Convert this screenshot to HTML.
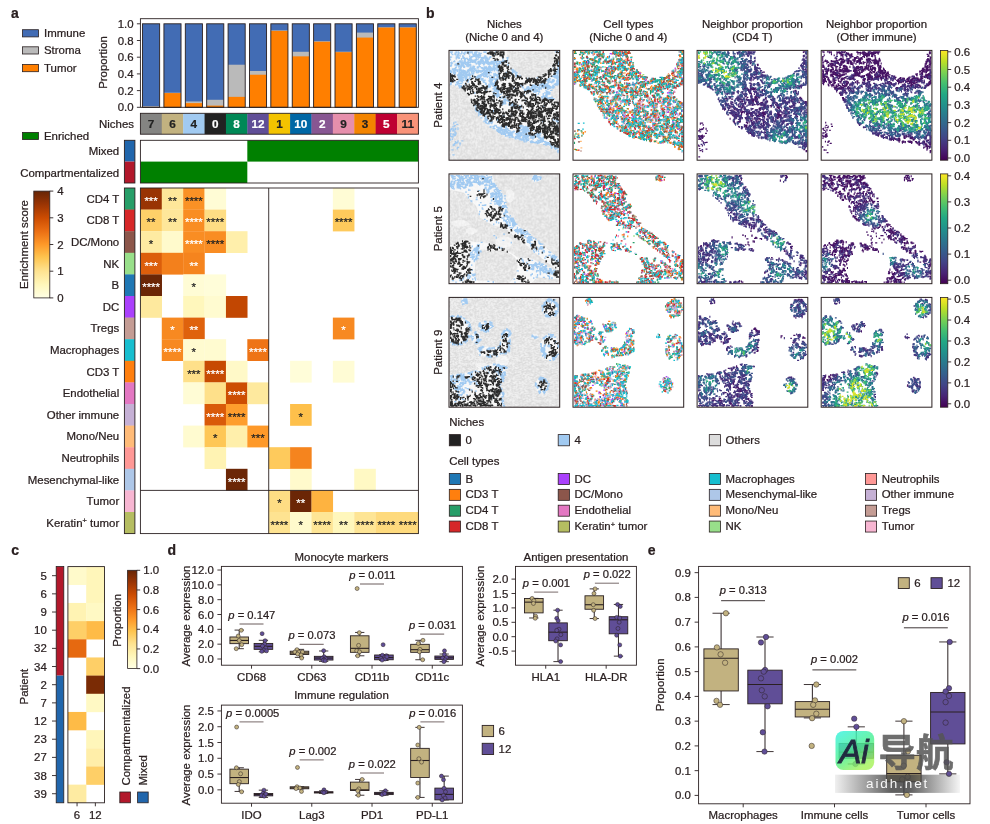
<!DOCTYPE html>
<html lang="en"><head><meta charset="utf-8"><title>Figure</title>
<style>html,body{margin:0;padding:0;background:#fff}svg{display:block}svg{font-family:"Liberation Sans",sans-serif;font-size:10.9px;fill:#2a2021}text{stroke:#2a2021;stroke-width:.22px}</style>
</head><body>
<svg width="990" height="824" viewBox="0 0 990 824">
<rect width="990" height="824" fill="#fff"/>
<g id="pa">
<text transform="translate(11,17.8)" font-size="14" font-weight="bold">a</text>
<rect x="22.5" y="29.7" width="16" height="7.2" fill="#426cb4" stroke="#2a2021" stroke-width="0.8"/>
<text transform="translate(44,37.1) scale(1.05,1)">Immune</text>
<rect x="22.5" y="46.8" width="16" height="7.2" fill="#bababa" stroke="#2a2021" stroke-width="0.8"/>
<text transform="translate(44,54.2) scale(1.05,1)">Stroma</text>
<rect x="22.5" y="64.5" width="16" height="7.2" fill="#ff7f00" stroke="#2a2021" stroke-width="0.8"/>
<text transform="translate(44,71.9) scale(1.05,1)">Tumor</text>
<rect x="22.5" y="132.4" width="16" height="7.2" fill="#008000" stroke="#2a2021" stroke-width="0.8"/>
<text transform="translate(44,139.8) scale(1.05,1)">Enriched</text>
<rect x="142.54" y="23.8" width="17.11" height="83.5" fill="#426cb4"/>
<rect x="142.54" y="106.05" width="17.11" height="1.25" fill="#bababa"/>
<rect x="142.54" y="23.8" width="17.11" height="83.5" fill="none" stroke="#2a2021" stroke-width="0.9"/>
<rect x="163.92" y="23.8" width="17.11" height="83.5" fill="#426cb4"/>
<rect x="163.92" y="92.69" width="17.11" height="14.61" fill="#bababa"/>
<rect x="163.92" y="93.1" width="17.11" height="14.2" fill="#ff7f00"/>
<rect x="163.92" y="23.8" width="17.11" height="83.5" fill="none" stroke="#2a2021" stroke-width="0.9"/>
<rect x="185.31" y="23.8" width="17.11" height="83.5" fill="#426cb4"/>
<rect x="185.31" y="101.45" width="17.11" height="5.84" fill="#bababa"/>
<rect x="185.31" y="103.12" width="17.11" height="4.17" fill="#ff7f00"/>
<rect x="185.31" y="23.8" width="17.11" height="83.5" fill="none" stroke="#2a2021" stroke-width="0.9"/>
<rect x="206.69" y="23.8" width="17.11" height="83.5" fill="#426cb4"/>
<rect x="206.69" y="99.78" width="17.11" height="7.52" fill="#bababa"/>
<rect x="206.69" y="105.63" width="17.11" height="1.67" fill="#ff7f00"/>
<rect x="206.69" y="23.8" width="17.11" height="83.5" fill="none" stroke="#2a2021" stroke-width="0.9"/>
<rect x="228.08" y="23.8" width="17.11" height="83.5" fill="#426cb4"/>
<rect x="228.08" y="64.72" width="17.11" height="42.58" fill="#bababa"/>
<rect x="228.08" y="96.86" width="17.11" height="10.44" fill="#ff7f00"/>
<rect x="228.08" y="23.8" width="17.11" height="83.5" fill="none" stroke="#2a2021" stroke-width="0.9"/>
<rect x="249.46" y="23.8" width="17.11" height="83.5" fill="#426cb4"/>
<rect x="249.46" y="70.98" width="17.11" height="36.32" fill="#bababa"/>
<rect x="249.46" y="74.73" width="17.11" height="32.56" fill="#ff7f00"/>
<rect x="249.46" y="23.8" width="17.11" height="83.5" fill="none" stroke="#2a2021" stroke-width="0.9"/>
<rect x="270.85" y="23.8" width="17.11" height="83.5" fill="#426cb4"/>
<rect x="270.85" y="30.4" width="17.11" height="76.9" fill="#bababa"/>
<rect x="270.85" y="30.9" width="17.11" height="76.4" fill="#ff7f00"/>
<rect x="270.85" y="23.8" width="17.11" height="83.5" fill="none" stroke="#2a2021" stroke-width="0.9"/>
<rect x="292.23" y="23.8" width="17.11" height="83.5" fill="#426cb4"/>
<rect x="292.23" y="51.77" width="17.11" height="55.53" fill="#bababa"/>
<rect x="292.23" y="56.36" width="17.11" height="50.94" fill="#ff7f00"/>
<rect x="292.23" y="23.8" width="17.11" height="83.5" fill="none" stroke="#2a2021" stroke-width="0.9"/>
<rect x="313.62" y="23.8" width="17.11" height="83.5" fill="#426cb4"/>
<rect x="313.62" y="41.25" width="17.11" height="66.05" fill="#bababa"/>
<rect x="313.62" y="41.75" width="17.11" height="65.55" fill="#ff7f00"/>
<rect x="313.62" y="23.8" width="17.11" height="83.5" fill="none" stroke="#2a2021" stroke-width="0.9"/>
<rect x="335" y="23.8" width="17.11" height="83.5" fill="#426cb4"/>
<rect x="335" y="51.69" width="17.11" height="55.61" fill="#bababa"/>
<rect x="335" y="52.19" width="17.11" height="55.11" fill="#ff7f00"/>
<rect x="335" y="23.8" width="17.11" height="83.5" fill="none" stroke="#2a2021" stroke-width="0.9"/>
<rect x="356.38" y="23.8" width="17.11" height="83.5" fill="#426cb4"/>
<rect x="356.38" y="32.57" width="17.11" height="74.73" fill="#bababa"/>
<rect x="356.38" y="37.58" width="17.11" height="69.72" fill="#ff7f00"/>
<rect x="356.38" y="23.8" width="17.11" height="83.5" fill="none" stroke="#2a2021" stroke-width="0.9"/>
<rect x="377.77" y="23.8" width="17.11" height="83.5" fill="#426cb4"/>
<rect x="377.77" y="27.31" width="17.11" height="79.99" fill="#bababa"/>
<rect x="377.77" y="27.56" width="17.11" height="79.74" fill="#ff7f00"/>
<rect x="377.77" y="23.8" width="17.11" height="83.5" fill="none" stroke="#2a2021" stroke-width="0.9"/>
<rect x="399.15" y="23.8" width="17.11" height="83.5" fill="#426cb4"/>
<rect x="399.15" y="27.31" width="17.11" height="79.99" fill="#bababa"/>
<rect x="399.15" y="27.56" width="17.11" height="79.74" fill="#ff7f00"/>
<rect x="399.15" y="23.8" width="17.11" height="83.5" fill="none" stroke="#2a2021" stroke-width="0.9"/>
<rect x="140.4" y="18.7" width="278" height="88.6" fill="none" stroke="#2a2021" stroke-width="0.9"/>
<line x1="136.9" y1="107.3" x2="140.4" y2="107.3" stroke="#2a2021" stroke-width="0.9"/>
<text transform="translate(133.6,111.3) scale(1.05,1)" text-anchor="end">0.0</text>
<line x1="136.9" y1="90.6" x2="140.4" y2="90.6" stroke="#2a2021" stroke-width="0.9"/>
<text transform="translate(133.6,94.6) scale(1.05,1)" text-anchor="end">0.2</text>
<line x1="136.9" y1="73.9" x2="140.4" y2="73.9" stroke="#2a2021" stroke-width="0.9"/>
<text transform="translate(133.6,77.9) scale(1.05,1)" text-anchor="end">0.4</text>
<line x1="136.9" y1="57.2" x2="140.4" y2="57.2" stroke="#2a2021" stroke-width="0.9"/>
<text transform="translate(133.6,61.2) scale(1.05,1)" text-anchor="end">0.6</text>
<line x1="136.9" y1="40.5" x2="140.4" y2="40.5" stroke="#2a2021" stroke-width="0.9"/>
<text transform="translate(133.6,44.5) scale(1.05,1)" text-anchor="end">0.8</text>
<line x1="136.9" y1="23.8" x2="140.4" y2="23.8" stroke="#2a2021" stroke-width="0.9"/>
<text transform="translate(133.6,27.8) scale(1.05,1)" text-anchor="end">1.0</text>
<text transform="translate(106.5,62.5) rotate(-90) scale(1.05,1)" text-anchor="middle">Proportion</text>
<rect x="140.4" y="113.3" width="21.68" height="20.9" fill="#848482"/>
<text transform="translate(151.09,127.85) scale(1.05,1)" text-anchor="middle" font-size="11.2" font-weight="bold" fill="#222222" style="stroke:#222222">7</text>
<rect x="161.78" y="113.3" width="21.68" height="20.9" fill="#c2b280"/>
<text transform="translate(172.48,127.85) scale(1.05,1)" text-anchor="middle" font-size="11.2" font-weight="bold" fill="#222222" style="stroke:#222222">6</text>
<rect x="183.17" y="113.3" width="21.68" height="20.9" fill="#a1caf1"/>
<text transform="translate(193.86,127.85) scale(1.05,1)" text-anchor="middle" font-size="11.2" font-weight="bold" fill="#222222" style="stroke:#222222">4</text>
<rect x="204.55" y="113.3" width="21.68" height="20.9" fill="#222222"/>
<text transform="translate(215.25,127.85) scale(1.05,1)" text-anchor="middle" font-size="11.2" font-weight="bold" fill="#ffffff" style="stroke:#ffffff">0</text>
<rect x="225.94" y="113.3" width="21.68" height="20.9" fill="#008856"/>
<text transform="translate(236.63,127.85) scale(1.05,1)" text-anchor="middle" font-size="11.2" font-weight="bold" fill="#ffffff" style="stroke:#ffffff">8</text>
<rect x="247.32" y="113.3" width="21.68" height="20.9" fill="#604e97"/>
<text transform="translate(258.02,127.85) scale(1.05,1)" text-anchor="middle" font-size="11.2" font-weight="bold" fill="#ffffff" style="stroke:#ffffff">12</text>
<rect x="268.71" y="113.3" width="21.68" height="20.9" fill="#f3c300"/>
<text transform="translate(279.4,127.85) scale(1.05,1)" text-anchor="middle" font-size="11.2" font-weight="bold" fill="#222222" style="stroke:#222222">1</text>
<rect x="290.09" y="113.3" width="21.68" height="20.9" fill="#0067a5"/>
<text transform="translate(300.78,127.85) scale(1.05,1)" text-anchor="middle" font-size="11.2" font-weight="bold" fill="#ffffff" style="stroke:#ffffff">10</text>
<rect x="311.48" y="113.3" width="21.68" height="20.9" fill="#875692"/>
<text transform="translate(322.17,127.85) scale(1.05,1)" text-anchor="middle" font-size="11.2" font-weight="bold" fill="#ffffff" style="stroke:#ffffff">2</text>
<rect x="332.86" y="113.3" width="21.68" height="20.9" fill="#e68fac"/>
<text transform="translate(343.55,127.85) scale(1.05,1)" text-anchor="middle" font-size="11.2" font-weight="bold" fill="#222222" style="stroke:#222222">9</text>
<rect x="354.25" y="113.3" width="21.68" height="20.9" fill="#f38400"/>
<text transform="translate(364.94,127.85) scale(1.05,1)" text-anchor="middle" font-size="11.2" font-weight="bold" fill="#222222" style="stroke:#222222">3</text>
<rect x="375.63" y="113.3" width="21.68" height="20.9" fill="#be0032"/>
<text transform="translate(386.32,127.85) scale(1.05,1)" text-anchor="middle" font-size="11.2" font-weight="bold" fill="#ffffff" style="stroke:#ffffff">5</text>
<rect x="397.02" y="113.3" width="21.68" height="20.9" fill="#f99379"/>
<text transform="translate(407.71,127.85) scale(1.05,1)" text-anchor="middle" font-size="11.2" font-weight="bold" fill="#222222" style="stroke:#222222">11</text>
<rect x="140.4" y="113.3" width="278" height="20.9" fill="none" stroke="#2a2021" stroke-width="0.9"/>
<text transform="translate(134,128.3) scale(1.05,1)" text-anchor="end">Niches</text>
<rect x="124.4" y="140.3" width="10.5" height="21.3" fill="#2166ac"/>
<rect x="124.4" y="161.6" width="10.5" height="21.4" fill="#b2182b"/>
<rect x="124.4" y="140.3" width="10.5" height="42.7" fill="none" stroke="#2a2021" stroke-width="0.9"/>
<rect x="247.32" y="140.3" width="171.08" height="21.3" fill="#008000"/>
<rect x="140.4" y="161.6" width="106.92" height="21.4" fill="#008000"/>
<rect x="140.4" y="140.3" width="278" height="42.7" fill="none" stroke="#2a2021" stroke-width="0.9"/>
<text transform="translate(119.2,155.2) scale(1.05,1)" text-anchor="end">Mixed</text>
<text transform="translate(119.2,176.7) scale(1.05,1)" text-anchor="end">Compartmentalized</text>
<rect x="124.4" y="188" width="10.5" height="21.9" fill="#279e68"/>
<text transform="translate(119.2,202.8) scale(1.05,1)" text-anchor="end">CD4 T</text>
<rect x="140.4" y="188" width="21.58" height="21.8" fill="#993404"/>
<rect x="161.78" y="188" width="21.58" height="21.8" fill="#fee79a"/>
<rect x="183.17" y="188" width="21.58" height="21.8" fill="#fa9125"/>
<rect x="204.55" y="188" width="21.58" height="21.8" fill="#fffcd5"/>
<rect x="332.86" y="188" width="21.58" height="21.8" fill="#fffcd5"/>
<rect x="124.4" y="209.6" width="10.5" height="21.9" fill="#d62728"/>
<text transform="translate(119.2,224.4) scale(1.05,1)" text-anchor="end">CD8 T</text>
<rect x="140.4" y="209.6" width="21.58" height="21.8" fill="#fed069"/>
<rect x="161.78" y="209.6" width="21.58" height="21.8" fill="#fee79a"/>
<rect x="183.17" y="209.6" width="21.58" height="21.8" fill="#f98d23"/>
<rect x="204.55" y="209.6" width="21.58" height="21.8" fill="#fedd84"/>
<rect x="332.86" y="209.6" width="21.58" height="21.8" fill="#feca5c"/>
<rect x="124.4" y="231.2" width="10.5" height="21.9" fill="#8c564b"/>
<text transform="translate(119.2,246) scale(1.05,1)" text-anchor="end">DC/Mono</text>
<rect x="140.4" y="231.2" width="21.58" height="21.8" fill="#feeba2"/>
<rect x="161.78" y="231.2" width="21.58" height="21.8" fill="#fffacc"/>
<rect x="183.17" y="231.2" width="21.58" height="21.8" fill="#f98d23"/>
<rect x="204.55" y="231.2" width="21.58" height="21.8" fill="#f98d23"/>
<rect x="225.94" y="231.2" width="21.58" height="21.8" fill="#ffefab"/>
<rect x="124.4" y="252.8" width="10.5" height="21.9" fill="#98df8a"/>
<text transform="translate(119.2,267.6) scale(1.05,1)" text-anchor="end">NK</text>
<rect x="140.4" y="252.8" width="21.58" height="21.8" fill="#dc5e0b"/>
<rect x="161.78" y="252.8" width="21.58" height="21.8" fill="#f3801c"/>
<rect x="183.17" y="252.8" width="21.58" height="21.8" fill="#f5841e"/>
<rect x="124.4" y="274.4" width="10.5" height="21.9" fill="#1f77b4"/>
<text transform="translate(119.2,289.2) scale(1.05,1)" text-anchor="end">B</text>
<rect x="140.4" y="274.4" width="21.58" height="21.8" fill="#6b2606"/>
<rect x="183.17" y="274.4" width="21.58" height="21.8" fill="#fffcd5"/>
<rect x="204.55" y="274.4" width="21.58" height="21.8" fill="#fffdd9"/>
<rect x="124.4" y="296" width="10.5" height="21.9" fill="#aa40fc"/>
<text transform="translate(119.2,310.8) scale(1.05,1)" text-anchor="end">DC</text>
<rect x="140.4" y="296" width="21.58" height="21.8" fill="#fee99e"/>
<rect x="183.17" y="296" width="21.58" height="21.8" fill="#fff7bc"/>
<rect x="204.55" y="296" width="21.58" height="21.8" fill="#fffbd0"/>
<rect x="225.94" y="296" width="21.58" height="21.8" fill="#c24702"/>
<rect x="124.4" y="317.6" width="10.5" height="21.9" fill="#c49c94"/>
<text transform="translate(119.2,332.4) scale(1.05,1)" text-anchor="end">Tregs</text>
<rect x="161.78" y="317.6" width="21.58" height="21.8" fill="#f78921"/>
<rect x="183.17" y="317.6" width="21.58" height="21.8" fill="#df620d"/>
<rect x="332.86" y="317.6" width="21.58" height="21.8" fill="#f78921"/>
<rect x="124.4" y="339.2" width="10.5" height="21.9" fill="#17becf"/>
<text transform="translate(119.2,354) scale(1.05,1)" text-anchor="end">Macrophages</text>
<rect x="161.78" y="339.2" width="21.58" height="21.8" fill="#f78921"/>
<rect x="183.17" y="339.2" width="21.58" height="21.8" fill="#fffbd0"/>
<rect x="204.55" y="339.2" width="21.58" height="21.8" fill="#fffbd0"/>
<rect x="247.32" y="339.2" width="21.58" height="21.8" fill="#ee7416"/>
<rect x="124.4" y="360.8" width="10.5" height="21.9" fill="#ff7f0e"/>
<text transform="translate(119.2,375.6) scale(1.05,1)" text-anchor="end">CD3 T</text>
<rect x="183.17" y="360.8" width="21.58" height="21.8" fill="#fee08a"/>
<rect x="204.55" y="360.8" width="21.58" height="21.8" fill="#c74a02"/>
<rect x="225.94" y="360.8" width="21.58" height="21.8" fill="#fff9c8"/>
<rect x="290.09" y="360.8" width="21.58" height="21.8" fill="#fffdd9"/>
<rect x="332.86" y="360.8" width="21.58" height="21.8" fill="#fffcd5"/>
<rect x="124.4" y="382.4" width="10.5" height="21.9" fill="#e377c2"/>
<text transform="translate(119.2,397.2) scale(1.05,1)" text-anchor="end">Endothelial</text>
<rect x="183.17" y="382.4" width="21.58" height="21.8" fill="#fffcd5"/>
<rect x="204.55" y="382.4" width="21.58" height="21.8" fill="#fee08a"/>
<rect x="225.94" y="382.4" width="21.58" height="21.8" fill="#cd4d03"/>
<rect x="247.32" y="382.4" width="21.58" height="21.8" fill="#fee99e"/>
<rect x="124.4" y="404" width="10.5" height="21.9" fill="#c5b0d5"/>
<text transform="translate(119.2,418.8) scale(1.05,1)" text-anchor="end">Other immune</text>
<rect x="204.55" y="404" width="21.58" height="21.8" fill="#d95a09"/>
<rect x="225.94" y="404" width="21.58" height="21.8" fill="#fe9d2d"/>
<rect x="290.09" y="404" width="21.58" height="21.8" fill="#fec04b"/>
<rect x="124.4" y="425.6" width="10.5" height="21.9" fill="#ffbb78"/>
<text transform="translate(119.2,440.4) scale(1.05,1)" text-anchor="end">Mono/Neu</text>
<rect x="183.17" y="425.6" width="21.58" height="21.8" fill="#fffbd0"/>
<rect x="204.55" y="425.6" width="21.58" height="21.8" fill="#fec756"/>
<rect x="225.94" y="425.6" width="21.58" height="21.8" fill="#ffefab"/>
<rect x="247.32" y="425.6" width="21.58" height="21.8" fill="#fe9929"/>
<rect x="124.4" y="447.2" width="10.5" height="21.9" fill="#ff9896"/>
<text transform="translate(119.2,462) scale(1.05,1)" text-anchor="end">Neutrophils</text>
<rect x="204.55" y="447.2" width="21.58" height="21.8" fill="#fff3b3"/>
<rect x="268.71" y="447.2" width="21.58" height="21.8" fill="#feca5c"/>
<rect x="290.09" y="447.2" width="21.58" height="21.8" fill="#f5841e"/>
<rect x="124.4" y="468.8" width="10.5" height="21.9" fill="#aec7e8"/>
<text transform="translate(119.2,483.6) scale(1.05,1)" text-anchor="end">Mesenchymal-like</text>
<rect x="225.94" y="468.8" width="21.58" height="21.8" fill="#6b2606"/>
<rect x="290.09" y="468.8" width="21.58" height="21.8" fill="#fffacc"/>
<rect x="354.25" y="468.8" width="21.58" height="21.8" fill="#fff9c4"/>
<rect x="124.4" y="490.4" width="10.5" height="21.9" fill="#f7b6d2"/>
<text transform="translate(119.2,505.2) scale(1.05,1)" text-anchor="end">Tumor</text>
<rect x="268.71" y="490.4" width="21.58" height="21.8" fill="#fedd84"/>
<rect x="290.09" y="490.4" width="21.58" height="21.8" fill="#6b2606"/>
<rect x="311.48" y="490.4" width="21.58" height="21.8" fill="#feb340"/>
<rect x="124.4" y="512" width="10.5" height="21.9" fill="#b5bd61"/>
<text transform="translate(119.2,526.8) scale(1.05,1)" text-anchor="end">Keratin<tspan dy="-3.5" font-size="7">+</tspan><tspan dy="3.5"> tumor</tspan></text>
<rect x="268.71" y="512" width="21.58" height="21.8" fill="#fee391"/>
<rect x="290.09" y="512" width="21.58" height="21.8" fill="#fffacc"/>
<rect x="311.48" y="512" width="21.58" height="21.8" fill="#fee595"/>
<rect x="332.86" y="512" width="21.58" height="21.8" fill="#fff7bc"/>
<rect x="354.25" y="512" width="21.58" height="21.8" fill="#fee595"/>
<rect x="375.63" y="512" width="21.58" height="21.8" fill="#feda7d"/>
<rect x="397.02" y="512" width="21.58" height="21.8" fill="#feda7d"/>
<g font-size="11" text-anchor="middle">
<text x="151.09" y="204.7" style="fill:#fff;stroke:#fff" textLength="13.35" lengthAdjust="spacingAndGlyphs">***</text>
<text x="172.48" y="204.7" style="fill:#222;stroke:#222" textLength="8.9" lengthAdjust="spacingAndGlyphs">**</text>
<text x="193.86" y="204.7" style="fill:#222;stroke:#222" textLength="17.8" lengthAdjust="spacingAndGlyphs">****</text>
<text x="151.09" y="226.3" style="fill:#222;stroke:#222" textLength="8.9" lengthAdjust="spacingAndGlyphs">**</text>
<text x="172.48" y="226.3" style="fill:#222;stroke:#222" textLength="8.9" lengthAdjust="spacingAndGlyphs">**</text>
<text x="193.86" y="226.3" style="fill:#fff;stroke:#fff" textLength="17.8" lengthAdjust="spacingAndGlyphs">****</text>
<text x="215.25" y="226.3" style="fill:#222;stroke:#222" textLength="17.8" lengthAdjust="spacingAndGlyphs">****</text>
<text x="343.55" y="226.3" style="fill:#222;stroke:#222" textLength="17.8" lengthAdjust="spacingAndGlyphs">****</text>
<text x="151.09" y="247.9" style="fill:#222;stroke:#222" textLength="4.45" lengthAdjust="spacingAndGlyphs">*</text>
<text x="193.86" y="247.9" style="fill:#fff;stroke:#fff" textLength="17.8" lengthAdjust="spacingAndGlyphs">****</text>
<text x="215.25" y="247.9" style="fill:#222;stroke:#222" textLength="17.8" lengthAdjust="spacingAndGlyphs">****</text>
<text x="151.09" y="269.5" style="fill:#fff;stroke:#fff" textLength="13.35" lengthAdjust="spacingAndGlyphs">***</text>
<text x="193.86" y="269.5" style="fill:#fff;stroke:#fff" textLength="8.9" lengthAdjust="spacingAndGlyphs">**</text>
<text x="151.09" y="291.1" style="fill:#fff;stroke:#fff" textLength="17.8" lengthAdjust="spacingAndGlyphs">****</text>
<text x="193.86" y="291.1" style="fill:#222;stroke:#222" textLength="4.45" lengthAdjust="spacingAndGlyphs">*</text>
<text x="172.48" y="334.3" style="fill:#fff;stroke:#fff" textLength="4.45" lengthAdjust="spacingAndGlyphs">*</text>
<text x="193.86" y="334.3" style="fill:#fff;stroke:#fff" textLength="8.9" lengthAdjust="spacingAndGlyphs">**</text>
<text x="343.55" y="334.3" style="fill:#fff;stroke:#fff" textLength="4.45" lengthAdjust="spacingAndGlyphs">*</text>
<text x="172.48" y="355.9" style="fill:#fff;stroke:#fff" textLength="17.8" lengthAdjust="spacingAndGlyphs">****</text>
<text x="193.86" y="355.9" style="fill:#222;stroke:#222" textLength="4.45" lengthAdjust="spacingAndGlyphs">*</text>
<text x="258.02" y="355.9" style="fill:#fff;stroke:#fff" textLength="17.8" lengthAdjust="spacingAndGlyphs">****</text>
<text x="193.86" y="377.5" style="fill:#222;stroke:#222" textLength="13.35" lengthAdjust="spacingAndGlyphs">***</text>
<text x="215.25" y="377.5" style="fill:#fff;stroke:#fff" textLength="17.8" lengthAdjust="spacingAndGlyphs">****</text>
<text x="236.63" y="399.1" style="fill:#fff;stroke:#fff" textLength="17.8" lengthAdjust="spacingAndGlyphs">****</text>
<text x="215.25" y="420.7" style="fill:#fff;stroke:#fff" textLength="17.8" lengthAdjust="spacingAndGlyphs">****</text>
<text x="236.63" y="420.7" style="fill:#222;stroke:#222" textLength="17.8" lengthAdjust="spacingAndGlyphs">****</text>
<text x="300.78" y="420.7" style="fill:#222;stroke:#222" textLength="4.45" lengthAdjust="spacingAndGlyphs">*</text>
<text x="215.25" y="442.3" style="fill:#222;stroke:#222" textLength="4.45" lengthAdjust="spacingAndGlyphs">*</text>
<text x="258.02" y="442.3" style="fill:#222;stroke:#222" textLength="13.35" lengthAdjust="spacingAndGlyphs">***</text>
<text x="236.63" y="485.5" style="fill:#fff;stroke:#fff" textLength="17.8" lengthAdjust="spacingAndGlyphs">****</text>
<text x="279.4" y="507.1" style="fill:#222;stroke:#222" textLength="4.45" lengthAdjust="spacingAndGlyphs">*</text>
<text x="300.78" y="507.1" style="fill:#fff;stroke:#fff" textLength="8.9" lengthAdjust="spacingAndGlyphs">**</text>
<text x="279.4" y="528.7" style="fill:#222;stroke:#222" textLength="17.8" lengthAdjust="spacingAndGlyphs">****</text>
<text x="300.78" y="528.7" style="fill:#222;stroke:#222" textLength="4.45" lengthAdjust="spacingAndGlyphs">*</text>
<text x="322.17" y="528.7" style="fill:#222;stroke:#222" textLength="17.8" lengthAdjust="spacingAndGlyphs">****</text>
<text x="343.55" y="528.7" style="fill:#222;stroke:#222" textLength="8.9" lengthAdjust="spacingAndGlyphs">**</text>
<text x="364.94" y="528.7" style="fill:#222;stroke:#222" textLength="17.8" lengthAdjust="spacingAndGlyphs">****</text>
<text x="386.32" y="528.7" style="fill:#222;stroke:#222" textLength="17.8" lengthAdjust="spacingAndGlyphs">****</text>
<text x="407.71" y="528.7" style="fill:#222;stroke:#222" textLength="17.8" lengthAdjust="spacingAndGlyphs">****</text>
</g>
<rect x="124.4" y="188" width="10.5" height="345.6" fill="none" stroke="#2a2021" stroke-width="0.9"/>
<rect x="140.4" y="188" width="278" height="345.6" fill="none" stroke="#2a2021" stroke-width="0.9"/>
<line x1="268.71" y1="188" x2="268.71" y2="533.6" stroke="#2a2021" stroke-width="0.9"/>
<line x1="140.4" y1="490.4" x2="418.4" y2="490.4" stroke="#2a2021" stroke-width="0.9"/>
<defs><linearGradient id="gy" x1="0" y1="1" x2="0" y2="0"><stop offset="0" stop-color="#ffffe5"/><stop offset="0.12" stop-color="#fff7bc"/><stop offset="0.25" stop-color="#fee391"/><stop offset="0.38" stop-color="#fec44f"/><stop offset="0.5" stop-color="#fe9929"/><stop offset="0.62" stop-color="#ec7014"/><stop offset="0.75" stop-color="#cc4c02"/><stop offset="0.88" stop-color="#993404"/><stop offset="1" stop-color="#662506"/></linearGradient></defs>
<rect x="33.8" y="191.1" width="16" height="106.8" fill="url(#gy)" stroke="#2a2021" stroke-width="0.8"/>
<line x1="49.8" y1="297.9" x2="53.3" y2="297.9" stroke="#2a2021" stroke-width="0.9"/>
<text transform="translate(57.2,301.9) scale(1.05,1)">0</text>
<line x1="49.8" y1="271.2" x2="53.3" y2="271.2" stroke="#2a2021" stroke-width="0.9"/>
<text transform="translate(57.2,275.2) scale(1.05,1)">1</text>
<line x1="49.8" y1="244.5" x2="53.3" y2="244.5" stroke="#2a2021" stroke-width="0.9"/>
<text transform="translate(57.2,248.5) scale(1.05,1)">2</text>
<line x1="49.8" y1="217.8" x2="53.3" y2="217.8" stroke="#2a2021" stroke-width="0.9"/>
<text transform="translate(57.2,221.8) scale(1.05,1)">3</text>
<line x1="49.8" y1="191.1" x2="53.3" y2="191.1" stroke="#2a2021" stroke-width="0.9"/>
<text transform="translate(57.2,195.1) scale(1.05,1)">4</text>
<text transform="translate(27.5,244.5) rotate(-90) scale(1.05,1)" text-anchor="middle">Enrichment score</text>
</g>
<g id="pb">
<text transform="translate(426,17.6)" font-size="14" font-weight="bold">b</text>
<text transform="translate(504.35,27.7) scale(1.05,1)" text-anchor="middle">Niches</text>
<text transform="translate(504.35,41.1) scale(1.05,1)" text-anchor="middle">(Niche 0 and 4)</text>
<text transform="translate(628.35,27.7) scale(1.05,1)" text-anchor="middle">Cell types</text>
<text transform="translate(628.35,41.1) scale(1.05,1)" text-anchor="middle">(Niche 0 and 4)</text>
<text transform="translate(752.45,27.7) scale(1.05,1)" text-anchor="middle">Neighbor proportion</text>
<text transform="translate(752.45,41.1) scale(1.05,1)" text-anchor="middle">(CD4 T)</text>
<text transform="translate(876.55,27.7) scale(1.05,1)" text-anchor="middle">Neighbor proportion</text>
<text transform="translate(876.55,41.1) scale(1.05,1)" text-anchor="middle">(Other immune)</text>
<defs><pattern id="gp" width="36.9" height="36.9" patternUnits="userSpaceOnUse"><rect width="36.9" height="36.9" fill="#f1f1f1"/><path d="M3.2 6.7zM8.7 30.5zM29.6 19.9zM21.5 25.4zM3.5 23.2zM16 11.8zM17.7 27.2zM5.9 14.7zM27.1 34zM4.2 16.9zM14.4 7.2zM19.1 17.2zM15.9 14.5zM21.7 35.1zM27.2 11.4zM35.3 32.8zM10.5 0.9zM23.9 5zM25.7 10.9zM10.8 27.3zM0.1 22.2zM35.9 15.4zM11 15.3zM11.6 31zM32.9 8zM21.6 29.1zM17.4 13.8zM28.5 25.6zM1.1 30.1zM26.1 15.8zM13.8 7.2zM3.4 8.9zM24.4 9.1zM34.4 3.5zM7.6 15.8zM23.3 23.8zM11 14.3zM27.4 35.3zM26.6 34.7zM8.1 28.7zM30.6 29.3zM24.3 11.6zM25.2 28zM30.3 1.9zM15.8 0.7zM28 2.5zM32.4 11.7zM3.8 26.8zM31.4 1.2zM14.5 14.1zM17.7 22zM5.4 31.2zM25.8 20.8zM10.8 9.1zM32.1 3.2zM10.2 18.7zM20.7 29.8zM14.7 30.7zM22.6 22.9zM7.3 6.6zM6.7 2.8zM27.6 1.8zM27.8 10zM20.9 19.7zM34 5.5zM7.6 22.9zM31.4 11.6zM6.2 29.1zM35.6 19.6zM23 28.3zM22.4 9.5zM35.8 21zM29 32.7zM29.1 0.6zM2 34.4zM13.6 21.8zM3.1 36.8zM7.1 10.5zM7.9 18.1zM31.7 25.2zM4.7 21.9zM11 22.9zM18.2 31.9zM31.3 6zM35.6 26.5zM26.1 16.4zM7.9 33.7zM20.1 35zM26 16.4zM1.9 13.2zM25.1 33.2zM13.6 34.7zM21.8 28.5zM24.7 33.4zM24.7 35zM19.3 17.9zM20.5 13.3zM7.3 2.1zM18.3 16.2zM4.6 8zM17.7 26.8zM19.8 22.6zM28.6 34.5zM14.5 25.4zM0.7 9.3zM19.5 13.8zM7.6 18.5zM27.4 19.8zM14.3 34.7zM14 23.3zM33.6 12zM14.5 10.2zM12.9 21.2zM12.8 3.1zM17.7 16.9zM3.4 33.1zM20.2 33.9zM34 20.7zM20.8 20.1zM27.5 12.2zM34.9 21.7zM31.1 16.9zM27.5 23.9zM30 35.2zM30.3 27.9zM9.4 5.1zM17.8 6.4zM12.6 25.5zM9.7 36zM21.1 22.1zM11.7 30.9zM22.8 10.3zM21.5 9zM3.9 36.3zM16.3 32.4zM14.4 16.6zM26.1 30.1zM3.3 23.7zM6.2 28.8zM18.9 21.7zM14.9 25.2zM24.6 34.8zM12.3 15.9zM7.3 27.2zM34.4 35.4zM9 1.5zM5.4 9.3zM10.3 13.2zM12.5 21.2zM8.3 16.8zM19.8 34.8zM34.6 7zM4.7 11.3zM15.3 2.8zM24.7 6.6zM32.6 22zM36.9 1.9zM5.3 34.7zM19.8 28zM32.5 3.2zM2 29.1zM21.7 4.5zM6.4 19.1zM28.3 7.9zM34.6 6.4zM19.9 19.7zM0.3 32.6zM2.4 3.1zM15.3 7.7zM31.3 17.9zM8.7 35.3zM24.7 13.4zM15 32.1zM9.8 20zM26 16.7zM11.4 28.2zM13.7 7.2zM28.2 19.4zM18.3 1.3zM28.9 19.3zM19.1 36.8zM5.9 2.6zM16.4 3.7zM32.2 21.1zM20.8 34.4zM35.6 20.5zM0 35.5zM12.6 11.8zM28.4 36.6zM25.3 7.8zM20.7 28.5zM24.5 12.4zM32.3 30.8zM25.2 1.3zM20.2 11.5zM20.8 34.1zM24.6 28.5zM12 17.9zM24.7 13.9zM22.7 34.8zM29 7.2zM17.7 7.1zM1 2.3zM19.8 24.7zM31.6 33.7zM23.6 4.8zM23.7 28.2zM14.4 28.3zM13.2 7.5zM26.5 19.2zM2.9 21.1zM32 2.1zM32.3 34.9zM35.5 4.9zM5 5.5zM4.3 25.9zM33 18.5zM14.8 29zM10 23.8zM14.1 3.5zM24.3 16.7zM6 36.1zM18 11.3zM24.4 6.8zM26.6 32.7zM0.5 3.1zM29.9 15.1zM16 36.7zM16.1 31.8zM20.8 4.9zM10.3 3.2zM32.7 17.8zM7.8 25.3zM20 29.9zM6.2 7.3zM22.7 15.7zM33.3 16.7zM32.6 11.2zM5 25.1zM23.1 19.9zM32.9 15.3zM7.4 28.5zM15.3 11zM26.3 22.2zM27.2 28.8zM16.6 12.5zM23.6 1.2zM24.7 0.1zM13 29.1zM24.1 30zM21.3 26.3zM25.7 0.9zM18.9 9.5zM12.4 35zM16 20.6zM34 15.9zM6.9 35.8zM5.5 35.7zM0.4 9.2zM31.4 26.6zM36.5 30.1zM8.7 31.4zM9.8 33.7zM7.3 27.7zM22.1 2.5zM17.9 11.3zM30.3 7.4zM7.7 23.5zM32.4 20.1zM17.1 35.9zM29.8 8.8zM29.6 4.6zM33.6 1.1zM18.4 7.4zM22.5 33zM20.7 22.7zM7 9.1zM18.5 21.3zM34.2 23.9zM33.5 12.3zM0.8 0.7zM24.5 25.9zM12.1 21.4zM5 3zM5.1 18.5zM29.3 5.3zM35.4 15.3zM19.2 27.1zM14.2 22.3zM18.8 12.2zM30.6 28.3zM27.6 9.3zM2.4 24zM7.8 10.8zM32 23.3zM18.2 21.2zM24.3 22.2zM28.7 31.2zM23.5 30zM27.1 36.2zM20.1 8.3zM8.5 36.3zM6.9 24.7zM36.7 5.5zM0.4 0.1zM25.5 8.8zM32.5 16.7zM8.5 23.5zM1.8 32.8zM14.7 30.9zM12.2 34zM17 32.2zM15.8 32.1zM34.8 36.3zM4.4 27.7zM34.8 5.7zM1.7 21.2zM34.6 16.5zM12.3 25.1zM26.8 10.6zM0.1 34.1zM16.5 10.5zM25 16.9zM23.2 6.3zM29.8 33.9zM5.7 33.1zM14.8 35.1zM22.6 8.1zM1.1 12.3zM30.8 33.7zM15.4 32.5zM9.1 4.2zM8.2 17.2zM24 2.1zM1.8 30.6zM9 31zM11.2 34.7zM9.5 30zM27 15.6zM21.9 13.9zM33.4 24.3zM25.9 15.6zM10.9 35.4zM12 17.2zM4.5 16.9zM8.9 36zM22.3 9.6zM27 12.1zM10.9 2.8zM12.7 34.2zM29.6 19.3zM35.4 16.4zM3.1 32.9zM2.6 33.6zM28 7.7zM18.3 4.6zM15.7 32.5zM23.4 35.3zM28.1 20zM2.6 26.9zM35.5 0.7zM35.4 18.1zM15.4 3zM17.3 4.9zM10 2zM21.7 19.8zM7.6 21.2zM19.7 15.8zM33.4 26.4zM18.7 3.1zM30.5 8.6zM6.6 6.5zM32.6 18.7zM4.5 29.2zM7.9 6.6zM26.6 33.2zM11.1 12.9zM4.4 7.3zM3.2 9.4zM29.3 28.3zM0.7 0.3zM2.1 15.8zM34.9 10.7zM28.9 19.6zM13.7 14.5zM7.1 3.4zM32 5.6zM29.1 35.5zM24.7 20.8zM19.6 33.9zM19.4 35.2zM36.1 22.2zM19.3 33.7zM3.1 15.5zM2.8 11zM22 29.9zM27 12.1zM23.2 9.8zM27.4 17.6zM10.9 15zM13.7 35.4zM9.8 33.2zM13.7 26.7zM9.8 33zM30.8 9.3zM5.5 9.7zM7.7 12.7zM26.3 22zM14.7 0.9zM12.6 3.7zM36 9.3zM33 3.6zM8.1 9.3zM5.7 3.8zM18.2 11zM21.2 16.1zM12.8 20.1zM21.8 29.7zM25 10.7zM30.1 14.2zM8.9 32zM23.8 0.7zM2.1 19zM2.4 4.4zM2 0.5zM4.3 32.7zM28.8 24.6zM13.7 17.2zM18.2 29.9zM16.6 35.3zM7.6 21.4zM1.7 16.8zM6.7 0zM31.7 35zM12.5 28.7zM15.5 3.9zM9.8 16.5zM27.4 9.1zM25.9 35zM14.2 11.2zM18.7 5.3zM14.6 33.2zM21.2 11.2zM21.9 4.8zM21.3 2.3zM33.3 6zM35.1 16zM1.9 9.3zM14 24.9zM1.5 32.8zM13.8 5.4zM29.6 1.4zM25.1 28zM20.9 24.5zM3.2 32zM29.9 4.4zM22.6 25.8zM11.2 10.4zM29 6.8zM1.4 14zM6.9 31.3zM29.1 30.2zM1.7 31zM4.9 9.1zM18.5 16.7zM26.2 6.5zM21.7 8.2zM1.4 31.1zM10.1 3.9zM26.1 33.9zM12.9 35.6zM7.2 16.2zM0.1 22.1zM9.7 35.6zM34.3 26.6zM1.8 29.1zM20.4 27.4zM33.6 2.1zM25.9 28.9zM10.4 25.8zM23.9 12.5zM4.4 1.6zM18.4 13zM9.7 20.4zM32.3 13.3zM32 21.5zM28.1 14.7zM13.9 25.7zM29.4 34.5zM36.2 0.6zM13.6 22.8zM19.4 29.9zM6 0.9zM4 16.9zM26.6 29.8zM2.2 25.2zM22.2 14.1zM4.2 12.6zM24.7 1.2zM27.8 18.5zM34.7 30.3zM14.4 30.4zM14.4 26.3zM14.7 18.3zM26 9.1zM29.1 10.4zM4.3 6.4zM12 12.2zM2 0.2zM8.7 16.7zM27.1 28.9zM34.6 12.2zM36.2 31.5zM2.5 20.6zM14.8 28.9zM32.2 36.7zM18.6 3.9zM12.9 15zM28.9 6.1zM31.9 5zM5.4 26.4zM19.1 0.2zM5.4 21.9zM6.6 33.8zM19.6 15.5zM9.3 25.3zM29.7 4.9zM13.5 27.8zM6.7 28.6zM23.2 21.6zM9.7 33.8zM2.4 20.3zM36.9 22zM6.8 0.6zM4.8 30.3zM17.7 12.7zM0.1 25.6zM29.1 18.2zM2.8 5.7zM1.5 17.7zM35.6 34.4zM19.1 24.1zM34.3 4.2zM33.1 19.9zM27.1 33.3zM1.1 1zM23.8 0.1zM2.4 30.2zM0.4 21.9zM31.2 27.7zM11.3 11.9zM27.6 20.8zM19.6 5.5zM28.9 4.3zM23.6 20.4zM35.9 31.4zM17.5 20zM31.5 0.6zM30.3 0.1zM21.6 28.1zM18.7 13.5zM15.9 7.3zM23.8 9.5zM7.2 34zM16.2 17.7zM23.9 5.1zM11.3 6.7zM8 2.3zM3.9 34.9zM29.7 16.8zM32.3 16.6zM30.8 2.2zM26.1 10.2zM22.3 29.9zM2.1 31.1zM32.5 16.5zM17.5 10.3zM25.3 35.3zM4.5 11.9zM27.5 10.1zM5.4 5.3zM35.4 18.1zM26.2 31zM19.6 19.2zM24.1 30.3zM8.5 12zM18.4 25.3zM3.2 6.5zM10.3 16.9zM10.5 11.4zM6.1 11.1zM15.4 28zM2.3 8zM1 18.6zM12.3 13.4zM36.6 32.7zM26.8 8.5zM15.8 12.8zM7.4 26.2zM4.5 10.9zM15.4 27zM24.1 36.2zM30.5 13.4zM17.1 19.8zM31.4 0.8zM29.9 29.6zM31.4 13.8zM12.2 22.5zM17.2 7.6zM5.9 24.7zM21.6 18.4zM1.6 36.6zM17.3 35zM6 21zM17.6 6.3zM6.7 10.6zM0.1 20zM15.6 29.6zM15.8 32.9zM20 32.4zM4.6 28.7zM18.4 16.8zM11.1 21.1zM3 9.5zM15.1 20.6zM24.6 13.8zM11.2 20.4zM26.3 1.3zM29.1 3.4zM0.5 24.2zM8 15.8zM10.5 8.2zM21.9 35.7zM18 0.7zM21 34.6zM2.7 31.1zM10.6 0zM5.9 32.3zM27.5 26.5zM25.2 8.1zM11.3 25.3zM32.3 34.6zM5 2.4zM0.7 11zM13.8 4.7zM24.7 32.1zM34.9 4.7zM18.8 3.8zM5 3.5zM22 30.9zM0.6 7.3zM30.2 35.7zM11.9 1.3zM3.8 16.9zM5.5 4.8zM30.6 6.7zM33.4 6.7zM6.8 20.7zM36.8 8.1zM31.7 12.6zM12.2 31.8zM1.9 22.3zM5.6 0.2zM16.1 9.8zM7.6 22.5zM6.7 11.6zM10.1 3.4zM32.4 3.8zM1.3 13.1zM34 22.9zM16.6 17.4zM27.2 8.7zM18.9 5.6zM34.9 11.2zM6.7 32.5zM9.4 2.9zM18.8 2.7zM18.7 3.2zM12.2 20.5zM11.3 1zM3.3 11.3zM18.5 11.2zM30.6 15.6zM32 16zM15.3 31zM36.1 11.1zM35.7 6zM11.8 29zM4.3 8.2zM30.8 5.2zM34.7 0.7zM24 35.3zM35.6 24.5zM17.6 23.2zM19.3 3.3zM2.7 30.8zM13.7 2.3zM34.1 25.6zM3.8 30.7zM5.1 17.1zM1.2 7zM18.3 36zM22.3 1.6zM19.6 10zM32.4 22.7zM25.1 23.3zM23.5 7zM22.2 9.9zM18.7 14.9zM2.8 36.1zM3.6 36.6zM23.8 3.7zM7.8 31.5zM15.3 14.7zM23.9 9.2zM22.1 16.1zM9 2zM9.9 26.8zM5.2 25.8zM24.4 9.2zM26.6 1.2zM4.9 27.4zM10 36.1zM5.5 4.8zM22.6 36.3zM10.9 20.5zM32.1 8.6zM9.8 28.2zM23.8 28.3zM23.5 13.1zM34.8 21.1zM26.7 8zM34.4 21.7zM21.6 7.3zM0.1 13.4zM12 29.2zM27.3 29.3zM12.6 24.5zM24.3 33.5zM4.3 28.7zM23.9 22.2zM14.2 24.7zM34.9 4.9zM2.6 1.6zM13.3 9zM28.3 28.1zM14.5 36.4zM17.1 8zM12.3 36.1zM3.6 30.3zM11.8 6zM32.3 19.9zM28.3 9.7zM11.4 27.6zM24.7 13.1zM29.3 14.6zM29.4 21zM2 10.9zM6.1 29.2zM35.3 22.5zM10.3 2zM28.7 20.9zM23.3 16.2zM32.2 34.3zM2.9 35.2zM34.5 2.2zM32.3 28.3zM8.8 22.9zM26.2 18.5zM0.2 4.1zM31.9 33zM15.3 23.8zM27.3 23.2zM29.3 35.5zM1 4.4zM32.5 14.2zM3.9 1.2zM5.7 10.4zM16.8 36.8zM9.4 14.1zM23.9 30.5zM7 31.8zM23 19.9zM28.1 30.7zM35.6 7.9zM14.7 2.8zM10.6 7.6zM21.3 3.6zM24 3.6zM34.1 1.7zM21.6 2.6zM16.2 4.1zM11 20.2zM26.8 11.1zM23.5 36.6zM2.6 23.2zM11 34.6zM6.2 27zM18.3 33.1zM14.1 34.8zM5.9 14.4zM19.6 8.6zM24.3 3zM12.6 35.6zM30.8 8.8zM3.7 36.2zM2.1 26.9zM26.1 30zM20.8 1.3zM27.7 33.7zM34.5 3.1zM18.9 29.8zM30.1 1.3zM23.9 35.1zM19 2.1zM18.6 5.9zM36.6 16.7zM12.8 6.4zM15.7 4.1zM17.5 13.4zM23.6 2.1zM2.3 21.4zM24 27.2zM1.4 18.4zM14 20.9zM16.3 9.1zM20.9 17.4zM21.1 23.1zM22.3 34.5zM0.9 19.3zM12.1 36.3zM27.2 14.7zM15.4 22.3zM30.5 27zM20.1 3.8zM21 30.7zM25 30.7zM36.3 4.3zM0.1 24.3zM4.4 15.3zM3.3 6.7zM7.6 8zM0.8 5.1zM36.4 34.3zM5.5 30.4zM17.5 27.2zM32.5 6.7zM17.5 27.1zM9.1 9.8zM10.8 18.8zM15.6 0.8zM11.3 33.7zM17.4 12.7zM15.2 25.6zM3 4.4zM32.3 7.2zM35.8 28zM20.8 25.9zM3.5 22.4zM33.5 14.5zM13.4 23.5zM14.1 33.5zM9.4 30.4zM34.3 29.2zM25.5 16.5zM11.1 16.6zM13.6 33.2zM15.6 10.2zM14 19.7zM24.8 8zM35 16.5zM1.6 8.7zM31.3 32.5zM31.3 33.4zM8.1 13.3zM36.1 29.2zM32.3 29.5zM26.7 32.4zM3.9 27.2zM16.5 8.2zM27.9 23.5zM20.4 9.8zM2.2 17.6zM28.2 2.1zM15.1 0.7zM8.1 33.7zM12.8 17zM3.8 18.2zM13.3 23.4zM0.6 1.2zM36.8 24zM5 26.7zM12.5 2.2zM11.1 30.1zM17 18.8zM12.5 19zM32.7 11.5zM6.9 2.1zM36.8 7.6zM14.5 7.2zM36.3 29.2zM12.4 23zM3 34.9zM30.8 6.9zM5.8 29zM27.4 24.9zM32.5 17zM8 26.5zM11.7 6.3zM20.8 27.2zM32.1 9.9zM31.6 19.7zM18 24.5zM20.9 8.3zM29.6 35.7zM5.7 4.4zM34.4 33.1zM31.9 35.8zM8.6 29.9zM23.2 16.6zM27 29.1zM23.9 23.3zM2.7 36.4zM2.3 25.8zM8.2 4.5zM3.9 20.1zM17.9 2.9zM27.2 19.3zM21.3 4.3zM33.4 17.9zM18.1 29.3zM16.6 1zM4.7 12.9zM35.2 2.3zM24.8 11.7zM36.2 13.9zM34.5 0.5zM3.1 11.7zM22.3 24.9zM18 17.1zM27.8 4.5zM1.6 15zM24.3 0.7zM22.5 5.3zM13.8 15.8zM4.6 5.9zM25.3 20.3zM1.8 4.5zM12.5 28.5zM1 30.8zM11.3 30.6zM9.2 28zM22.8 22.2zM25.2 32zM26.1 4.4zM15.1 1.7zM27.8 12.4zM24.4 35.9zM19.7 17.2zM28.7 20.6zM35.9 9.6zM17.7 20.5zM35.5 28.2zM23 20.9zM14.3 1.5zM17.6 13.2zM24.2 14.6zM11.6 4.4zM34.1 1.4zM14.2 26zM23.1 0.5zM31.7 10.6zM30.6 22.6zM24.8 29.1zM26.3 9.9zM27.9 2.7zM21.7 34zM16 24.8zM33.2 28.1zM5.9 24.9zM4.7 25.9zM11.5 2.7zM8.7 4.7zM35.9 32.8zM19.6 11zM32.6 22.7zM20.4 26.2zM8 19.1zM32.3 2.3zM32.5 21.3zM4.6 17.3zM28.3 10.9zM21 16.6zM6.6 21.1zM12.4 1.4zM27.1 14.2zM6.9 7.5zM22.4 18.5zM19.7 6.5zM19.6 15.9z" stroke="#d9d9d9" stroke-width="1.05" stroke-linecap="round" fill="none"/></pattern></defs>
<rect x="449" y="50.4" width="110.7" height="109.8" fill="url(#gp)"/>
<rect x="449" y="173.9" width="110.7" height="109.8" fill="url(#gp)"/>
<rect x="449" y="297.4" width="110.7" height="109.8" fill="url(#gp)"/>
<g fill="#fff" opacity=".55">
<ellipse cx="460.07" cy="223.31" rx="8.86" ry="3.29"/>
<ellipse cx="471.14" cy="231" rx="5.54" ry="3.29"/>
<ellipse cx="509.88" cy="195.86" rx="4.43" ry="6.59"/>
<ellipse cx="502.14" cy="361.08" rx="6.64" ry="5.49"/>
<ellipse cx="482.21" cy="365.48" rx="5.54" ry="3.29"/>
<ellipse cx="504.35" cy="241.98" rx="8.86" ry="5.49"/>
<ellipse cx="498.81" cy="99.81" rx="3.32" ry="2.2"/>
</g>
<clipPath id="cp0"><rect x="449" y="50.4" width="110.7" height="109.8"/></clipPath>
<g clip-path="url(#cp0)">
<polygon points="443.46,44.91 565.24,44.91 565.24,155.81 546.75,144.83 520.62,140.44 503.24,134.95 491.07,127.26 482.76,121.22 476.68,111.89 472.25,104.2 467.82,94.32 462.28,87.73 443.46,82.24" fill="#fff" opacity=".7"/>
<ellipse cx="531.03" cy="54.24" rx="23.8" ry="23.61" fill="url(#gp)"/>
<ellipse cx="561.91" cy="92.67" rx="11.07" ry="9.33" fill="url(#gp)"/>
</g>
<clipPath id="cp1"><rect x="449" y="173.9" width="110.7" height="109.8"/></clipPath>
<g clip-path="url(#cp1)">
<polygon points="443.46,168.41 489.96,168.41 495.49,184.88 504.35,195.86 507.67,212.33 515.42,223.31 506.56,228.8 493.28,225.51 480,217.82 476.68,206.84 463.39,192.57 443.46,188.17" fill="#fff" opacity=".7"/>
<polyline points="504.35,220.02 517.63,232.09 532.02,243.07 546.42,255.15 561.91,267.23" fill="none" stroke="#fff" stroke-width="10.52" stroke-linecap="round" stroke-linejoin="round" opacity=".7"/>
<ellipse cx="536.45" cy="178.29" rx="4.98" ry="3.84" fill="#fff" opacity=".7"/>
<polygon points="443.46,248.56 457.86,241.98 467.82,239.78 476.68,243.07 481.1,250.76 475.57,261.74 474.46,274.92 482.21,289.19 443.46,289.19" fill="#fff" opacity=".7"/>
<polyline points="476.68,245.27 487.75,246.37 502.14,251.86 513.21,258.45 518.74,267.23" fill="none" stroke="#fff" stroke-width="7.2" stroke-linecap="round" stroke-linejoin="round" opacity=".7"/>
<polygon points="515.42,257.35 532.02,258.45 548.63,267.23 565.24,276.01 565.24,280.41 537.56,277.11 528.7,285.9 506.56,285.9 515.42,276.01 518.74,267.23" fill="#fff" opacity=".7"/>
<polyline points="460.07,282.05 493.28,282.6" fill="none" stroke="#fff" stroke-width="3.87" stroke-linecap="round" stroke-linejoin="round" opacity=".7"/>
<ellipse cx="496.6" cy="265.03" rx="21.03" ry="14.82" fill="url(#gp)"/>
</g>
<clipPath id="cp2"><rect x="449" y="297.4" width="110.7" height="109.8"/></clipPath>
<g clip-path="url(#cp2)">
<ellipse cx="464.5" cy="300.69" rx="3.32" ry="3.84" fill="#fff" opacity=".7"/>
<ellipse cx="550.29" cy="308.38" rx="8.3" ry="9.33" fill="#fff" opacity=".7"/>
<ellipse cx="455.64" cy="330.34" rx="14.94" ry="14.82" fill="#fff" opacity=".7"/>
<ellipse cx="485.53" cy="326.5" rx="6.64" ry="5.49" fill="#fff" opacity=".7"/>
<ellipse cx="476.12" cy="337.48" rx="4.43" ry="6.04" fill="#fff" opacity=".7"/>
<polyline points="482.21,351.2 495.49,352.3 504.35,349.01 506.56,333.63" fill="none" stroke="#fff" stroke-width="9.41" stroke-linecap="round" stroke-linejoin="round" opacity=".7"/>
<ellipse cx="534.79" cy="336.38" rx="3.32" ry="2.2" fill="#fff" opacity=".7"/>
<ellipse cx="549.74" cy="347.36" rx="9.41" ry="13.18" fill="#fff" opacity=".7"/>
<polygon points="443.46,376.46 471.14,372.06 493.28,363.28 506.56,366.57 501.03,385.24 505.46,412.69 443.46,412.69" fill="#fff" opacity=".7"/>
<ellipse cx="541.99" cy="385.24" rx="6.64" ry="7.69" fill="#fff" opacity=".7"/>
</g>
<clipPath id="cq00"><rect x="449.5" y="50.9" width="109.7" height="108.8"/></clipPath>
<clipPath id="cq10"><rect x="573.5" y="50.9" width="109.7" height="108.8"/></clipPath>
<clipPath id="cq20"><rect x="697.6" y="50.9" width="109.7" height="108.8"/></clipPath>
<clipPath id="cq30"><rect x="821.7" y="50.9" width="109.7" height="108.8"/></clipPath>
<clipPath id="cq01"><rect x="449.5" y="174.4" width="109.7" height="108.8"/></clipPath>
<clipPath id="cq11"><rect x="573.5" y="174.4" width="109.7" height="108.8"/></clipPath>
<clipPath id="cq21"><rect x="697.6" y="174.4" width="109.7" height="108.8"/></clipPath>
<clipPath id="cq31"><rect x="821.7" y="174.4" width="109.7" height="108.8"/></clipPath>
<clipPath id="cq02"><rect x="449.5" y="297.9" width="109.7" height="108.8"/></clipPath>
<clipPath id="cq12"><rect x="573.5" y="297.9" width="109.7" height="108.8"/></clipPath>
<clipPath id="cq22"><rect x="697.6" y="297.9" width="109.7" height="108.8"/></clipPath>
<clipPath id="cq32"><rect x="821.7" y="297.9" width="109.7" height="108.8"/></clipPath>
<g id="dots" fill="none" stroke-linecap="square" stroke-linejoin="miter" stroke-width="4.48">
<g clip-path="url(#cq00)"><g id="d1" transform="translate(449,50.4) scale(0.25)">
<path stroke="#a1caf1" stroke-width="5.2" d="M6 6v2m4 0v4m1-6h2m-1 0v4m16-4v3m3-3v4m7-4v2m13-2v2m0-2v2m1-2v4m0-4v3m13-3v4m7-3v4m0-5v3m1-3v2m0-2v4m3-4h4m-3 2h4m-1-2h3m2 0v4m1-4h4m1 0v2m1-2v3m0-3v3m1-2v4m11-4v3m1-2h4m-1-2h4m-3 2h2m9 0v3m20-5v2m4-2h4m-4 2h2m2-2v2m14-2h2m22 0h4m236 0h2m0 0h2m0 0h2m1 0h3m-2 0h3m-3 0v3m2-3h4m-4 0h2m-2 0h3m-3 0h4m-4 0h2m-256 8v2m-30-3h3m-30-1h4m-5 2v3m-1-4v4m-1-2h2m-2 0v4m-4-3v4m0-3v4m-1-4v3m-1-4v4m-7-7v3m-1-6v4m-1-4v2m-1 4v3m-2-2h3m-3-3h3m-3 3h3m-5-7v3m-1 4v3m-5-4h3m-19-2v2m-8-6h3m-12 2v3m-2-3v3m0-2v4m0-7v4m-3-2h4m-16 2h4m-11-5v4m-2 4h2m-2-7h4m-4 7v2m-1-3h2m-12-1v3m0-5v2m-2-2v3m0-5h2m-13 6h2m-9 9v3m23-3v4m3-12h4m-4 3h2m-2 5v3m3-4v4m0-8v4m2-1v3m0-8v2m7 0v2m11-1v4m2-3v4m26-5v3m7 0h2m4-2v2m1-1h2m-2-3h4m-1 3h2m-2-5h4m-3 3h2m-2-1v3m3-1h4m0 1v4m0-10h3m1 5h2m-2-2h4m-3-2v4m1-3v2m0-1v3m0-3h3m-2 1h3m-1 4h2m-2-6h4m-2 6v4m1-11h3m-2 1h2m1 6v2m2-9v3m17 2v2m0-4h3m-3 0h4m20 3v3m67 5v3m0-1v4m-1-5h2m-3-5h4m-20 1v3m-53-6v3m-1-2h4m-9 7h4m-6-4v2m-1 1h2m-4 0h4m-7-5v3m-1-5h3m-4 4v4m-1-5h3m-7-2h4m-5-1v3m-1 2v2m0-2v2m-4-2v2m0-6v4m-3-3h2m-3 5h4m-6-5v4m-16-6h3m-5 8h4m-7-4v4m-22-6h2m-2-1h4m-5 4v2m0-2v3m-1-1h3m-5 1v2m0-6h3m-4 3h4m-17-2h4m-10 1h3m-4-3v3m-5-1h2m-3-3v2m0-3h4m-10 5v3m-9-7v3m-4-3v2m-8 0v2m0-3v4m-23-7h4m-4 9v2m16 4v3m21-3h4m2 0h4m8-1h2m-1-5h3m-3 3v2m0-3h2m-2 4h3m9-5h2m1 6v3m1-7h4m-4-3v4m1-2h2m-1-1h4m-1 2v3m0-1h2m2-5h3m-1 6v2m1-2v2m0-4v4m2-5h4m-4 2h3m-2 0h2m-1 1h4m-3 2v4m0-9v3m7-3v4m3-5v4m0-2h3m-2-3v3m1-1v4m1-6h3m5 7h3m-3 0v4m2-4h4m-2-1v3m2-3v2m4-2h4m-3-7v4m1 3h4m-3-5h4m-2 6h2m0-3h4m9 3v3m0-7h3m-3 2h2m-1 0v4m2-2h3m-2 0h2m1 0h2m-2-3h2m-1-4v2m2 0v3m0-4v3m14 3h2m8-4v2m1-1h2m0 2v4m1-4v3m4-2v4m2-4h4m-1-5v3m1 2h4m-3 0h2m7 0v4m3-4h4m5-5v4m1-3v4m4-2v3m1-3h4m-3-1h4m209 6h2m-2 3v3m0-1v4m0-7v4m0-7v3m0 4h2m-2-2v3m0-8v4m0-2v4m0-4h4m-5-1v2m-3 0v4m-202-7h3m-8 2h3m-5-3h3m-9 0v3m-7 2h4m-5-5v4m-3 1v3m-2-6v3m0-5v2m-2-1h3m-4-1v4m0-2h4m-6 6h2m-5-1h3m-7-1h2m-4-3v4m-6-6h3m-4 7v4m-7-12v2m0 3h4m-5 3h4m-6-8h4m-4 6v3m-1-6v3m-2-1v2m-1-4h4m-5-2v2m0 3v4m-2-3v2m-1-6v2m-5 3v2m0-7v3m-2 0v2m-1-8v3m-3-3v3m-1 4h2m-4-3v3m-2-5v2m-3-3h3m-8 5h3m-5-5h2m-4 4h2m-4 2h4m-5-6h3m-9-1h2m-2 6h2m-4-1h2m-4-3v2m-1-3v3m-1 1v2m0-5v2m0 0v3m-1 0v4m-4-4h4m-4 1v2m-1-6h3m-10 2v4m-1-4h4m-7-4v2m-1-2v2m-1-4h4m-8 0v2m-8-1h2m-3-1h3m-7 2h4m-5-1h2m-5 3h3m-7 2v3m-3-8h2m-2 2v4m-1-2h3m-4 0v3m0 0v2m-1-7h4m-10-1v4m-1 0v4m0-7h4m-5-3v4m0-1h2m-3-1v2m-1-1v2m0 3h2m-2-6h4m-5 0v2m-1 0h2m-3-2h4m-6 0h4m-6 1v4m-1-4h3m-5 5h4m-7-4v3m-2-4h4m-4 0v2m-1-5h2m-11 2h4m-7 3h4m-19-5h4m-12 6v3m0-7v3m0-2v3m-1 0h4m-8-1h3m-3 10v3m0-2h2m-1-2h2m-1 1v4m0-4h2m14-2h3m-2-3v4m3-1h2m0-4h2m-2 6v2m5-1h3m-1-6v4m0 0v2m3-4h3m-2 0v3m7 1h3m-2 1h3m-3-8h3m-2 3v4m2-2v4m1-9h4m-3 1h3m-3 1h2m0 2v3m2 0h2m-2-1v3m9-8v2m2-3h4m-2 6v3m0-8h3m-2-1v4m1-1v2m4-1h4m-3 4h2m-2-2h2m-2 2h4m-3-6h2m-1 3v4m0-4h2m-1-3h2m0 2h4m-1-2v3m35-4v4m2-4h3m12-1v4m2-4h2m-2 0v4m16-2h2m0-1h2m0-1v4m2-3h4m12 0v4m2 2v2m4-1h4m-4-1h3m-1 0h4m-3 1h2m2-5h2m-1 4h2m-2-6v2m5-3v4m39-2v4m1-4v3m199-2v4m0-3v4m0 0v3m0 4v3m0-9v3m0-1h3m-3 5v2m0-3h2m-18 1v3m-226-4h4m-5-3v2m0-5v3m0 1h3m-4-3h2m-8 7v4m-1-5h4m-6 1h3m-3-1v4m-2-8v3m-1-3v3m-1 1v4m-1-6h3m-4-3v3m-4 3v3m-9-6h4m-5 2v3m0-10v2m0-1v4m-1-3h3m-4 3v4m-2-2v2m0-7v2m-1 4h2m-6 0v4m-3-6v3m-1-3v2m0-1v3m-1-6v3m-1-3v3m-1-4h3m-4 1v4m-2-3h3m-6-2v4m-9 1h4m-6-2v2m-1-2h4m-11-4h3m-5-2h2m-7 4h3m-3 3h3m-4-4v3m-1-2v4m-13-5h2m-2 2v2m-1-6v4m-1-4h4m-5 6h2m-2-7v4m-1-3v2m-1 2v4m0-5v3m0-1v4m-4-2h3m-6-7v4m-1-1v4m-5 0h4m-10-8v2m-17 0h4m-4 3h3m-7-5h3m-11 4h2m-3 2h2m-2-5v4m0 2v2m0-4v4m0-2h3m-5-7h2m-2 3h3m-5-2h4m-7 1v2m-13 2v4m0-5h3m-23 12h2m6-6v2m2 3v4m1-9v2m0 1v4m1-7h2m2-1h2m-1 2v3m2-5h2m0 5h2m3 0h3m-1 2v4m7-7v2m0-5h2m0 1v4m3-1h4m-4-2v3m10 1v3m0-3v2m1-3v2m17-2v2m5-2v4m0-6h2m-1 3h4m-2-2v2m2-4v3m1-3h3m1 0h2m-1-2v2m1 1h3m-1 3v4m1-10v4m1-4v2m3 4v4m1-12h2m0 4v2m2-4h3m0 6h2m2-1h2m6 0v3m15-2h3m-1-7h4m-2-1h3m-3 0v2m1 3h2m-2-2h2m-2 3v3m0-2h3m-2-4h3m-3 3h2m4 2v4m1-11h2m2 4v4m1-9v2m1-2v3m3 3h2m1-3v3m1-6v2m1 2h2m-1-4v2m1 2h4m-3 3h3m-3-6h4m-3 0v2m1 0h2m-1-1h3m-2-1v2m2-3h2m1 6v3m0-3v2m1-5v4m1-5h4m-3 0h3m-2 0v2m1-2v4m1-5h2m1 0h2m-1 5v4m1-10v2m0 3v4m2-7h3m3 5h3m-1 1h4m-1-8v2m3 3v4m13-3h2m35 0h2m2 0v2m1-4h2m-1 4h4m177-1h3m-3-5h3m-3 7h3m-3 2h2m-2 3v3m0 0v3m-3-3v3m-1-7h2m-5-1h2m-4 3v4m-1-2v3m-2-6v2m0-2v4m-1-3v2m-155-1h2m-2 1h4m-10-6h3m-4 1v3m-3 0h2m-4-5h3m-4 0h4m-6 5v4m-24-3v4m-36-10h3m-31-1h3m-3 8h4m-6-5v4m-2-4h4m-4-1v2m-2 0v3m-5-1h4m-5-5v2m-1 0h2m-2-2h2m-3 3h4m-4 1v4m0-9h2m-3 8h4m-4-4v2m-2-5v4m-2 3v2m-1-8v4m-1-6v4m-2 4v3m0-5v4m-1-9h2m-4 6h3m-11-4h3m-6-2h4m-6 5h3m-6-5h4m-6-1h3m-3 3v2m-2-2v2m-2 0h3m-3 0v3m-1-6h4m-5 0h3m-4 0v2m-1 1v4m-1-3h3m-5-2v4m0-4h2m-2-1v3m-7-3v2m-6 1v2m-3-8v2m-3 4v3m0-7v3m-1-3h4m-4-2v3m-1-2v4m0-5h4m-8 0h2m-6 6v4m-6-5h4m-4-5h4m-6 1v3m0-1h2m-5 3h4m-5 1h4m-6 1h4m-9-8v2m0-2h2m-2 4h4m-4-2v2m-1-2v2m-2 1v2m-1-2h3m-3 1v2m-1-4v3m-2 1h4m-6-3h4m-5-4v3m-1 2h2m-4 2v4m-1-7v2m-4 0v3m0-10h3m-5 0h4m-5 5v4m-1-3v4m-7-10h2m-10 2h2m-3 6h2m-5-7v4m-1-1v2m0-1v3m-3 0h2m-12-4v2m-1 0h4m-4-2h4m-4-4v3m0-1v2m0 6h2m11-1v3m3 2h2m1-5v3m9 5v2m5-6h2m-2 3h2m1-6v3m3 3v4m1-8h3m-2-2v4m2 0h4m-4-2v4m1-3v2m3 0h4m-3 1h3m-2 1h4m-2-6h4m-3 1h3m2-3v4m2-3h3m-2 4v4m1-4h3m-3-2v3m2-6v2m0 1h2m-1 5h2m-1 0h2m-1-3v3m3-3v2m3 1v3m1-4v2m1-5h4m-3 4h4m-3 0h4m6-5h3m-3 5h4m-3-5v3m4-4h2m28 5h2m1 1h3m-1-5h4m-4 2h4m-1 0v4m1-6h4m-3-3v2m1 1v4m0-2h2m-1-4h3m-2 6v3m1-7h4m-4 0v2m0-2v2m1-2v3m5 1h2m-1-2h2m-1 2h3m-2-3h4m-4-2h2m-2 2h2m-1-4h4m-4 4h4m-1-1h4m-4-3h4m3 1v3m18 0h4m-3 3v4m3-7v4m1-1h4m-3-5v2m1 2h2m0 0v3m1-3v3m5-1v2m2-3h4m-3-7h3m-2 0v2m1 1v3m53-4h2m1 2v2m10-5h2m0 1v2m0 1h3m-2 3h4m150-3v4m2-1v3m0-5v4m1-8h2m5-2h3m-1 0h2m-2 5h2m0-4h3m-3 1v4m0-2v4m0-8h4m-4 1v3m0-4v3m0 8v4m0-1v4m-1-4h2m-2 3h2m-4-4v3m0-2h2m-4-3v2m-2-1h3m-6 0h3m-4 3h2m-2 0v3m0-3h2m-2-6h3m-4 2h3m-4 3v2m0 1v2m-1-7v4m-3 0h2m-5-4h2m-2 3h4m-11 0h2m-129-3h3m-4 0v4m-13-4v3m-1-4h2m-75-1h4m-5 2h4m-4 0v3m0-1v3m-4-5h4m-12-1h2m-2 5v4m-1-10h4m-9 6h2m-4-1v3m-3-2v2m-5-8h2m-11 3h3m-6 1v3m0-2v3m-3-5h2m-3-4v2m-1 1v2m-1 0h2m-3-5v3m-5 3h4m-6-3v3m-8-6v2m-3 0h4m-5 1h2m-4 4h3m-6-2h3m-4-5h3m-3 1v3m-1-3v3m0-2v3m-1 2v4m0-4h3m-5-5h2m-2 3v3m-2-4v4m-3-1h3m-7 0v4m-3-5v3m-6-5h2m-17-4v4m-2-3v3m0-3v2m-10 1v4m-1-8h2m-3 5v2m0-6v2m-2 3h3m-5 2h3m-3 0v4m-2-8v3m-1 0h4m-7-5h4m-4-1h4m-6 0h4m-7 7h4m-5-7h4m-4 7h4m-7-6v3m-1-1h2m-3-4h2m-2 7v3m-1-6h3m-4 0v3m-2-7h4m-8 8v4m0-6h4m-5 2h2m-2 0v4m0-12v2m-3 4v3m0-7v3m-28-5v2m28 7h4m-2 0h4m-4 1v3m2-2h2m-2 6h3m-2-7h3m-2 2v3m1-4v2m0 4v3m1-6v4m2-6v2m1-1h2m-2 1v3m2-2h4m-3-3v2m1-1v2m3-6h3m-2 6h2m7-5h3m-3 0v4m1-4h2m-2-1v2m0-2v3m1-2v2m0 5v3m1-3h2m-2-3v2m1-7v3m3 2v2m8-2h3m-1-3v3m3 0v2m0-3h4m-3-3v2m4 0v3m1-3v3m17-2v4m2-6h2m0 1v2m0-2v2m2-2h3m-3-2v2m2-3h3m-1 1h2m3 1h3m-2-2h2m2 7v4m3-5v4m1-5h4m26-5v2m2 2v2m0 2h2m-1-5v2m5-5v4m0 0h3m-2 1v3m2-4v2m1-2v4m1 0v2m1-4h4m5 2h4m-2-2v2m5-3v4m1-6v3m6-6v4m2-2h3m12-1v4m6-2h4m90 1v3m36-5h3m44 1v2m1-1v2m2-1h3m20-3h2m2-2v2m1-2h3m-3 1h3m-2 0v4m0-4h2m-1 0h4m-3 0v2m1 0v2m1-1v2m0-5h4m-3 6v4m0-9v4m0-4h3m-3-1v4m0-4h4m-4 4v2m0-7v3m0 1v3m0 8v2m0-4v4m0-8h3m-3 0v4m0 1v4m0-4h3m-3-2v3m-2-5v3m-3 1v3m-14-4h4m-5 2h3m-3-6h3m-4 8h3m-3-2v4m0-4h2m-2 1h4m-5-5v4m0-2v3m-1-5h4m-4 0h3m-3 1h2m-7 5v3m-5-10v3m-3-3h2m-4 0v4m-1-3v4m-3-5v4m-1-1h3m-7 0h3m-201-4h4m-8 6v2m-1-5v3m0-1h4m-18-4v4m-2 0h3m-4-3h2m-4-1v3m-1 3h3m-4-6v4m-2 0h4m-5-3h2m-3 2h2m-3 1h4m-20-3v2m-3 0h3m-7-1h2m-2 0h2m-3 3h3m-3-1h2m-6-4h3m-57 1v4m-5-5v4m-18-2h4m-5 4v3m-1-7h2m-4-3v4m0-4v3m0 0h4m-5-1h3m-5 2h4m-6-3h4m-7 0v2m-2 1v2m-4 0v3m-2-1v3m-16-3h2m-10-1v3m-5 4h2m-2 3v3m0-4h3m-1-6v2m0-3h3m-2 5v4m21-7h2m0 0v2m1 4v3m2-8h2m-1-1v3m2 1h4m2 1h4m0-7h2m-2 7h3m24-6h2m61 1h4m4 5v2m0-5v4m3-2v4m13-10h2m2 2h2m-2-2v4m1-2v4m1-3h2m0 1h4m-4-4v2m0-2v2m1 6v4m2-5v3m1-4h2m1 2h3m-2 0h4m0-3h4m-3-5h3m-1 1v4m1-5v2m1-2v3m184 4v4m3-6v2m3 1h3m-3-2h4m-3 0h2m2 2v3m4-3h4m1 0v2m5-8v4m2-6v3m4-2h3m6 0v3m16 2h4m1-5v3m0 2h3m-3 0v2m1-6v3m3 1h2m-2 0h4m-4-3v2m0-5h4m-4 8h4m-4-1v4m0-4h2m-6 2v4m-1-4h4m-8 0h2m-2 1v3m-5-3h4m-4 2h3m-4-3h2m-6 7v2m-1-4v2m-1 1v4m-13-5v2m-6-4h4m-5-1h2m-6-2h3m-4 5h4m-6-1h2m-3 2h3m-4-2v3m-1-9h3m-6 1v4m-2-5v3m-3 5v4m0-12h2m-2 2v2m0 1v4m-1-5v2m-1 1h3m-7 0v2m-1-2h4m-7-7v4m-5 0v4m-3-4h2m-4-1h2m-8 5h3m-5 0v2m-1-10h2m-2 7v4m0-4v2m-6-1v3m-1-8h3m-4 1v4m0-3h2m-7 2h2m-2-1v4m-1-6v2m-1-1v2m-39 1v4m-1-6v2m-1-1h4m-5-5v4m-3-4v2m-1 0h4m-108-4h2m-2 0v4m-1-2v3m-3-2h2m-2 4h3m-4-3v4m-1-7v4m-1 2v2m0-8h3m-10 0h4m-9 6v4m0-3h2m-4-8h4m-5 7h4m-5-7v4m-1 4h4m-4-5v4m-1 0v4m-6-3v2m-88-9v2m-15 3v4m-6-3h2m-4-2v3m-2-5v4m-12-6v3m15 7v4m2-5h3m-2 1h3m1 1v2m1-4h2m100 2v4m0-6v2m1-3v2m1 1v2m6-2h2m2-2v2m17 0h4m-4-1v3m4-3v4m0 0v4m2-9h2m-2 3v4m74-5v3m35 0h2m12 2v3m2-8v2m1-1h2m-2 4v4m3-7v4m1-8v3m2 4h2m-1-5v2m2 3v4m6-6v3m2-9v2m0 4v4m0-4v2m2-2v4m1-7v4m1-5h3m-2 1v4m7-2v2m1 0v3m2-10h4m-2 3h4m-3 2h4m-3-2h3m-2-2h3m4 4v2m0-2h3m-3 1v3m1-2h4m-4 1h4m-2-4v2m1 1v3m0-9v2m3 3v2m1-2h4m0 1v4m0-7v2m2-5h2m2-1v4m1-4h4m-3 2v4m0-5v3m2-3h4m-2 2v4m1-4v2m2-5v2m0 1v3m2-2h4m-2-2v3m4-1v2m3-4h4m-3 0v2m1-2v3m1-4h2m-1-1h4m-2 6v2m0-2h3m0 0v2m1-4v3m3-6v3m1 2h4m3 0h3m-2-4h4m-4-1v3m0-4v4m0-1v4m2-6h2m-14 15h4m-16-5h4m-4 0v2m-7 2v2m-24-7h2m-5 1v3m-10 0h4m-5 1h2m-3 1h3m-3 1h4m-5-1v2m-1-9v4m-2 2h4m-5-3h4m-5 3h2m-2 2v2m-1-2v4m-1-6h3m-3 1h4m-5-6h4m-4 5h2m-4-3h4m-5-2v2m-1 5h2m-2-8h4m-5 5v2m-2-4v2m-1 0v2m-7-6v4m0-5v4m-4 1v3m-3-3h4m-5-2v3m-2-4v2m-2 1v4m-7-3v4m-1-5v3m-1-6v3m-1 0v2m-1-4v2m-104 1v4m-2-2h4m-6-1v3m-2-10h4m-4 2v3m-1 3h2m-3 0v4m0-7h3m-5-2v4m0-4v2m0 2v3m-2-7v4m0-2v4m-1-1h2m-2-5v4m0-4h2m-2 5h4m-6-5v4m-2-3v2m-3-6h2m-4 1h4m-32 7v2m-1-4h2m-46 11v2m73-6h2m1 2v4m1-6h4m0-3h3m-2 1h4m-2-2h4m2 2v2m0 3h4m-4-7v2m0 0h4m16 5h4m-1 0h2m96-6h3m-2 5v3m1-6h4m2-3v4m16-2v2m5-1v2m1-1h3m1-3v4m3-4h3m-1 1h2m-2-2v2m5 0h4m-2 3h3m20 3h3m4-4v3m0-5h2m-1 1h2m-1 2h2m-1 2h2m-1 0v2m0-3h3m-1 1v4m0-7h3m-2 1h4m-4 0v3m0 0v2m3-4h4m-1 5v2m-3-1h4m-6-2v3m-7 3h3m-3-5v2m-2 0v3m-1 0v3m-1-2h3m-13-6v4m-19-4v2m-10 4v3m-1-6h3m-48 2v3m-98-5h4m-11-2v3m-1-4h2m-2 5v4m-5-7h3m-3 2v4m-2-4v2m-5-1v2m0-1h2m-5-2v3m0-2h3m-3-3h2m-2 2h4m-5-3h2m-3-3v4m0-3v2m3 6v3m9 1h3m-1 1v3m2-5v3m2-6h3m-3 4h4m-2 0h2m11 3v4m2-5h4m4 0h4m8-5v2m1 0v2m136 0h3m-2 3h2m1-3h2m-1-1v3m1-5v3m2-3v2m1 1h4m-4-2h2m2 5v4m0-4h2m0-6h2m-1 1h4m0 5v3m2-3v2m17-3h3m6 7h2m-4-1v4m-2-4h3m-4-1v3m-1-2h2m-2-3v3m-2 1v2m0-1v4m-1-3h2m-5-3v2m-1-2v4m-2-5h4m-4 4v2m0-6h2m-3-3h4m-6 3h3m-4-3h2m-4 5h3m-11 1v2m-2-4h4m-4-1v3m-13-6v4m-41 0v2m-109 0h3m-7 2h4m-4-3h3m-4 1v4m0-4h3m-19-1h2m-31 4h4m35 8v4m5-7v2m1-1h2m-1-5h2m-2 4h4m-4 2v4m2-10h4m-2 4v3m1-7h2m4 3h4m-3-2v2m3-2h2m0 4h3m64-4h3m-2-1v4m130 8v3m-179 0v3m-2-4h2m-4-6v4m-1 3v4m-10-7v3m-3 1v4m-15-6h3m-4-5v4m0-4h3m-5 6h4m-5-6v2m-1-3v2m-2 1v3m0 0h2m-3-5h4m-4 3h4m-6-1h3m-3 0h2m-2 1h2m-2 4h2m-118 6h4m2 1h4m13-6v2m91 0h2m34 1v3m7 1v2m1-7h3m2 4v2m2-6h2m0 1h2m-1 0v4m0-6h2m-2 4v3m17-3h2m0 3h3m90-1v2m-89 2v2m-6 3h2m-3-1h4m-11-5v4m-166 1h3m-3 1v3m-3-5h3m-3 6v4m1-4v2m1 2v2m2-3v4m0-5h2m-1 4v3m6-3h2m2 0h2m-1-3h3m-1 2v2m51-3v2m3-1v4m108 1v4m-158 1h3m-5-1h2m-4-7h2m-3 3h2m-5 5v2m-1-7h4m-5 3h4m-4-4v3m-2-4h2m1 11h3m-3 2v4m3-9h4m-1 2h2m-1 2v2m1-2h2m5-2v2m0 0h2m113-1h2m0 4v3m3-7h3m176 10v4m-1-4h4m-219-4h4m-73 2v3m0 0v3m-1-3v2m-4-4v2m-15 4h3m13 3v2m3-2v2m3 1v3m4-6v3m12-2h3m0-1v4m24-5v2m1 3v3m1-5v3m225-4v3m1-5h2m8 6h4m-2-1v3m1-4v3m2 0v4m0-3h2m-2 6v4m0-3v3m-4-11v4m0 1h3m-3-2v2m0 1h2m-3 0h3m-4-2h3m-4-4v3m-12-3h3m-45 3v3m-205 1h4m-6-3h3m-5-2v4m0 1v4m-2-6h2m-3-2h3m-6 2h3m-3 1h2m-3-1h4m-5 3h3m-12-7h4m-6 5v3m-1-8v3m-1-2h3m-8 2v2m-115 2h3m-9 3v4m12 2h4m111-8h3m-2 0h2m-1 3h2m-2-2v2m6 2h3m0 1h3m-2-6v2m6-2v2m7-1h2m-2 0v4m265-3h3m-7 13h3m-6 1h4m-126 0v4m-15-5h4m-6-2v4m0-3h4m-6 1v4m-1-4h2m-3-4h3m-3 2h4m-7 0v3m-53 1v3m-2-7v4m-10-5v2m-2-4v2m-6 2v3m-1-2h2m-22-2v3m-6-4h4m-9 4h3m-5 0v2m-8-1v2m-3-3h3m-147-3v3m0-3h4m-16 12h3m2 1h4m-3-8h3m7 6v3m2-2v4m9-4v4m0-7v4m129-8v2m12 4h3m0-2v3m1 0h2m8-6h2m1 2h2m1 5v4m0-10v3m1-3h3m-2 2v2m4 0h3m-1 2h4m-3 0v4m1-5h2m-1-2h2m-2-3h4m1-2v2m13-1v3m3 1v4m1-1v2m0-3v2m4-2v2m2-1v3m12-5h3m31-2h4m9 0h3m-2 0v3m2-1v3m0-8h2m-1 2v4m2-1h4m-4-1h4m-3-5v2m4-2h4m-2 2h3m-2 3h4m-4-4v3m0 1h2m-2 0v2m2-7v3m4 5h3m-2-7h2m1-1h2m16 15h2m-20 2h4m-5 0v2m-2-7h3m-3 5h4m-10-6h2m-4 3h3m-3-5h2m-3 8h2m-4-3v3m-1-6v3m-1-5v3m-1-1h3m-4 4h3m-3-5h4m-5 5v2m0-1h2m-4-3v3m-2 0h2m-2 1v4m-7-11h4m-5 3h3m-8 0h3m-5 3v2m-1-3h2m-2-4v4m-21 2v4m-15-5v2m-6-4h2m-7 3v4m-1-4v2m-4-6h2m-4-3h2m-4 1h2m-4 2v2m-2 0h4m-4-3h2m-4-2v2m-3-2h3m-3 0h4m-5 1h4m-7-1h4m-4 6h3m-6-3h2m-3-3v3m-1 0v3m0-5v2m-1-4h2m-4 7h2m-5-2h3m-6 1h4m-5-5h3m-5 4v4m0-7v4m-1-1h3m-4-2v3m-2-3h3m-174 1h3m-7 3h3m-11-5h4m-5 4v4m18 0v4m4 1v3m171-8v3m4-3v3m2-1v4m1-2v2m2 0h3m-1-1v2m0 0v4m3-5h4m-4-7v3m2 4h4m0-6h3m-3 5v3m3-2v4m0-11h3m-3 8v4m0-4v3m1-5h4m3-6h2m-2 3v4m0-3h4m-1 1h2m-2-5h2m-1 4v3m1-7v4m2 4v4m1-8v4m3-2h3m-2 0v2m2-7v3m1-1h4m-4 5h2m-2-2v2m1-1h3m0-1v3m5-7v4m1-2v3m2-6v2m1-3h4m11 7v4m0-3v4m2-7h3m-3 0h3m-2-2h4m-4-1v4m2-3h4m-3-3v4m0-2h4m-3 2h4m-4-4v3m1 1h2m0 3h2m0-1v3m3-1v2m3-5h2m-2 1v4m1-4v2m1-6v2m5 0v4m2-7v4m1 2h4m-3-1h3m-2-5h4m2 0v2m1 3h2m3-6h3m40 8h2m-2 0h4m-1-2h3m-1 2h4m69-4v3m-74 8h4m-5-6v2m-2 0v4m-2-4h4m-5-2v3m-2-1v3m0-4h3m-9-1h3m-6 2h2m-3 5v4m-1-5v3m-1-6h4m-4 5h2m-2-1v3m-1-5h3m-9 1v2m-11-1h2m-3-2v2m-4 0v3m-3-3h4m-8 1v4m-1-10h2m-3 5v2m-3-3v3m-2-3v2m-1-4v3m-8-1h4m-7-1h4m-10-2h2m-3-2v4m0 3h4m-11-3h2m-3-4v4m0 3v2m-4-5h3m-3-1h3m-4-3v3m0-1v4m-1 0v3m0-9v4m-2-4h2m-3 1h4m-5-2h4m-6 0h3m-18 1v3m-1 1h4m-5-1v2m-4-4h4m-5 1v3m-2-3v2m-2 2h4m-4-1h2m-3-1v3m0-6v4m-1-3v3m-12 0v4m0-7v3m-4-4h3m-9 1h2m-193-1h2m-5 5h4m-5-5h4m-4 1v4m-1-1v3m-1-5h4m-5-3v2m-3-1h4m-13-2h2m-2 4v4m0-2v2m0 1v2m5 0h3m-2 3h4m-4 0h3m-1-4v3m217-4h2m8 4v3m7-4v3m1-6h4m2 3v3m0-1h2m7 2h4m-4 0v2m1-4v4m1-3h4m-3-4h2m-1 5v3m0-7v2m5-4h2m0 0h3m-2 3v3m2-6v2m1 2h3m-1-4h2m-1 0v3m1-3v4m1-5v4m1-4v2m9 6h4m-2-2h2m-2-5h2m-1 3v2m3 1v4m1-6h4m-3-3h4m-3-1h2m1 5v3m1-8v4m2-4v2m2-2v3m2-2v3m2-1h3m-3 2v2m12-3v4m1-8h4m-4 1v3m1-1v4m0-6h4m-3 3v2m2-6h3m-2 7v2m1-7h2m-2-2h4m-3 6v3m1-2v2m4-2h2m0-4h4m-3-2h4m-4 0h3m-2 1v2m0-2h3m4-2v2m1-2h2m2 0v4m4-4v4m3 0v3m1-2v2m1-2h2m9 1v4m1-7v4m1-3h2m-3 8v4m-1-6v2m-1-3h3m-3 2v2m-3-2v2m-1-1h3m-4-2v3m-1-2v2m-1-5v2m0-1v4m-3-1h3m-3 0h4m-10-4h3m-8 8h2m-20-7v3m-18-1h2m-5 3v4m0-2v2m-1-2h2m-4-1v4m-1-11h4m-6 2v4m0-1v3m0-4v4m-3-4h3m-8 3v2m-2-2v4m-1-8v4m0-4v4m-6-1h3m-4 2h2m-4-1h3m-3-3v3m0 0h4m-4-3v3m-1-1h3m-3-2h4m-5 1h3m-3 0v2m0-4v3m-1-1h4m-6 0h3m-3 0h2m-2-4v4m0 2h2m-7-4h2m-6-3v2m-7-1v2m-3-3v2m-1-2h2m-252 3v2m-8-1v4m0-3v2m20 7v4m5-1v3m5-9v4m16-4h3m246 0v4m7-3v3m0-5h4m4-1h2m7 4h3m-1 3v2m2-5v3m1-5h2m-1 5h3m-3-1v3m0-7v3m3 3h2m0-4v4m1 0h2m5 0h4m-1-1v2m2-2h2m0-2v2m1 1v2m5-6v4m0-7v3m0 1h2m1 3h2m-2-6h3m-1-2h2m-1 8h2m-1-7h2m-1-1h3m-2 5v2m2-6v4m2-4h2m0 4v2m5-3h2m3 1h3m-2 2h3m2 1v3m1-4v4m2-4v4m12 2h4m-8 0h4m-6 1h3m-3 0v3m-1-8h4m-5 6v2m-1-3v2m-2-3h3m-3-2v4m-3-4v3m-4 0h3m-9 2h3m-23-6h2m-5 1h3m-5-2v4m-2-3h2m-10 0h3m-303 5v3m-1-7h3m-17-2h4m-11 4h4m-4 1v4m-2-2v4m-3-2v3m371-3v2m16-2v2m4 1h3m-3 4h4m8 1h2m-2-4h2m-1 4v3m2-4v3m11-4h4m-4-2v3m1 0h3m-2 3v4m0-4h4m-12 5h3m-4 0v3m0-7v3m-4-4h2m-2 2v3m-13-4h2m-2-2v2m0-1v4m-375-4h3m-5 2v4m-21 4h4m418 5h3m-1-2h3m-3-2v2m0 1v4m0 1v2m0-4v4m-420 9h4"/>
</g></g>
<g clip-path="url(#cq00)"><g id="d2" transform="translate(449,50.4) scale(0.25)">
<path stroke="#2b2b2b" d="M76 8v3m88-5v2m1-2v2m0-2v3m1-1v3m1-3h3m-3-2h4m-2 2v2m2-4v2m1-2h3m14 0h2m-1 0v3m3-3v2m2-2h3m6 2h4m-3-2h2m4 0h2m-1 0v3m3-3h2m3 1v3m210-3h4m-4-1v3m0-3h4m-3 0h3m2 3h3m-219 6v2m-3-8h2m-2 0v4m-2 4v4m-7-12v4m-1 4v4m-4-7h4m-9-1v3m-2-4v2m0 0v2m-4-1v3m-7-3v3m-3-7h3m-7-1h2m-2 4v4m-2-8v4m-1-4h3m-4-1v2m0-1v3m-1 4h2m-2-3v4m-3-4h3m-9 1h4m-7-5h3m-7 0v4m0-4v2m-3 0h4m17 8v2m3 1h4m-3-4v3m25-4v4m6-4v3m3 4h4m-3-4v3m1-6h4m-3 5v3m1 0v3m209-10h4m-4 0v3m3-1h2m-1-3v4m6 4h2m-2 0h3m-3 1v2m0 2h3m-3 2h2m-12 0h2m-3 1h4m-6-1h3m-3 1h3m-4-5h2m-3 3h4m-210-4v2m-21 5v4m-2-5v3m-7-2v3m-8-6h4m3 6v2m1-4v4m10-2h3m26 4v4m1-3h3m-2 0v3m3-2v2m1-2v4m0-7h2m190 1v3m0-1v3m2-5h4m1-5v2m0 0v4m2 1h4m-3-1h3m-3-3v4m0-6v4m4-4v4m0 2v2m-3 6v3m-1-9h3m-3 5h3m-6-5v3m-2 4h2m-191-2h2m-15-5h4m-11 1h3m-6 4h3m-5 1v4m-2-8h2m-178 6h4m163 6v3m13-9v4m2-4h2m1 5v2m2 0h2m-1-1v4m2-3h2m-1-1v3m1-4h2m186 1h3m-2 1v4m2-4h3m-3-6h4m-3 3v4m0-3h3m-1 2h4m-3-1h3m-1-5v4m9-1v2m3 1h2m-2 3h2m-15 3v2m-175 2v3m-10-11v4m-1 1v2m-5 0h4m-4-5v2m-20 0h4m-6 0h4m-5-4h2m-2 7v2m-4-3h3m-6 2h3m-4-8v2m-1 2h4m-4-3h4m-4 4h2m-5-5v4m3 13v2m2-6h4m-2 2h4m-2 2v4m3-5v4m1-11h3m-2 7v3m2-6h4m-3 1v4m1-9v2m18-2h2m1 5h3m162 1h2m1 1v2m2-5v3m0-6h2m0 6h4m-3 1h3m-1-2v4m8-7v4m0 0h3m2-7v4m4 0h4m-1 0h2m-7 5v3m-2 1h4m-6-2h3m-7-2h3m-12 2v2m-2-3h3m-4 1h3m-6 0h4m-4-2h3m-7 6h4m-5-1v3m-1-8v2m-152 5v4m-4-6v4m-5-5v4m-1-2h2m-3-5v2m-20-1h3m-6 0h3m-5 2v4m-51 0h2m-154 7v4m0-7v3m6 2v4m188-10v3m2-3h3m-1-1v2m14 1h3m-2-2h3m-3 4h2m-1 1v4m1-7h3m-1-2h3m1-1v4m1 1v3m2-3v2m0-3v4m0-7v2m3 3h3m-2 0h2m-1-5v3m1-5h4m-3 5v2m1-6h4m4-1h2m0 3h4m-2-1v3m2 3h3m121 0h2m6-2v2m1-4h3m1 3v2m8-9h3m-3 6h4m-2-1v2m1 0v4m2-6h3m-2-1h4m12 2h2m0-5h3m-1 3h3m-17 9h2m-12-1v3m-1 1v2m-15-7v4m-1-4h3m-4-1h4m-9 5h2m-11 2h2m-9-1h4m-7 0h3m-72-2v3m-6 0v3m-3-6v3m-3-1h3m-5 0h4m-5-5h2m-15 3v4m-1-3v3m-1-1v2m0-10v4m-1 2v2m-2-6h4m-5 5h2m-15-4h4m-5-3v3m-3 2h2m-7-2h3m-4 4h3m-5-3v2m-2 1h4m-5-3h3m-5 0h4m-6-1v3m-4-6v3m-3 1v4m-13-8v4m-1 1v3m-100-1h4m-11-4v2m-71-5v4m-1 3h4m-8-5v3m-4-2v4m0-6v4m-1 2v3m0-4v2m0-7h2m-2 4h3m-6 1h2m-2-4h2m-6 3h2m-2-5h2m-2 8v4m0-12v2m0 15h3m1-1v2m2-7h2m-2 0v3m2-1h2m15 4h4m56-3v3m2-4h3m11 2v4m5-2v3m8-6v3m52-8h3m27 6h3m-1-6v4m5-2h4m0 3h2m1-1v2m0 0v4m2-2h3m-3-5v2m0-1v2m7-2h3m-2 2v3m1-2v4m4-11v2m7-1v2m2-2v3m12-1h4m-2 3h4m-4-2h2m1 2v3m11-3v3m5-7h2m-2-1h2m0-1h3m3 0h4m-3 5v2m8-3h4m-2 0v3m16-4h2m2 5h3m3-1v4m2-8v2m2-1v3m1-1h2m1 1h2m-1 1v3m1-3v2m2-3h4m-4-2h3m-2-1h4m5 3h4m-3-4v2m2 2v2m12-3v4m2-2v4m3-12h3m-3 8v2m4-10h2m0 5v4m0-2h4m2-3h2m10 1h2m0 1v3m1-2h4m-6 7h2m-6-2h4m-5-2v3m-2-1v3m0-4h4m-5 0h3m-7 4h2m-4 0h4m-9-6v4m0-4v4m-4-2h4m-4 1v3m-7-4v3m-1 3v3m-4-10v3m-1 4h2m-4-4v3m-1-1v3m-1-9h2m-2 7v2m-2-7v4m-5-2v4m0-8v4m0 1h2m-2-3v4m-1-2v2m-9-2h2m-5-3h4m-4 6h2m-2-3h2m-6 2h3m-4 1h4m-4-2h4m-5-2v2m-3-3h4m-4 3v2m-2-1v2m0-6v4m-3-4v3m0 0h3m-4 3v3m0-5h2m-3 1v3m-1-6h2m-4 4v4m-47-10v3m-1 0h4m-4-3v3m-4-3h2m-2 3v2m-1-5v3m-38-3h3m-10-1v3m-15-2v2m0 2v3m-2-2v2m-69-1h3m-5-3v4m-3-3v4m-1-10h3m-3 3h4m-17 4h3m-12 1v4m-3-4v3m-4-11h3m-15 0v3m-4 2h3m-52-1h2m-7-4h2m-2 6v2m-1-8h3m-6 5v4m-2-5h4m-7 1h2m-4 2h2m-2-3v2m0-1h4m-4-4h4m-4 3h3m57 11h2m23-3v3m3 1v3m1-5h3m19 2v3m3-2v3m0-6v4m0-4v2m1-5h2m-1-2v2m3 4v2m0-6v2m0 4h2m59-1v4m1-9h2m2 5h3m-2-4h3m-2-1h3m-3-2h3m21 6h2m2 1h3m1 0v3m15-3h2m-1-1h3m-2 0v4m18-5h4m0-5v4m4-1h2m0 3v2m1-2v3m1-4h3m-3 2h2m-1 0h3m-3-4h2m-1 1h2m1 2v4m2-5v2m4 1v4m3-5h4m-1 0v3m4-4h2m0 0v2m6-2v2m6-3v3m3-5h4m8-2h4m10 1h3m6 4h4m-1-4h4m-3 1v4m1-1v3m1-6h4m1 5v3m0-11v2m0 5v2m1-6h2m4-2h2m4 1v2m2-3h3m3-1v3m5-3v3m0 0v4m2-6v3m-11 12h2m-21-2h2m-9-4h2m-22 4h4m-6-5v4m-30-3v4m-1-3v4m-1-4v3m-15-3h4m-5 5h4m-5-6v3m0-3h3m-6 3v3m-6-7v3m-1-2v4m-8 3h4m-4 0v4m-7-4h3m-4-3h3m-6-4h2m-2-1v4m-2 1h2m-3-4v3m-3 2h4m-20-6v3m-3-2v2m-1-1v2m-1 1v2m0-2h3m-4-4v4m-1-4h4m-6-1h3m-4 2v3m-3-3v2m-18 2h3m-5-6v4m-2-1h3m-4-3h4m-10 6h3m-35 2h3m-16-1v3m-5-3h2m-28 0h2m-7-7v4m-2 1h3m-3 2v2m-2-8v2m-2-1v3m-1-3v3m-7 2h4m-11-6v4m-9 0v4m-5-6h3m-7 5v3m-5-4v4m-6 1h3m-2 0v4m0-2h2m-1-2h3m0 2v4m6-7v2m1 3h4m4-6v2m1-3h3m-3 0v2m3 6h4m-1-6v3m2-3v2m0 0v4m0-8v2m0 3h2m3-5v3m1-1h3m-3-1h3m-3 0v3m2-4h2m2 5h2m9-1v2m3-6v4m3-3h4m-4 7v4m7-5v3m2-3v2m5-2h4m-1 1v3m2-6h3m-2 1h2m3 1h2m0-5h3m-2 1h3m0 5h4m-3-5h2m-1 1h3m-1 1v2m1-2v3m2-4h3m-1-2h4m38 5v3m1-4v4m1-4h3m-3-3h4m-3 3v3m0-7h3m7 4v2m1 0v4m0-4h3m2-5h4m2 5v4m0-9h3m-2 3h2m-2-2h4m-3 1v3m0-2v3m1-9h3m-3 8h3m-3-4h2m0-3h4m-3-1v4m8 4h4m1-2h3m4-1v3m1-8h4m-1 0h2m-2 4h2m-1-2h2m6-2v4m1-1v3m0-2v2m2-4h3m4 4v3m1-2v3m6-9v3m5 1v4m6-7h3m-3 0h2m101 2v4m-52 6h3m-20 2h2m-6 1v4m-38-5h4m-7-1h4m-5 2v2m-1-10h3m-4 8h2m-4-5v2m-3 2v4m-3-6h2m-8 2v4m-5-9h2m-5 1h4m-4-3h3m-5 1h2m-5-1v3m-3 3h3m-4 1h3m-5-5v3m-2 1v3m-3-7v2m0-4h2m-6 8v2m-2-10h2m-9 4h3m-7-2h2m-3 0v4m-5 0v2m0-2v4m-4-5h4m-6-1h4m-6-2v2m-1-4v4m-2-1h4m-52-2h2m-6-1h4m-7 4h2m-14 3h2m-3-7h2m-10 5h2m-2 3v2m0-2v3m-2-9h3m-3-2v4m-2-2h2m-4-2h2m-6 6h3m-21-1h2m-3 2v3m-4-10h3m-7 2v3m-5-2h4m-10 0v3m-1-4h4m-14-2v4m-1-2h4m-6-2v4m4 5h2m20 2v4m9-3h2m0 2h2m11-1v4m3-1v3m0-7h2m2 0h4m-4 0v3m1-6v4m1-1v4m1-5v4m2-5h4m-2 2h3m-2 4h3m-1-5v4m1-3v3m2 1v2m5-2v2m4-5v2m3-4h4m-4 6v2m1-6v4m1-4h4m-3 4h2m-1-7v2m3 3h3m-2-4h4m6 1h2m2-1h3m39-2h2m-1 3h2m-2 0h4m-1 2v2m0-3v3m6-5v4m3 2h3m-3-4h3m-2-1h2m-2 1h3m6-1h2m-2-1h4m-3 3v3m4-8v4m0-3h4m-3 2v4m0-1v4m3-7v2m1 0h4m-1-5h3m-1 2v3m1-4h2m6-1h4m-1 3h4m-1 1v4m0-8v4m1-3v3m3-2v3m6-4v3m6 1v3m1-1v4m5-7h4m-2-1h2m-1 2v2m6-1v4m6-6v4m6-4v4m1-6h2m1 0h3m2 5v4m2-6h4m-1-5h3m-2 4v4m0-5h4m1-3h4m-3 3h4m19 12v2m-3-2v2m-4-2v2m-3-3h2m-2-1h2m-2 2v4m-5-6v4m-34-5v4m-5-3v3m0-4h3m-5-2h4m-4 3h4m-5 3h3m-5-2h3m-4-5v4m-12-2v2m-1 2v4m-1-10v3m0 0h3m-4 0v4m-1-7v2m-4 6v4m-3-4v2m-4-3v3m-3-4v3m-4-6v4m-1-1h3m-3 1h2m-6-2v2m-3-4v2m-1 0v4m0-2h2m-3 1h2m-2-4v2m-3 1v4m-4-10v2m-1 3h4m-10-2v4m0-5v2m-8-3h4m-5-2v3m-33-1h2m-10-2h3m-38 1v4m-3-4v4m-44-5h2m-11 2h4m-11 4h2m-4 1h3m-4-4h2m-5-2h3m28 11h2m8-2v3m1 3h4m0-2v3m6-3h2m1 0v2m0 0h4m-3-6v4m0 2v2m1-6v4m1 0h2m3-2h2m-1 3h3m-1 0h3m-3-7v4m18-1h2m2 1h3m-1 3h2m-1-3h2m1 3h3m-2-3h4m3-5h4m-2 5v2m3-2v2m22 1h3m11-1v2m3-2h3m-2-4h2m7-3h4m-1 0h2m-2 6v3m6-2v2m0-2h2m3-5v3m6 3v2m2-7v3m32-2h2m0-2v3m1 2v4m2-10h3m-3 0h3m-3 2v3m1 0v2m3-5v2m5-3h4m1 5h3m19 0h2m-1-2v3m6-6h3m10 2h2m-2 3h2m-1-3v2m0-4v2m1 3v3m8-3h2m-2 1h2m59 9h2m-10 0v4m-15-5v3m-1-3v4m-4-3v3m-2-6h3m-6-3h2m-2 6v2m0-3v2m-2-3v2m-3-1h2m-4 1h4m-13-2v3m-4-8v3m-1 3v3m-2-10h3m-11 8h4m-6-6v2m-4 2v4m-1-10h2m-2 6h3m-4 0v2m-2-2v4m-7-8h3m-7 4h4m-5 2h4m-7-6h3m-6-1v2m-10 2v2m-4-5h2m-4-1v3m-3-4v2m-27 6h2m-16-1h4m-20-5h4m-10 5h3m-9-6v4m-45 2v4m-10-11v2m-9 4v2m-2-7v3m-1 2h4m-6-4h2m-3 4h2m-4-4h3m-4-1h2m-4 5h4m-4-2h4m-7-1h4m-7 3h2m-5 2h3m-4 0h2m-12-5v4m-5-4v3m-2-6v4m0-2v4m-4-5h4m-5 0v3m-1 2h4m-7 0v3m-6-2v4m-4-3h3m-7-4h2m-9 4v2m-2-3v3m-1-3v4m-12-4v3m1 5v4m6-10v4m0-1h2m4 3h2m-2 2h2m0-7v3m2 1v2m1-2v4m3-4h3m-2 1v2m0-3h2m0 2v2m2-6h4m13 2h2m-1 3v3m4-3v2m3-9h4m-3 7h4m-3-1h3m7-5h4m-4 1h4m0 4v4m3-5v2m5-5h3m1-1v4m6-5h2m0 5h4m-1-6h2m-1 5v4m0-4v3m2-4v4m17-4h4m-1-2v3m1-3v3m2 2h3m0 1v3m1-6h3m-1 0h2m27-4h4m-2-1h3m9 7v4m1-5v2m9-6h3m-1 2v4m1-7v4m5 3v3m20-9v2m4-3v2m3-2h4m-2 1h2m2 2h3m0 0h3m-3-1h2m1-1v3m1 1h2m10 0v4m3-8h2m-2-2v4m0 1v2m8-4h4m-1 0h4m-1 0h2m2-1h4m-4-1h3m1-1v3m0 3h2m0 2v2m12-7h3m7 2h3m-2-1h2m-2 1v4m1-7v2m0 0v2m4-4v4m2-6h3m-3 6v3m1-5v4m0-3v3m6-6h3m3 3h4m0 1v4m0-7v3m2-6h4m1 7v2m4-3v3m1-7h3m-3 0h2m-1 4v3m0-9v3m1-2h2m-1 0v2m23 14v2m0-6h2m-2 4h4m-4-1v3m0-2v3m0-11v2m-1 1h4m-5 0h4m-5 0h2m-4-3v2m-6-2h2m-3 0h3m-4 6v4m0-10v3m-2-2h2m-11 5v4m0-2h2m-3 0v3m-8-10v2m-12 4h3m-4-3h3m-10 0h2m-4-3h2m-2 1v3m-12-5v4m-8 1h2m-6-2h4m-5 5v4m-2-11v2m-1-3h4m-6 0h3m-6 4v3m0-5v4m-2-6h3m-3 6v3m-9-3v3m-2-1h3m-5-2h4m-12-1h3m-5-4h2m-3 3v4m-3-8v3m0 4v3m-3-3v4m-1-11v2m0 6h3m-9-5v4m-1 1v2m-1-7h2m-2 1h2m-3 0v2m0-1v3m-3-5v2m0-3v3m-30-5v2m-5 4v2m-8-7v3m-1 2h3m-12-4v2m-3 0v2m-3-2h3m-3 3v3m-2-9h2m-2 6v2m0-2h4m-33-4h2m-9 2h4m-5 3v2m0-2v3m-12-8h4m-8 0h4m-7 2v3m-1 0v2m-4-4v4m-14-6h2m-12 2h4m-4-2v2m-2-6h3m-16 7v2m-2-3h3m-3-6v2m-1 4h3m-5-1v4m-1-7h2m-3 3h4m-5-2v2m-2 0h4m-17 1h2m-5-2v3m0-1h2m-5-6v4m0 4h4m-5-8h3m-6 2v4m-4-5h4m-4 4v4m-2-7v4m-10-2h4m1 7v3m5-4v2m9 1h2m1-1v3m1 2v2m1-7h4m5 2h4m-3 0v2m1-4v4m5 0v4m0-6h2m1 1v4m5-5h2m-2-1v2m2 0v3m2-7v4m1-2h4m-3 4h2m-1-8h2m-2 0v2m16 3v3m2 0v4m1-12h3m-3 0h4m-4 5v2m2-7h2m0 4h2m-2-2v4m2-2v4m1-4h3m-1-3v2m3 0h2m-1 0h3m-2-1h4m-4 5h2m-2-4v4m3-1h3m-3-2h4m-3-2h2m0 2h4m-4-1h3m-3 2h4m13 1v3m3-7v3m0-2v3m1-4h3m-3 1h3m32-3v3m16 2v2m1-6h4m-2 2h2m0-3h3m2 8v2m3-7h2m2 1v4m15-4v4m21-1h2m0 0h4m-3-7h4m-2 7h3m-2-7h4m-3 5v4m2-7v2m2 2h4m-4-5h3m0 3v4m3-7v4m1 3h2m3-5h4m-2 1v4m1-2h3m-2-1v2m0-2h3m12 3h4m9-2h4m0 0h2m1 0v2m6-5h2m-2-2v3m5-2v3m0 1h4m-2-5h3m26-1h2m-1 3h3m1 5h3m2-3v3m2-1h2m3 1h2m-2 0h4m-2-2v2m1-4v2m0-6h2m-2 7h4m-6 2v3m-2-1h2m-3 6v3m0-5h3m-6 0v4m-1-3v2m-7-9v2m-2 5h3m-7-6v2m0 2v3m-2-1h3m-12 0h4m-10 0v2m-2-1h2m-12 0h4m-6-5h2m-8 0v4m0-5h4m-7-2v3m-9 3v2m0-3h2m-3 3h3m-7-3h2m-3-2h2m-2 1v4m-1 0v4m-1-5v4m-6-9v2m-16-4v3m-1 3h3m-8-4h3m-13-2v2m-22-1v4m-9-5h2m-8 0h3m-3 4h2m-3 0v3m-6-2h3m-5-3h3m-6-2h4m-4 1h4m-6 6h4m-5-4v4m-1 1h4m-5-4v3m-2-1h4m-5-5h3m-4 5h2m-3-2h4m-4 0h2m-2-3h2m-8 6v2m0-7v2m-2-3v3m0-1v4m-3-3h3m-47-4v3m-12 5v4m-3-6v4m-1-6v4m-6-8h3m-4 7v2m-2-2h3m-3-4v2m-2-4h3m-15 0v3m-2-3h3m-21 5h4m-6-4v3m0-5v3m-1 5v2m-1-7h2m-3 5h4m-5-5v4m-1-4v2m-1-5v3m0-3v4m-2-2h4m-5 6v3m-2-11v2m0-1v3m-5 0v2m-1 1h4m-7-7h4m-5 7v4m-3-10h2m-7 1v4m0 0h4m-7-4h2m-5 5v3m3 2v3m4 0v2m9-4h3m-2-4v4m4-3v3m2 0v4m1-4v3m4 1v4m5-8h3m-2-4h4m-2 0v4m7-4h2m-1 7v2m1-5v2m2-2v4m3-1v4m1-7v3m0-4h2m1-1h3m-1 5h2m3 0h4m8-1h2m1-6h3m-3 7v2m1-9v2m2 2v4m1-4v4m1-5h3m-3 2v2m3-6h2m0 4v3m2-6h4m-2 4h3m-1-1h4m10-5v3m24 1h2m6 4h3m-2-2h2m-1-5h4m-3-1h4m-4 8v2m0-4h3m-2-4v2m1 3v3m13-3h3m9-3h2m0-2v2m1-2v2m5 2h2m5 2v3m0-3h3m16-5h3m3 4v4m1-5v2m6 0h3m2-6h3m-3 3h3m-1-3h4m-3 1v3m0-6v4m6 4h2m9-5h4m-3 4h3m1-2h4m4 3v2m6-9v2m0-2v2m2-3v3m9 1v2m0 1v4m1-4h2m0-3h4m-3-4h2m-2 3v3m1-2v3m1-7v3m1 3h2m0-5v4m1 2h4m-4-2v2m5-2v2m1-3h2m-1 4v3m4-7v3m0-7h4m-4 2v3m1-1v2m4-2v2m5-5h4m-4 3v4m1-5v4m2-3v3m1-2v4m0-3h3m12-4h2m3 11h3m-4 4h3m-7-1h2m-2-3h4m-23 3v3m-2-6h2m-3 2v3m0-3v3m-2-7v3m-3-4h2m-6 4h4m-4-1v2m-3 0h3m-4 0h4m-5 2v3m0-6v3m-3-1v2m-5-8h2m-11-1h3m-4 1v3m-2-4v2m-3-2v4m0 4h2m-3-7h3m-4 3v4m-1-2v3m-2-5v4m0-7v4m-4-4h3m-3 7v4m-1-9v2m-1-3h2m-5 2h3m-3 4h3m-10-8h3m-4 8v4m0-7v3m-5-6h2m-4 5v4m-2-5v4m-2-3v3m0-4v4m-2-8v4m-3-1h3m-4 2v2m-3-5v3m-1-6h2m-6 6h4m-4-3v2m-2-1h2m-4-3v3m0-3h3m-5 4h4m-6 0v3m-15-1v2m-10-5h4m-6 3h3m-6-2v4m-1-10h2m-14 4v2m-2 0v4m0-5h3m-3-2h3m-4 0h2m-4-1v2m-3-3h2m-3 0v3m-4-3v3m-1-1h2m-5-2h2m-3 7h2m-4-2v2m-1-1v3m-2-2h3m-11-7v2m-1-2h4m-6-1v2m-6 6h2m-6-2v3m-1-5h2m-2 1h4m-13 3h4m-5-4v4m-9-5v2m-3-1h2m-2 1v3m-4-2v3m-3-2h2m-4-4v3m-2-3h4m-4 1h3m-5 1h4m-5-1h3m-3 2h4m-5-3h3m-4-3v4m-2 3h3m-4 0v4m-1-8v2m-2-5v2m-1 6h2m-7-1v2m-2-3v2m-2-2h3m-4-1h2m-4-4h4m-5 1v4m0-1h2m-2-5h2m-7 7v2m-4-8v3m-3 2h2m-6 1h3m-4-3h3m-3-3h2m-5 5h2m-3 2h2m-8-8v2m-2 0v3m0-5h2m-3 1v4m-2 2h2m-7 1h3m-4-3v4m-1-6h2m-3 3v4m0-10v4m-4-2v3m11 11v2m0-4v3m1-4h3m-1 3v2m0-4v2m1-7v3m2 4v4m1-7v2m2-4v2m4-2h4m3-2h4m0 3h3m0 1v4m3-3v4m10-3v2m6-7v2m17-2h3m-2-1h3m-2 7v2m13-9v3m4-3h2m0 2v3m12-4v2m0-1h4m-1 2v3m0-6h3m7 6h3m3-1h3m-1-3h4m-1-2h4m-2 5v4m0-4h3m4-3v4m0 1h2m0-8v4m15-3v3m4 0v3m5-7h3m0 4v4m1-6h2m-2 5v3m1-7h4m10 3h4m0-6v3m0 5h2m0-6h2m-2 2h3m-1 3v3m4-9h3m0 3h4m-3 3h2m0 1h2m-2-7h3m-2 3h3m-3-4h3m-1 0v2m9 6v2m6-10h3m-1 1v2m2 5v2m1-3h4m1-7v2m1 4v3m5-7v3m1-2h3m-3-1h2m0 6v2m4-3v2m0-4h4m16-5v2m4 3h2m-1-5h3m6 1v2m3-2h3m9 4v2m2-7v3m0-1v4m0 0v4m3-8h3m-2 4h3m0-2v4m5-5v2m2-3v2m2 4h4m-4-1v2m0-4h4m-4 7h4m-4 0h4m-4-2h3m-3 0h4m-4 2v2m0-5h2m-3 1v4m-1-4h2m-2 4h4m-6-5v4m-4 1v2m-1 0v3m-3-3v4m-3-7v2m0 2v3m-2-3h3m-6-1v2m-13-7h4m-6-2h4m-7 1v2m-9-1v2m-8-1v2m-2 1h3m-8-3v2m0-4v2m-2 1v4m-2-6v2m-1 2v2m0-5v4m-2-6v2m-1 0h2m-3 3h4m-5-5v2m-2-3h4m-7 4h3m-3-4h3m-4 3h3m-4-2v4m-7 0v3m-4-7h4m-4 7h3m-9-5h4m-4 2v2m-1-7h2m-2 6v3m-3-5v4m-1-8v4m-3 3v3m0-8h3m-3 4h4m-6-1h4m-4-3h3m-4 2h3m-7-3v4m-1 3v3m-3-5h4m-10-4v2m0-3h2m-3 0h2m-2 2h3m-5 2h2m-2 1h3m-4-2v3m-7 1h2m-4-1h2m-6-3v3m-6-1h4m-5 1h2m-4-6h4m-5 2h3m-5 0h2m-3-1h3m-4 0h4m-8-1h4m-16 6h4m-9-5v2m-11-2v2m-8 0h3m-4-2v2m-1-3v3m-3 0h2m-2-4v4m-6 4h3m-18-6h3m-3 5h4m-4-5h3m-5 4v2m-1-2v3m-3-9v2m-1 6v2m-1-6v3m-2-5v2m-1-4v2m-1 0h4m-6-1h4m-5 0v4m0-3v3m-7-1v4m0 0v4m-6-4h4m-13-4h3m-5 4v2m-2-6v3m-2-2h2m-4 0h3m-7-1v2m-2 0h2m-4-6v3m0-3h3m-11 4h2m-2 0h2m-3-2h4m-6 4h2m0 6h2m12-3v4m2-4h3m-3 7v3m1-9h2m2 0v4m12-4h4m-3 3v4m6-8h4m-2 7h3m-3-3v4m6-1h2m0-4v4m4-2v2m0-7h4m-2 1h3m-3-1h4m-2 6h3m3 1h3m5-6v4m1-5h3m-1 7v3m1-8v2m3 2v2m1-6h3m-3 4h2m0-4v4m1-5v2m3 5v2m1-6v2m1-5h2m0 4h3m-1 1v2m5 0h3m-3 0h2m0-4v3m5 1v3m4-7v4m1-7h3m-1-1v4m1-2v4m7-5v2m1 1v3m3 1v4m12-8h3m2-3v4m2 0h3m-3 1h4m-1 2h3m-2-6v3m3 0h4m-3-3v4m2 1h3m-2 1h3m5-8h2m-1 3h4m0 1h4m-1-4h4m4 7v2m0-6h3m-2-3h3m-2 2h3m-1-1h3m-1-1h4m-4 0v2m1 1v4m7 0v4m12-7h3m6 2v4m8-8v4m2-2h4m-1 4v4m1-12v4m1-2v4m11-4v2m2-3v3m2-2h4m-4 0h4m10 1v4m11-4v3m8-1v2m1-4h3m-2-1v4m3 2h3m-3 1h2m-22 8v2m-1-3h3m-4 0h3m-4-5v4m-11-1v4m-5-5v3m-15-2h3m-3-3v4m0-4h2m-6 3v4m-3-7h3m-6-2v2m-6 1h3m-12 0v4m-1-5h4m-6 1h2m-6 3h4m-7-6v2m-1 6h2m-5 0v3m-2-5h2m-4-5h2m-3 6v2m0-3h4m-19-2v4m-3-4v4m0-6h2m-6 2v2m-10-5v4m-1 1h4m-5-6v4m-6-1h3m-4 1h4m-5-2h4m-5 3h4m-5-5v3m-4-3v4m-6-2v4m-1 0v4m-4-8v3m-2-2h2m-3-2v3m-13 3h2m-3-6h4m-6 1h4m-13 1v3m-2 1v4m0-4v4m-1-5h3m-8-2v3m-1-4h3m-23 1v3m0-5h3m-8-2v3m-4-2h3m-4 7h4m-6-2h3m-11-5h3m-6-1v4m-2 2h3m-3 0h4m-7 2h2m-25-8v4m-5-4h4m-5 1v4m-1-4v3m37 5h4m-3 0h2m0 1v3m3-4h3m5 4v3m0 1h3m0-2v3m3-3v4m0-6v4m4-2v4m2-6h4m-4-3v2m1 5h3m-1-1v3m1-8v3m1 0v3m0-4h4m-1 1h4m-1-4h4m0 7v4m1-8v4m1-7v2m1-1h2m13-1h2m0 5h2m-1 2v3m7-5v3m5-3h4m1-1v4m2-2h2m0-7v4m0-3h3m1 5h3m24-6v4m1 4h4m-1-3h2m-1-4h3m-2 6h4m-1-2v3m1-7h4m-3-1h2m4 4h2m-1 0v4m4-4h2m3-2v2m3-4h4m-2 1h2m18 2h3m-3 1v2m4-5v2m6 5v2m1-8v2m0-4v4m1 4v3m2-3h3m18-1h2m-2-6v3m0 2v3m2-7h3m0-1h3m-2 5v3m0-9h2m0 8v2m1-3h4m2-1h4m-3-6h3m-2 3v4m1-4v4m2-4v3m2-3h2m-1 1v2m11-4h4m-4 1v4m0 10v3m0-3v4m0-7v4m0-2v4m-2-4h2m-5-5v4m-1 1h3m-6 0v2m-4-6v2m-4 2h2m-8-1h4m-5-1h4m-4 0v3m-10-4h3m-4 1h2m-3 3h3m-4-2h2m-2-6h4m-15 6h3m-4 1v4m-3-4v4m-1-5h4m-5-3h3m-4 1h3m-3-1h3m-4 1h3m-3 2h4m-7-3h2m-6 0v3m0-2h4m-14-3v4m-4 3h3m-4-3v2m-7 1h2m-13-1v3m-5-8v3m-1 1h2m-3 2v2m0-3v3m0-5v4m-1-5v2m-1-6h2m-3 1h2m-10 2h4m-6 3h2m-4-2h4m-6 0v3m-37-5v2m-1 0v2m-10-2h4m-8 3v4m-1-5v2m-3-6h4m-9 4h2m-6-2v2m0-4h4m-4 2h2m-7 3h3m-10-7v3m-1 4h3m-3-7h2m-2 1h3m-3 0v3m-2-2h3m-8 0h2m-8-2h3m-4 1h4m-4 0v2m-1-3h2m-3 5v4m-1-6v4m-1-1v4m-3-8h4m-7-2h2m-2 7h2m-3-1h4m-5-4v3m34 6v3m5-4h2m-2 0v4m0-5v2m2-2v4m0-2v3m6-3h2m9-1v4m3 2v4m4-10v3m1-1h4m-3 2h4m41 1h3m-1 2h3m-2-1h4m-4-7h4m-3 5h3m-3-5v2m1 3h3m-1-5h4m-2 5h3m-2-4v3m4-2v4m0 2h2m-1-8v4m0-2h3m-2 2v3m10-4v4m1-6v2m0 4v3m0-9v4m1 2v4m2-11h3m-2 8v4m1-5h4m-2-2v3m0 0v4m1-10v3m2 1h2m-1-5v4m1-4h2m-2 7h3m-2-8h2m-1 3h3m-1 4h4m1 0h2m-1 1v2m1-5h3m1 1h4m-2 1h2m0-4h4m-4 0v3m4-1v4m0-1h2m4-3v3m0-5v4m3-3v2m1-6h4m-4 5v2m3-3h4m0 4v3m2-4h2m10 0h4m-2 0v2m2-8h3m-3 3h3m0 3h3m-3 1h3m-1-5v2m2-4h4m-2 5h4m-3-5v4m5 0h2m-2 1v3m0-2h2m-2 6v2m0-2h3m-3 2v2m-3-7h4m-4 5v3m-1-7h4m-9-1h4m-5 3v4m0-4h3m-8 2v2m-1-8v3m-2 5v4m-1-10h2m-4 6h3m-8 0h2m-7-5v2m-2 1h2m-7-3h3m-8-1v4m-1 0h2m-5-6h4m-4 0h2m-5 7v3m-1-3v4m-1-11v3m-1-3h3m-5 8v4m-1-11v4m0 1v3m-1-4h3m-3-4h3m-4 5v4m-2-3h3m-5-1h3m-11 0v2m-2-7h2m-4 0h3m-5 7v2m-5-7v4m-1 0v3m-1-4v4m-2-5h2m-2 3v3m0-7h4m-5 3v4m-2-7h3m-5 0v4m-8-7h2m-4 0h2m-7 4h3m-6 1v2m-1-5h2m-3-1v3m0 3h2m-49-8v2m-2 5h4m-6 1h3m-4-3v3m-2-1v2m-1 0v4m3-3h2m43 5h2m-2 0v4m4-4v2m1-3h2m1 2v2m5-1h2m10 0h4m2-8v3m1 0h4m-1-1h2m3 1v4m1-4h3m-2 0h3m-1 0h2m-1-3v2m0 0h2m8-2v2m2 1v3m4 0h2m0-6v2m0 4v4m1-2h2m2-8v2m1 5v2m0-9v4m0 4h2m0-7h2m-2-1h4m-2 4h3m-1-1h3m-3-3h2m-2 8v3m11-9h3m-2 1v4m4 1v2m1-8h3m-1 3v4m1-3h2m-1-6h3m2 6v3m6-1v3m2-11v2m0 4h3m3-6h4m-3 3h2m-2-2v3m1-2h3m-3 12h2m-2 3v3m-2-9h2m-4 0v3m-4-4v3m0-4v2m-20 2h3m-8 0h3m-4 3v4m-8-8v2m-10-5h4m-4 1v2m0 3h2m-6-2h3m-42-3v4m-7 1h2m-2-3h2m-3 0h3m-6 2h4m-10-4v4m0-1v2m-16-4h2m36 9v3m35 0h4m-3-5h2m-1 5v3m1-3v3m1-4v3m0-7v2m1 4v2m1-6h3m-1 4h3m-2 2v3m1-3v2m2-6v2m3-3v4m2-7v3m2 0h3m0 3h3m-3-3h2m-1 0v3m2 0h2m-1 0h4m-2-5h3m-3 7h2m1-3v4m0-2v3m1-7h4m-1 4h4m-3-5h3m16 12h4m-4-1h3m-4-2v2m-10 2v4m-2-6v2m0 2v2m0-6v4m-1 0h4m-6-1h2m-4-4v3m-5-5h3m-6 0h2m-5-1v2m-3 11h3m0 2v3m2-1v2m15-9v4m1 0h3m-2 1h2m5 2v4m1-4h2m-2-3v4m2-2v4m0-11h4m-4 5h3m-3-5h3m-3 7v4m0-4h3m-3-3h4m-4-4v4m0 12v2m-1-3v3m-2-6h3m-6 3h2m-2 2v2m-1-4v2m0-8v2m-5 0h2m-6-1h3m-5 7h3m-4-6h2m-5-2h4m-5 8v3m0-4h2m-3-1v4m-3-5v2m14 6h3m-2 2v2m0-4h3m0-1v2m3-4h3m-2 7h4m1-5v3m0 0v2m0-1v2m0-8h4m-4 2h3m-3-3v4m0 5h2"/>
</g></g>
<g clip-path="url(#cq10)"><g id="d3" transform="translate(573,50.4) scale(0.25)">
<path stroke="#17becf" d="M106 7h3m89 1h3m231-2v2m4 6h3m-253 2h4m-19-3h4m-15-2v3m-39-3v3m-14 0h4m-72 2h4m52 8v4m12-9v3m13-1h3m64 1h2m13-4h2m7 0h4m-1 7v3m2-2v4m207-11h4m9 14h4m-260 1v2m-23-1v3m-17-10v4m-7-2v4m-46-7h2m-31 1v3m-20-1v4m9 10v3m29-9h2m15 3h2m9-4v2m3-2v3m21-2v2m4 2v3m12-5h3m5 3v4m4-5h3m32-6v4m1-3h3m20 6h2m207-2h4m8 0h2m-2-2v4m0 7v4m0-4v4m-5-4h3m-8-3h2m-197 1v2m-19-2v2m-6-4v4m-9 1h3m-7 1h3m-38-2h2m-11-3h3m-12 5h4m-44-7h4m-55 7v3m-25-4h4m-20 1v3m-2-2v3m18 2h4m9 4v2m12-2v4m1-5v2m5-9v4m2 3h2m1 0v3m16-9v4m0 2h3m116-3h4m-2-2h3m22 1v2m10 3v4m1-5v4m183-3h3m17-3v3m0 8v3m-241-9h3m-20 4h4m-5-2v4m-8 1h4m-6-6v2m-15 2h2m-9-6h4m-6 1v3m-25-1h3m-25 4v4m-6-9v3m-26-1v4m-26-6v2m-20 10v3m8-6v3m22-1h3m7 4v4m31-7v2m13 1h4m46-8v3m3-1h4m11 0h4m35 4h4m-1-6h2m6 0v4m0-3v2m213 2h3m0-1h4m-4 6h4m-43 0v4m-135 3v2m-4-6h3m-24-1h2m-46 3v4m-27-9v3m-14-2h4m-7 2v3m-22-5v3m-75-2v2m-29-1v4m0-2v3m-16 0h3m6 8v4m68-4v3m6-7v3m34-3h2m1 1v2m58-4v3m42-5v3m3 3v3m4-4v3m1-6v2m148 2h2m34-3h3m12 0h2m-5 6v4m-4 3v4m-7-5h4m-6 0h4m-38-6v2m-95 5v2m-19-7v3m-1-6v3m-15 1v2m-20 1h3m-61-4h2m-13 4v2m-26-5h2m-7-1h2m-40-2v4m-8-5v3m-9-1v3m-17-4h3m-7 7h4m-37-1v2m-6-9h2m-15 9v4m1 0v4m7-4v4m16-1v3m12-10h4m18 8h3m-1-4v3m0-7h2m14 2h3m7 5h4m-3-1h3m108-6v2m5 2v4m21-7v2m7-3v2m17 3v4m6-9h2m58 5v2m2 0h2m3 0h3m-1-3v2m25-2v2m82-1h4m-4-1v3m0 2v3m-55 5v2m-1-4h2m-18-4v4m-18-6h4m-10 2v4m-7 2h2m-77-4h4m-72 0v4m-53-3h3m-38 2v3m-1-2h4m-49-6v4m-23 0v4m-4-5v3m-4-4h4m-8-1h2m-7 1h4m-14 5h4m22 2h3m7 6h2m2 0h2m-1-4h4m52-3h2m2 1h3m37 0v3m2-2h2m34-3v4m33 3h2m63-4v4m19-5h3m2 5h3m7-5h3m51 4h4m30 0v2m1-2h4m-1-1h4m12 0h3m1 0v3m2-3h4m-10 7h4m-11 1v4m-5 0h4m-17-1v3m-13-10h2m-27 0h2m-8 1v3m-6 3h3m-12-5h4m-48-2v4m-11-1h3m-20-1v4m-21-1v2m-9-7h2m-20 1v4m-25 3h4m-6-6h3m-29 4h3m-58-4h2m-16 5v3m-53-10h3m-3 7h2m-6-7v4m6 7h2m0 1h3m7 0h3m8-3v4m8-3h3m31 6v2m27-7v4m2 2h2m6-7v2m51 4h3m8-2v4m3-7h2m38 0v3m10 2v4m11-11v2m52 4h3m5-5h3m2 2h3m0 0h4m32-1v4m11-6v2m6 5h4m-1-4v3m6-3v2m4-4h2m-22 13h3m-47-3v4m-5-5v2m-3 1v4m-5-3v3m-8-7h2m-7 3h4m-5-3v3m-1 2h2m-16-6h2m-54 6v3m-4-2h3m-14-5v4m-8 2h3m-13-8h4m-72 4v3m-27 1v4m-5-4h4m-4 0v3m-26-4h4m-8 1h3m-30-3h2m-4-5v4m37 10h4m11-5v2m1 4v3m3-7v2m44-4h3m0 6v3m12-3h3m-3-1h3m-2 3v4m18-9h4m18 1h3m17 0h3m39 2h3m39-5v4m33-4v4m4-2v3m46-2v2m-65 10h3m-42-4v4m-6 1v2m-12-7h2m-4-3h4m-23 7h2m-10-7h3m-16 1v4m-50 3v2m-91-10v4m15 13h4m5-2h2m36 0v4m1-4v2m8-8h2m63 5v3m2-8h2m0 0h3m57 7v3m24-9v2m57-3h3m18 7h4m-7 2h3m-23 4h4m-12 0h4m-25 1v3m-80-2h4m-35-6h2m-13 5v2m-8-2v3m-32-8v4m-12 1h3m-9-4h3m-5 2h3m-33 2v2m-24-3v3m-4-6v4m-17 0h2m2 8h3m-1 2h3m2-1v4m3-7v3m9 3h4m51-6v2m0 0v2m30 1v2m11-2v3m9-10h4m0 3v2m3-1h3m10-4v2m56-2v2m9-1v2m5 3h2m4 0v4m10-8v2m22 0v4m33 0v4m9-12h3m29 6v3m-36 0h4m-25 1v2m-36 5v2m-8-9h3m-7 2h3m-17 0h2m-93 4v3m-19-6v2m-16-3v3m-6-1h2m-3 1v2m-30-8v3m1 9v2m5-5v2m1-1v3m20 3h4m0-2v2m2-1h3m39-5v3m57-1v3m28 1h2m8-7h4m0 2v2m13 3h3m6-1v4m18-5h3m26-3h4m-2 1h4m29 4v3m4-5v3m1-5v4m1-3v3m13-6v3m0 0v2m-27 10h4m-36 1h4m-50-4h4m-14-2h4m-25 0h3m-46 0v2m-6 2h2m-67-4h3m-34 2v3m-8-7h3m-31 1v3m-9 5h3m2 2h2m3-1h2m9 7h3m5-8v3m39-3v4m14 0v2m46 2v4m11-4v4m2-8h3m26 0h3m0-2v2m3 2h3m39 1h3m2-3v2m2 2v2m67-7h3m12-2h2m16 3h2m-7 13h3m-73-5h2m-23-1v4m-8-2h4m-44 0h4m-7-1v2m-8-4h4m-8 1h4m-16 3h2m-14 0h2m-33-1v3m-2-2h4m-6-1v2m-14-3h3m-11 3h3m-29-2v4m-7-8h3m-15 2v2m-13 8v2m1-4h2m11 5h2m3 2v2m4-5v2m40-6v3m3 4h3m0-4h2m41 1v2m1-4h4m0 1h2m26 4v2m39-9v3m30 4v2m7-4v3m31-1h3m33-6v3m-10 11v3m-4-2v3m-24-11v4m-17 2h4m-5-3h2m-41 4v4m-6-3h3m-6-4v4m-34-8v4m-20-2v4m-23 0v4m-29-2v2m-10-3h2m-4-2h4m-17 0h4m-18 1h3m-19-6h3m-6 4v3m-26-1v4m3 0h2m69 1h4m11 0h3m19 0h3m6 2v4m24-3v4m18-4h4m-2 1v3m7-3v3m31-5v2m1-6h3m6 6h4m-4-4h3m15 4v2m2 0h3m1 0v2m4-6v4m3-7v4m53 0v3m9-6v2m-33 5h4m-7 7v4m-18-5h2m-18-5v4m-4-4v3m0 0h2m-53-2h3m-15 4h3m-38-1h3m-18 3h3m-49-2v2m-8-1h2m-51-6v4m-125 8h4m17-1h2m105 2h2m5 3h3m5-5h4m52-1h4m1 1v4m1-1v3m10-7v3m16-4v4m25 0v2m3-6v2m3 4v2m45-5v3m18-6h3m1-1v3m48 2h4m-3-4v4m20-5v4m-3 13h3m-23-7h3m-12 3h4m-17 4v4m-6-12h4m-11 0v2m-12 3v3m-4-3v4m-16-9v3m-38 3v2m-4-5h4m-5 3h3m-7-6h4m-6 1h2m-5-1h2m-10 7h3m-5-5v3m-6 0h2m-24-4v3m-6-2v2m-3 2v4m-16-8h3m-53 6h4m44 8v4m17-3h3m15-6v2m2-4h4m48 1v2m6-1v2m112 4h2m5-8h4m6 5v3m0 3v4m0-4h2m-6 5v3m-32-5h2m-14-4h4m-19 7v2m-58-2v2m-4-4h3m-27-1v3m-6-3h2m-39 0v4m-36-9v3m-4-3v4m-5-1v3m-180-3h4m186 10v3m64 0h2m7-5v2m5 1h2m3-5v3m33 3h2m49-3v3m38-3h4m14 1v4m4-3h2m-31 11h2m-6 0h4m-6 0h2m-22-3h3m-27 3h2m-4-6v2m-60 2v2m-19-5h4m-35 4v3m-3-3h2m-3-5v2m-3-3h4m-19 7h3m-11-5h4m-204 11h4m256 1h4m0 1h4m2-5h3m9 1v3m5 1v3m0-8v2m24-3v3m10 0h2m-1 4v3m21-10h2m6 2h3m10 5v4m11-3h4m-1-4h3m-1 4h4m37 4v2m-1-1h2m-17-3h4m-7 0v2m-56 5h4m-57-6v4m-18-1h4m-7-2h2m-4 2v4m-12-7v3m-9-4h2m44 9h4m122 15v2m0-7v2m-4-3h3m-16 5h4m-35-5h4m-41-1h3m70 19v4m-1 1h3m-4-5h2"/>
<path stroke="#d62728" d="M48 8v3m35-5v4m80-3h3m1-1h2m19 0v2m7-2h3m25 0h2m-32 5h3m-111 0v4m-79-5h2m92 13h4m13 2v4m96-11h2m212 1v3m-208 6v2m-25 3v2m-86-3h3m-25 7v2m119-1h4m2 3v2m3-5h3m16-4v3m190-1h2m11 6h2m-5 6v2m-244-7v3m-8-3h2m-10 3h3m-93 4v2m-29-9v4m-48 2h3m61 3h4m82 1v2m78 9v2m-26 2v3m-24-9h3m-5 6v3m-35-2h4m-95-5h4m-14 4h4m-42-7h3m-5 0v2m53 14v3m72-3h4m95 1h3m23-2v2m164-7h2m3 16v3m-171-6h3m-16-2h3m-11-1v3m-93 2v3m-49-5v4m-9-7h3m-69-2v3m-10 10h3m54 0v2m57 2v4m98-8h3m8 1h3m150 0v2m0 5h4m-134 0v2m-200 2v2m-43-5v4m1 7v2m49-7v3m35 0h3m35-3v3m41-1v4m45-2h2m7-3h3m8 3h4m13 1v2m35-1h4m22 1h2m3 0h4m111 0v4m-60 1h2m-27 3v4m-31-9v4m-9-1h4m-267 10h3m220 2v4m12-4v4m149-10h3m-30 14v2m-19-7v2m-10 4v4m-1-11v3m-94 4h3m-5-5v3m-8 2h2m-27-8v3m-81 1h4m-42 4v2m-3-8v3m-59 0h2m-11 3h4m-17-7h2m-16 5v2m50 1h2m38 8v4m22-9h2m41 1v2m33-3h4m28 0v2m0 2h4m93-7v3m6 1v4m52-5v4m5-4v2m-283 11v3m-15-9v4m-52-3h3m17 12v3m20-3v3m19-1h3m22-2h3m30 1h3m16 0v4m21-5h4m62-3v4m119 2v4m-62-2v2m-7-1h4m-66 1h3m-11-3v4m-3 1h4m-49-3h4m-20 0v3m-49-3h2m-52-2v3m71 13v3m7-4h4m0 2h2m-1-6h3m102-2v4m4 2h2m0 0h4m23-2h4m57 10h3m-5-2h2m-28-2v4m-27 1h3m-58 0v2m-103-1v3m-50-2v4m-7-5v4m-25-11v2m20 9h2m41 0v3m7-3v4m19-6h4m89 6v2m32-4v4m5-4v2m59-2h2m-47 6h2m-56 4h3m-54-3v3m-71 10v4m10-9h3m15-1h2m211 4h2m50-1h4m-4-2h3m-26 9v4m-60 1v3m-106-1v3m-53-5h3m-11 2h4m-46-1v3m-35-3h2m-5-6h4m2 14v4m47-2v3m78-4h4m-3 0v4m13-9h4m100 6h4m48 7h2m-45-3v4m-182-5v4m20 6h4m30 1v4m15-6v2m83 3h4m7-7v3m27 5v2m9 4h2m-56-5v2m-40-1v3m-22 1v4m-22-4v2m-69-5v3m79 7v2m23-1v2m77 2v2m22-6v3m42-1h4m-2-1h2m8 0v4m-185 1v2m-25 5v2m-53-10h3m-23 2v2m-1 2v4m29 0v3m30-1h2m80 0v4m50-1h2m74 11h3m-3-6v2m-12 0h3m-29-4v2m-86 6h2m-30-3v2m-54 8h3m-2-6v2m42 4v4m74-10v4m4 3h4m-3-2v4m9-9v4m71 10h2m-17 3v4m-24-4h3m-8 0v2m-48-8h3m-36 2v2m-23 2v3m-30-6v3m-27 6h2m5 2h3m19-5h2m19 4v3m9-6h4m105-2h3m62 0v3m0 13h3m-49-5h4m-11 3h2m-40 2h3m-75 0v3m-54-10h2m-202 14h3m244 1h4m3-4h4m136-2v4m23 1h3m-65 13h4m26 3h3m29-4v4m-9 20h3m-9 11h2"/>
<path stroke="#ff7f0e" d="M6 6h3m23 0h4m5 2h4m47-2v4m74-4h2m268 5h2m-2 4h4m-227-4v3m-100 2h4m-14 0h3m-25-2h3m-47 4v2m61 3v3m25-4v3m15 0v3m291-9v2m-344 14h4m-6 0v4m-53-9h4m59 13h4m59-4v4m2-1h3m1-6v4m25 4h3m11-2v3m11-9v4m215 1v3m-8 7h4m-193-5h2m-65 3v4m-4-7h2m-32-1h3m-44 1h2m-69 3h4m22 10h2m25-4h3m104 6v2m9-3v3m242 0v3m-197 5v4m-42-10h4m-36-1v3m-137 4h3m-17 0h4m22 4h2m0 1v2m35 1v4m80-5v4m50-6v4m3-4v3m224-7h3m-1 5h3m-5 7v4m-18-2v3m-150-1h2m-17 0h3m-97-7v2m0 1h4m-10 2v2m-14-2h3m-105-2v2m-21-1v2m-8 0v2m13 7v4m23-6v4m2-2v4m1-9v2m4-2v4m33 1v4m47-8h3m17 4v3m0-3h2m44 1v2m45-3v4m28-3h2m130-2v4m0 8v3m-24-3h2m-101-5v3m-2-1h3m-43-2v3m-5-5h4m-34 1h2m-10 1v4m-32-1h4m-45 1h3m-75-1h3m-10-5v2m-4 2v4m-16-7h4m-18 11h2m1-4h4m1 8v4m1-12h4m45 6h4m60-1h4m4 2v4m12-11h3m37 0h2m22 7v4m77-11v2m111 6h2m29-7h2m-21 16v4m-20-7h2m-31-5h4m-6 0h2m-16 3h4m-40 2h4m-5-5h3m-35 8v3m-142-5h4m-49 0v2m-2-7h4m-43-1h2m-37 5h3m-12 10v4m87-6v4m76-5h4m17-1v4m106 0h3m7-5v3m123 2h3m-4 4h3m-73-1v2m-32 4v2m-44-4v2m-35-5h4m-30 0v4m-34 1h2m-71-2h4m-47 4v3m-2-4h2m-48-4h2m18 7v2m6-3v4m27-2v4m5 2v4m75-10h3m25 5h3m23-7v3m58-2v4m21 2v2m23-2h2m3 1h4m6-1h2m8-6v4m41-2h4m5 14h4m-44-2h4m-7-4h3m-99-1v3m-13 0v3m-39-2v2m-5-7v4m-47 3v2m-34-6v4m-20-5v2m48 7h3m70 3h3m3-1h4m-4 0h2m14 2v4m0-2v2m3-6v2m29 5v2m-94 0h2m-73 10v2m73 1h2m53 0h3m2-4v4m14 0h3m44-6h4m50 7h3m-11 2v2m-40 2h4m-147-5v4m-47-3h3m-5 11v3m49-3v4m43-6v4m111-2h2m90-3v4m29 9v4m-57-7v3m-19 3v4m-13-9h4m-16 5h3m-33-5v3m-3-4h3m-43 0v2m-132-3v4m-16 1h4m-9 0v2m-7-6v4m-3 2h2m34 2h2m15 0h2m18 6v3m108-10h3m34 6h2m3-2h2m88 4v2m4 1v4m-13-1h4m-85-4h4m-11 0h2m-49 2v2m-1-2h4m-14 1v2m-65-4h4m-22-2h2m-51 4v2m-23-5v2m25 7v4m77 2h4m1 0h4m-4 0h2m103-4v4m114 8v3m-47-4h3m-84 3v4m-9-8v2m-50 1v2m-67-9v4m-32-1v4m-8-6v3m-12-3v4m-8-5h3m5 9h4m19 2v3m115-2v4m2-3v4m68-7h4m0 5v4m-121-1v2m-4 0v4m-16-1h2m-52 10h4m25-5v4m24 1v3m144-6h2m94 11v4m-20-6h4m-54-1v2m-85 1v3m-37-7h3m-27-1v4m-1-3v4m-47 2h4m-7-2h2m-11 6v3m162 2h3m3-4v3m83 2h3m-76 2v3m-4 0h4m-7-3v2m-12-2h3m-35 3h3m-23 4h3m-7 0v4m-37-10h4m-14 0v3m-6 0h3m-26 1v2m76 4h4m45 0h3m44-2v4m20 0h3m29-5h2m18 11v2m-4 0v2m-25-2h2m-35-4v2m-32 0h2m-10-1h4m-113 0v4m-5-3h4m-7 2h3m-5 1h2m-15-2v3m20 9v4m3-10h2m1 5v3m1-3v2m30 0h4m40-1h3m111-6h2m16 6h4m-139 11h3m-56-4v3m-223-5h4m0 12h3m218 1v4m22-6v4m15-2v3m22-2h2m57-2v2m3-2v4m5-5v4m7-5v4m30 1h4m25-5h4m-4 9v2m-21-4v3m-42 0h3m-3-2h3m-65 1v4m-5 3v2m19 0v2m44-5v4m23 3v4m41 4v2m-93-6h3m65 14v2m8-7h4m16 4v3m-14 7h4m-420 2h4m4 3h4"/>
<path stroke="#8c564b" d="M105 8v4m321-6h2m-347 8v4m19 6h3m-1-6h3m108 2h4m3 7v3m-39 3v2m-113 2h2m117 0h2m247 3v3m0 8h4m-305-2v4m-73-7h3m121 13h2m52-3v3m-80 8h2m-9 4h4m-6-7h3m-129 6v2m32 5h4m30 1v2m14-4h3m27-1v2m54-4v4m18-3h2m23-2h2m-1 4h4m174 0v3m17-6h4m1 2h3m-12 8v2m0-1v3m-264 2v3m-56-11h2m-32 3h4m50 14v2m26-8h3m36 3h2m1 0v2m30-7v3m174 7h4m-116 7h3m-39-3v4m-27-9v3m-70 2h4m-153 3h2m1 2v2m74 1v4m2-2h2m99-6h4m180 3h4m3-3v2m-94 15h4m-169-7v3m-26 4h4m-61-3v4m-16-5v3m88 4v4m80-1h3m67-3v3m35 2h2m58 0v4m2-4v4m70-3h4m-301 1v4m-33 4v2m-27-5v3m14 8h2m3-3h4m18 4h3m-1-3v3m19-1v4m1-10v4m100 1h4m44-2h4m81-4v4m34-3h2m-125 12v4m-8-1v3m-162-6h3m-13 0v4m-29-6h3m35 10h3m43 0h4m6 1v4m110-7v2m82 0h3m-68 9h3m-40 2v4m-50-1h4m-32 0h2m-52 8h4m41 0v3m38-9h3m90 6h4m-1-1v2m79 1h3m-6 4h2m-9 0h2m-281 10h2m46-2v3m56-2h3m41 3v3m41-6h2m109-2v2m45 9h2m-14 1v4m-41-5h2m-65-3v3m-149 4h4m-1 2v4m91-1h4m11-4v4m46 4v3m29-7v4m58 5v3m-86-7h4m-8 3v2m-211 9h3m35-5v3m21 5v4m97-6v4m13-10h4m135 3v3m-7 3h2m-39 3v2m-226 2h3m101 10h4m5-5h3m50 3v3m-13 8h4m-16-3h3m-11-1v3m-123-7v4m12 7v2m129 3h4m2 3h2m-18 0h2m-8 0h2m-69 2v3m-39 10h3m49-4v4m44-1h4m48-5v4m13 0h4m-4 9h3m-4-1v3m-49-1v4m-30-4v2m-47 0v2m-26-6v3m119 3h2m18 4h4m62-2h2m43 8v3m-3-1h2m-102-2v3m-41 1v3m-14-5h4m-8 3v2m-62-6h4m-5-2h4m-17 4v2m-6-5v4m85 4h3m0 7v4m11-7h2m59 1v4m-23 2h2m-20 3v3m-28-3h4m-7-5v3m34 7v2m47 4h3m21-8v4m15 4h4m2-4v3m3-1v2m27 6h2m-131 2h2m-2 1h2m-287 7h4m301-1h3m37-1v3m64 3h2m1 11h3"/>
<path stroke="#279e68" d="M55 6h2m6 0v4m14-4h4m83 0h3m2 0v4m41-4v2m3-2v2m212-2h3m8 0h4m-228 8h4m-16-3h3m-12-1v3m-10 0h4m-68 1h3m-24 3h2m-55-7v4m-17 3h4m71 3v2m16 0v4m64-7v4m34 1h3m-55 7v4m-59 0v4m-18-9h2m-15 5v2m-5-4h4m-5 2h2m-15-8v3m-19 1v2m-29-4v4m55 7v4m16-6v3m12 0h2m-2 3h3m101-5v2m16 3v3m221-8h3m0-1h2m-205 9h3m-63 4v4m-31-9h4m-23 6h2m-18-6h4m-12 1h3m-15 2v3m-66 0v3m-3-8h4m56 11h4m-3-3h3m6 1v4m333 5v2m-180-2h4m-45 1v3m-106 1v2m-33-2v2m-52-4h3m23 12h4m8-3h4m11 3h2m42-6v2m2 4v2m48-10h4m2 2h3m4-1h4m-2 5h2m68 0v3m198-1h4m-180 6v4m-8-4v2m-7-1v3m-14-8v3m-67-1v3m-29-6v2m-40 5v4m-2-4v3m-1-8v3m-5 0v3m-3-5v4m-20-5h3m-4 6h2m-3-5h4m-7 4h3m-12-1h2m-3 1h3m-32-6h2m27 9v4m24 1h2m3-1h3m58 1v2m241 2v2m-140-3h4m-42 5h2m-24-3v3m-13-3h4m-23 4h2m-7 0h4m-36 1h2m-39-7h3m-11 3h4m-25 1h2m-7-3h2m-20 1h3m-4 3h2m-15-4h3m-2 13v2m19 0v2m38-2h3m25-1v3m26-8h2m30 4v2m1-5h2m11-1v2m1 5v3m65-10h2m51 6v2m7-6h4m32 3h2m30-4h4m-2 0v2m6 3v2m17-2h3m48 3h3m-50 3v4m-1-8v4m-35-3h4m-11 7v2m-3-8h4m-10 3v4m-25-2h2m-43 1h4m-106-3h2m-26 2h4m-96-2v2m-3-6v2m-5 3h3m-4-5v2m-5 5v2m-10-4v2m-6-6h2m-18 11v2m165-2h2m41 0v4m72-3h3m5-3h3m4 2v2m21-6h4m34 6h4m-2-6v3m53 8v4m-21-5h4m-13 5h4m-12-4v2m-1-1v3m-17-6h4m-19 7h3m-79-4h3m-43 1h2m-45 1h3m-7-2v4m-23 0v3m-24-3h3m-12-3v2m-19 1v2m-44-4h3m-19-1h2m-2 3h2m-20 0h2m19 4v4m8 1h4m22-2v2m5-6h2m15 5v4m36-7h4m65-1h4m37 6h2m68 0h3m50-4h4m5-1v2m35-5h4m-83 12h4m-7 3v4m-11-5h3m-19 2h4m-40-1v2m-143-6h4m-28 6v3m-36 1v2m11-1v2m41 0h3m8 2h2m61-7h2m38 5h2m3-2h2m43-1h4m19 0h2m-2 5v4m82-5v3m-53 1v4m-70-5v2m-7 2v3m-138 5h4m42 0h4m8-3h2m155-1v2m63 8v4m-13-5h2m-30 8h2m-95 0h2m-80-5v3m-3-6v4m-26 3v2m-51-3v4m-8 3h2m7-1h4m187 3v4m4-7v4m2 1v4m54-10v3m40 1v4m30 1v2m-81-3v2m-108 4v2m-104-1h4m-23 6v3m52-2v2m136-7v3m0-2v4m128-5v2m-6 8h2m-14 6h2m-68-7h2m-29 4v3m-64-7v4m-3-1h4m-45 4h3m-38-4v3m-68 5v3m5-5h2m0 2v4m15 1v4m53-8h2m1-1h3m59-3h4m-1 1v2m1-3v4m78 3h3m20 5h2m-3-3v4m-99 1h2m-47-1h2m-12-1h4m-21-2h3m-71 2h2m19 12v3m0-2v2m6-1v3m31-9h3m117 4h2m28-3h2m64 1h3m35 9v3m-56 0h3m-168 1h3m-3-1v2m-32 3v2m18-3h4m8 4v4m126-5h2m-2 2h2m13 1h3m9-1v4m12-8h3m39 1h4m17 9v4m-6-3v3m0-8h3m-22 2h3m-30-2h2m-13 8v4m-26-4v4m-14-10h2m-54 1v3m-10 0v2m-18-1v3m-101 4h2m78-3h3m35 2v3m65 0h2m96 9v2m-29-9v2m-9-1h4m-17 0v3m-2 4h3m-10-3h3m-36 0v2m-129-6v4m-6 2v3m-20-4v3m-7 4h2m-1 0h4m20-4h2m76 5h4m17 1h4m0 0h4m20-2v4m63-1v2m27-3v2m16-2v4m0 2v3m-2 2h2m-3-4h4m-8 1h2m-25 3v3m-10-10h2m-36 3v3m-5-6h4m-54 2v3m-4-2v3m-1 0v4m-63-5h2m3 4v4m29-1h4m71 4h4m15-8v4m25-1v2m19-3h3m4 4v3m18 2v2m-1-2v4m-1-3h3m-50 5v4m-4-6h4m-61-6v4m-99-3v3m-187-3h2m185 9h3m19 2v2m18 0v4m10-2h3m4-5h2m8 3v4m3-6h4m-2 2h3m9-5v4m22-1h4m2-2v4m44 2h2m51-3h3m-72 6h3m-3 2h2m-59 2v2m-4-3h3m-303 13v4m303-11v4m37 1v3m14-4v2m20-6h4m21 5v2m31-8h4m-36 11h2m-7-2h4m-393 28h3"/>
<path stroke="#1f77b4" d="M161 6h4m271 0h4m-237 7h2m-8 0h2m-28-1h3m-168 23h2m49 6h3m376 8h3m-250 6v2m247 12v4m-254-5v3m-143 1h4m10 17v4m37 3v2m98-7h3m-183 11h4m71 12v3m31-4v2m291 1h2m-313 11v4m146-3v3m26-2v2m5-1v3m116 0v3m38 6h3m-49-3h4m-7-1v4m-152-1h3m-80 8v4m64-6h4m133 10h2m-106 4v3m-5-11v2m-3 4h3m-5-1h4m-176-2h3m34 14v3m235-9v3m-45 8v4m-4-7h3m-11 1h3m-165 14h4m64-7h2m55 5v3m58-3v2m108 0v3m-300 8h3m277 1v3m-31 9h3m-29 1h3m-234 6v4m182 2v4m48-4h2m103 3h4m-310 12h3m263-5h4m20 2v3m-21 7h3m-63 4h4m-196 1h4m286 13h4m-172 5v3m-101-5v4m78 7h2m14 2h2m-17 7v2m-22 6h3m178 0h2m19-6h4m-10 15h3m-187-6v3m137 10v3m53-2h2m-182 19v4m189-6v2m-76 7v2m-53-5h3m-11 5h3m-19-6h2m-1 23h3m84 5v2m52 2v3"/>
<path stroke="#e377c2" d="M100 12v4m-17 20h3m146 11h2m-161 13v2m0 14h2m112-3h3m206 11h4m-164-3v4m-183-3v4m369 11h3m-155 8v4m-55-1v2m22 0v3m72 8h3m-150 3h3m-90-4h2m-38 2h2m-35 11h2m301-3h3m-67 5v3m-170 11h4m172 1v3m137 6h4m-128-5v4m-144 4h4m260 1h3m1 13h4m-232 9v4m17-5h2m57 0v3m113 3h2m-46 2h3m-69 17v2m32 9h3m141 7h3m-31 5v4m-270-4v3m56 5v4m116 6h3m-125 19h2m70 8v4m44 14h3m90 21v4m41 26h3m13 31h3m-10-4h2m-69-3h3"/>
<path stroke="#c5b0d5" d="M426 6v2m-220 9h3m-35 0h4m-81 0h4m-8 9h3m47 0v2m54 11h3m223 3v2m13-3h2m-239 10h4m-84-5v3m-39 1h3m104 12h2m-23 5h2m-122 9h2m95 0h4m-95 16v3m202 3v3m-22 0h4m-5-1h2m-34 4v4m-22-7h3m-48 10v2m109 2h2m45-1v3m82-6v4m34 0v4m-235 5v2m-96-2h3m35 3v2m15 0v2m18-4h4m38 7v4m144 2h3m-150 0v2m-104 9v3m253-4v4m27-6h2m10 3h2m23-4h4m-221 7v2m-58-1v2m-13 2v2m42 4h3m25 4v3m55-5v3m13-7h4m129 6h2m-114 9h2m-5-1v4m-3-7h2m-15 3v3m-167-4v2m154 8h2m145 11v4m-42-8v2m-69-5h3m-72 0h3m-37 0v3m-14 4v3m-19 1v2m68 0v4m6-8h4m-4 6v3m63-2h3m99-8v2m3 2h2m7 1v2m4-5v3m30 2v2m1 8h2m-4-4h3m-18-4v3m-49 0v4m-12-4h2m-76 3v4m-4-2h3m-9-5h4m-51-1h3m-68 4v2m-9 0v4m-16 1h3m129-4v2m35 2v2m60 2h3m1 0v3m5-11h3m26 6v4m29-2v2m1-9v2m1 1v3m14-4v3m-44 6h2m-3 4h2m-38-1h4m-41-6v2m-1-2h4m-26 0v4m-23 4v2m-3-5h2m-13-3v4m-70-5v4m-38-5v3m-3 3v3m-8 7v3m18-8h2m27 3v4m0-9v3m11 1h3m66 3v2m70-7v4m22-5h2m2 0v3m0 3h4m20-3h2m14 2h2m1 2h2m2-5h4m0-1h3m8-2h3m-11 11h2m-6-1v2m-10-2v3m-38 1h3m-34-5v3m-5 2h4m-38-5h4m-12 1h2m-36-1h2m-49 2v3m-2-3v4m-12 2v4m-53-2v4m5-2v2m67-2v4m48 0h3m40-1v3m29-6v3m5-3v3m20 0v3m69 0h3m-22 1h4m-17 2h2m-29-2v2m-22-3h4m-12 8h4m-8-5v4m-14-5h2m-21 5v2m0-3v2m-10-7h3m-39 1v4m-2 2h3m-28-6v2m-17-3h2m-44-1h2m-16 15h4m40-3v4m5-1h4m21-5v3m13 0h2m7 3v4m33-4v2m39-3h4m-2-4v3m17-1v2m7 0v3m28-4v4m66 2v3m-87-3h4m-39 2v2m-37-1v4m-12-4h4m-22 2h2m-23-2v3m-21-1h3m-7-4v4m-28-6h3m-7-1v2m-23-1h2m-6 0h2m34 15h2m24-5v4m11-1h2m1 0v3m9-1v3m11-10v4m28-4h3m19 3h2m33 2h4m70-3h2m11 6v2m26 4v2m-4-3v3m-29 0h4m-18 1v2m-9-6h3m-28 4v4m-28-9v3m-68-3v3m-11-2v3m-3-6v2m-2-3v4m-20-2v4m114 8h4m15-1v4m14 0v3m14-11h4m25 0v3m17 12h4m-36 0v4m-13-3v3m-35-4v2m-77-2v3m-239 3h4m303 5h3m89 2v4m-71-4v2m-18 1v2m-11-4v3m-51 0v3m-36-7v3m158 7v3m-40 8v3m-35 3h4m64 8v4"/>
<path stroke="#aec7e8" d="M185 8v2m34-1h2m-160 39h4m-29 14h4m11-3v4m-26 17h2m49-3v4m83-4h2m69 7v3m-113-3h2m-97 11v4m404 4v2m-360-6v4m-47 1v3m152 2v3m39-3v3m105-1v4m6-1v4m45-5v2m35-4h3m8 9v4m-103-7h3m-3 8h3m-125-4h4m-58-1v2m-53-2h2m183 12h4m109-2h3m8 8h4m-239 5v2m-27-4h3m32 7h2m57 3v4m23-5h4m78 5v3m-97-2h3m-107 9h4m266 13v3m-2-7h2m-117-3h4m-96 3v3m-8-6v4m-2 0v4m-34 7h2m27-2h2m10-3h3m224 5v2m-139 2h4m-38 1h4m-85-1h2m-21 16h3m157-6v2m6-4v4m1-1h3m32 2v2m32-7h4m-124 13h3m-105 12v4m108-4h3m2-2h4m67 1v3m44-6h2m17 13h4m-10-2h2m-279 5h2m12 3v4m17-6v3m207 2h4m6-3h2m2 11h2m-13-3v4m-12-1h4m-169-1v3m-31-6v4m-5-4h4m5 7h3m63 8h2m82-5h2m58-2v4m5 6h4m-124 5v3m-90 1h3m102 3v2m43 1v2m9-3h3m23-4h2m18 5h4m47 8v4m-122-10v3m-42 11v2m86-4v2m31-4h3m-26 12h2m-11-1v4m-11 0v2m-100-4v4m-16-1v2m224 14v2m-24-1h3m-30-5v2m-9-5h2m-10 5h2m-49-3h3m-71 6h3m72 5h2m58 13h4m-44 0v3m70-2v4m10 4v3m17 24v4"/>
<path stroke="#c49c94" d="M50 6h3m68 0v4m3 12v3m90 18h3m-11 9h4m-45 15h3m30 24h4m196 34h4m-56 18h4m-261 6h2m159 10v3m-171 8h3m8-8h4m55 7v4m85-9h3m110 0h4m54 3h3m-237 27v3m-44 4v3m175 0v4m46 0h4m11 37h3m-45 16h2m-11 20v2m-92-4v4m-19 5v2m76-1v2m146 22v2m-141 13h3m136 14h3m-392 59v3"/>
<path stroke="#ffbb78" d="M209 40h4m-159 23h4m343 20v3m-133 3h4m-41-1h3m-228 8h2m197-6h4m224 4v4m-181 7v3m142 10h4m-362 2v4m-2 0h3m-29 0h3m89 4h4m76 1v3m174-3h4m21 4v3m-189-1h4m-166 6h3m100 6h2m208 12v3m51 14h2m-268 10v4m2-5v3m222 8v3m-241 12h2m133 6v2m154 11v2m38 10h2m-125 15v4m-84 10h2m108 6v2m-106 17h4m0-5v3m-55 15h3m-148 18v3m265-2h2m23 12v4m-55-4v3m106 0h4m10 7h3m3-6h2m-86 14h3m18 5v4"/>
<path stroke="#ff9896" d="M38 6h3m152 2v4m-7 36h4m-113 13h2m51 17v3m14-9h2m-32 12v3m-13 0v3m321 7h4m-65 20v2m-195 8v4m112 4v3m-8-3h3m-171 3v3m51 8v3m117 7v4m-141 23v3m296 22h3m-220 0v4m-53 20h2m-17 13h2m19 4v4m255 12h2m-81-1v3m-7-1h3m-117-5h2m195 6v2m-222 38h2m6 13h4m-197 17v4m338-1h2m90 8h2"/>
<path stroke="#f7b6d2" d="M65 47v2m371 11v3m0-1h4m-32 12v4m-400 32v3m220-5h2m-108 20v4m314 0v3m-351 11h2m76 1h2m119 1v2m-53 7v2m-6-5v2m-9-1v2m176 6v4m-215 30v2m-92-10h2m125 10h4m125 7h2m38 13h4m-134 21v3m74-5h4m106 4h3m-68 5h2m-150-3v2m139 10v4m8 2h2m-10 0h3m-186 1v2m133 8v4m62 8h4m-14-6v2m-60 0v4m-63 7v2m95-1v4m-65 13v3m7 5h4m-29 13h3m124-4h2m55 11v3m-106-3v3m25 3h4m66 41h3"/>
<path stroke="#aa40fc" d="M156 15h4m-54-1h3m-34-4h2m105 26v3m254 7v4m-13 11h3m-289 8h3m-48 4v2m344 9v2m-345-3h2m-80 1h3m220 7h2m181 6v3m-20 17h2m34 15h2m-250 17v3m-12 15v3m-12 54v2m62-10v3m108-2h4m-12 11h3m-151 4h2m67 9v2m8-4h2m155-4h2m-31 9v2m-6 2h4m-51 8h3m84-4v4m-177 9h4m68 13h3m15-4h2m68 8v3m-199-1h4m205 20h4m-94-2v2m100 11h4m-102 7v2m-7-5h2m30 17v3m-49 10v2m54 17v3"/>
<path stroke="#98df8a" d="M180 16v4m-8-3v4m-23 21h3m-28 9h2m37 19v4m69 8v4m-187-2h2m383 17v2m-303-2h4m-51 16h4m58 14h4m43 3h4m-149 9v4m290 23v2m-227 7h3m27 5v2m241 4v3m-243 12h2m53 1h2m176-5v3m55 1h4m-115 10h3m-192 0h2m-9 6v2m96-7v2m141 5v3m-73 4v4m-16-4v3m-107 6v2m278-3h2m-193 6h3m-100 33v2m191 1v2m18 13v4m80 17h2m-110 1v3m-50-3h3m-14-2h2m121 15v3m-382 5v3m362 24h3"/>
<path stroke="#b5bd61" d="M176 12h2m-97-1v2m151 13h4m-19 5h2m-4 84v3m-68 14h2m251-4v2m-289 40h4m45-4h2m33 9h2m-38 33v3m171 20v2m-155 4v4m4 17v3m254 8h2m-145-1v3m-157-4h2m241 17h3m54 21h4m-96 10v3m-306 8v3m172-4h2m219 42h3"/>
<path stroke="#b5bd61" d="M224 12h3m-44 1v2m4 57v2m222 5v2m25 1v4m-207-1h2m-111-2h4m253 41v2m58 0h2m-240 48v2m175 13h3m-158 25h2m43 5v3m129 26v4m-151-9v2m-4 0v3m-68 13v3m65 23v4m99 9h4m66 17v3"/>
<path stroke="#98df8a" d="M108 6h3m77 1v3m24 5h3m-87 50v3m-53 0h3m79 7v3m265 10h3m-279-6v4m38 11h4m92 0h3m116 2v2m-348 5v4m132 1h4m2 1h2m179-3v3m29 13h2m-214 23h4m46 1v3m125 1h3m-163 3h4m-84-1v3m-10-2v4m19 23v4m140-7v3m70 11h4m-259-3v3m5 12v3m23-10h2m53 5h3m256 2v2m-162 6h2m-114 1h3m-14 2h2m215 14h2m-43 11h3m11-3h4m52 12v2m-205-9v2m-41-3h2m222 23v4m37 6v3m-101 1h4m-10 4v4m-1-7v3m-13 8v3m-5 7v2m-47-4v4m121 2v4m-69 13h2m-74-6v3m118 28h2m17 17v3"/>
<path stroke="#aa40fc" d="M202 16v4m-35-4h2m-20-3h4m36 36v4m-130-5v2m-25 5v2m375 14v2m-251-4v2m5 4h4m242 7v2m-284 1h4m137 7h4m-4-1h3m130 5h4m-140 17h2m171-2h4m-151 9h3m-216-3h2m-72 15v2m211-2h2m30 1v2m-202 12h2m166 3h3m96 6v4m-250-7h2m312 17h4m5-1v2m4 1v2m-307-3v4m294 15v2m-185 9v4m18-1v3m196-2v2m23-2v3m-47-1h2m-233 0h3m281 11h4m-70 7h4m-129 13h3m10 4v2m178-4v3m-23 7v2m-209-6h4m83 17v4m-87-4h4m-36 5v4m-38-1h2m97 21h4m-3 9v3m-7 7v3m209 8v2m-132-5v4m-2-5v3m-64 11h4"/>
<path stroke="#f7b6d2" d="M80 16v2m72 18h3m0 10h4m-77 16h3m48 13h4m-98 30h4m178 7v4m99 8h2m-164 19h4m-79-6h4m-5 37v3m137 11v3m134 3v2m-215 5v2m167 1v3m30-3v2m-20 5v4m-45-1h2m-14 1v2m34 6v2m-36 3h3m-106 10v4m1-4h2m145 12v3m-37-10v3m-95 0v3m144 11v3m123 6v4m-149-8v3m-41 8v4m23-9h2m69 6h4m-19 10h4m-116 7h2m1-4v3m43-2h4m41 11h4m-27 24v3"/>
<path stroke="#ff9896" d="M213 34v4m-126-6v4m-30-7h3m169 17h3m-106 2h4m72 18v4m-113 9h2m51 7h3m-19 44v2m297 7h2m-226 19h2m116 5v4m-189 19h4m57 17v4m156 5h2m-67 11h2m16-3h2m67 1h3m-115 6v4m-97-1h3m-11-3h2m-41 15h3m6 3v3m0 10v3m59-1v3m-26 0v2m50 13v2m15-3h4m117 3v3m-115 3v4m-6-10h2m207 21v4m-243-4v2m96 11h4m129 19h4m-150 5v2m-2-6v2m35 8h2m88 2h3m-40 20v3"/>
<path stroke="#ffbb78" d="M435 6h3m-279 7v3m-77-6h3m-12 47v3m126 1h4m215-5h4m5 7v4m-192-1v4m-229 5h3m154-1v4m273 3v2m-37 3h3m-353 1v4m86 6v2m72-9v3m28-2h2m144 5h3m-144 11v3m18 15v4m-53-12v2m-157 12h4m67-2v3m162-3h3m146 8v2m-60 1v3m-118-4v2m-72-4v4m-91 8h3m120 0h4m95 6h3m-68-1h3m-62 8v2m96 8h4m-54 3h2m-152-1h4m82 14h3m4-6v4m238 8h2m-117-4h2m-191 16h4m44-2v4m252-6v2m11 2v4m-72 1h2m78 16v4m-41-2v2m-149 6v4m100 9h2m-6 0h2m-196-4v4m34 3h4m19-1h3m25 0h3m55 2h2m-20 17h4m19 2v3m58 11v2m-42-5v3m-81-2h4m103 8v4m31-5h4m-187 19v3m155 5h3m-70-2v4m32 6v3m-278 13h3m335 8v4m-90-1v2m-239 8h3m293-3h3m-297 29h3"/>
<path stroke="#c49c94" d="M217 12h4m-122 6h3m86 4v2m-34 15h3m264 9h2m-287 0h3m-56 26h4m321 9v3m-5 11h3m-3 11v3m33 14h3m-289-2v4m202 2v2m31 5h3m-313 34v3m218-2h4m-198 26h3m120 5v2m191-4v3m-171 7v2m-29 0h3m-77 0h2m-38 7v2m227-3h2m51 0h4m31-1v2m-83 7h4m-230 3h4m0 5h3m211 3v2m12 10v2m-12-4h2m-76 12v2m3 39v2m-56 11h3m104 24h3m-10 4v2m-57 1h3m69 12h2m111 11h2"/>
<path stroke="#aec7e8" d="M6 8h3m155-2h2m8 7h2m-13-1h3m-6 15v3m-104-3v4m155 18h2m-66 20h3m-64 8h3m2-5h3m20 6v2m29 5v4m-37-2v3m-100 7h4m55 1v4m166-8h2m187 5v3m-234 2h4m-120-3h4m-68 10h4m182 5h2m5-5v4m60-2v4m123-8h3m51 15v3m-41-4h4m-390 11h2m212-2v4m72-10v3m115 14h4m-182-6v3m-131-1h2m139 6v2m41-1v2m32 13h4m-115-5v4m-127 7h4m256 5v4m-42-3h4m-23 16h2m-76 3v2m-16-3v2m-4-3v3m-66 6h3m15-1h4m1 3h4m55-1v4m13-6v4m16-3v3m135 2v2m-5 8h4m-52-6v2m-103-2h4m-73 4v2m-36 6v4m14-5v3m57-6h4m218 0h2m40 8h4m-181 8h3m-15-5v3m-64 9h3m61-2h4m-1 3v3m123-6h2m-1 0h4m-4 9v4m-11-2h2m-15 1h2m-68-4h3m-29-1v3m-3 2h2m-3-4h2m-15 1h4m-26 1h3m-96 8v4m185-6v3m41-1h2m-1 1v4m18 0v2m29 3h2m-26 2h4m-69 1v3m-88-4v2m-43-3h4m-33 5h3m24 0v4m79 2v4m37-4h4m77-5h2m2 5v3m57-1h4m-62 4h4m-103-4h2m-123 15v2m44-6v3m27-1h3m168 4h3m18-3h2m-20 10h2m-53-1h4m26 6h4m50 9h2m-37 1v4m-15-7v2m-158 0h2m-38-1v4m20 8v2m171-2v3m50-7h4m-3 10h3m-123 1v4m88 11v3m19-6v3m-122 6h3"/>
<path stroke="#c5b0d5" d="M40 8v2m41-3v3m-52 3h2m92 10h2m311 21h3m-22 6h4m-194 9v2m1 0h3m194 2h4m-199 22h4m-94-3v3m-97 12h2m18-1h3m334 1v2m-199 2v2m109 18v4m-52-3v2m-90 1h2m-141-4h2m405 9h2m-139 6v2m-65-2h2m-40 5v2m-19-4h3m-4-4v4m-23 4v4m-97 2v2m13 1v3m111-10v2m5 1h2m168-2h3m-116 10h2m-36 3h4m-17 2h3m-39 0v2m-48 2v3m15-1h4m62 0h4m60-3h3m15 1h4m60-3h3m48 8v2m0 5h4m-56-2h2m-6-1v4m-3-7h4m-47 6v2m-91-5h4m-15 5h3m-14-4h4m6 13v4m8-8h3m110 4h4m26-8v2m12 2h3m28 3v4m16-1h3m-7 6h4m-161-4v3m-63-6h2m-52 1v2m-17 14v4m78-9h3m9 0h2m1 2h4m-4 0h4m4 1v2m9-6v4m3-1v2m47-2v2m12 1h3m70 0v4m29-8h3m18 0v2m9 0h4m25 11h3m-49-2h4m-4 0v3m-32-4h4m-5-5v4m-24 3h3m-14-5h2m-74 3h3m-84-1v3m-42 6v4m39-4h3m87-1h2m2-1v2m28 3h3m34 1h4m-4-7h4m6 5h2m93 7h2m-50-2v3m-25-2h2m-83-1v3m-2-3v3m-87-1v3m-46-4h3m-35 7v2m5-1h2m45 5v2m1-9v3m23 1h2m7 1h4m5 3v3m44-3v4m2-5h2m14-6v3m45-1v3m9-5v3m11 2v2m45 0v2m1-6v2m4-2v3m7 1h4m11-3v4m7-8v4m-77 10v2m-69 0h3m-16-3h4m-52-4h2m-73-1v4m-8-4h3m50 13v4m22-3h4m-2-5h3m93 7v3m66-2v3m25-5v2m2-4h4m-3 3v2m11-4h2m-1-1h2m21-1v2m-24 11v4m0-5v3m-123-8h2m-32 2h2m-15 4v3m-17-8h4m-10 0v2m-30-2v4m-9 1h3m-6-5v2m-15-3v4m-26 1v2m89 9h4m21 0v4m60-12h3m-2 3h4m54 4h3m5 1v4m-4-1h4m-27 2v2m-7-5h3m-20 1h2m-3 6v4m-12-7h4m-12 2h2m-49-7h2m-85 1v4m92 6h4m21 3h2m31-5v2m10 6h2m6-1v4m68 4h4m-26 0h4m-129-6v2m-35-1h3m-11 7v4m0-8v2m-17-1h4m-4-5v2m-2 0v2m-2 2h4m-17 10v2m140-8v4m2-2v4m13-4h2m18-1v4m11-1v4m25-7v2m1-1h2m-4 11v2m-4 1v3m-20-9v4m-5-5h3m-31 4h2m-65-4v2m-39 3h3m-16 7v4m5-7h3m125 0v3m79-3v3m-186 16v3m17 0h2m87-5v3m8-2h2m65 16v3m-112-10v3m110 29v2m13 20v2"/>
<path stroke="#e377c2" d="M35 26v4m109-5v3m29-9v3m12 13h4m-39 9h2m-91 36v3m75-3v2m10 2h3m-140 2h4m420 12v2m-312 2v2m-5 1v3m-67 3v4m244-4v3m91-2h3m-74 12h2m-266-5h4m326 18v2m-196 17h2m-3 2h3m220 5v4m-329 6h4m307 11v2m-17 11h2m-93 1h3m60 7v3m16-4v2m11-3v2m-79 16h3m105 3h2m-27 2v3m-111 0v4m-80-5v3m143 14v2m-57 1h3m-94 6v3m60 0h2m148 2v2m-46 8v2m-29-10v2m-100 5h3m-9 1h3m193 11v3m-80 7h3m51 7h2m-70 17h3m-79 12h2m97 10h3m-35 9h3m11 9v3m93 15h3m-56-2h2m68 16h3"/>
<path stroke="#1f77b4" d="M146 23v2m-67 9v4m-20-8v3m-2-3h2m4 14v4m113-8v3m45-2h3m212-5v4m-227 7h2m-163 5v3m182 14h4m-173 11h3m71-5h3m292 11v3m-273-4h4m-114-4v4m24 12v4m67-10h2m69 18v2m47 4h2m90-7h4m46 3h4m-74 11v4m-10-2h3m-151-5h2m83 8v4m128 2v3m21 7v2m-166-7h4m-80 3v4m-44 15h4m133 4h4m36 3v3m-45 17h4m32-6v4m35 3h4m23-1h4m9 7v3m-224 5v4m63-6v3m11-4v2m8 2v4m217 5v3m-27-8h2m-91 2h2m-10 6h3m-144-4v4m-28 8v3m260 2v2m-264 6h3m-3 6v3m30-4h2m208-6h2m54 5v4m-43 7v3m-193 4v2m118-8h3m-3 0v2m12 12h2m-172 0h2m18 6h3m160 5h3m-110 3h4m-25 13h4m184-2h3m-244 7h4m207 12h4m57 4v2m-219 0h2m-194 2h3m291 7h3m28 4v2m-326 16v2m394 3h3m-107 10v3"/>
<path stroke="#279e68" d="M6 8v4m0-6h4m20 0v3m19-3h4m41 0h4m7 0v4m68-3v4m6-2h2m-14 3v4m-59 0h2m-45-5v2m-30-4h4m-29 3h3m25 10v2m18-1v4m54-5h4m8 4v4m50-7v4m264 2h2m-263 6h4m-136-6v2m-1 13h2m42-8v4m37 4v3m6-8h4m4 5v4m102 2h3m-32-2v3m-27-6h2m-17 4v3m-82-6h4m-28 7v2m-20-7v2m-31 3h3m28 3v4m14 0v2m23-3v4m3-5h3m8 3h4m57-7v3m27 1h4m15 4v2m26-6v3m11 5h4m-36 0h4m-29 0v2m0 2h2m-19-5v4m-60-2h4m-5 1v2m-5-6v4m0 3h2m-12-1v3m-27-5h4m-39 10v2m3-7h3m-2-1v2m1 1h2m12 5h3m48-5h3m41-1v2m30-4h3m11 3v3m22-4v3m0-5v4m9 0h2m20 2v2m195-3h4m1 0v3m-17 6h2m-166 0v3m-110 0v2m-27-8h4m-65 4v3m-5-1v2m-7-4v3m-27-2h4m32 3v4m13-2v2m79-4v2m47-1v4m42 2v4m10-9h2m36 13h2m-30-1h4m-5-2h3m-21 3h2m-16-6h3m-12 1h2m-24 4h2m-10-3v4m-4-4v3m-21 2h4m-30-8h4m-9 0h3m-20 7v2m-45-9v2m-6 1h4m-14-3v4m-2 3h3m-5-1h2m-40 9v4m38-2v4m0-5v4m28-8h2m9 2h4m20-5v2m0-2v3m0 4h4m21-2h2m51-4v4m42-2v4m26 0v3m39-10h4m16 8v3m16-5v2m25-4v2m1-5v2m8-2h4m-3 2h3m6-3v2m35-2v3m28 10v4m-41-8h4m-11 3v4m-1 1h3m-10-5v2m-41-4v3m-4-1h4m-8 5v2m-3-8h3m-19 5h2m-55-6h3m-92 5h2m-33 2v3m0-9h4m-27 6h2m-14-1h2m-14 0v3m-11-10v2m-26 1v4m-6-7v3m-9 5h3m-32 2v2m22 0v3m114-1v2m114-1v3m8-8h2m26 5h3m40 2v3m2-3v3m7-10v3m12-4v4m53 11v2m-46-7v2m-9 2v3m-29-1h4m-49-5v2m-3 3v3m-11-3h3m-50-6v4m-27-2h2m-33 3h4m-13 2v4m-37-10v4m-49-5h4m-8 2h2m-4 14v2m11-5h3m-1 3h2m24-6v4m47-6h4m41 0h4m7 3v4m69-6h2m49 5v4m5-10v4m13-2v3m54-3h4m-9 14h4m-51-4h3m-46-2v4m-53-3v4m-14 1h4m-97-6v2m-31 4v3m-19 3v4m115-5h4m-1-2h2m-2 6h3m55-6v4m1-5v2m41 1v4m6-4h2m73 3v2m-36 2v3m-13-1v2m-5 0v4m-3-7v4m-13 2h3m-96-1h3m-50-3v4m-101-4h3m31 7v2m50 3h4m6-5v4m66 0v2m13-8h3m15 0h4m47 4h3m54 0h4m19 3h3m-30 6v4m-8-3h2m-34 3h2m-25-3v2m-64-7h3m-68 3v2m-18-2v3m-50-6h3m-4 5h3m-6 3h4m-28 7h2m114-6v3m6-2v2m210 3h4m-9 11v2m-83-3h4m-15-1v2m-67 0v2m-79-2h3m-36-2h3m-32-6h4m-16 2v3m36 6v2m116 3h3m161 0h3m-1 9h4m-16-4h3m-216 3h4m-17-6h2m-78 1h2m-3 8h4m25 0v4m30 1v2m16 1h2m13-4h3m2 1h4m46 3h3m26-1v3m57-2h3m46-4h2m19-1v3m2 5h4m-46 2v4m-5 0h2m-16 0v3m-49-7v2m-9-6h3m-27 1h2m-7 4h2m-18 1h4m-43-5h2m-73 4h3m-3-4h2m8 14h2m0 1v4m17-3h3m88-3v2m4-2v2m31-1v4m9-9h3m18 2h2m5 3h3m107 8v2m0-3v3m-5-1h4m-37-2h2m-22 0v4m-222 3h3m3 6h3m30-5v2m44-1h2m25-3v3m24 0v4m3-5v4m84-4h4m0-3v4m2-3v4m35-2h4m14 4h4m-8 4h3m-4 4h3m-35-6h4m-20 2h2m-7-1v4m-7-1h2m-150 1h3m-7-4h2m-56 9v3m2-2h3m49-1h4m2 6v3m2-3h4m9-3h2m10-4h2m132 0v3m28 6h2m-2 5h4m-16 1v4m-3-10h3m-50 4v4m-18-2h3m-5 1v3m-50-5h2m-2-1h3m-17-3h2m-8-1v2m-12 0v4m-10-6h4m-7 8h3m-46 5h4m-1-4v4m32-4h3m127 2h3m38 5h3m6 5v2m-48-3h2m-44 6v3m-22-6v3m-107-3v4m-158-2h3m-23 10v3m211-7h3m5 0h3m9 4v2m2-5h4m30-2v4m15-1h4m-1-2v3m7-3h4m8 1h4m36 2v4m1-4h3m26-2h2m48 1v4m-103 1h2m-5-2h4m-21 2h2m-3 2h2m-11-2h3m-10 3v2m-1-2v4m-11-5h3m-44-1h4m-36-3h4m-208 13v4m243-2h2m14 2h4m74-6h3m59 4h2m14 4h2m-53 3h2m-11 1v4m-54-5v2m-14 1v3m-14-10v3m46 10h4m31-3v2m46 7v2m14 8h2m4 4h2m7-2v3m-11 3v3m2 5h4"/>
<path stroke="#8c564b" d="M163 6v2m11-2h2m31 1v3m20 1h3m-15-2h3m-10 8v2m-106-4h3m-1 9v2m87-7h4m233 16v4m-243-4h4m-112 3h2m65 6h4m80 6h2m-4-2v4m-86-5h3m-95 1h4m3 7h3m163 0v4m215-5v4m-228 6v2m-96 2v2m-17-1v3m-8-7h2m-15 0h4m-18 2v3m26 7v2m12-2h3m29 0h3m-3 1h4m1-6v4m69-4h2m11 3v4m28-6v3m9 3h3m170 4h2m-29 2h3m-143 1v4m-67-1h4m-106-3h2m-55-5v3m-22 2v3m-10 5v4m11-3h2m135-1h3m77 1v4m16-6v2m150-5h4m24 2v2m-44 7h4m-5 2v3m-8-2v3m-104-1h4m-27-2v3m-92-3h2m-36-3v3m-109 4h2m39 4v3m50-6h4m24 3v4m52-7h2m96 5h4m150 3v3m-61 1v2m-13-6h4m-53 5v3m-14-1h3m-145-2v3m-15-2h4m-53-3h3m-49 0v2m-9-1v2m-11 0h2m8 11v3m104-11h4m62 4v4m17-2h3m49-6v3m92-1v2m22 4v2m46-5h2m-49 4h4m-117 3v2m-58-4v4m-36-1v2m-142-1h2m226 8v3m52-3h2m40-4v3m4 6h4m-18 3v3m-13-2v4m-37-8v3m-96 2v2m-14-6h2m-4 3h2m-69 0h4m-13 3v3m-55-9h4m72 15h4m58-7v2m31 4h3m26 1v4m72-3v2m-31 4v4m-6-2v4m-53-3h3m-106-8v4m3 10v2m34-2h2m0 3v3m2-6v4m67-1v3m147 1v4m-121-5v2m-151 1h4m-16 9v4m28-2h2m20-5v2m66 3v3m3-5h4m-3-5v4m1 1h2m31-1h2m20-4h3m33 8v3m42-6h4m62 3v3m6 0v2m-69-2h3m-4 0v2m-138 1h4m-78-5v4m-31 4v2m67 3h3m57-1v3m139-5h3m37 12h2m-51-2h3m-103 5v4m-20-7v4m-129 3h4m105 3h2m86-1v2m34-1v4m0-2h2m2 3v2m-80-3v4m-32-3v3m-6 3h4m-78-3v4m-15 0h2m-28 0h4m-20-7h2m171 15v3m9-9v2m66 0h4m31-1h3m10 2v2m26 5h4m-49 6h2m-96 0v3m-28-9h3m-52-2h2m-44 0v3m29 9v3m42-6h4m39 3v4m54 0h4m65 8h4m-43-2h2m-46-4v4m-20-4v2m-43 5h3m-30-3h3m-41-2v3m41 4v3m29 0h2m102 2h2m33-5v2m11 4v4m12 7v4m-13-10v2m-25-2v4m-19-6h2m-101 7h3m-24-3v2m-47 1v3m2 7v3m49-10v3m48 2v2m64-6v4m4-6v2m16-1h2m36 3v3m3-6h2m-28 13v2m-108-2h2m-298 3h3m203 1h2m59 7h4m21-4v3m68-6v3m17 3h3m50-6v3m-52 12v3m-85-1v3m-60-4v4m12 4h2m57-6h3m48 2h2m-93 8v2m135 18h4m-9 4h3m29 7v3"/>
<path stroke="#ff7f0e" d="M6 6v2m59-2h2m41 2v3m52-4v2m25-3h4m24 0h3m8 0v3m212-3h4m-230 7h4m-6-1v3m-22-4h2m-9 0h4m-9 5h4m-77-7h4m-42 1v4m119 8h3m24-4h4m214 7h4m-234 10v2m-6-6v4m-15 0h4m-108 0h4m-70-3h3m75 7v3m129 7v2m-4-5v3m-51 1h2m-50 1h3m-72-6h3m-17 6v2m18 5v4m134-1v2m46-4h3m-2-4h3m11 4v4m189-8h2m-11 8v3m-224-3v4m-102 1v3m-30-7v3m-18 2v3m-10-9h3m-25 13h2m2-2h2m-1 4v4m64-4v3m91-7h3m2 1v3m42-6h3m30 6v4m-61 1h4m-8 4v2m-28-6h4m-16 3v3m-46-1h2m-7-5v4m-37-4v3m89 8v3m69-5h3m28 2h4m141-2v4m31 1v2m1 6v3m-29-8h2m-25 6v4m-114-9h3m-4 5v3m-76-2h2m-89-3v2m-34-4v3m-16 2v4m-29-4v4m-12-1h2m-2 5v2m38-5h3m0 1h2m16-2v4m0-6h4m119-1h2m10 0h4m7 3h3m7 5v4m3-4h3m51-5v4m44 0v2m80-6h2m-5 12v4m-14-8v4m-31 0v2m-42-3h2m-146-1h3m-78-1h3m-74 1h3m-18 3v2m344 0v3m30-3v3m-66 13v3m-25-5v4m-16-2v3m-61-4v2m-47-2h3m-51-3h4m-57-3v4m-12 3v2m5 3h3m0-2v3m78-1h3m57 2h2m0 1h4m3-5h4m39 2h2m57 0v4m26-5h2m-22 10v4m-1 1h2m-52-5h4m-37 0h4m-24 0v2m-14 0v3m-4 0h4m-59-8h3m-19 5h2m-28 12v3m93-11h2m40 8h3m23-6h4m-1 0v2m36 0v3m-8 3v3m-47 0v3m-5-7h2m-56 4v2m-74 1h2m-35-6v2m42 12v2m99-8h2m-2 5v3m15-3h4m52 0v3m105-1v3m19 6v4m-35-11h4m-35 1v4m-16-1v2m-61 0v2m-32-3v2m-60-4v2m-39-3h2m-36 9v3m112 2h3m129-4h2m35 2h3m43 5h2m-5 6h3m-46-2v3m-127-3v4m-36-1v4m-16-5v4m-34-10v3m-22 0h3m-52 5h3m69 8h3m156-6v3m22 0v3m62 0v4m9-4h3m-1 7h3m-5-2h4m-21 2h3m-26-2h4m-31 3h4m-103 1v4m-38-4v2m-45-10v4m-66 3h2m40 5h3m6-3h3m169 5v2m-36 5h3m-29 1h4m-46-1v4m-39-7h4m-12 5h2m-3 2v3m-20-10v3m-38 0h4m13 11h4m75-1h3m29 0h3m59-2v4m15-5h2m60 1v2m46 3h3m-111 6v4m-27-3v2m-2 0v3m-126-2h2m35 1h3m117 7v4m44-3h2m3-3h4m13-4v4m6-4h4m-92 8h4m-73 3v2m-4 3v4m-3-6v4m-13-5h2m-56 3h4m-7-8v3m-6 2h4m94 6v4m1-3h3m16-3v4m29-4h2m12 6v4m9-3v4m30-5h4m21 9h3m-156-4v4m-34 2v3m-13-3h3m22 2v3m17-4v4m40 3v4m15-7v3m73 1v2m5-5h2m5 3v4m47-10v4m12 8h2m-34 2h4m-24 0v4m-18-11v3m-45-1v2m-14 2h4m-20 0v3m-53-4h4m-39 1h3m-179-1v3m23 6v4m6-7h2m163 4h3m58 0h3m13 2v3m37-3h4m16 0h2m64-6h3m-111 10h3m-5 1v2m-34 0h2m-6-5h3m-24 2h2m-17-3v4m-194 4v2m225 7h3m8 0v3m5-7h3m16 1v3m14-7h4m23 8h4m-28 8v4m-9-12v4m51 13h4m77-1h2m-1-6v3m-7 12h3m-41-6v2m-5-3h2m19 14v4m19-8v3m7-1v2m3 1v4m-12 6v3m0-6h2"/>
<path stroke="#d62728" d="M121 6v3m67-3v2m17-1h4m15-1v2m-4 4h2m-10 4v4m-26-4h2m-28-4h3m-3-1h3m-108 15h2m40-8v3m83 0h3m29 3v2m6 7v4m-113-2h2m-53-8h3m-11 14v2m61-6h4m16 6h4m9 1v3m8-7v3m3-3h2m67-1h4m-7 9v3m-14-6h2m-4 4h2m-48-3h3m-78 3h4m-78 6h2m53 7h3m95-8h2m35 7h2m-1-3v3m218-7v3m5 2h3m13 3h4m-260 2h3m-14 6v2m-36-2h2m-79-7h3m-11 12h3m44 0v3m49 0v3m11-2h3m11-6v4m45 2v3m15-5v2m9-7h4m194 14v2m0-1h4m-309-2v4m-33-2v2m-53-8v4m-39 4v2m61 3v2m114-2v2m33 0v3m40-7v2m142-2h4m26 1h2m8-2v4m-21 11h4m-6-2h4m-10 0h4m-124 3h2m-26-6v3m-84-3v3m-105-5v3m-32-2h3m-39 15v2m38-3v2m1-8h3m82 5h2m67 1h2m2-3v3m13 2v2m3-10h3m70 0h4m22 4h4m-3 2h4m44-3h2m14 0h3m48 13h3m-48-1h3m-30 1h2m-157-6v2m-39-2v4m-71 3v2m-48-4v3m74 3h2m137 2h3m25 3v4m67-8h4m43-2h2m5 0h2m23 6v4m-6-3h4m-13 8v2m-4-4v2m-71-8v4m-130-1h3m-38 1h2m-11-4v3m-41 5h4m-10-3v2m-60-4v2m-22 2h4m14 5h4m43-2v2m28 0v3m43 1h4m0-6v2m3 3h2m24-3h3m117 0v4m12-5v2m6-1h4m25 5v4m2-10h4m27 3v4m-72 8h2m-14-6v2m-28-3h3m-67-1v3m-29 3v3m-2-4v3m-57-4v4m-3-1h4m-34-2v4m-3-3v2m-49-7v2m11 11v2m9-3h3m77-3v4m67-1v3m2-6v3m2-1h3m9 0h4m1 5h4m103 1h3m-180 7v4m-70 6h4m104-4v2m74-5h4m-2 2v2m3-3v2m19-4h2m8 6v4m50-8v3m26 2h3m-39 7v4m-29-3v4m-96-7v3m-28 1v2m-129-2h3m24 7v4m104-6h3m48-2h2m57 1v2m0-3h3m0 2v4m10 1h2m24-1h2m14 7h2m-78-3h2m-44 5h4m-156-3h3m62 8h3m120 4h3m18-2v3m59-5h2m-112 11v4m-5-7h2m-83 6h4m-38-3v4m-34 2h3m27 0v2m16 3v4m168-4h4m22-6h3m6 2h3m38 11v3m-11-7v2m-75 1v3m-57-7v3m-34-3v3m-20 0v4m-50-3h4m-17 0h4m-9 2v4m-5-9v3m101 11h2m56 1h3m14-1h3m46-6v3m36-3h2m30 1v3m8 6v2m0-3v3m-32 5h4m-45-4v4m-5-8h4m-19 5v2m-17-7h2m-4 2v2m-16 0v3m-82 1h2m-14-8h2m-39 1v2m21 8v3m23 2h3m151-4v4m-33 4h4m-95 4h4m-6-3h4m-110 4h4m3 8v4m9-6v3m167-2h4m36 2v2m7-2v3m25 4v3m-45-1h3m-31-6v2m-34 3h4m-120 2h2m33 3h3m33 0v2m3 3v2m15-8h3m29 2v2m7 2v4m92-11h2m37 8v3m-46 3v4m-55-7h2m-6-2h2m-13 6h4m-5-1v2m-1-6v2m-20 4h2m-109-2v3m19 7h4m7 2h3m47-1v3m6-2v3m135-10v4m15 11v4m-96-10v4m0 1v2m-47-1h2m-8-7h3m-28 1h2m-12 0v2m-23-2v2m-1 0h2m33 8v4m50 0h4m-1-2h2m129-1h2m-49 6v4m-3-4h2m-75 8v4m-307-10h3m352 12h4m18-3h2m37-1h2m12 5h2m-5 9v2m-1-3h2m-22 0v2m24 9v2m-414 12h2"/>
<path stroke="#17becf" d="M52 6h4m11 0v2m21-2v2m0 0h4m-2-1h2m1-1h4m10 0h3m54 0v4m6-3v2m42-3v3m220-3v2m4 6h4m-4 2h2m-235-1v2m-16-8h3m-3 5h2m-11-2v2m-1-5h2m-55 4v4m-20-8v2m-30-1h4m-19 2v2m-23-3h2m54 15h4m103-4v3m11-4h2m19 8h4m-43 6h2m-4-4v4m-10 0h2m-37-7v2m-13 5v2m-27-2h4m-18-5v2m-5 1v4m-40 4h3m55 3v4m1-10v3m2-4v2m26-1v4m20-6v3m30 1h3m13 4h4m-1-1h4m24 1h4m192-6h3m-1 0h3m5 6v3m0 0h2m-2-1v2m-2-1v3m-4-2v2m-10-2v4m-202-5v4m-9-3v2m0 1v3m-16-2v2m-5-2v4m-4-3v3m-32-11v4m-33 3h2m-20-3v4m-17-2h4m-4-4v2m-9 2v3m0-2v3m-7-6v2m-19-3v2m-10 0h2m-1 4v2m129-2h2m247 4h4m14 12h4m-201-7h4m-7 1h3m-7 3h3m-27 0h2m-7 0v4m-1-5v3m-2 1v4m-1-10v3m-10-2h3m-6 1h4m-4-3h3m-4 2v4m-4 0v4m-20-7h3m-26 5v2m-37-7v4m-3-1v4m-4-2v3m-51-4v3m-18 1v4m16-5h2m-1-1v2m18 5v2m1-3v3m10-1h3m11-3v2m11-3h2m16 4v4m46-8h3m17-1h2m-1-2v4m9-3h2m8 6h4m12-2h2m1-5v3m35 2v4m147-3v4m26-3h2m7-1v3m0 7v3m-4-5h4m-181-1h3m-15 2h3m-8 1v4m-8-4v4m-33-12v4m-66 1h4m-34 1h2m-5-4v3m-4-2v3m-4-5v2m-6 4v3m-58-6h4m-7 2h4m-21 7h4m3 1v2m6 0h3m27-1v4m3-4h4m-3-3v2m5 1h2m31-1h4m2-2v4m57-7v4m25 3v4m11-6v2m40 0h2m4 1h2m188-5h4m-4 3h4m3-3h3m-8 9h4m-16 0h3m-127 4v2m-16-1h4m-29-5h3m-55 0v2m-34 0v2m-22-3h4m-6 0h4m-19 0h2m-44-3h4m-22 6h3m-10-6h2m-13 5v2m-39-5h2m-3-2h2m-1 14v3m0-4v2m20-3h4m39-1h3m11 4v4m40-11v3m36-2v2m3-2v3m11-4v2m26 6h4m19-4v4m14-5v3m0 0h4m9-5v4m1-3v3m2-5h4m23 0h4m-1 3h2m29 3h3m36-6h3m1 7h2m72-1h3m-18 6h4m-9-3v4m-32-4h2m-2 1h2m-34 6v2m-2-5v3m-14-5h4m-12 5v2m-229-2h3m-22-4v2m-71-2h2m24 7h2m1-1v3m4-3v2m49 1v3m6-3v3m8 2v4m1-11v3m20-4h2m19 2v3m106 1h2m20-6v2m7 6v4m3-11h2m15 1v3m15 0h4m28-3v3m5 0v3m10-2h4m7 0v2m34-8h4m26 4v3m-11 5v4m-27 0h3m-17 1h4m-7-2h2m-25-5h2m-74 7v4m-12-7v2m-29-5v3m-19-2h2m-13-1h3m-25 0v4m-19-2v2m-55-3h4m-81-2v4m-11-4v3m-2 1h4m12 6v4m5-6h3m0 5v4m8-8v2m94 1h2m2 0h3m2-3v4m53 3v2m0-2h4m37-7v3m63 1h3m11 3h3m9-3v3m25-8h2m-1 3v3m6-5v2m2 1h2m-24 6h4m-12 6h2m-32-4v4m-21-6v2m-44 4v3m-23-9v3m-1 2h4m-40-5v4m-9 2v3m-2-2v4m-61-7h2m-3-3h3m-10 2h3m-4 3h4m-6-7v3m-2-3v4m-22-3v4m37 4h3m35 6h3m21-5h2m4 5v2m5-5v3m16 0h4m8-2v2m10-6v3m47-2h2m31-1v4m41 2h3m25 1h2m3-2h2m4 3v2m-50 7v2m-12-4v4m-52-7v2m-44-4v4m-6 0h3m-6 2h4m-44 1h3m-13-2h4m-12 1h3m-28-5h2m-65-1v3m-1 1v4m44 5h4m4-1h4m34 2v3m43-7v2m0 3h2m-1-4v4m27-5h4m4 6h3m13-7v3m20 3h3m40 1v2m14-3v3m43-7v3m27 10v3m-42-6v2m-4 2h2m-7-7v3m-90 3h2m-35-3v2m-27 0h2m-48-6h2m-85 7v3m15 1h4m11 5h2m2-6h3m12 3v3m4-5v3m17 1v3m3-3h3m22-6h2m12 1h4m6 1v4m2 2v3m12-11h3m-2 7h3m71-5v2m1-1v3m49 0h4m16 0v3m5-2h3m14-6h3m-2-1v4m12-1v2m2-1h3m15 11v3m-4-5h2m-32 2h4m-9 1h2m-14-7h2m-8 6v4m-4-3h4m-45-3v3m-7 1h3m-73-8v4m-20 2v4m-102-4h2m-10 7h2m-2 1v4m23-7h2m33 1h4m28 5h4m42-8h3m35 7v3m13-3v3m9-9v3m14 4v4m1-8v2m55-1h2m47 3v2m2-6v2m-8 9h3m-13-4v2m-1 3h3m-6 1v4m-27-4v3m-15-7v2m-69-5v2m-10-3v2m-20-1v2m-12 5h4m-7 0h2m-6-1h4m-118-1h3m-15 2h4m46 8h4m11 0v3m1-7h2m15 5h3m37-5v3m156 2v2m5-5h2m21-5h4m-21 16h3m-12-3v4m-5-8h4m-10 7h4m-36-3v3m-30-7v4m-8-4v3m-2 1h4m-26-2h3m-33 0h3m-4 2v3m-1 1v2m-19-7h3m-54 2v4m-3-6h4m-26-1v3m-10-1h3m-25 3h4m-22 1h4m1 6v4m8-9h2m7 4h4m17 1h2m78 2h4m1-4v4m0-5v2m13-3v3m21 2v3m7-3v3m1-9v4m68-4v2m2-2h2m39 4v4m33-4v2m-2 11v4m-36-10v2m-16 3h3m-16-4h3m-21-2h4m-44-1h4m-45 7v4m-20-6h4m-74-5v3m-10 2h4m-11 0v4m-36-3v4m28 2v4m2-7v3m11 0h2m2 5v3m2-4v3m30-4v2m10-5h2m0-1v4m21-5h2m2 5h4m4-2h3m-2-1v4m5-4h4m6-2v3m8-1v4m30-2h3m28 3v4m17-5v3m11-4v3m7-3v2m6-4v2m49-1v3m6-3h2m6 10h4m-5-6v2m-2 0v3m-33-4h2m-22 4v3m0-1h2m-30-6v2m-9 4v4m-30-11v3m-32-1v2m-10 2v4m-26-5v3m-3-7v2m-38-2v3m-3 3v3m-41-3h4m-6 9v4m68-9v4m5 1h2m9-2h2m4-5h3m-3 1h3m6 3h4m6-3v3m1 2v4m4-7h4m11-1h3m30 3v4m4-4h4m41-1h2m7-4h2m39 2v4m4 1v2m-3 1v3m-50-4h3m-18 3h3m-10 4v4m-45-5v4m-13-7v3m-11-3v3m-25-1h2m-19 2h3m-4-4v3m-10-3h4m-6 3v2m-31-4h3m-19 9v4m24-7v4m13 3v4m7-12h3m38 5h2m16 3v3m49-7v4m21-2v4m0-2v2m14-10v2m25 0h2m-2 1h2m1 2v2m10-2h3m-3-5h4m15 0h4m10 15v3m-44-9v4m-31-4h3m-27 3v3m-1-3h4m-5-3h3m-13 8h3m-12 0h3m-36-3h3m-57 3v2m-15-7h3m-9 4v2m-8-5v4m-3-3v4m-157-9h2m174 10h3m37-1h3m-3 0v4m15 1h4m22 1v3m7-4h2m43-5h2m0 7h3m0-6v3m32 0h4m3 1h3m-3 1v2m44 4h2m-11-3h2m-3 5v2m-24-2v4m-3-2v3m-1-2h3m-9-8v4m-32 0h3m-16-1h2m-10 1h3m-12 1h2m-9 2h3m-21 0h2m-14-2v4m-4-6v4m-12 0h3m-10-3h4m-25-3v2m-4 5h2m-18-7h4m-9 7h3m-191-1v2m-15-2h2m-1 9h3m200-7v3m13 0v4m0-4h2m1 1h3m19-1v4m1 0h2m5-7v3m3 4h2m0-5h3m28 5v4m26-4h3m-2-7h4m47 0h4m-2 8h2m3-4v2m20-1h4m0 2h2m18 1v2m0 7h2m-22-7h3m-38 1v3m-47-5h3m-35 5h2m-20-4h2m64 13h4m2-3v2m4-1v3m12-5v2m7 3v4m26-6h2m24 4h3m2 7h4m-4-2h2m-3-3h2m-9 3v4m-6-8h3m-10 2h4m-4 6h2m-7-7v2m-2-1h3m-5 5v4m-58-11h4m84 33h3"/>
</g></g>
<g clip-path="url(#cq20)"><g id="d4" transform="translate(697.1,50.4) scale(0.25)">
<path stroke="#461264" d="M203 6h4m0 0v3m1-2v3m217-4v2m0-2h2m-1 0h4m6 7h2m-229-2h3m213 10v4m3-5v2m8 6v3m-8 8v4m6-2h2m-7 12h4m-5-3h2m-2 2v2m0-5v4m-2-3v4m-2-4h2m-2 0h4m-215 3h2m26 3h3m-2 4h2m172 2h4m-4-2v4m14-10h2m4 4h4m-4 1v4m-206 3h4m-26 14v2m22-7h2m0 2v4m2-6v2m3-2h2m13-2v2m171-1h2m9 0v2m2 2v3m0-1v2m0 7v4m0-12v4m-171 2h4m-16-4h2m-22 2v4m-21-8h2m1 15h3m18-4v4m4-6v4m16-1v4m180 8h3m-167-2v4m-18-2h2m-20-2v4m-23 3h3m2-2v4m6 4v3m11-11v4m-19 7v3m-3 10h3m196 10h4m-165-3v4m-21-8v3m-17 2h3m-164 3h2m135 9h4m-2-5v3m10 2v4m17-6v2m5-3v4m1-2h2m-1-1v4m3-3v3m2-3v4m0-3h4m173-7v3m0-2h4m0 1v2m6-2v3m-25 10h3m-132-3v2m-4 0h3m-30-5v2m-4-1v4m-1-3h3m-4-1v3m0-3v3m-4-2h4m-6-1v2m-4-2h4m-6-2v3m-6 0v4m-3-4v4m-3-5h3m-4 1h4m-113 6v4m50 4v4m5-4v4m12-8h3m17 0h3m25-2h2m-1 3h3m-1-1v3m5-1v4m19-10v4m27-4v3m9-3v2m123 0h3m2 6v4m-145 3h2m-26-3v2m-12-3v3m-6-5v2m-19-1h4m-66 15h2m0-1h3m30 0v3m28-5h3m4 4h3m11-3h4m-1-2h2m-1 1v2m13 0v3m3-2h3m-3-3h2m2 0v3m0-2v4m3-6v3m15-5h3m43 5h3m69 1v3m2-6v4m2-3v2m33 1v4m3-4v3m2 1h2m-28 2v3m-6-3v4m-4-1h3m-76-5v4m-31-4v4m-3-5v2m-27-4h2m-7 4v2m-5 2v2m-1-9h4m-5-1h2m-2 5v4m-7-3h2m-2 1h3m-7-1v2m-2 0v3m-5-3v3m0-11v3m0 5h2m-12 0v3m-7-6v4m-2-2h3m-24-1v2m-4-3v3m-9-7v3m-25 2h4m-11-5v3m-16-1h4m-5 2h4m-33 0v2m90 2h3m-2 8h3m1-2h3m-2-2h2m18-2h4m2-1h2m1 3h2m4-1h4m-4-2h4m-3 4v4m3-6v3m1 2h3m-2-7v3m2-1h4m-3 3v4m9-6v3m2-4v4m2 0v4m1-10h3m37 4v4m3-4v3m17-7v2m1 0h3m6 5h2m32-5v3m22 2v3m3-6h4m6-4v2m3 3h3m23-6v2m1 6v3m24-4h3m-2 1h4m-1 3v4m0-6h2m-2 7v2m-1-3v4m-1-2h3m-3-7v2m-27-1h3m-24-1v2m-3 4h3m-21-7v2m-1-2v2m-3 3v4m-25-1v2m-16-4h2m-14-5v3m-3-2v4m-36 2h4m-10-1h2m-4-6h2m-4 6v4m-4-9h3m-4 5h3m-10 1v2m-5-2v3m-20-3v3m-1-4v4m-6-9h4m-12-2h3m-16 4v4m-3-7h3m-11 6h4m-16-4v2m-31-3h3m-8 1v3m-11 1h2m-25 6v4m34-1v4m1-5v3m5-1v2m23-9v4m2 3h3m12-4v4m2-2h3m-1 0h2m23-4h4m-2 0h2m6 0v2m9-3h3m9 0h2m11 0h2m0 0v4m11 2h3m-3-5v3m0-3h3m-2 3v2m3-2h4m17 0h4m0 2v4m2-8v4m16-7h2m0 2v2m11 2v4m1-2v2m1-3v4m7-10v2m0-3v4m16 4v4m18-5v2m3-1v4m5-4v3m7-11v4m4-1h2m-4 9h4m-5 3h4m-17-4v2m-1-4v4m-22 3h4m-25-2v3m-3-6h2m-2 2v3m-2-6h3m-3 2h3m-6-1h2m-3-2v3m-41-1h2m-5 0v2m-6-3h4m-10 1v3m0-1h2m-11 2v4m-4-5h3m-4 2v2m-2-2h3m-29 1h2m-36 0v2m-6-6h2m-6 4v2m-1-8v3m-2-1h2m-17 4v4m-9-8v2m0 0v3m0-4v2m-2-1h4m-6 1h4m-16-6v4m-9 2h3m-18-1v4m-2-4h4m-5 2h3m-4-1h2m-3-1h3m-6 1v4m7 1v2m2-3h2m19 4h2m9-2v3m6-6v3m1-4h2m3 5h2m0-4h2m2 3h2m8 4h3m20-5h4m18-2v2m18 0h4m9-2v3m1-2h4m-4 2h4m12-2v3m48-4h2m5-1v2m26 6h2m3-7h3m1 7h4m-3-1h4m37-5v2m0 2h4m-2-3v4m3-1h4m30-2h2m-74 8h2m-2 4h3m-23 1v3m-4-7v2m-6-3h3m-9 1v3m-5-1h4m-5 1h2m-30-3h4m-19-2h3m-14 2h3m-5 1v4m-2-6v4m-2-2v4m-7-1h3m-3-1v3m-7-5v3m-8-7v2m-11 4h4m-7-1h3m-6-1v4m-1-5h3m-6 3h2m-6-1h2m-6 2v2m-2-7v2m-1 1v4m-3-5h2m-2 0h3m-4 0v2m-5-4v3m-1 1h4m-13-2v2m0-7h2m-6 2h3m-6-2v4m0-3v4m0-2h2m-3-1v3m-3 1h3m-6-2h4m-39-2h3m-4 1h3m-6 4h4m-5 0v3m-12 5h3m13-5v2m2 4h3m7-1h2m-1-5v4m3 0h2m-2 1h4m-3 0h3m-2-3v3m2 0v2m17-4h2m0-2v4m19-2h2m0-3h4m11 0v4m0-4v2m1-3h3m-3 3h2m-1 0v3m2-4v3m4 2v2m15-2v2m2-2v3m4-2h4m0-1v3m0-7h2m-1 0v2m1-3v2m2-1h4m-2 2v4m3-7h3m-2 2v3m1-1v2m5-1v4m2-6h4m0-5v3m4-2v4m14 0v3m7-4h3m-2-2h2m22 1v2m1-2v2m2-1v4m1-3h4m-4 3h3m-2-2h2m-1-2h2m-1-1h2m-1-3v2m3 4v2m1-3v3m2 0v4m2-6h4m-4 2v2m52-9h3m9 12h3m-34 2v3m-16-5v3m0-7h4m-5 2v3m-3-5h3m-13 5v2m-1 0v4m-4-8v2m-1 0v2m-6-5h2m-6 5h2m-2-1h4m-5-6h3m-3 3v4m-3-4v2m-31 0v3m0-8v4m-4-3v2m-2 0h3m-3-2v4m-14 0h3m-4-1h3m-6-4h3m-3 0h4m-7 0v2m-21-1h2m-3 3h3m-20-2v3m-7-3h4m-16 1h4m-5-2h4m-8 6h3m-24 1h4m-8-1v2m-11-8v3m-3 0h3m-5 4v3m-7-7h3m-4-1v2m-4-4h3m-15 10v3m24-5v3m14-2h2m-2-1h3m-2 5h4m19-2h4m1-2h4m-2 2h4m-1 1v3m7-2h2m10-1v3m6-7h2m-2 4h3m4 4h4m1 0h2m0-7v4m2-2h4m0 0h3m-1 0v4m11-1h2m38-6h3m-1 2v2m16-1h4m27 9v2m-3-2h4m-6 2v2m-1-5v4m-34-3h3m-49-3h4m-6 3h4m-23 2h4m-11-4v4m-9 2v4m-11-8v3m0-3h3m-6-3h3m-46 5h2m-3 3h2m-3-2v2m-3-2v4m-5-2v2m-12-4v3m-1-1v2m-2-7h2m-3 1v2m-132 6v4m5-4h4m130 1v3m45-7h3m1 1v3m7-4v2m11 1h3m-1-2v2m1 5v4m1-4h2m-2-3h4m-3 1v3m3-5h4m9-4v3m25-3h3m-2 1v2m0 1v3m13 0v2m2-2h2m-1-1h2m58-4h4m15 4v4m-3 0v2m-78 0h4m-4-1h3m-17-2v4m-3 1h2m-6-2v4m-6-1v4m-9-6h3m-18 4h4m-7-1v3m-17-6v4m-11-1v4m-1-9h3m-4 6v4m-2-6h2m-3 0h4m-5-4h3m-5 4v3m-24-1h2m-144-8v2m-4 14v3m6-7v2m10 1v4m141-5h2m-1-2v4m49-2h2m3-3v3m40-4h4m-3 5h3m-53 7v4m-10-1h3m-177 0h2m-22-6h4m-8 1h3m-7-2v3m-5 4h4m24 10h3m166-7h4m-4 2h3m1 3v3m6-1h2m1 0h3m-2-1h2m4-1h2m-2 0v2m1-2h4m-3-2v2m46-2h4m-51 9v2m-4 0v3m0-3v3m-2-5h2m-199 2v4m-5-2v2m-10-2v2m0-1h4m-3 5h4m-3-3h4m-2 2v3m7-6v3m1 1v2m3 0v3m1-3h2m-2-6v3m3-3h4m230 7v3m18-5v3m142-3h4m-411 8h4m-5-3h3m-8 2h2m11 7h2m4 4v4m12-2h3m396 4v3m0 0h3m-4-2h2m-4 2v2m-3-1h4m-17-4h3m-389-3h3m-28 10v3m2 1h2m11-3v2m415-4v2m-3 7v3m-397 5h3m-30-2h2m1 8h4m6 2v2m405-8h3m6 6h3m-3-2h4m-4 4h2m-431 21h3"/>
<path stroke="#44347e" d="M67 6h2m54 0h2m-1 0v4m36-2v2m7-3v3m0-4v2m1-2h2m-1 0v3m3-3v3m0-1v3m11-5h2m-1 1v3m9-4h3m10 0v2m0-2v2m1-1h3m0-1v2m1-2h2m2 0v2m2-2h3m-3 0v2m8-2h2m1 0h3m-3 0h4m-3 2v2m205-4v3m0-1v4m0-6v3m1-3v2m1 0v4m0-6h3m-3 0v3m0-3h2m-2 5v2m0 2v4m0-7v3m0-1h2m-2-2v4m-212-6h4m-10 4h4m-8-4h3m-5-1v2m-2 3h3m-4-1v2m-2-5v2m-4 0v2m-2-3h3m-7 3v2m-13 0h4m-12-1v4m-12-9v2m-1 1v3m-1-7v3m-17 1h2m-22-2h4m-5 5v2m-1-5h2m-8 2v4m28 5v3m2-5h3m-2 3h3m27-2h4m6-1h2m11-4v4m3-1v3m1-5h2m-2 2v3m1-5h2m5 7h4m-3-1h2m-2-1h3m-2-3v4m212-3v4m2-6v4m7 2h4m-4 0h4m-4 5v2m-10 1v3m0-2h3m-4 0v4m-2-5h2m-193-6v4m-3-2v2m-13-1v2m-1-3v2m-67-5v4m-41 2v2m83 6v3m1-1v3m1-5v2m15-2h4m0 2v4m2-4v3m1-6h3m13 2v4m2-7v4m188-4h4m1-3h4m-1 7v4m0-5h3m-2-1v3m7 2v4m0 3v4m0-12v3m0 1h4m-7 3v3m-2-8h3m-8-1h4m-8 5h3m-200-4h2m-8-2v2m-5 1v2m-2-1h4m-14-3h3m-11 6v4m-8-5h3m-159 11v2m151-9h3m-3 0v3m8 2v2m3-4v4m7-2h4m-3-5h3m16 4h3m10 2v3m1-2v4m181-6h3m1 0v3m0-2h4m-4-6v4m7-4h3m-3 1v4m9-4v2m2-4v3m0-3v3m0 12v4m-9-7h4m-7-3v2m0 5v2m-4-4h2m-5-2h4m-15 5h3m-161-1v2m-10-4h2m-3 0h4m-10 3h2m-2-1v3m-1-4h2m-21-3h2m-10 4v3m-5-2v3m-15-4h3m-7-5v2m-3-2v4m-150-6v4m-13-2h2m6 10v2m136 1v2m18-1h2m0-2v2m7-5h3m0 1v3m2-5v3m11 2v3m0-6v3m2-1h4m-3-2v4m6 0h2m1-2h2m1-1h3m14 0h3m0 3v3m1-8h4m-4-1v4m2 2v2m3-1h2m1-8h3m-1 0h3m162 7h2m7-6h3m0-1v3m0 1h4m-3-1v4m2-3h3m-2 3v2m9-2h4m-4 8v4m0-5v4m0-5h3m-3 1v4m-4-6v2m-4-1v4m-19-8h3m-14 1h3m-4 3h3m-9 0v2m-132 1h3m-8-7h4m-9 7h4m-9-2v2m-2 1v2m-3-6v4m-3-3v3m0-1h2m-3 0v4m0-5v3m-1-4v4m0-3h2m-3 2v3m-1-6v4m-3-4h2m-18-3h3m-4 3h2m-4 0h4m-5 0h3m-5-3h4m-5-1v4m-9-1v4m-2-7v2m0-1v4m-144-1h3m-28-3v3m-9 2h3m-11-4h2m-5 2v4m5 4h3m2-4v4m5 3v3m22-2h4m139 0h2m5-1h2m20-2v2m6-1v3m3-3h2m1-2v3m1-5v3m0 3v3m4-4h3m-1-7h3m-1 8h2m-1-4v4m0-6v4m3-6v2m20 3v3m4 0v4m134-7h4m20-1v3m5-3v4m5-6v4m1-6h3m-3 2h4m-2 2h4m-3 13h3m-3 0h4m-4-3h2m-3 3h3m-4-1h2m-14-5h2m-56 3h2m-95-1v4m-6-8h4m-5 1h4m-8 0h4m-6 4h3m-5 1v3m0-5v4m-4-1h4m-5-6h4m-10 3v3m-9-1h4m-6 1v3m-2-3v2m-9-9h3m-9 6h2m-2-4v4m-5-3h4m-5 5v3m-1-11h2m-14 0v4m-159-4v3m-1-1h4m-5 2h3m-6 2v2m-17-1h2m-5-6v4m-1-1h4m-4 0h3m-3-2v3m-4-4h2m16 15h4m14-3v3m1 1v3m3-3h3m0-1h3m32 0h4m93-5v4m1-2h3m-3 0v4m19-3h4m-3 2h3m-1-3h3m1 1v3m2-8v3m0-1v3m0 0v2m8-6h3m0 3h3m-3-1v4m1-5h3m9 3v4m1-5v2m1-2h2m2-4v2m20 1h4m17 3h2m18 0h4m115-6h4m4 7v2m1-2h2m-2-5h3m-3 0v3m0 0v4m0-1v2m0-6h3m-3 5v3m0 2h4m-5 2v2m-21-3h2m-17-3v2m-5-1v2m0-2v4m-5 0v2m-129-2v2m-1-6v3m0-2v2m-1 0h2m-4-6v2m-2-2v3m-42-4v3m-1-2h2m-14 0v2m-14 4v3m-2-4v2m-129-7h2m-5 7v3m-28-6h3m-14 0h4m-6-1v4m-1-3v2m0 1h3m-4-6v2m-2 3v4m0-8h3m-3 4v4m0 3h2m-2-3v2m7-4v3m18 5h3m1-5h3m-2-2h2m10 6h2m6-7h2m112 2h2m3 2h4m2 3v2m3-1h4m0-7h4m-4 7h3m0-6h3m-2 4v3m17-4h3m15 3h3m10-1v4m1-4h3m-2-4h4m-1 3h3m-3 1h2m-1 0h2m10-7h2m1 0v3m0 1h3m-1 3h3m24 1h3m132-1v4m1-7v3m8-6v2m2 0v2m0-1h4m-4 1v3m0-2v4m0-1v3m-4-2v3m-1-4v4m0-2h3m-12 3h4m-7 0v4m-3-8v4m0 2v2m-3-3h4m-4 1v2m-1-2h4m-8 1v4m-12-7v3m-2-1v4m-1-11h2m-3 1v3m-47 1v4m-60-3h4m-5-2h4m-5-2h3m-40 0h4m-5 1v2m-1-2h4m-4-2h3m-19 0h4m-4 0v2m0 0v3m-4-6v4m-8 1v3m-1-1v2m0-9h3m-22 4v2m0-5v2m-2 2v4m-2-3v3m-1-4v2m-3-7v2m-3 3v4m-2-8h3m-7-1v3m-55 1v2m-22 2v4m-6-6h4m-32-2h4m-24 4v2m-2-4h3m-3-6h2m-3 4v3m-1-1h3m-18-4h2m-3-2h4m-7 3h4m12 7h2m0-1v3m4 0h4m1 0v4m1-7h2m1 5v4m16-7h3m-2 2h2m2-2v2m62-1v2m1 1v3m5-3h3m36-1v4m7-7v3m0-2v3m4-6v2m1-1v4m5 2v2m12-8v4m2-1v2m0-3v2m6 0h2m12 1v3m19-5h2m27-3h3m3 0h3m43 1h2m12 5h4m3 1v4m11-6h2m1-1v3m2-5h2m-1 5v4m25-8v2m4-2h3m-134 13h3m-4-5v4m-3-1h4m-23 0h2m-3-6h3m-5 4h4m-10 0v2m-3-2h2m-26 2h4m-5 1h2m-11-4v4m-7-6h4m-7 3h4m-4 3v2m-6-4h3m-4-3v3m-99 1h4m-6-5v4m-8 0v2m-14-2h4m-8-4h3m-4 0h4m12 13h4m32-4v2m3 5v4m11-4h3m-1 0v3m11-5h2m0 2h2m-1 0v3m1-6h4m0 0h4m-1 3v2m15-9v4m1-2h4m-2 3v3m14-4v2m0 0h3m-1-3v4m12-6v2m13-1h4m1 4h2m-2-1v3m3-9v2m12 0h4m0 4h2m2-3h4m-1 1v3m4 1h4m7-8v2m0 2v4m5-2h2m1-1v4m1-1v3m13-4v4m1-9h4m-3 1h2m2 2v3m5-2h2m8 0h2m-1-1h4m-3 1v4m88-9h3m-2 2v4m6-6h4m-2 1v4m11-3v4m-1 2v4m-1-1h2m-3 0v4m-55 1v4m-12-7v3m-41-1v2m-22-7v3m-7-2h4m-6 5h2m-2-3v4m-7-4v4m-3-1v2m-6-3v2m0-4v3m-4-4v2m-3-6v3m0-2h4m-6 5v4m-1-9h4m-4 7v4m0-10h3m-42 0v4m-1-2v3m0 0v3m-1-5h4m-8-4h2m-3 4v4m-1-4v4m-5-6v2m-4-5h2m-4 5v3m-1 0v3m-4-4h4m-5-1h4m-4 1h2m-11-7v2m-19-2h2m-7 2h4m-5 0v4m-18-4v4m-2-6h2m-4 4h2m-40 0h4m-4 3h2m37 9v2m7-3h4m4 1v4m26-3h4m-4 0v3m2-4h3m0-5v3m6-5v3m2 4h3m-3 0h2m-2-3v3m6-6v3m2 3v2m11-8v2m23-1v4m4-6v3m0 4h2m0-3v3m16-6h3m1 0v3m4 0h4m-4-4v2m0 1h3m-3-3h3m0 0h3m-2 7h3m-2 0v3m6-9h3m-1 0h4m2-1h3m8 8h3m6-5v2m3 2h4m-4-1h2m0-6h4m0 7v2m1-6h3m0 3h2m1-1h2m20 2v3m8-10h4m22 8h3m-3-1h4m0 1v3m12-4h2m1-4h3m-3-2v4m6 2h4m2-1v3m4-5h2m23 12h4m-12-3h4m-12-3h2m-6 3v3m-2-3h2m-7 4h3m-4-8h3m-6 5h3m-8 3h3m-4-5v3m-1-4h2m-2 6v2m-7-3v3m0-6v2m-3 1h2m-5-5h4m-11 4h2m-4-4h2m-4 2h2m-3-2v2m-3-2v3m-2-1v3m-3-3h2m-35 3v4m-4-7h4m-4 0v3m-1-4v2m-1 3h3m-4 0h2m-2-6h3m-13 5h3m-27 0v3m-4-2v4m-1-5v4m-27-7h4m-13 2h2m-11-6v4m-2 1h4m-4-4v4m-2 3v4m-27-11h2m-3 0v4m-2 3h4m-5-6v4m-5 2h2m-9-2h4m-4 0h3m-5-3v4m-3 1v4m-3-12h2m-2 3v4m-1-2h4m-6-1v2m-1 0h3m-9-2h3m-3 3v3m-24-10v3m-9 2h3m-3 2v3m-13-6v4m-2-5v2m-6-5v2m-14 5v2m-2-2h2m2 8v2m1-5v4m1-4v2m3-4h3m3 1v2m2-2h3m-2 3v3m1 0h2m2-2h4m0 0h4m0-2v4m1-7h3m15 5v2m3 0h3m8-6v2m2 1v2m11-7v2m3-1v4m6 1h4m-1 2v3m16-6v3m2-8v2m8 1h2m-2-3h3m-2 0h3m3 6v2m3-1h4m-4-6h2m-1 5h4m-3-6v4m1 1h2m-1-1v4m0-8h2m-1 8h3m-1-5v3m3 2v3m12-10h2m7 5h3m20-3v2m7 3v4m3-4h4m-3-1h3m-2-3h3m18-4h3m3 5h4m-4-5v2m1 2v2m0 1h4m-2-6v2m1 3v3m22-8v3m5 0h4m2-2h4m-4 1h4m-3-1v3m0-5v2m3-1v4m1 2v2m3-8v3m1-1h4m-2 3h4m6 2v3m7-8v2m0-3h4m5 5h4m-1 0v2m6-1v2m4-8h2m6-1h2m-1 2h2m2-2v4m2-1h2m7-4h4m-2 0v4m3-2h4m0 5v2m0-1h3m-2-2h3m9 8h4m-6 3h2m-6-6v3m-2-5h3m-6 3v3m0-5v3m-2-3h4m-4 5v3m-1-3v3m-1-3v4m-29-5h3m-3 1h3m-5 0h2m-3-4h3m-3 5h2m-8-3h2m-2-2v3m-14-4v2m-1-1h2m-7 0h3m-6 4v2m-1-3v4m-3-9v2m0 3h4m-5-4h3m-5 3v4m-5-6h3m-4-2v4m-1-1v2m-2-2v3m0-2v3m-2-7h4m-7 6h3m-4 2h2m-4-1h4m-8 0h4m-5 0h2m-12-2v3m-4-6h2m-4 2h2m-6-4h3m-4 2v2m-3-2h2m-6 2v4m-2-5v4m-25-2v4m0-6h3m-5 0v4m-3-2v3m-7-3v2m-3-1v3m-1-4v2m-2-1h2m-11 0h3m-9-5h3m-5 6h2m-2-5v3m-3 1v2m-11-3v3m-6-4h2m-5-1v3m-1-2h4m-6-1v3m-2-6v4m0-4v4m-2 1v4m-3-3v3m0-6v3m-2-3h4m-18-3h4m-6 2v4m-5 1v2m0-1h2m-7-4h2m-3 4h2m-4-2h3m-13 2v3m-1-3h2m-10 0v3m0-8v3m-3 0h3m-7-2h2m-10 3v2m-6-3v3m-18-4v3m-2-3h2m-6-5v2m-1 2v4m-1-1h4m-18 3v3m4-2h4m-3 4v4m0-3h4m8-3v3m0-6h3m0 0v2m2 1h3m0-4v2m2-2v3m3 1v4m1-4h3m-2 0v2m12-5h4m0 5v2m23-8v3m6 1v4m2-7v2m7 3v3m3-3v2m12-1h2m3-4h3m16 0h3m27-2h3m6 2h4m-1 1h3m-2 2h2m6 2v4m1-5v3m1-8v4m2 1h2m-1 1h3m1-4h2m0 3h2m20-5v2m11 1h4m-3-1h2m3-3h2m0 2v3m1-3h3m-2 1v4m2-8v3m5 0v4m16 0v3m10-10h2m15 6h4m-4 2h3m-2-2h4m0 1h3m-2-3v3m6-7v2m1 1v4m22 1v4m4-9v3m15 0v2m0-2v3m0-4v3m5-4h4m-4 1h2m-5 10h3m-7-3v4m-1-7h2m-5 4v2m-5-1h3m-4-2v4m0-6h2m-5 3v4m-2-4h3m-4 4h4m-5 0v4m-1-5h3m-7-1h3m-6 2v4m-3-4v3m-7-7h3m-4-1h3m-3 2h4m-17-4h2m-6 0h4m-18 2h2m-8 1h3m-5-3v3m-16-2v4m-3-3h2m-29-3v2m-25 3h3m-4-2h4m-6 4v4m-2-6h2m-3-5h4m-7 7h2m-3-5v3m-1-5v4m0 0v2m-3-2v3m0 1v2m-5-6h3m-6 1v2m-1 1h2m-3-2v4m0-6v2m-3-3h4m-44 4v2m-22-1v4m0-6v4m-4-9h2m-2 5v3m-1-6v2m-12 3v2m-9-10h4m-5 2h2m-10 6v3m-3-4h2m-7 1h2m-3-4h3m-3-3v2m-2 0v2m-2-4v3m-2-3v3m-1-4h4m-17 0h2m-7 7h3m-3-2h4m-4 1h3m-4-2v2m-3-5v3m-8 3v4m-6-6v4m-1-8h3m-6 1v3m0-4v3m21 11h4m-2-6v3m8 5h3m1-3h2m17-3h2m2 0v3m0-2h3m-1 4h2m1-4h4m3-1v4m4-4v4m0-6h2m10 2h2m-1-1v2m5 0h4m-3 5h2m3-1v3m3-6h3m1 4h3m7-7v3m1-3h2m11 4v4m4-3h4m-2-3h3m-2 4v4m14-8v3m9-4h2m14-2v4m1 0h2m-1-1h2m1-1v2m36 1h2m1 3v3m5-5v2m2-1h4m-4-6v2m6 1v4m18-7v2m4 1h3m-2-3h2m3-1v3m2-2h4m4 1v3m4-2h3m-2 0v3m2 0v3m3-3v3m5-8v3m3-4v2m5-1h4m1 6v2m5-4v3m4-7h3m2 2v3m0-1v4m3-2v4m2-10v4m9 3h3m4 0v3m0 4h4m-9 0h2m-4 1v4m-1-7v3m-7 1h4m-20-1v2m-4-2v2m-1-9h4m-8 0h2m-6 3v2m0-5v3m0-1h4m-5 2v2m-2-3v2m0 0v2m-11-6v4m-8 0v4m-5-2v2m-6-6h2m-5-3v3m-5 5v4m-2-5h4m-5-7h4m-5 3v3m-7-2v4m-13-6h3m-5 5h2m-30 1v4m-2-12h2m-2 6v3m0-3v4m-1-8v3m-3 2v4m-1-5v2m-7 0v4m-3-9v3m-3-2h2m-3 3v3m0-3h3m-6-3h2m-2-2v3m-18 1v2m-6-8v4m-4-3h2m-2 4v3m-6-3v3m-9 0v3m-2-10v4m-1-2h2m-6-1h4m-5 4v4m-1-6v4m-6-1v4m-7-7v2m-1 0h3m-4-4v3m-6 0h3m-4 0h3m-4 0v2m-3-6h2m-6 0v3m-22 1v3m-1-3v3m-1-1v3m-1-10v4m0-2v2m-2-4h3m-3 4v4m-3-8v3m-4 2v3m0-3v3m-6 0h3m-4-3v2m-1-2h4m-5-3v3m-1 0v4m0-7h3m-3 0h4m-6-2v3m-1 2h2m-4-2h2m-3 3v4m-1-9v3m-2-4h4m-7 6v4m-4-3v2m-1-3h3m-12-2h2m-3-3v3m-2 4v3m26 0v4m0 1h4m0-6v3m2 4h2m8-5v2m1 1v3m2-8v2m0-1v2m0 2v2m1-2v2m4-2v4m32-2v3m2-6h2m1-5v3m13 3h4m12-1h2m-1 0v3m0-7h4m-1 6v3m14-10h2m1 0v3m1-1v4m1 0h4m27 0h2m1-2v2m2-5v4m0-3h2m14 2h4m-3 3h4m-2-2h3m-1-4v4m4 1v2m1-2v3m28-8h4m1 5h4m-3-3v2m1 2h3m-2 0h3m-2 1h3m-2-8v2m1 5h2m-2-6v2m3-1h3m-1-2h3m-3 0h2m3 6v2m6 0h3m10-5h3m4 1h3m-3 0v2m2 2h3m-3-3h4m-4 1v4m16-8v3m3-1v2m14 1v2m7-9v3m-7 11v3m-2-5h4m-35 1v2m-1 1v4m-1-8h2m-20 4v3m-3-4h3m-7-1v3m-2-8v3m-2 0h4m-10-1v3m-2 1h4m-9-3v2m-6 0h3m-10 3v2m-6-6v4m-2-4v2m-1 1h4m-16-7h4m-5 4h4m-4 0h3m-4 2h2m-3 1h3m-4-4v3m-8 2v3m-5-5h4m-7-4h2m-2 4h2m-4 0h2m-2 0h2m-5 1v4m-2-5v2m-2 0h3m-8-8v3m-2-3v3m-13 3v4m-7-5v3m-10-6h4m-6 0h4m-5 0v2m-1-1v2m-7-1h4m-5 0v3m-9 1v2m-8-10h4m-11 0h2m-11 8h4m-6-3v3m-2-5h4m-15 5h4m-19-4v2m-3-6h3m-4 1h4m-6-1v2m-1 1h4m-4 0v2m-2-4h4m-5 2v2m-1-5v4m-1-3h4m-13-1v2m-2 3h3m-4 0h3m-4 1v4m-1-8v2m-1 2v4m-3 4v3m3-7h4m-3 2v3m2-6h3m-1 1h3m7 5h2m2 0v3m1-7v3m1-3v4m2 2v2m4-10h4m0 0v3m16-3h4m-4 6v2m1-3v3m1-4h3m8-1h3m3-2h4m10-1h2m-1 0h3m-2 5h3m-1-1h2m2-3v4m2 0h3m-2-4h2m11 7v4m2-5h3m4-1v3m5-9v4m0-4h2m7 5v3m1-1h4m-2-3h4m-2 1h3m-2 1v2m1 0v4m6-12v2m5 3v4m2-1h4m-4-4h2m1 1v2m1 1v2m2-5h2m-1-1h2m7 0h3m-2 2h2m-2 0v3m2-1v3m17-7v2m1-6h2m0 5v4m2-6h3m0-3h3m-1 0v4m16 1h4m5-2v4m0 1v4m2-5v2m10-5v4m2-5v2m4-2v2m11-4h4m12 6v2m18-1h3m-19 3h4m-37 6v2m-5-5v2m-1-1v2m-5-5v3m0-5h4m-5 3v2m-2-6v2m-3 0h3m-10 0v3m-5-4h3m-7 1h4m-6 6v4m-1-11h3m-4 7h3m-7-4h2m-3-1h3m-5 4h4m-6-3v2m-1-3v2m-13 0v3m-5-5v4m-9-1h4m-9-3h4m-4-2h2m-3 0v4m-5-2v2m-2-1v3m-10-4v2m-1-1v4m-1-4v2m-1-5v4m-11 1h3m-4 0v4m-5-9v4m-17 1h3m-5-1v4m-5-1h4m-12-5h2m-9 5h4m-6-3h2m-9 2v3m-9-6h4m-6-2v2m-3-3v2m-2-3h2m-3 0v3m-1 0v2m-38 3v4m-15-12h2m-3 0h4m2 13h3m7-2h4m-4-1h4m-2 4v4m56-8v4m8-2v2m2-1h4m-1 0h3m1-3v4m5-5v2m1 2h3m-1 1v2m1-4h3m-1-1v2m6 4h2m1-3h2m-1-1h3m-1 1v4m13-3h4m-1-5h3m0 7h3m-1-6h4m-2 1v2m2 2h3m-3-6v2m16-3h2m5 3h4m5 4v3m4-8v4m1 1h2m-2 1h2m2-2v4m3-9h4m6 5h2m0-3v2m2-4h4m-3 0v3m2-4h2m13 5v4m5-2v2m9-5v2m1-4h3m-3 0v4m2-4h4m-2 4h2m3-6v3m11 1h3m38-3h3m-61 10h3m-43-2h4m-6 2v2m-3-1h4m-5 0h3m-3 4v2m-3-8h3m-6 4h3m-7 0h4m-5-2v3m0-6v3m-16-1h2m-3 5v2m-13-5h2m-4-3v3m-4 1h4m-5-3v3m-1-3h3m-3 0h4m-5 0h2m-2 5h2m-3 0h4m-5-7v3m-11-3v2m-1 1h2m-3 4v4m0-4v2m0-1v2m-1-4v4m-4-4v4m-4-10v3m-1-2h2m-9 6v4m-1-4h3m-5-1v4m-1-2v3m-2-3h4m-4-7v2m-9 4v4m-2-8v3m-1-1v2m-2-5h3m-6-1v3m-9-3h2m-3 1h4m-8 1v2m-4-3v2m-20-4v2m0 0v2m-12 4h2m-10 1v2m9 0h4m-4 1h2m-1 2v2m1-3v3m1-6h2m12 3v4m6-4v3m1-6h4m-3 6h2m0-7v3m4 2h3m0-1v4m0-4v3m2-5v4m10-5v4m6-4v2m6 1h4m7-2v3m5 0v4m3-8h4m-4 3h3m6-2v2m2 3v3m0-6h2m4 2h3m-3-2v4m2-6v3m9-5v2m3-1v2m9 4h2m13-7h4m6 7v3m0-9h2m0 1h3m-2-1v2m2-3h4m5 1h4m-2 0h3m-3 5v3m1-6h2m2 5h3m4-8v2m10 1h3m2 3v4m13-10h4m-3 7v4m8-4h3m-2-4h4m-3 5v4m0-7h3m38 10v3m-2-3v4m-1-5h2m-44-2h4m-5 3v3m-1-8v3m-1 4v3m-9-6h4m-4-2v2m-4-3h3m-5 4h4m-6-3h3m-14-1v2m-3 0v4m-8-4h2m-5 1h2m-5 1h2m-2 0h3m-6 0v4m-3-2h3m-24 0v4m-2-11h3m-6-1h2m-22 8h2m-8-3v2m-1-6v3m-5-3h3m-3 4v4m-2-8h4m-15 7v4m-27-12v4m-8 2v2m-2-3h4m-5-2h4m-4 2v4m-4-6h3m-3 3h3m-4-5v4m-1-5h4m-7 2h3m-5 0v3m-4-1v3m-2-7h2m-4 0v2m-7-2h3m-185 11h2m185-2h3m2 2h2m-1-1v3m0 0h4m-1 0v3m2-4h3m-3 1h3m1 0h3m-3-3v2m3 0h2m-1 5v2m1-4v4m0-4h3m-1-3h4m-4 5v4m4-4h2m3-3v3m5-7h4m1 7h2m-1-2h3m-2 0v4m1-4v3m1-9h4m-2 6h4m5-4v2m1-1v3m5-2h2m3 2h3m0-2v2m11 1v3m1-10v4m14-4h2m3 0v2m30 5v2m22-1h3m3-5v4m1-5v2m0 2v4m2-9v4m3-4h3m8 1v3m6-1v4m1-6v3m8 0v2m2-4v2m20 0v3m21 6h3m-8 0v4m-11-8v3m-1-3v4m-34 0h3m-52-2h2m-38 5v4m-8-5h4m-10-4h3m-6 5h4m-5-1v3m-5-8v3m-1-3h3m-3 6h2m-4-6v3m0-2v3m-21-6h3m-4 6h4m-8 2h3m-4-1h2m-7 1v2m-10-3v4m-1-5h4m-5 1v4m-1-4h2m-2-7h4m-5 8v2m0-9h2m-2 4h3m-5-4v4m-217 5h4m4 7h4m226-3h4m-1 1v4m9-5h3m-1-1v2m2-1v2m3-1h3m5 2h2m-2-5h2m0 4v3m1-7v3m0 0h2m3-6v4m1-3h3m-1 4h2m-1-4v4m88-1v3m17-7h4m-2 4h3m-2 1h2m-2 3v3m0-5h4m2 1h2m-1-4h4m-4 3h3m-3 0v3m2-5v3m3 1h2m-2-3h2m0 2v4m7-4v4m7-4v2m17-5h2m-2 13h4m-5-2v3m-43-9h3m-28 0h2m-2 0v2m-87 2h4m-8-1h4m-6-1h4m-22-2h2m33 9v2m91 3v4m1-7v2m20 0v4m5-6h3m8 4v2m2-3v2m0-7v4m9-2h2m2 3v3m0 0h2m0-3h4m-4 0v4m0 8h3m-3-3v2m0 0v2m0-8h4m-4 1h2m-8-2v3m-1 5v2m-1-7h3m-3 4v4m-4-9h4m-8 2v3m0-5v3m-1 2h2m-4-2h2m-2-5v4m-1-4v4m-5-1v2m0-4h4m-17 2h4m-5-1v3m-3-2v2m-1 2h2m-6-4h2m-2 2h4m-5-2h2m-361 3v3m-3-8v3m-10 3h3m403 9v3m1-10v4m3-4v3m1 4h2m-2-4v2m1-5h3m1 6v2m0-1h2m0 0h4m-3 0h3m-2-5h3m-3 4h3m-3-6h2m-2 0h4m-11 9h4m-12 2v4m-10-6h4m-8 0h4m-391 10h2"/>
<path stroke="#3b528a" d="M80 6v4m11-4v2m1 0v3m31-5v2m21-2h2m22 0h2m7 2v3m3-3v3m5-5h4m-3 0v2m2-2v3m4-3h3m241 0v4m0-4h4m-4 0h3m-212 8v2m-30-7v4m-3 2h4m-13-6v2m-2-1v3m-3 4v3m-2-4h2m-11-2v4m-19-4h3m-6-2v3m-2-5v3m-21 3v3m-22-9h3m-6 2h4m-40-1h2m49 12h3m-2-5h3m-1 6v2m0-7h2m14 6h4m33-1v4m1-9v3m11-3h3m29 6h2m-1 7v3m-19-1h3m-17 1v3m-2-6h4m-7 1h3m-28 1v3m-1-8h2m-18 1v3m-4 0h3m-5 1v3m0-2h4m-24-4v3m-3-1v2m0-4v2m-14-4v2m-47-3h4m63 13v3m0-8v2m16 1v3m0-4h3m-3 0h3m22 5v2m10-9v2m18 5h4m3-2h3m-2 0v4m1-6v2m1 3h4m-3-7v2m4-1v4m1-5h4m4 5h2m229 1v2m0-1v4m0-10v3m0 11h2m-2 1v2m-214-9h2m-2 0h4m-21-1h4m-15 5v3m-7-6v3m-8-5h2m-6 8h4m-5-5h3m-5-3h3m-9 3v4m-2-6v4m-5 0h2m-18-5v4m-24 1h2m-13 3v2m-4-5v2m-2-3h3m-9-1h4m-94-3h3m-3 8h2m1 4h3m13-2h2m1 3h2m94-3h2m38 1v4m6-6v2m7 3h4m2-3v2m4 1h3m-2-4h4m6 0v2m25-2v4m8 0h2m-1-1v3m204-7v2m0 13h4m-4-5h4m-16 2h3m-222-2v4m-4 0v3m-3-6v3m-4 0v4m-4-7h3m-4-1v3m-2-3h2m-3 7h4m-5-7h2m-7 0v3m0 0v2m-2-2h3m-5 3v2m-24-1h4m-110-4v3m-3-3h3m-16-3h2m-3 6v4m-23-9h3m19 9v2m62-3h2m4 0v4m51-2h4m-1 4h4m-1 0v4m2-7v2m2-1h4m14-3h2m4 4v3m6-6v4m14-1h3m8-1v2m1-3h2m0 3h3m-2-7v3m213 11v2m-7-2h4m-5-2v4m-3-6h2m-14 0v3m-1-1h3m-3-3v2m-11 1h4m-152 2v2m-18 0h3m-4-2h2m-4 3h4m-28 0h2m-8-5v2m-2-2h4m-7-2v4m-31-4v3m-9 4h4m-23-1v3m-71-3h2m-7-5h3m-10 0v3m-1 2v4m-1-4v4m-15-8v3m-6 1v3m-3-4h3m-7 1v4m-2-11h2m-12 14v2m0 0v4m0-9h3m10 4h3m14 0v4m9-2h2m-1-6h2m-1 0h3m27 4h3m3 1h3m102-7v4m5-3v4m1-5h2m-2 7v3m0-5h4m-3-5h2m-1 5h4m-3-4v3m1-3h3m0 6v4m15-8v2m4 0v4m2-5v2m8-6h4m-4 2h4m10 1v2m0-2v2m0-1v2m36 2v4m103-6v4m3-8h3m-2 4v3m12-1v3m0-6h3m0 3h4m-1-4h2m19 2h3m-2-1v2m4-3h4m-3-4v4m3 3h4m-3-6v2m0 4h3m-3 5v2m-2 3v4m-2-11h3m-9 3v2m0-2v4m-3-5h4m-7 4h4m-5-4h3m-5 2h2m-3-1h2m-44-2v3m0-4h2m-13 3h3m-10 4v2m-62-5h2m-2 2v2m-11-2h4m-5-4h2m-3 4h3m-8-3v4m-8-2h3m-19 2h3m-54-7h3m-4 0h3m-5 5h4m-15-2h4m-4-3v2m-2 5h4m-22-2v3m-1-3h4m-6 2h4m-6 0h2m-12 0v3m-53-3h3m-30-5h4m-12 3v3m-20-3h3m-9-2h3m-4 4h2m-3-6h3m-23 5v2m-2-2v2m-2-9v4m-6 1v3m0-1h2m-2 2h4m-4 0h3m-3 1v3m0 4h2m0 0v4m4-10v3m1-5v2m1 5v3m0-9h4m-1 0h2m5 3v4m3-6v4m21 1h4m2-5v4m1-4h3m8 5v2m5-8v4m29-4v2m9 3h2m50-4h2m3 5v4m1-4h3m1 1v3m0-4v4m0-3v4m1-7v3m0-6h4m10 0v2m1 3v2m2-3h2m4-5v4m3 1h3m0 1v2m9-2v2m29-9h3m-2 1h2m-1 1h4m-1-2h4m-3 6h3m14-6v3m12-2h3m6 1h3m-3 0h3m33 6h4m26-5h2m0 0v4m8-4v3m1-3h3m22 3h2m12 2h3m-3-5h2m16-2v4m8-4h2m9 3v2m0 1h4m-4 8h2m-2 0v3m-27-1v3m-7-10h4m-6 2v2m-1-4h3m-8 4v3m0 0v3m-3-9h4m-10 6v3m-5-6h4m-48 2h3m-15-3v4m-5 0h4m-11-8v4m-15-4h3m-108 8v2m-3-10h3m-4 2h3m-3 1v3m-6 1h2m-15-1h4m-10-4v2m-3 2v4m-19-4v2m-2-3h3m-39 2v4m-36-11h4m-18 1v3m-5-3h2m-16 5v4m-4-10h3m-4 2h2m-4-2h2m-4 7h4m-10-3v3m-1-7h4m-4 7v4m-3-5v4m-9-1v4m31-2v4m3 2h3m11-7v2m15 4h3m18-2h3m-2 3h4m27-7v3m3-2h3m20 4v4m18-9v3m2-1h2m3 1v4m16-6v4m2 0v2m49-1h3m-1-1h3m22 0h4m-3-3v3m1-6h3m13 6h3m-2-2h2m1 1v2m6-5h4m21 0v3m28-2v3m0 0h4m28 2v4m0-8h3m0-1h3m-1-3h2m18 0h2m-1 3h4m26 3h4m-9 4v2m-5-2v2m-3-3h2m-24 6h4m-16 1v3m-2-8h2m-3 5h3m-11-1h2m-5-2v2m-4 1v4m-3-3h2m-13-5h4m-14-1v4m-2-4h2m-4 5v3m-1-8v3m-15-4v2m0 3h3m-37-3h3m-5-1h2m-6-2h3m-4 0v2m-12 5h3m-6-2v2m0-2v2m0-2v2m-27 1h2m-6-5h2m-14-2h3m-4 0v3m-32 1v3m-2-8h2m-10 8h3m-5-4h3m-4 4h4m-14-6h3m-12 5h2m-29 1v4m-6-9v4m-3 1v3m-3-9v3m-5-1v4m-1-7v2m-2-2v3m-14 2v4m0-7v3m-5 1h3m-3-7h3m-5 6v2m-21 0v4m-5-10v3m-2-5h2m-20 0v2m-6 2v3m-15-6v2m25 6h3m14 4h4m1-1v2m2 2v2m1-4v2m12 1h3m12-2v4m1-6h4m8 3h3m17 1h3m-1-7v2m3 0h4m2 5h2m7-5h2m29-3v2m28 0h3m25 4v3m5-6h2m8-2h2m8 3h4m-2 1v2m10-2v2m0-4h3m0 1h4m25 1h3m10 2v2m2-1v2m12-9h2m13 3v4m1-7h3m1 1h2m6 4v4m17-8h4m-4 4v2m6-4v4m9-5h2m1 4v2m6-4v4m-49 0v4m-31-4h2m-6 5v2m-5-6h4m-9-1v4m-4 3h4m-4-7v2m-3 3h3m-5 0h3m-5-2v2m-31 3v3m-7-9v4m-25-3v2m-45 1v2m-1 0v4m-3-8h3m-14-4v2m-17 6v2m-18-10h2m-4 1h4m-5-1v3m-11 5v2m-5-3v2m-9-6h4m-12-1h2m-19 3h4m-7-1h4m-5 2h2m-8-2v3m-2-7v3m0 0v3m-9-3v2m11 9h2m2-2h2m4 3h4m3-3v4m7-4h2m1 0v3m18 2v4m0-9v4m46-1v2m10-7h2m56-1h2m7 3h4m-3 3h4m2-4v3m14-2v2m1-5v4m2-3h3m-1-1v4m4-1v3m1 1h4m-3 1h2m33-6v2m2-2v2m26-2v3m12-2h3m14 1v3m14 1v2m3-4h2m-2 3v2m-3 1v2m-30-4v3m-21-3h4m-7 1h4m-46 6h4m-18-7h2m-5 4v2m-2-3v2m-2 1v4m-1-11h4m-12 2h3m-25 6h2m-49-3v3m-19-3h2m-2 0v3m-40-7h4m-4-1v4m-49-4v2m-5-1h3m-4 3v3m20 9v3m13-10v3m3 3v2m19-3h4m-2-2h2m1 2h3m25-5h2m0 2h4m-1-1h3m-3 3v2m1-5h3m4 0v3m67-2h3m34 1v4m3-2v4m4-6v2m3-5v2m3 1h2m23 1v3m1-6v3m1 1h3m9-5v3m5 3v2m3-6h4m12 5h3m10-7v4m2-3v2m13 0v3m6-6v4m7 13v3m-1-7v2m-7-5h2m-13-1h2m-5 3h3m-7-1h4m-5-2v2m-14 1h3m-19-2v4m-4-5v4m-1 1v2m-8-1v3m-3-3h4m-4-5h3m-32 2h2m-115 5v4m-2-6h2m-78 0v4m-4-4v3m-1-7v2m-18-4v2m5 11h3m1-3v4m3 3h4m-2 0v2m0-2h4m-3-4h3m-3 0v2m0-2h3m-1 1h4m-3-4v2m1 0v3m0-5v2m6 0v4m1-1v4m9-9v4m31-5v4m155-1v3m1-6v3m20 0h2m-1-1h4m-1 0v3m54 0v2m4-1h2m2-6h2m-2 2v2m1 0h3m2 2v4m15-7h2m6 7h2m-4 7h4m-9-3h3m-6 1v2m-70-6v4m-12 1v4m-28-5v2m-130 0h3m-20-5v3m-62-2h2m-3 3v3m4 1v3m20-1h2m0 3v3m29-3v4m152-8v2m29-4v4m18 3v4m6-7h3m-2-5v3m0 5v2m61-9h2m-1-1v3m3 4v2m16-2v2m-3 7v2m-6-4h4m-5-4v2m-6-3v2m0 4v4m-2-10h3m-8 1h4m-6 0h2m-3 5h2m-5-2v2m-2 0h2m-4-3h3m-9 2h2m-6 2v3m-1-5v2m-2 1h2m-29-1h4m-5 0v2m-2-3h2m-54-5v2m-29-2v3m-3 4h3m-20-3h2m-156-5v4m93 10h4m83 0v3m30-6v4m3 1v3m9-4h2m47 0h2m0-3h3m6-1v4m1-1v2m0-2v4m2-4h3m-3-5h3m1 3h4m11-2v4m2-1v4m13-7h3m1-1v4m3 8v4m-3 0v4m-15-9v4m-1-6v3m-9-1h2m-11 2v3m-1-3v2m0-2v4m-1-1h4m-20-2v2m-6-4v2m0-3v4m0-4v3m-15-4v2m-2-3h3m-3 7h2m-64-6v4m-172 0h4m0 5v3m161-1v3m25-2h4m-3-1v4m1-3h4m-3 4v3m43-11h4m-4 0h4m38 1h4m-2-1h3m6 2v2m1 1v2m2-7h2m-2 4h2m3 2v2m8-2h3m7-1h3m-1 1h3m-3 0h2m-2 4h3m-6 4v2m-11 1h4m-32-2v4m-1-5v3m-3-2v2m-14-1v4m-5-7h2m-5-2h3m-62-2v2m-11 6h2m-8-2h4m-87-2v4m-37-8v4m31 12v3m12-8v4m77-2h3m-1-4h2m44 2v2m13 4v3m7-3v2m1-5v2m6-1v3m0-1v2m3-3v3m2-6h3m-2-3h3m-1 6h4m-3-3h2m3 0v3m1-2v2m16 0v2m1-8v4m16-4v3m0-1v3m4 1v4m3-9h2m5 2v4m7 4v3m0-4v2m-7-3h3m-30 0h2m-2 1h3m-5-1h4m-19 3v3m0-5v4m0-6v2m-4 5h4m-5-5h2m-7-1h2m-8 3h2m-7-1h4m-7-3v4m-27-3v3m-9 0h3m-6 0h4m-4-1v4m-3-3v4m-20-7v4m-17 2h4m-36 0h2m-107-7v3m9 13v4m7-8v3m2-5h3m-3 0v2m71 4v4m1-5h2m8-2v3m1-6h2m1 1v4m68-6h3m0 6h2m1-4v3m0-2v2m4-3h4m-3 4h2m36-2h3m26 0h2m2-1h2m0 2v3m0-6h4m5 1v4m24 9h2m-21 0h4m-17-7v4m-2-4v2m-3 1h2m-47 5h4m-4-1h4m-5-6v3m-2 4v2m-11-7v4m-6 0v4m-3-7v2m-3-3v4m-1-3h4m-6-3v4m-8 1v3m-2-1v4m-7-6h4m-29 0h2m-5 1v4m-37-11v4m-2 0h2m-27 3h4m-6 3h2m31 0h4m50 2v4m13-5h2m1 0v3m2 1v3m2-6v4m8-4v2m9-2v4m2-7h2m-2 8v3m32-10v2m2 4v4m1-4v2m2-5v2m3 2v4m8-4h4m-3-3h2m5-3h4m-1 1h4m13-3v2m15 6v2m7 6h2m-7-2v2m0 1v2m-3-8v2m-3 4h3m-6-1h3m-4 0h3m-11 1v3m-13-9v3m-11 2h4m-11-6h2m-5-1v2m-2 3v3m-6-7v4m-8 0v2m-4 0h2m-21-2h3m-4 0v4m-4-3h3m-6-4v4m-26-6h4m-6 6h4m-4-5v3m-4 2h3m-3-3h3m-4 3v2m-2-4v4m-2-6h3m-19-1h4m-6 2h3m-51 2v2m-16-4v3m-9-6v3m-1 2v4m18 2v4m11 0v4m3-10h3m0 1v3m2-2h2m8 6h2m26 0h2m-2-5v3m3-2h3m1 0v2m5-1h3m3-1h4m0-1h2m5 3h3m5-5h2m0 1h2m5 5v3m2-2v2m0-3v4m1-7v2m6-1v3m20-8h3m-3 8v2m4-9h4m-1 3v4m0-5h4m-2-1h2m5 0h4m-3 0v4m11-5v4m8-3v3m5-1h3m11-4h4m-1 4h3m1-3v2m3-2h4m-1 0h2m3 7h3m-1 0v3m6-4h2m-1-6v4m1 11v2m-1-6h3m-9 2h4m-5-1v4m0-6h3m-5 1h3m-23 3h4m-19-4v4m-3-5h4m-6 4h3m-5 1h4m-5-4h4m-4 0h3m-5 3h2m-25-4v2m-5 3h2m-3 1h2m-20-6h4m-16 3h2m-19 1h2m-2 3v4m-5-7v2m-9-5v4m-7-2v2m-5-6h4m-31 2h2m-7 5h2m-2-3h3m14 11v3m2-3v3m19-8v2m11 2h2m3 1v3m0-9h2m36 6v4m18-9v4m3-5h3m4 6h3m4 2h4m-2-6h3m0 3h3m-2-4h4m9 1v3m22 1v4m5-10h2m-2 5h4m-4-4h4m10 4h3m-1 0h2m-2 3v4m0-9v2m0 11h3m-3 0h2m-4 0h4m-16-3h3m-6 0v4m-6-5v2m-37 2h3m-4-6h2m-14 7h2m-4-4v4m0-4v4m-49-1v4m-1-9h3m-3 3h4m-6 2v2m-7-2v2m-1-8h4m-12-1v3m17 9v2m22 2v3m7-2h2m3-3v3m14-4v3m4-7h4m-3 4v3m8-5v3m10-1v2m4-5v4m7 1h3m9 0h2m3-4h4m-4 2h2m10-2h2m0 0h2m11 5v3m0-9v2m-16 7h4m-15 3h3m-5 1h3m-3-1h4m-5 0h4m-5-2h3m-4 3v4m0-4v2m-9-5h4m-11 0h4m-6-2v3m-29-3h4m-6 1v3m-6-3h4m-13 0v2m83 12v2m4 6h3m-8-4v2"/>
<path stroke="#306c8e" d="M37 8v4m3-6v2m32-1v2m7-2v2m5-3h4m-2 0h2m5 0h2m-2 0h3m6 2h3m6-2v2m74-2h2m-2 0h3m-2 0h2m-8 10v2m-6-3v3m-50-3v2m-13-8v3m-1-1v2m-2-1h4m-6 0v2m-5 2h3m-7 0v4m-12-3h4m-7 0h4m-6 0h2m-4-4v4m-1-5h2m-18 2v3m-4 6v2m2 0v4m28-11h4m24 1v2m3 2v4m7-7h3m45 2v4m3-5v2m-13 7h2m-5 3h2m-3-1h3m-3-1h3m-19-4h4m-8 6h4m-8-6h4m-21 0h3m-13 8v3m-11-11h3m-36 15v4m41-10h2m7 6v2m13-1v3m18-3h4m0-7h3m0 8v2m2-2v3m68 6h3m-31 0v2m-8-10h4m-37 2h4m-8-2h4m-10 3h3m-4 2h4m-6 1h3m-6-4v3m-11-2h3m-6 0v4m-3-1h2m-19-5h4m-11 2h3m-23 2v3m-3-1h4m-13-4v2m0-4h4m-19-1v3m-31-2v4m-4-1h2m-10 9h4m13 3v4m2-11v2m7-1v4m10-5h2m-1 5h3m-1-1v3m11 1h3m77-8h2m1 0v4m27-4v2m12 3v3m8-5h2m38-3h4m-49 11h2m-3 5v3m-11-2h4m-6-2v2m-1 0h4m-10-4v4m-34-2v3m-2-6v4m0-4v3m-2-5h2m-26 2v2m-55 2v3m-1-4h4m-35 2h2m-5-8v2m-2 2v2m0 8v3m3-1h2m-1 0h2m4 1h4m0-4v2m8 0v4m1-6h2m7 1v4m45-4h3m0-3v3m0-2v3m10-2v4m1-4v2m5-2h4m25 2v4m3-2v2m8-5v4m11-5h4m-4 1v4m5-9h2m264 12v3m-222-6v4m-8 4v2m-44-6v3m-21-6h2m-26-1h2m-6 7h2m-65-7h2m-16 6v2m-1-5v3m-5-4v2m-8-1h3m22 13h4m3-2h3m0 1v4m1-3h4m-3-4v2m0 2v3m4-5h2m14 2h3m0 1v4m4-4v2m2-3v3m63-4v2m0-3v3m17-5v3m39-5h4m47 3h3m-1 0h4m-3-4h4m150 5v2m9 7v3m0-1v4m-15-10v4m-19 1v4m-14-4v4m-2-2h3m-73 0v2m-1-2h2m-92 0v2m-38-2h2m-8-4v3m-16-2h4m-44-3v2m-13-2v2m-14-4h3m-13 4v2m0 2h4m-12 0h3m-12-7h2m-8 7v4m-1-9h2m-3 0v2m-24 0h2m-7-2h2m-5-3h4m6 11h4m1-2v4m19-1h4m-1 3v2m11-7v3m14 2h2m1-1h3m-3 1h3m6 2v3m9-6v2m3-1v4m0-6v2m14 2v2m2-9v3m0 3h3m3-2h2m-2-4v4m47-4h2m0 0h4m-1 7v3m1-3v3m3-6h4m-3-2v4m1-5h2m0 2v4m29-6h3m1-1v4m55 3v3m14-3v4m0-9v4m1-5v2m4 0v4m6 0v3m32-3h2m-1-2v3m5-4v2m17-4v3m17-5v3m3-1v4m16 1h2m2-4v4m3-3v4m13-3h3m0 2h2m-2-6v2m-1 7v4m-4-6h3m-10 1h2m-5 5v2m-3-4v4m-4-8h4m-5 0v2m0 6h2m-3-6v2m-2 2h2m-11-2v2m-6-4h3m-25 3h3m-19-3v4m-9-5v3m-15 2h2m-156 1v3m-4-3v3m-4-5h3m-26-1h2m-38 2h3m-35-5v2m-13 2v2m-12-4h3m-3 4h4m-11 1v4m-5-1h3m39 0v2m1 0h4m19-4h3m12 4v3m5-6h2m4 1v4m5 1v4m11-3h3m1-8h4m-3 3v3m2-2v3m1 1h4m-3 0h4m-3 0v4m19-7v3m2-6v2m24 1h2m-1 0h4m-2-2v3m4 1v3m1-5h3m93 0v2m5-3v2m16-4h4m-4 3v3m3-2h2m7-4h3m26 5h3m5-7v4m13-2v3m10-2v4m8-5v3m5-4v3m3 1h3m-1 1h3m9-5h3m-15 8h2m-9 3h4m-6-3v2m-3 3v3m-11-5v2m-3-3h4m-6 4v2m0 0h3m-5-3v2m-3 1v4m-6-5v3m-15-4h2m-42-6v4m-10 4v2m-111-7h2m-13 2v2m-2 1h3m-34-4h3m-22 4h3m-8-3v3m-1-2h4m-28-1v4m-38-4h4m13 5v2m19 1v2m3-6v2m12 0v2m3 1h4m9 2v3m23-6h4m8 1h2m5 2v4m13-8h4m12 1h3m0 1h4m-2-5v4m1-4v3m58 5v4m6-7h4m17 1v4m13-10v2m1 0v2m42 2h2m3-4v4m3-6v3m2 1v3m8-1v2m11-5h4m5-3v4m0 1v3m4-7h3m8 2v4m1-4h3m3 1h2m14 3h3m-59 3v3m-1-4v2m-8-2v2m-1 4v2m-15-8v2m-5-2v3m-3-1v2m-35 1v4m-32-9h2m-101 4v4m-2-6v2m-7-3h3m-9 6v4m-11-4h2m-16-2h2m-18-4h4m-8 1h4m-7 3v2m-12-7v3m0-2v2m4 14h2m1 0h2m-2 0h3m3-6h2m11 6h3m18-3h3m-3-5v3m6 1h2m-1-4h2m0 5h4m3 3h3m143-5h4m0 3v2m6-4h4m0 3v4m6-10h2m1 2h3m-2-2h3m1 0h2m7 1v4m30-6v3m28 3v3m1-6h2m14 12v2m0-5v4m-47-1h2m-8 1h3m-7-7v2m-38 6v2m-2-8v2m-194-2v4m-5-4v2m-13-3h2m24 14h4m26-2v2m187 15h3m78 30v4m-4 19h4m-2-2v4m4-3v3m26 9v4m-2-2h2m-6 1h3m-7-1h3m-13 1h2m-4-3v4m-38 5v3m1-2v4m5-4v4m13-6h3m18 2v2m2 0v2m8-8h2m0 1h3m0-2v4m1-4v2m3 4v3m1 6h4m-5-4h2m-5 1h4m-35-1v3m0 0v2m-15-7v3m-2-2h4m10 8v2m1 1h4m-3 1v3m1 0h4m-2-5h4m17 0v3m8 6h4m-4 4v2m-3-2h3m-5-1h2m-11 2h4m-6-2v4m-1-3h4m-5-3h3m-8 1h4m-13 2v2m-15 0v2m0-5v4m-65 5h3m-2-3v2m1 1h2m23-4v4m21-2h3m-3 3h3m-3 1v3m3-10v4m1 3h2m8-6v4m6 2v3m5-7h4m4-3v4m1 4v4m20-10v2m2 2v4m6-5h4m2 1h3m-3-5h2m-2 5h3m-3 1h2m-2 1v4m0 5h3m-8-7v4m-11 3h3m-23-5h4m-5-2h4m-6 2v3m-26-1h3m-22 1v2m-19-7h2m-3 2v4m-1-4v3m-1-6h4m-6 1h4m-7 7v4m-15-6v2m-16-3v3m-16 6h2m-1-3v2m19 0h3m5 0v2m0-5h2m-1 6h2m4 1v2m3-6h3m-1 1h2m24 3h2m6-3h3m-2 1v2m2-4v2m1-4v3m12-3v3m4-5v2m1-2v3m45-3v3m0-3h3m0 0h3m11 6v3m1-5h2m-2 6h4m-4-1v3m-1-3v2m-2 6v2m-22-2v4m-4-6h3m-48-2h4m-7 3v3m-2-6h4m-6-3h4m-8 5v3m-2-6h4m-6 3v2m-33-8v4m-3 2h4m-13 0h4m-16 2v4m-4-4v2m9 2v2m6-2v2m1 2h2m5-4h2m-2 4v4m3-3v4m13-11h2m5 1v4m10-6h4m13 5h4m0-5v4m43 0v2m2-3h3m-2 0v4m27 10h2m-2-4v2m-10-1v2m-3 1h2m-51-2h2m-7 0h4m-7-4h3m-4 0v4m-50-1v4m-16-8h3m-19 3v3m30 2v4m21-1h4m-2 2h4m10 3v2m7-2v3m9-7h3m2-1v3m37 2v4m0-5h3m25-7v4"/>
<path stroke="#26848d" d="M55 6h2m14 0v3m1-3v3m12-2v2m3-1h2m20 0h3m70-2h2m-69 9v2m-5-3v3m-2-6v3m-19-5h3m-9 7v4m-77-10h2m33 15h2m6-6h3m4 7v3m0-7h2m50 1v2m9-3h2m3 3v2m48-5h4m-18 12v4m-19-10h3m-39 7h3m-11-7v3m-1-2v2m-37-2h2m-39 10v4m74 0h2m0-3h2m-1 2v2m12-6h2m45 0h3m20-2h3m-19 12h4m-9-2h4m-17 7h2m-4-7v3m-14 1h2m-10 1h3m-5 2h2m-40-5v2m-17-4h2m-3 3v3m-53-6h2m-4 8h2m-2 2v3m25-5h2m3 5v2m7-6v4m5 2h4m-3-7v2m32-2v3m3 0v3m37-6v2m2 1h2m-2-1v3m13-5v2m28-2h4m15 8v2m-25 7v2m-10-4h4m-5-2h2m-7 2h3m-3 0h4m-6-1h2m-8-1h4m-40 4v3m-23-3v2m-38-6h2m-12 7h3m1 1v3m12 1v3m33-8h2m1 3h2m2-1h3m-1 0v4m1-3h4m-3 1v3m1-5v2m0 0v4m4-5h2m-1-1h4m-2-1v3m4-5v4m34-3h2m5 1v4m10-7h2m9 16v2m-1-6h3m-18 2h4m-40-1v2m-25-5v3m-8-3v2m-20-2v3m-1-1v3m-21-6v4m15 13h2m22-2v3m51-5h2m9-1h2m2-3v2m7 1h2m0 2h4m26 0h3m10-4h3m192 11h2m-5-1v2m-5-1h4m-5 5v4m-4-9v2m-6-2h4m-207 5h3m-5-7v4m-43 2h2m-18-1h2m-4-2h3m-35 2v3m-3-3v4m-7-10h3m-4 1v2m-1-3v2m-11 3v3m-40 3h4m-1 4v4m5-7v2m29 2v2m75-2v2m5-9v3m1-1v4m157 2h2m41-4v2m2-3h4m14 4v2m13-7v2m3 1v3m8-4v2m3 2h4m7-3v2m5 5v4m-9-3v4m0-5h2m-9 5v4m-7-8v3m-11-1v3m-4-2v2m-15-1v4m-6-6h3m-4-1h2m-19-4h2m-6 7v3m-24-11h3m-126 3v3m-12 1v2m-9-5v2m-1-1h3m-68-3v3m-35 0h3m-7-4h4m41 8v2m16-2v3m15 2v3m19-4h4m145-2v4m2-5h3m1 4h2m16-5h3m1 3h4m-3-1h3m2 1v4m4-7h2m0 2v2m52 0v2m1-4v4m1-1v4m1-9v2m7 2v3m28-3h3m-2 2v4m-20 4h3m-17-3h2m-6 2v3m-5-3v3m-8-3h3m-6-2h2m-17 5h2m-68-2h4m-111-2h3m-6-3v3m-5 1h3m-75 2h3m-5-1h2m-5-1v4m-21-1h2m-3 0h3m-4 5h2m60 4h2m9-4v4m187-2h2m2 0h3m-1-1v2m22-5h3m3 3h4m-8 9h2m-9 4v2m-6-2v3m-12-8v4m-5-1v4m-1-3h2m-4-3v4m-1-1v3m-6-4h4m-4 2h4m-15-7v4m-150 3h4m-19-7h2m-3 1h3m-4-2h3m-7 3h2m-13 0h4m-5 0v2m-7 0h4m-34 9v4m5-6h4m12 3v4m18-6h4m2-4h2m7 1h4m175-1h2m9 2v4m0-3v3m21-6v3m0 0v4m2-7v3m9-2h4m-61 12v2m140 84v2m0 2h3m-18 2v4m-6-3h4m4 5v2m5-2v3m8 10v2m-5-5v4m-28 7h3m1-2h4m1-3v3m23 11h2m-13-5h3m-25 0v3m-19 2v2m0-1h2m-5 0h3m43 3v2m4 3h2m0 2h2m2-8v2m-4 7v4m-1 2v2m-21-4v2m-2-2v3m-19-4h3m-77 4h4m-5-4v2m-11 3v4m40 4v4m1-4h3m45-2v2m42-6h2m-1-1h4m-3 14v3m0 0h4m-30-1v4m-6-3h4m-49-4h4m-17 1h4m-10 0v2m-2 0v4m-1-4h2m-5-1h3m-15 2v3m-8-6h4m-9 0v3m-5-7h3m-3 16v2m2-5v2m0-7v3m15-3v4m17-3v2m3 1v3m36 0h2m29-3v4m-28 2h4m-10 6h3m-47-7v4m-17 1h4m-5 2v3m-6-2v3m-1-7h4m-18-3v4m36 6h3m-2 2h4m8 3v3m10-7v2m4 1h4m-2-4h3m-4 7v2"/>
<path stroke="#229c88" d="M6 6v4m21-4v2m24-2v4m22-4v2m26 9v4m-17-5v2m-50-6v3m19 8h3m-1 0h4m-1 0h2m39 3h3m1-1h2m0-6v4m39 5h3m-5 4v3m0-4h3m-8-4v4m-58 3v4m-10-7h2m-15-3v3m0 12h4m4-2v3m3-4h4m12 0h2m0 2h4m2 1h3m-1-4h2m5 4h3m1 0h3m25-5h3m10 4h3m-2 1h4m1-3v4m3-3h2m-2-3v3m12 11h3m-50-5h4m-16 0v2m-6-4v3m-25 0h4m-5 5h3m-7-3v2m-11-2v3m-18-8h2m-16 7v4m-9-9h3m-14 14v3m0-7h2m33-1h3m2 2v2m5-6h3m0 5v3m2-1v4m66-10h2m42 12v2m-9 1v3m-15-8h3m-31 2v2m0-3h4m-5 0h3m-15 2h3m-4 2h3m-6-6h2m-4 7v3m-1-4v2m-8-2h4m-31-3h4m-7-4v4m21 9v2m13-1h2m3 2h4m4-1v3m27-8h4m-3 0h2m-1-1h3m26 15v4m-10-5v3m-4-6h4m-7-2h4m-43 4h3m-10 3v4m-1-10v3m-1-2v2m-13 1h2m-26-4v3m23 11v4m4-7v4m4 1h2m33-1h4m12-1v4m6-4h3m1-4h2m2-1h4m247 16h4m-34 0v2m-3-5v3m-202-5v4m-27-3h4m-25 3h3m-39-5h2m-3 1h3m-30-1h3m-9-1v3m-3-4h3m-11 16v4m32-8v3m7-1h4m-3-1v2m1-4h2m2 6v3m21-10h3m-1 2h4m1 2h2m4-2h2m160-3v3m44 1v4m32-1v4m2-7v4m18-8h3m18 0v2m6 14h4m-30-7h4m-17 8v2m-3-8v2m-1-3h3m-5-1h4m-6 4v3m-3-5v3m-8 1v2m-1-2v3m0-3v3m-8-4v4m-17-2v3m-10-7v2m-165 1h4m-19-5h2m-16-1v2m-10 13h4m-2-2v3m11-7h3m1 0h4m15 5v4m157-4h3m-1-3v4m5 0h3m3-5v4m47 2h4m11-7h3m-1 6v4m8 4h4m-50-3h4m-193 6v2m-68-4v2m29 6h4m3 3h3m7-7v4m0-1h3m-1-1v4m3 0v4m17-8h3m200-2v3m-2 11v4m-1-2v3m-54-10v2m-174 0h3m183 12h2m-1-6v4m40-3v4m86 116h4m-11 2v4m4-1v3m2 11h4m-32-4h2m-14 16h4m12-4h2m2 1h2m-2-4h3m13-1v3m5 6h4m-32 1h2m-4 0h4m-90 5v2m29 9h2m-2-7h2m58 14h2m-105 8v3m18-5h2m13 1v3m71-7v4m-32 5h3m-78 8h2m28 6h3m1-1h2m15 0h3"/>
<path stroke="#33b47a" d="M12 6h2m21 0v2m4 0h2m9-2v4m9-1h4m-5 3v2m-52-1h3m33 11h2m39-2v3m2-4h2m52 10h3m-4-3v3m-57 3v4m-29-8v2m-25-3v3m-12 11v4m48-8v3m37 0h3m40 2v3m5 0h4m-51-2h4m-13 1h4m-29 2v4m-4-1h4m-27-5v2m109 14v4m8 3h3m-14-1h4m-35-1h4m-4 1v4m-23-2v2m-18 8v4m6-8h3m0 4h3m19-2h4m33 2v4m1-11h4m-30 10v2m-11-3h4m-5 6h2m-5-6h4m-47 2v3m27 7h3m39 0v2m22-4h4m-2-1h3m228 7h3m-3 0v3m-3 1v4m0-7v4m-3 2h2m-236-3h3m-23-2h4m-4 5h4m-25 1v4m-5-8h3m-44-3v3m-5 1v3m23 9h4m43-7v4m225 3v2m18-2v3m4-4h3m1 2h2m-25 4v4m-3-4v4m-37-1v3m-3-5h3m-3-2v3m-1-1v3m-213-3h3m5 5v3m3 0h4m197 0h2m58 5h3m0-2v2m5-3h2m2-1v4m1-5v2m1-2v4m-248 12h3m217 15h3m80 126v4m-3-6h2m-5 5v4m8 18v3m1-4v4m0-5h3m-3 2h4m-30 5v2m-62 10v2m-30 8v2m13 6v4m-21 2h4m25 14h3"/>
<path stroke="#5fc860" d="M28 6v4m6-2v2m17-3h2m-14 4v4m-2-6v2m0-2v4m-3 4v2m-3-8v3m10 9h2m53-5v3m-16 9h2m-18 5h2m-43 4h3m52 1v4m40 7h2m-25-5h2m-40 8h4m25 2h4m-3 3h2m58 4h2m-5 4h2m-3 3v4m-52-5v2m-30-4v2m13 5h4m12-2v2m45 1h2m-9 21h2m6-4v2m9 4v2m8-10v2m-13 11v2m-5-4h2m-19 1v2m-4 2v3m-1-1h3m-3 1h4m258-1h3m-16 9v2m-2 3h4m-52 3h4m-9-3v3m-228-5h2m26 14h3m197-6v2m64 4v2m64 172v3m-96 33h3m-1-2v2"/>
<path stroke="#9cd83c" d="M38 6v2m0 5h3m-34 18h3m-4-2h2m21 21v2m59 7h4m0 2v2m2 3h4m40 9v2m3-5h4m-44 10h2m-13-1h4m-13 5v2m-2-3h4m-12 5h4m66 0h3m8 8h3m-38 3v2m10 5h4m231 18v3m1-1h2m71 178v4"/>
<path stroke="#dde326" d="M28 13h2m-3-3v2m-21 10h3m24 3h3m-3 3v3m-5-1h3m-25-2v2m0-3v3m57 21h4m-4 28h3m10-2h4m4 3v4m30 4h3m-9 1v4m-6-11h2m21 22h2m-5 1h2m-3-2v2m-2 1h2m-7-3v3m-2-1h4m227 14v4"/>
</g></g>
<g clip-path="url(#cq30)"><g id="d5" transform="translate(821.2,50.4) scale(0.25)">
<path stroke="#461264" d="M6 6h2m0 0h3m0 0v3m14-3h3m5 0v4m5-3h3m-2-1v3m24-3v3m4-1h2m1-1h4m-2-1v3m0-3v3m8-3v2m0-2v4m1-3h3m-1-1v3m1-3v3m0-3h4m0 0v3m5-3h4m-4 0v2m50-2v2m3-2v2m11 0v3m8-4h3m0 1v4m0-6v3m0-3v4m2-4v4m3-2h2m-2-2v4m15-4v2m1-2v2m0-2h3m3 0h3m3 2h4m3 0v4m2-6v3m0-3h3m-2 2v4m4-6h3m0 0h2m-1 0h3m-3 0v4m3-2v2m1-4h4m-2 0v2m0-2v4m1-2v3m4-5v4m1-4h3m199 2v3m0-5h2m-2 2v3m3-5v2m0-2v4m0-4v3m0-3v3m0-1v2m0 1h3m-4 0v2m-1-3v4m-10 2h3m-199-5v4m-9-6h4m-5 1h3m-5-1h2m-4 3h3m-9 1h2m-3 3h4m-5-2v4m0-2h2m-4-7v4m0 1h4m-8-4v2m-1-2v4m-3-1h2m-5 0v2m0-6v2m-3 0v3m-4 1h4m-8 0v4m0-7h4m-8 2h3m-3-3v3m0-4v4m-1 0v4m-2-1v3m-5-3h2m-3-4h3m-3-1h3m-5 4h4m-7-6h4m-4 0h4m-7 1h3m-8-1h2m-2 4v4m-6-9h3m-6 3v3m0-5v4m-24 1v3m-1-4v4m-2-2v4m0-6h2m-11 2v3m-3-8v4m-1-1h4m-4-1v3m-1-2h4m-5-2h4m-7-3v4m-1-2v2m-17 3h4m-5-7h4m-4 6v2m0-1v2m-1-1h2m-4-5v3m-1-6h3m-5 1v3m-3-2v2m-10-3h3m-4 5v3m-22-4v3m-35 8h2m4-7v3m40-2v2m27-3v4m2-3h3m0 2h3m-3-3v3m1-2h2m-2 0v3m2-2v2m11-3v2m3 2h2m-1-4v2m0 1v4m10-8v2m2-2v4m3 4v3m1-11h4m-3 7v4m0-6h3m-1 0h2m2 2h2m16-1v3m1-2h3m19 0v2m4-6v3m3 0v4m4-10h3m-2 2h3m0-2h4m-4 4v4m1-7v4m2-3h3m-3 2v4m0-5h2m-1-2v3m1-2h3m-2 0h4m-4 1h3m-3-3h3m-2 4h4m-2-3h3m8 5h4m-3-5v3m0-3v3m0-4h4m-2 2h2m-1 1v4m2-6v3m7-3v3m2-1v4m210-1h4m-2-2h3m-3-3v3m8 4v3m0-3v4m0 3h2m-2-5h4m-4 6v2m0-3v3m0-2h2m-12-1v3m0-2h4m-197-2v2m-2 1h3m-18-4h2m-2-1v3m-19 1v3m-5-3h2m-3 1h4m-7-3h4m-11 3h3m-21 0h2m-4-1h4m-4-5v2m-3-1v4m-4 0h4m-7-4v2m-1-2v4m-8-2h2m-5-3h3m-5 2v4m-1-6v2m-3-2v3m-18-5v4m-7 2h3m-5 0h2m-5 0v3m-16-3v3m0-9v4m-6 4v2m-4-5h4m-19-1v2m-7-2h3m-52-3v2m0-3v4m0 1v3m0 4v2m9 1v2m2 0h4m-3-5v3m0 1h3m2-1h2m15-1h3m6 2h2m4 0h4m1-5v2m4 1v4m4-6h4m1-3v2m1-1h3m4 7h2m0-6v2m1 1v4m1-2h2m-2-7h4m-3 0h2m3 5v2m1 1v3m1-5v3m1-6h2m-2 1v3m10-4h4m-1 1h2m0-3h2m-2 4v3m3-5v3m3 0h4m-4 2h2m10-6v3m0-4v2m0-1v3m1-5v2m4 4v3m0-4v4m1-4h3m-3-5h2m0 1v2m7 3v2m4-3v4m3-1h4m-3-5v2m4-5v2m0 1h4m-2 3h2m-1 0v3m0-2v2m24-7h3m-1 5v3m3-9h3m-2 4v2m1 1h2m-1-5h4m-3-3v2m0 2h4m-2 4v2m8-7h2m4 1v2m0-2h3m1 1h4m-3-3h2m-1 3v3m1-6h2m1-2v4m3-2v3m0-4v4m2-1v4m2-4v4m1-1h2m-1 0h3m-1 0v4m2-5h4m-1 0h4m-4-2v3m0-5v3m0-2h3m-2 0h3m-1 1v3m184 1v2m4-6v4m0-7v2m0 3v3m1-2v3m1-4v3m0-5h3m1-1h4m-1 3h4m-2-1v3m2-1h3m-3-5v3m0 12v3m0-6h4m-4-4v4m0 1h4m-5-5v4m0 3h3m-5-8h2m-2 2h3m-14 2v4m-1 0v2m-1-7v4m-1-1v3m0-6h2m-181 3v3m-11-1v3m0-5v2m-2-5h2m-2 2h4m-6-3h3m-4 3v2m0-6h4m-6 2h3m-4 2h2m-2 2h3m-5-2v3m-2-8v2m-1 1v4m-1-7h3m-3 8v4m-1-11v2m-1 5h4m-4 0h2m-5-5v2m-8-2v3m-5-6v2m-5 5v3m-4-8h4m-8 0v2m-1-1v4m-1 1v4m-9-9h3m-5 3v2m-1-2v3m-2-3v3m0-9v3m-6 3v2m-2-4v4m-3-3v2m-4-2v4m0-9v2m-3-1h4m-12 2h4m-15 0v4m0-7h4m-12 5h2m-2 3v3m-2-6v4m-1-4v3m-1-2v3m0-1h4m-6-7h4m-4 3v2m-7-2v4m-3-3h4m-6-2h3m-4 4h3m-3-7v2m0-1h3m-16 0h3m-4 0h4m-7 0h2m-2 4h2m-3-4v3m-3-3h3m-6 3h2m-2 4v2m-1-10v4m0-1v2m0-4h2m-4 5h3m-11-2v4m-1-6v4m-2 2h4m-6-8v3m-1 0h4m-6 3h2m-3-1h3m-6 1v3m-2-2h3m-4-4h3m-9-3h2m-2 7v3m-1-3v4m-2-11h4m-4 0h2m-7 0h4m-5 8h4m-4-1h2m-14-4h3m-4-1h3m-6 2v4m-16-1v3m-1-8h4m-4 13h4m-4 0h3m-3 0v2m22 0h3m-2-4v3m1 1h4m-1-8h4m-1 5h4m-3 0h3m2 2h4m-3-6v2m3 0h2m0-3v2m3 2v3m1-2h4m-2-1v2m16-5h4m0 3v4m1-3h3m-1 0v4m2-8v3m2-1v2m0-4h3m4 6h2m-1 1v4m3-6h2m1 2h4m19-8h4m-3 2h2m6 0v2m1 4v3m10-11h2m41 6v2m5-2h4m-2 1v3m2-4v3m1-9v4m13 3h3m18-7h4m-3 2v3m1 3v2m0-3v4m2-11v3m1-1v4m4 2v4m4-5v2m178-9v4m9 3h2m5-6v3m3 0h2m-1-3v2m0-3v3m0 3v2m0 0v4m0-3v3m0 2v2m0-2v2m-2-6v2m-6 1h4m-7 0h2m-2-3h2m-3 3h3m-4 1v3m-1-3h2m-3-5v2m0 2v2m-1-2v3m-3-7v4m-2-4v4m-6 4h2m-162 0v3m-11-7h2m-3 4v4m-2-8h3m-3 0v3m-2-4h2m-2 3h3m-4 1v4m0-7h3m-5 1v3m0-1h4m-19 0h2m-7-2h4m-5 2v2m-4-4h4m-9-3h3m-5-2v3m-1-3h4m-4 8v2m0-7v3m-5-6h2m-4 3v2m-2 0v2m-1-4v4m-7-4v2m-2 1h2m-2-2h4m-6 1h4m-5-3v4m0 2v2m-9-7v2m-3 2h3m-7 1h3m-4-6h4m-5 3v2m-4-3v2m-3-2v4m0-2h4m-4-3v3m-3 1v4m0-8v3m0 2h3m-4 0h3m-3-7h3m-4 2v3m-2-2v2m-1-4v4m-1-3v4m-2 0v3m-2-3v2m-4-5v4m-18-7v4m-12 1v3m-1-1h4m-5-6h2m-3 2v3m-5 0v4m-1-10v3m0-3v3m-2-3h4m-7 0v2m-15 3h4m-16-4h4m-7-2v4m-1 4h4m-6-8h3m-11 8v4m-4-7h2m-4-2v3m-3-4h3m-15-1h2m-14 7v3m-5-8v2m-2-4h2m-2 2h4m-5-2h2m-3 2h2m-2 2h3m-3 11v2m0-1v4m0-6h2m0 1v3m6-8v3m2-2h3m0 2h3m-3 2v3m4-8v3m2 2h2m1-2v4m1-9v3m1-2v4m0-4v3m1 2v3m6-3v3m4-1v3m0-6h4m-3 1v3m4-5h3m-3-4h2m-2 2v4m1-4v3m11 0h2m3 2h4m5-5v4m2 0h3m-3-1h3m1 2h4m-4-2v4m3-3h4m-4 2v3m1-5v4m4-8v3m2-5v2m1-2h4m-1 7h2m0-5h4m-2 3h2m-1 0v2m4-5h3m-3 5v4m1-3h3m-2-1v2m2-6v4m2-1h4m0 2v3m18-4v2m3-8v3m0 0h2m-1 3v3m0-9h4m0 4v2m1-2v4m3-7h3m-1 3v3m8-1v2m0-5v3m1-3h4m-4 1h4m4 1h4m-4 1h2m3-5v4m0-6v2m1 2v3m0 0h4m-4-4v2m1 0v3m2-3v3m0-3v4m2-6h4m-1 1h2m-2-3v4m0-1h2m0 1v2m1-6h3m2-1h3m-2 1v3m1-2v3m3-3h3m0 3v3m2-1h3m2-6v3m4 1v3m0-6h2m0 4v4m2-8v4m1-6v3m5-3h4m-3 4h4m-4-2h3m-1 5h3m-1-6v4m0-4h2m-2 1v4m0 0v3m14-4h4m-4-2h4m-2 5h3m-2-7h4m-3 2h4m-4-1v2m5 3v2m8-1v2m2-10v4m1-1h2m-1 3h2m148 2h3m1-1h4m-4-7v2m0 5v3m1-6v4m1-5h4m-4-1h3m-2 2h3m-2 1h4m5 1v3m1-6v3m0 0h4m-2-4h2m-1-2v2m5 5h4m-4-7v3m1 4v2m2-3h3m2-5v2m1 3h2m-2 0v4m0 5h3m-3 2v2m-1-2h2m-14-6h2m-4 1v4m-2-4v4m-5-4v3m-5-5h3m-6 4h3m-4 2v2m-1-6h2m-8-1v3m-4-3v4m-128 2v2m-1-4h4m-11-2v4m-2-5v4m-2-7h3m-5 8h4m-4-1v4m-3-5h4m-5 0h2m-4 2v4m-3-7h4m-5-2h3m-4-3h2m-5 8v3m0-7v3m-1-5v3m-1 3v4m-3-7v4m-2-8v3m-2-2h2m-4 2h4m-10 3v2m-7-5v3m-2-1v2m-3-4v2m-2-2h3m-12 4h3m-3-3v4m-3-5h2m-31-2h4m-6 0v3m-2-3v2m0 0v3m-1 0h3m-10-4v3m-1 1h2m-7-7h3m-9 5h3m-3 2v2m-1-4h2m-3-5v4m-1 3h3m-3 1h3m-4-8v4m0 4h4m-5-1h3m-5-5h3m-4 3v4m0-7v3m-1-3v2m-4-4v3m-13-2h4m-8 1v2m0-4v2m-3-1v4m0-5h3m-5 2v3m0-5h4m-7 2v4m-2-2h4m-4-3h2m-4-1v4m-2-3v2m-1-3h2m-2 5h3m-3-1h4m-5 1h2m-2-3h2m-7 2v4m-2-4v2m0-2h4m-6-4h4m-7 4v2m-6-6v3m-2 1h2m-4-1h3m-3-2h2m-7 4h4m-5 1h2m-5-1v3m-1-6v4m-1 2v4m-1-6h2m-6 2v2m-2-2h2m-2-8h4m-6 8h4m-7-1v4m-1-9h4m-8 6h4m-7-3h4m-7-1v2m-2-2h3m-4-1v3m-10-6v2m-2 4v4m-1-7h3m-5 0v2m-1 2v4m-1-6h3m-4-4v2m-1 1h4m-13 0v3m-3-6v4m0-2h4m-4 0h3m-3-1v2m0-4h2m-2 1h2m-2 12h2m-2 3v4m0-7h4m-4 4h3m-3-6v3m0 2h4m-3-3v4m1-5v4m6 0v2m4-6v4m5-2h2m-2-5v4m16 4h3m-3-3h3m0 1h4m1 0h3m-3-5h2m-1 0h4m-2 5h2m4 0v3m1-6h3m-1 1v3m0-1h4m0 1h2m-1 0v2m0-3h3m0 1v4m3-8h2m2 2h4m-4-1v4m7 0h3m1 0h3m-2-3h4m-1 0v3m2-3h3m-3 3h3m0-3v3m3-4h4m23 4v4m7-4v4m3-10h4m-4 1h3m-1 3h3m-3 2v4m4-11v2m4 2h3m-3-4v3m1-4v4m2 4h2m-1-4h3m-1-3v3m0-4h2m-1 0h3m-3 3v3m1-1v2m4-7v4m24 3v3m4-4h4m-4-1v4m2-5h2m-2 3v4m2-5v4m2-4h3m-1 2h4m-4-6v2m0 2v4m1-10v2m3 5v2m4-8h4m10 6h4m-2-2h3m-2-1h3m1-2v4m4-1v3m6-2v3m3-9h3m-3 8v4m6-12h3m0 5h3m-2-3v4m1 0v3m0-5h4m-4 1v2m2-3v4m0-4h3m-2-2h2m0 0v2m3-3v2m3 5v2m2-3v3m1-10v3m3-1v4m0-1h4m-1-5v4m0-1h4m2 5h4m103-3h4m-1 2h2m0 1v4m1-9v4m11-3v3m3-2h4m-1-4v2m0-3v3m1 2h4m-1-1v3m0-4v2m14-1v2m4 2v2m2-4v4m2-4h3m-1 1h3m-2-4v2m1-2v4m2-2h3m-3 2v2m3-8h2m-2 1v4m0 5h4m-4 2h4m-4-3h2m-2 7v4m0-9h3m-8 0v3m0-6h2m-4 3h4m-4-2v3m-1-3h3m-3 3v2m0 2v4m-2-11h4m-7 6v3m-1-9h4m-5 2h4m-7-1v2m0-2h2m-2 0v4m-1-6h2m-2 8h4m-8-3v4m-6-5v3m-2 0h3m-6-3v4m-4-3v3m-17-8h3m-14 5h3m-4 3h4m-6-4v3m-4-2v2m-11 1h4m-63 0v4m-1-8h2m-12-1h4m-16 3h2m-2 1h4m-4-1h2m-8-4h4m-6-1v2m-1 5h2m-3-6v2m0 1v2m-3-2v2m-5-2v2m-4 0h4m-5 1v4m0-4h3m-4-4h4m-8 3v4m-6-3h4m-4 0h4m-4-8v2m-1-2v4m0-3h3m-4 2v3m-3-3h2m-3-2v3m0 1v3m-2-2v3m-2-8h4m-4 0v4m-3-1v4m0-3v2m-1 0v4m-3-5v3m-1-5v3m-2-2h4m-6-4h3m-13 6v3m-2-5v3m-2 0v2m-1-9v3m-1 2v3m-3-3v4m0-3v4m-1-9v2m-1-1v4m-2 1v4m-1-10h4m-7 4h2m-3 1v4m-6-10h2m-9 1v4m-4-3v3m-4-3v4m-2-3v3m-2 1v2m-2-4v2m-1-3h2m-4-1h2m-5-2v2m-2-1v2m-2-3h3m-7 0h4m-6-2h3m-4 2h2m-7 1h2m-6-1h2m-2-2v4m0-3h4m-9-1v2m-1 6h3m-4-8v3m0 1h3m-4-1h4m-5 1h2m-4 2h3m-5 2v2m-17-5h3m-7 3v4m-14-11h2m-7 0v2m-1 0h3m-4-1v4m-2-3v3m-1-4h4m-7 1h2m-2 5h4m-4 0v3m-2-9h4m-7 0h3m-3 2h3m-5 3v4m-3-10h3m-5-1v2m-12 2v3m-3-5v4m0 0h4m-5-6v3m-5 1v2m-2-6h4m-17 8h2m-3-4v4m-1-1v2m-2-4h4m-7 1h3m-4-1v2m-5 0h3m-3-3v4m-1-7v4m-2 0h4m-6-4v4m0 12h3m-3 0h4m-4-7v3m0-1v4m0 1v2m1-10h2m-1 7v3m5-5h3m-3-3v4m2-1h2m9 2h4m-3 1v2m1-8h2m17 4v4m0-4v3m1-9v3m4 3v4m16-2v2m1-6h3m7 3h3m0-2v3m1-5h3m-3 3h3m-1 0v4m2-5h2m-2 0v2m5-2v3m0-7h4m8 5h4m3-2v2m1-4h4m-2 4h3m-3 1v2m0-3h4m-2-6h3m-2 3h2m-1 4h3m-3-2v3m1-5v4m5-3h2m0 3h4m-4-5v2m1-2h4m-1 0v4m3 2h3m34-4v3m3-2h3m-2 2h3m8 1v2m3-10h3m-3 3v4m0-6v3m1 1h4m1-4h3m-2 5h4m-2-3v2m1-2h2m-1 1v3m1-2v4m1-4h3m-2-4h2m-2 6v2m3-6v3m2-1v3m1 0v3m6-11v2m1 5h2m-1-4v4m2-4v2m1-2h4m-3 4h3m-2-1h4m1-5v2m3 4v4m9-9v4m0-4h2m0 4h3m-2 1v4m17-8v4m0 0h3m-1-4h2m0-1v2m3 2h3m20-6v2m8 2v4m0-8h3m10 7v3m4-5h2m0-2v2m1 2h4m-3-3v4m0-3v4m0-8h2m3 7h4m0-5h2m3 1h2m-1 3v3m11-3h3m-1-2v3m1-1v4m1-5v3m1-6h3m-2-1v4m14-2v2m1 1h3m-1-2h4m-2 1v3m1-8v4m4-3v2m0 2h3m-2-2h2m-2 2h3m2-2v3m0-6v2m1 3v3m2-6h4m-1 4h4m-2-5v4m1 0v2m7-2h2m0 0h4m-3 1h2m-1 0v3m0-7v4m1-1v4m3-6h3m19-3v3m3-3v4m5 0v2m1-7v3m2-1v4m0 11h2m-2-4h2m-2 0h2m-2-2v3m0-3v2m0 0h3m-7 4h4m-24-2v3m-1-3h2m-9-4v4m-7-1h2m-3 0h4m-5-3v2m-1-4h3m-5 8h4m-8-5h4m-5-2v3m-2 3h2m-4 0h2m-4-6h4m-5 1h3m-4-1h2m-7 4h4m-4 1v4m-3-6h2m-3 4h3m-9-8h4m-5 2h4m-6-1h3m-3-1v4m0 3h3m-4-3v4m-1-2v4m-1-4h2m-4-5h4m-5 6v3m-1-4v2m-3 0h3m-5-1h3m-6-5h4m-4 6h4m-7-2v4m-1-10h4m-4 0h3m-5 6v2m-7-5h3m-6-1h3m-4 5v2m-1-9h2m-6 6h3m-6 0v3m-1-7v3m-3-5v2m0 3h2m-5-2v4m0-1h3m-4 0v3m0-2v4m-2-3h2m-4-3v2m-2-7v3m-2 0v2m0 2h2m-5-4h4m-22 0h3m-14 5h2m-13-7v2m-5-1h3m-58-2v2m-6-2h4m-8 8h3m-6-8h3m-4 0h4m-6 1v3m-1-2h2m-13-1v4m-2-5v3m-3 0h4m-6-3v2m-21 3v3m-3-3h4m-43 2v2m-1-1v3m-5-5v4m0-4h4m-7 1h4m-5 1v2m-1-4v2m-12-7v3m-1 1v4m-5-2h3m-8-2v2m-14-5h4m-5 2v2m-2-3h2m-2-2v4m-1 0v2m-4-7h4m-5 5v2m-8-1v3m-1-3v3m-1-1v2m-5-9v3m-1 4v4m-1-10v2m0-2h3m-3-2v4m-9 3v2m-4-7v3m-1-2v4m-2-7h2m-2 4v2m-3-6v4m-2 2h2m-2-5h2m-4-1h4m-5 2h4m-4 1v3m0-2h2m-2-1h2m-2-3h3m-3 9h4m-4 6h4m-3-6h4m-2 8v3m0-9h3m-2-2h3m-3 4v4m21-8h2m0 2v3m3 0v3m3-6h2m7 2h2m-1 1h4m0-2h4m-3 2v3m14-1v3m7-6h3m5 4h3m3-6h2m1 2v2m2-2v2m6 0h2m1-6h4m-2 6v3m4-7v3m0-3v3m11 0h2m15-5v3m6-2v4m5-1h4m13-3v4m1-4h2m-1 2h2m2 0v4m1 1h4m-2-7v4m1 1h3m4 1v4m9-9v3m19 1h3m32 0h2m10-2v4m6-5v3m3 0h3m-3 0h3m-3-4h3m6 2v3m3-4v3m3-2v4m0 0v2m18-6v3m10-2v3m0-3v2m1-6v4m4-2h4m5-3v3m9 5h3m6-8h4m4 7h4m0-5h3m-1 3h3m3-1v4m3-8v4m1-4h4m-1 4v3m2-2v2m2 0h2m1-2h3m2-2h3m1-3v4m45 0v3m0-1v2m1-3v2m0 0h3m-1-3h2m-2 2h3m-1-5h3m-1 3h4m-4-1v3m0-1h4m-4-2v3m0-2v4m0-2h2m-5 5h2m-4 0h4m-5-2v2m0 1v3m-2-5v4m-2-4h4m-5 1h4m-4 2v3m-3-2h2m-5 0v4m-25-1h4m-7-4h3m-5-1v4m-9 1v2m-4-5v4m-13-4h2m-2-3h4m-5 1v4m-1-3h4m-5-4v4m0 1v4m-2-6h2m-3 4h4m-16 1v2m-12-6v3m0-3v4m-3-5h3m-8 3v3m0-6v3m-1-1v2m-32-5v4m-7-6h4m-94 2h3m-3 3h3m-16-4h3m-5 5h2m-67 0v2m-2-5h4m-16-2h2m-2 4v3m-2-2h4m-5-3v4m0-3h4m-6 0v4m-6-1h4m-7-1h3m-5-4v4m-7 1v2m-2-2h2m-8-1h3m-3-4v4m-2-6v3m0 1v4m-6-4v4m-3-1h3m-14-1h3m-4-6v3m-1 0h3m-3-2v3m-3-2v2m0 4v2m-3-6h4m-13 1v2m-2-5v4m-1-6v2m23 10h3m0 2v2m0 0v4m3-7h4m-4 4v3m1-6v3m1-2v4m0-5v3m0-1v4m1-7h2m-1-3h3m3 6h3m4-1v4m2-3v4m3-7v2m0-4h3m0 5h2m1-3h4m0 4v3m3-11h2m-1 2h3m9 2v3m1-1h2m-1 0v4m2-9v2m1 5h2m-1-2h4m-3 1h4m-1-2v2m20-4v4m12-2v2m12-7h4m1 1v2m25-2v2m6-2v3m29 3h4m3-1v4m70-5h4m-3 3h3m1-1h2m10-6h4m10 2h2m3-1v3m6-5h3m10 8h4m1-7h4m12 3v4m8-8v3m11-1h2m-51 11v3m-1-4h4m-5-1v3m-8-2v4m-3-3v4m-1-8h4m-33 0v4m-1-3v4m-3-2v3m-100-5h2m-17 7h3m-46-8h4m-24 7v4m-5-11v3m-9 2h3m-18 1h4m-8-5v3m-2-2h3m-5 0v4m0-4v3m-7-3h3m-15 0h4m-7 5h2m-4-5v2m0 1v2m-1-7h4m-2 9v4m15 1v4m0-2v4m1-3h4m1-3v3m0-3v4m1-5h3m-3 4h4m-2-7v2m0 0v4m6-6h3m-1 6h2m27-7v4m0-1h3m5-2v4m55-5h4m154 0h4m44 2v2m-308 11v2m-1-2v2m-3-1h4m-5-2v3m-1-3v4m-5-9v2m20 21h2m-7 3h2m-4-3h4m-5-5h4m-1 11h2m-1-2v2m15 31h3m-89 57v2m22 5h2m105-6h2m1 5h4m-1-1v2m0 2v3m-111 4h3m-17 0v2m-9-6h3m-16 14h2m1-2v3m7-8v3m7-1h4m142 0h2m-137 11h2m-13-3v4m-12-1h4m-8 10v3m1-3h4m6-5v3m189 3v3m0-2h4m1-1v2m19-1v4m127-6h4m74 10h2m-15 0h4m-6 1v3m-81-4h2m-15-4h2m-90 4v2m-8-9h3m-4 3v4m0-7v2m-1 4v4m-1-5h2m-4-4v4m0 0v3m-1-2h4m-4-5h3m-3 1h2m-4-1v4m-2-1h3m-5 0h3m-200-3v4m-2-4h3m-3 6h2m-4-1v4m-1-6h2m-13 3v3m4 0v2m4-2h3m-1 4h4m1-4h4m215 2h3m-1-2h2m-1 0v4m1-5v2m5 2v3m3 0h2m6-3v3m2 0v2m30-1h2m37-8h4m-4 2v4m0-3h3m-2 1h4m5-3v2m1 0v2m5-3h3m-1-1v2m7 4v4m1-10v2m1 5v2m0-4h2m2 0h4m-3-1h2m-1-1v4m53 0h4m-3-2v3m0-3v2m0-1v2m18-3v4m0-9h4m-4 6h3m-3 7v2m-10 1h4m-14-7h3m-44 1h2m-7 1h3m-3 2h2m-4 3h3m-8-5h3m-8-2h4m-28-1h2m-4 1h3m-20 6v3m-1-9v2m-2 2v4m-1-4v4m-2-8h3m-7 6h4m-5 0h4m-8-4v3m-3-3v2m-5-2h3m-5 0v3m-1-1v2m0-1v3m-5-9h2m-2 5h3m-6-1v4m-2-6v3m-2-2v4m-2-6h4m-273-1h2m9 13v2m9 1h3m0-4h4m275-1h3m1 1v4m12-2v2m1 0v4m1-8h3m-1 0h2m0 1v4m5-2h2m-1-1v4m11-5h2m0 2h4m-3-3h2m0 0v4m2-1v2m2-4h3m-2-1v3m0-2v4m2-3h3m-2 2h4m-3 1v2m1-2v4m15-7h4m-1 1v3m3-1v3m24-4v3m3-7h3m-2 3v4m0-2h3m9-8v4m3-4h3m5 8h3m-2 0h4m-3-2v2m0-1v4m0 1h3m-3 4v2m0-7v2m0 0v4m0-2v3m0-1h2m-4-3h2m-3 3h3m-17 0h4m-4-3h2m-3 0h4m-5 2v2m-2-5v2m-15-4h3m-9 4v4m-1-10v3m0 2v3m0-5h4m-6 3v4m-4-9v4m-351-2h4m-34 13v2m19-8h2m392 2v3m3 0h3m-2-2h4m-1 2h4m2 1v4m0-3v4m4-11v4m-2 4v4m-9-2v4m-1 1h2m-3-7v4m-11-4h3m-5 1v3m-398 6v3m7-2v2m404-4v3m13 2v4m0-4h4m-4 5h3m-3 0v3m-412 0h3"/>
<path stroke="#44347e" d="M82 6v2m111-2v4m-98 5h4m-38 9h4m31-4h4m18 5v3m-13 5h3m-50-5v2m42 12h2m1-4v4m85 1h2m240 0v2m-235 7v2m-42-3v2m-93-6v4m-3 0h4m-10 0v2m23 3v2m61 12v2m-3-4h2m-6 1v2m-107 0v4m2 2v2m134-6h4m1 0v2m274 5v2m0 2v3m0 0h4m-211 0v2m-1-2h2m-3 2v2m-111-10h2m-53 7v2m-1-2v3m-50 5v4m0-4h3m45-6h3m1 0v2m57 4v4m7-5h2m86 3v2m3-3h3m-2-2v3m2-6v3m7 3h2m169 0v4m33-9h4m-3 11h2m-4 1v2m-3-4h4m-6 3v3m-12-4v4m-1-5v3m-14-8v3m-2-2v2m-31 4h3m-6-2h4m-79 2v3m-1-4v3m-8-5h4m-66-4v3m-18 2h3m-21 0v3m-59-2v2m-1-3h4m-4 2h3m-6-3v4m-2-5v4m-1-3h2m-8 1v2m-1 0v3m-11-4h3m-41 1v4m-2-3h4m-12 7h3m-2-4h4m50 2h3m4-2v4m0-5v2m6-2v4m13 3v3m32-10h2m2-1v3m28 2h2m-1 2v3m13-7v2m4 1v2m2-5v3m0 1h2m-2-1h3m5-1v4m1-5h2m-1 1h4m-3 1v4m17-8v2m0 0h4m4 3v3m18-10h2m3 2v2m2 1v3m0-2h4m-3-4h2m-1 3v4m2-8v3m3 0v2m4-1v3m4-6v3m35 3v4m24-8v3m0 0h3m-2-3v2m25 2h3m55-7h4m-4 6h2m-26 4v2m-12-2h3m-3 3v3m0 0h2m-3-2h4m-4-2v2m-11 2h3m-6-2h2m-13-6h2m-9 8h3m-33-1v4m-3-9v2m-13-3v2m0 2h2m-3-2h4m-6 4h3m-4 0v2m0-8h4m-34 0v4m-9-5v2m-12 6h2m-5-5v3m-3-6h2m-6 2h2m-3 2v3m-46-6h3m-24 6h2m-61-7h2m-42 8v4m0 2h2m1-2h3m-2-3h4m-3 7v3m21-2h3m5 0h2m0-8v3m3 0h3m-2 5h2m14-1v4m24-5v3m0-7h4m-3 5h2m-2-1h2m0 2h2m9-4h3m-3-1v4m2-5v2m3-4h4m0 3v4m1-5v4m2 2v2m44-2v2m6-3h2m1 1h4m4-8v4m7 2v2m2-8h4m0 4v3m2-1v4m3-4h4m-4 2v2m17-3h3m5-2v3m47-1h2m-1 0h3m38-7h4m10 4h3m-2-2v2m1-3v3m5-1h4m-2 2v3m10 0v2m4-2h4m-8 1v4m-6 2h4m-34-1h2m-3-4h4m-5 2h4m-9-1h2m-3 2h3m-5 0h3m-9 1v3m-3-1v2m-1-3h2m-13 2v3m-6-6h4m-6 1h3m-11 2v3m-1-9v2m-6 0v2m0 1v3m-1-7v2m-1 0h3m-4 1v2m-1-4v4m-1-2v3m0-4v3m-1-3h4m-35-3h4m-5 2v3m-2-1h3m-4-2v4m-1-4h3m-4 1h3m-6-4v2m-8 4v3m0-7h2m-7 5h4m-5-2h2m-3-5h4m-17 6v2m0-4v4m-6-6v4m-4 1h2m-3 0h3m-6-2v4m-3-4h4m-7-2v3m-6-5h4m-9 3v3m-4-7v3m0 1h2m-4 1v3m0-2v4m-2-9v2m-1 1v4m-1-7h4m-5-2h4m-5 6v3m-21-6h4m-6 2v2m-3-3h2m-3 4v4m-3-11h3m-5-1h4m-5 7v4m0-7h4m-5-1v4m-1 0v3m-9-9h2m-9 0v4m-7 0h4m-26 3v4m-8-7v3m-1-4h2m-3-3h2m-4 4v2m-1-7h4m-8 1h3m-4-1v2m-44 12h3m20 2v3m14-7v3m9 1h4m4-1v4m0-3v2m4-1v4m1-9h3m-1-1v2m1-4v4m11 3h3m1-5v3m1 2h2m-2-4v2m3 1h4m29-5v4m4 0h4m-3-1h4m-3-1h3m-3 4h3m0-7v4m1 4h4m-1-1h4m2 0v3m0-7v2m8-5v2m3 3v2m0-2v4m1-3h4m-2-5v3m1-4v3m10 3h2m16-5h2m1 4h2m-2-3h3m5-2h4m3 6v4m6-8v3m1 0v4m5-5h3m0 0v3m17 1h2m14-3h4m-3 1h4m4 0h2m6 2h2m1-7h2m-1 3v3m2-3h3m6 3v3m3-9h2m2 2v3m0-5v4m5 0h3m3-2h4m-3 1h2m0-3h4m-3 0v2m1 3h3m-1-2h2m3 0v2m4-3h4m-2-1v2m1-3v2m4 1h3m-3 2h4m3-3h2m4 4h2m9-1v2m1 0h3m-3-5h4m-2 4h3m1-6h2m-1-1v4m-24 13v2m-4-3v2m-26-6v2m-7-3h4m-13 4h2m-5-2h2m-3-4v3m-5 1h3m-9 3h3m-4 1h2m-3-8h3m-3 6h3m-4-3v2m-9-2h2m-6 4h2m-13-6h3m-5 3v2m-3-1v4m-24-1v4m-7-8h3m-7-3v2m-14 0v2m-3 3h2m-3 0h4m-5-2v2m-17-7v4m-9-5v4m-15-2h4m-11 3v4m-4-1h2m-2-5v3m-2 0v4m-5-10v3m-6 0h3m-4 5h3m-35-7v3m-2-3v4m-1 3h4m-7-7v2m0-1h4m-20 2v3m-1 1v3m0-4h3m-10-2v4m0-5v3m-6 0v2m-3-2v4m-13-10h4m-13 1h3m-6 2h2m-3 2h2m-3-1h4m-23 0v2m-3-7v4m-3-2v2m17 11h2m-1 1h4m1-1h2m1-5h4m-4 2h2m0 1v2m10-3v4m1-5v3m3 1v2m0 0h3m10-1v4m3-11v3m5 4h3m-2-3h2m2 1v4m0-9h4m-1 7h4m-3 0h2m7 1v3m7-8h3m-1 4v3m0-7v2m11 3v4m15-6h3m3 1v4m14-9h4m28 4h2m-1-1v3m11-7h2m1-1h3m-1 1v2m33 2h4m3-2h3m-2 0v3m4-5v2m32-1v2m16 1v4m5-5h2m14 0h2m2 1v2m13 0v3m3-2h2m4-6v2m4-3h4m-3 2v4m1-4h2m-1 0v3m2 1v2m3-4h2m-9 5h4m-5-1v3m-44-1h3m-5 2h3m-5 4h2m-3-5h2m-2 2v4m-2-7h3m-6 0h4m-6 4v3m-44-9v4m-1-3v2m-4-1h4m-6-1v3m-9 1v4m-1-4h3m-4 1v4m-14-8v2m-2-3v4m-10-5v4m-23-3v3m-18 3v2m-7-8v4m-2-3h2m-48-2v3m-35-1h2m-16-2v4m-1-4h3m-17 0h3m-3 7h2m-3-4h2m-3 0v2m-2-4h4m15 15h2m-2-1v2m6-5h2m5 5h3m87-8h3m88 4v3m0-7h2m-1 3v2m6 0v2m22-1v4m0-4h2m19-4v2m11 12h2m-4-2v2m-17 0h2m-27-1v3m-3-9v2m-4 3v4m-1-4v3m-173-5v2m-18-3h2m-3 1h2m-4-2v2m-11 4v4m-4-3v3m-1 3v4m4-2v4m3-7v3m2-2h2m235-2v3m1-6v3m2 4h2m50-3v4m29 8v2m-248-1v3m-53-3v4m-11-8h4m-10-4h3m-8 13h4m-4-3v3m3 3v3m1-3h2m7-5v2m3-3h4m-4 1h2m2-2v3m8 4v3m304-2v3m5-10v4m0-3v4m0-6h4m-295 9v2m-24 1v3m-14-1v2m-1-3v3m-2-3v3m-1-6v4m7 12v2m6-5h2m318-1v3m-5 6v2m0-4v2m-312 3v4m311 6v4m-236 21h2m-49-5v3m-2 3v3m3 2h2m2 2h3m-1 2v3m2-4v4m2-4h3m34-6v4m21 3h3m0-1v2m1-3h3m6 2h2m3 1h3m40-1h2m40 0v4m117 1h4m-9 4h2m-6-5v3m-9 3h4m-5-2h3m-5 1v4m-179-5h3m-6-2h2m-4-3h3m-4 5v2m-22-1v2m0-2v2m-10-1h3m-5-3v3m-17-4v2m-10 3h3m0 2h4m-1 0h4m17 4v3m9-5h3m0 3h4m-2-1h4m-2-2v4m0-5v2m18-2h3m-2 3h3m-3-6v4m151-4h4m50 13v4m0-8h2m-2 4h2m-2 3h3m-3-4h2m-2 0v4m-13-4v2m-11 3h2m-20-1h4m-5 0h3m-4 0v2m-76-3h4m-5-5h4m-5 5v2m-1-2v3m-16-4v4m-1-1v2m-24-8v4m-36-1h4m-13-2h2m-10 1v4m0-1h4m-6 1h4m-5-4h2m-11 1v3m-2-7h3m-4 3v4m-3-1v3m-2-4v2m-7-6h4m10 12v4m2-1h4m-1-1v3m5-5v4m3-5h2m-2-1v4m1-6v3m1-3v4m0-2h2m4 3h2m0 2h4m-1-1v3m1-4h3m-2-3v3m1-1h4m-2 0v3m2 0h2m-1-4h4m8-1h4m8 5h4m4-2v3m21-2h4m0-4v3m1-3v2m53 2v3m7-5h4m21 1h4m4 2v2m3-8h4m16 5h2m10 0v3m2-5v4m2-8v4m6 0v3m0 8h2m-6-3v4m0-3h4m-4-4h2m-2 2v3m-1-3h2m-5-1h2m-6 3v3m-2-2v4m-29-9v2m-2 1v3m-3-3h4m-8 3v3m-24-8h4m-7 3v2m-2 1h2m-3-3h4m-4 2h2m-6-5v2m-1 2h3m-5-2h3m-11 2v3m-8-6v3m-1-1h2m-2-5v4m-4-2v2m-1-4v3m-13 0v2m0 3v2m-3-9v3m-3-2v2m-8 0v3m-23-1h2m-4 2v4m-5-4h3m-4-7v2m-4 0h2m-14 2h4m-4-3h3m-3 1v4m-3 0v3m-1-4v2m0-2h3m-6 2v3m-1-5v4m-18-10v3m-2 3h4m-8-4v4m26 7h2m2-2v2m0 2v4m9-5v2m1-3v4m4-4h2m0 4v3m9-4v4m6-9h3m-2 5h2m0-6h2m-1 6h4m8-7h3m1 0v2m0-1h4m4 3h3m2-3v3m39-3v3m5-3v2m3-2h3m7 6h4m0 0v2m2-4v4m1-7v2m11-1v3m13 0v3m1-6h3m8 5v2m1-3h2m-2-4v2m4-1v4m3-7v3m15 3h4m-4-2h3m-3-4v4m0-2v4m0 1h2m-2 0h2m-2-2h4m-4 1h2m-2 10v3m0-8h4m-4 3h4m-4-3v4m-1-1h3m-18 1v3m-4-9v3m0-3h3m-6 2h2m-20 0v4m-5-7v4m-4-4h2m-84 2v4m0 1h2m-3 1h2m-5-3h2m-13-3v2m-4-3v2m-10 0v4m-3-3v2m116 11h3m-1-4h3m13 2h4m-2-3v2m13 1h2m1-4v4m4 1v2m3-2h4m1-4h4m-4-3v4m-3 7v4m-2-3h4m-23 1v2m-1 2v4m-4-9v3m-4-3h3m30 14h3m-3-3v2m0 2h4"/>
<path stroke="#3b528a" d="M274 141v2m-2-2v4m-13-3v2m-5-2h2m-2-2v2m-4-5h2m-8 5v4m-27-10v2m-1-1h3m-6 2v4m-57-2h4m-5 0h3m-38 11h2m16-6v3m14-4v4m28 3v3m13-3h2m13-6h4m0-2v4m22 4h2m9-4v4m2-5h4m-4-1v2m22-3v4m4-4v4m7-1h3m27 2v2m1-1v2m4-1v4m4-5h4m38 1v3m2-4v3m2-8h2m34 4v2m4-5v3m-15 11v4m-6-6v4m-24-9v4m-4 1h2m-9 1v3m-28-8v2m0-4h3m-5 3v4m-6-2h2m-10-2v3m-35 2h3m-6-8h2m-21 0h3m-5 4h4m-5-1h3m-8 2h3m-3 0h4m-6-4h2m-2 2h2m-5 2h3m-6 1h4m-5-2v2m0-2h2m-5 4v2m-8-9h2m-4 1h4m-95-2h2m-12 14h2m3 3v2m13-6v2m6-1h4m1 3h2m2-5v2m1-2v3m9-5v2m0 3h3m-1-3h4m-2 1v2m1-4h4m18 0h3m0 0h2m19-2h3m-1 5v4m4-1h3m7-3v4m2-2h3m11-5h2m8 6h3m-3-6h3m0 0h3m15 3h3m-1-4v2m1-2v3m1 2h3m4-3h4m1 2v4m20-9h2m0 0v3m67-1h4m6-1h3m0 0h2m-1 7v3m2-7h4m-4 3v4m2-8h2m4 1v3m-9 7v2m-2-7v4m-45-2v2m-1 4v4m-1-11h3m-10 6h4m-12-3h3m-4-1h2m-4 2h2m-31 0v2m-1 1h4m-8-3v4m-2-4h3m-4 2h3m-10-6h2m-16 7h2m-4-2v3m-3-6h3m-5 1v3m-1 1v2m-1-4v3m-2-4v3m0-8h4m-5 8v4m-10-7v4m-14-6h2m-3-1h3m-4 5v3m-15-8v3m-19 1v4m-4-9v3m-5 2h2m-6 0h3m-5 1v3m-2-10h4m-59 1h4m-15-1v2m-4 6h3m-8 9v3m2-10h2m8 6h3m-3-2h3m-1 2v2m7-3v4m3-3v4m2-10h4m-3 0v3m3 4v4m8-4v4m23-5v2m7-4v3m9-4v2m10 0h3m19-3v3m5 0v3m11-2v2m7-6v4m49-7v4m2-3h2m5 4h4m-2-2v4m19-3v2m6 0v4m5-6v3m4-5v2m39 9v2m-18-1v3m-15-4h3m-7 0h3m-10-3h4m-21-1h4m-7 3v4m0-1h2m-7-3h4m-4-3v3m-28 1h2m-34-2h4m-28 2v3m0-1h4m-16 1v3m-54-2v4m-31-6h3m-4-3v2m0-1h2m-2 1v4m-2-4h2m-2-5h3m-3 3v3m-1-5v4m-1 1v2m-6-3v2m0-6v3m-9 3v2m4 7h4m-4-6h4m-1 1v4m0-2v4m17-6v3m3-3h2m21 3h3m0-4h3m-1 2v2m12-4v3m37 2v3m2-2v3m1-7h2m23 0v2m5-1h3m29-2h2m6 5v2m29-6h3m-2-1h3m1-2v3m2 1h4m-4-1h2m0 5v2m19-9v2m6-2v2m35-3h2m3 2v2m18 0v2m10 1h2m26 10v3m-16-5v4m-76-10v3m-25 4v4m-55-4h4m-21 0v4m-25-9h2m-40 6v4m-12-6h2m-40-4h4m-23-2v3m-4 2h4m-8 2h4m-8-3v4m0 3v2m14-1h4m-3-2v3m1 4h2m1-1v4m3-3v2m1-6v2m50-4h3m-3 6h2m3-8h3m15 6v4m78-7h4m1 4v3m93-3h3m11-1h4m22-2h4m-2 3v2m2-8h3m-3 1v4m5-3v2m12-3h3m-3 4h3m-11 7v4m-15 0v3m-16-7v2m-100-5h2m-16 1h2m-10 0v2m0-3h2m-22 6h3m-130-4v2m-20 2h2m-1 4v2m5 1v3m3-3v2m2-4v3m4-2h2m114 0h4m14-3v2m25-1v2m27 1v2m1-2v3m65-3v3m60 8v2m-2-1v4m-3-6v3m-111-7v2m-90-3v4m-2-3h4m-51 2h2m-41 1v2m-6-5h3m-5 3h3m-3-3v2m-10-2v3m25 12v2m14-4h3m-2 1v3m1-4h2m-1-2h2m-1-2h2m37 4v2m14-5h4m-2-3h3m200 0v2m2-2v4m2-4v4m3 1v2m5 0h4m-4-4h4m-4 7h3m-3 0h3m-9 7v4m-2-8h2m-251 1v2m-17-2h4m-13 1v3m-3-6v4m0-3h2m-4-3h4m-11 0h4m-19 5h2m-1 3v2m18 2v2m3-4v2m9 0v3m17-4v3m0-6h4m154 0h2m34 5h2m66 9h4m-4 1v3m-3-3v3m-186-1h3m-4-3v4m-1-5v2m-7-3v4m-32-6h4m-9-1v3m-6 2h2m-25-4h2m-28-1h3m-5 1v2m10 9h2m3 1h4m35-4h2m22 4v3m4-4v4m5 1v3m19-11h3m15 5v2m50-4v3m3 0v3m78-4h3m-1 1h4m16 0h3m-2-6v4m14 12v2m-6-3v3m-9-9h4m-41 3v4m0-4v4m-4 1h4m-6-6h4m-33 4h2m-13 1v3m-25-3h3m-6-1v3m-1-4h3m-33-4h3m-12 2v4m-1-5h4m-9 1v2m-12-1v3m-1-2v3m-6-6h4m-4 2h4m-24-1v3m-9 2h2m-3-4v2m-3-4v4m-6-1v3m-11-5h3m-7 3h4m-13-2h3m5 8v3m8 1v2m23-1v4m10-9h2m14 3v3m2-6h3m1 1h2m-1 0v4m4-7h4m4 4h2m10-5h3m1 5h2m28-1v2m1 1h4m-3-1v3m2-4v4m2-4v3m2-5v3m1-1h4m0 3v2m4-7v4m1 1h3m0-6h4m3 6v2m22-3v3m1-8v3m20-5h4m27 2h4m2-1v2m5-3h4m-3 7v4m5-10h4m-4 2h4m-2 3v4m2-8v4m1-1v4m0 6h4m-9-3v2m-1-2v3m-5-2v3m-2-6v4m0-3h4m-5-2h2m-4 0h2m-4 0v3m-7 2v3m-17 0v3m-2-5v2m-4-3v2m-30-2v2m-29-5h4m-19-2v2m-10 3h4m-7 3v3m-5-11v2m-1 3h2m-7-3h4m-15 3v3m-3-8v2m-2 2v4m-6-3v2m-35 0h2m-6-4v3m-6-4v3m-8 2v2m-2-3h4m-9-3h2m-7-3h4m-5 6v3m-7-8h3m-5 4h4m-15-5v3m58 11h2m15 0h3m2 1h4m-3 2h3m9-8v2m1 4h4m-2 0h2m1 1h3m-3-7v3m1 3h4m-3 0v3m2-5h3m5 4h3m-2-1v4m10-10v3m0 2v4m1-4h2m-1 2v2m18-2v3m0-9h4m5 5v3m11-5h3m0-3v4m4-2v2m0 0h3m5-2v3m2-2v2m0-7h4m14 8v2m1-10v2m9-1h4m-3 7h2m0-1v2m1-7h2m14 1h2m3 3v4m1-5v4m18-4h4m-1 0v2m0 4v4m-7-5h4m-5 2v3m-16-5h4m-26 3h4m-9-3v4m-1 2v3m-3-10h4m-4 7h2m-44-7v3m-22 4v2m-3-3h4m-5-4h3m-10 6h4m-24 0v3m-1-7h4m-6 2v4m-1-9v3m-1-3h2m-6 6h2m5 2v3m1 0h2m19-1h2m66 2h2m1 2v4m1-4h4m-1-2h4m1-2h2m-1 6v2m2-5v3m4-3h2m-1 1h3m0-5v2m8 2h2m0-3v4m2 2h3m-1-4h2"/>
<path stroke="#306c8e" d="M242 146h2m5 6v3m28-10v2m38 8h2m-48 3v3m-2-2h4m-10 1v2m-3-3v4m-6-8v4m-4 0v4m-38-6h3m-4 3v2m-1-2v2m-1-3v4m-61-4h2m-12 10h4m0-2h3m16-1h4m-2 3h2m49-1h4m12-3v4m29-1h3m-1 2v3m3-10v2m43-2h2m98 4h3m-10 5v3m-2 1v4m-1-6h3m-4-3h2m-3 3h2m-3 3v2m-1-3v2m-102-3v3m-14-7h2m-8 0h2m-20 6h3m-3 0h2m-9-2h2m-2 0v2m-1 1v4m-2-10h3m-9 4v3m-2-2h3m-37 1v4m-3-8h2m-20 4h3m-37-4v3m-2-4h4m-40 10v2m2 0v4m23-6v4m4-4h4m-3-3h2m0 3v2m4 1h4m24 2h2m-1-6h4m3 5h4m-2-7h3m10 0v2m3 4h4m12-2v4m4-2h4m11-1h2m14-2h2m0-1v4m4-2h3m16-3h3m14-1v2m10-2h4m16 7v3m2-4v4m5-4h2m16-1v2m7 1v3m25-7h3m-1 3h4m28 4h2m-8-2v4m-1-4v2m-15 5h3m-16 0v3m-4-8v4m-9-5h4m-5 7v2m-3-6v3m-2 0v3m-5-5h2m-3-3h4m-25 3h3m-4-4h2m-4 3h2m-55-4v4m-7 2h2m-23-6h2m-10 8h4m-24-4v4m-13-1v3m-2-7h2m-9 5v2m-11-6h2m-12-3h4m-7 3h4m-5-1h2m-3 4v3m0-2h3m-6-2h3m-30-6h3m-25 4h4m-8 2v3m0-6v2m0 1v4m-4-3v3m-3 1h4m0-1h2m19 5v2m3 0h3m-1-1v3m14-10v3m3-2v2m3-1h2m44 0h4m-1 3v4m5-2v3m8-4h3m6-1v2m2-5h4m-4 0v3m32 2v3m3-9v2m11 5h3m24-8h4m-3 1v3m16 3v2m7-6v4m13-2v3m2-1v2m34-6h2m3 0v3m6-3v2m1-2h2m1 2h4m13-1h3m8 0h4m7 2h3m-3 3v3m-8 2h4m-47-5v2m-20 6h2m-20-8v3m-3-2v4m0 0h3m-6 1h4m-13 0v4m-6-3h4m-8-5v4m-52 2h3m-16-1h4m-36-6h3m-4 3v2m-1-6h4m-6 5v3m-4-2h3m-7-1v4m-9-7h4m-5-1h3m-27 3v3m-2-5h2m-20 2v2m-5 1v4m-6-7v4m-9-5v2m-15-3v4m-3-2h4m-8-4h4m12 17h2m7-5h3m0 2h2m1-4v4m2 3v2m1-9h4m19-1h2m-1 0h4m52 1h4m23 0h4m-3-1h2m11 0h3m1 6h3m-3-6v2m22 6v2m20-5h4m16 0h3m40 3h2m1-5v4m1 0v3m0-2v4m0-9h3m-3 3h4m31-6v2m6 2h3m-1-4v2m7 4h4m3-5h3m-2 2v3m-6 5v2m-13-3v2m-3-2h2m-19 6v4m-6-9v2m-59-1v2m-1-3v4m-5-6v2m-55 6v3m0-8h2m-16-1h4m-82 5h4m-29-3h3m-13-3h4m-4 5v3m-1-1h3m-14-8v4m-1-1h4m-5 1v4m-6-3h4m-5-1v3m-5-3h3m-10 10v3m5-6h3m2 2v2m1-4h2m4 1v3m6 1v3m51-7v4m6-1v3m3-3v3m87-4v4m26-1h3m63-1v4m2-6v2m45-4h4m-3 0h4m8 7h4m-144 4v2m-1-2h3m-5 1v2m0-6v4m-3 0h3m-5-6h2m-11 2v2m-8-2h3m-4-2v2m-21 6v4m-18-9h4m-8-1v2m-21-3v2m-13-2h4m-21-1h3m-38 2v4m-9 2v2m-6 6v2m0-9h2m2 1h2m7-1v3m3 2h3m-1-5h2m4 0h4m27 7h2m19-4h4m15-1h3m63-1h2m11 1h3m30 3h3m61-1v3m7-4h2m0 5h3m12-2h2m15 11v3m-60-10v3m-12 1h4m-37-1v2m-46-1h3m-48-2v4m-26 0v3m-2-6h4m-6 0h3m-16 3v2m-37-2v3m-14-9v3m-3-4v4m-12 0h4m9 12h4m3-4v2m0 3v4m9-9h2m9 3h4m0-6v4m19-4h4m9 4h3m0-3v2m6 3v3m13-6h3m2 1h2m-2 3h3m6-2v4m19-1h3m-2-1h3m2 0v4m2-9v4m9-2h2m4 3v2m57-3v4m22-3h3m1 1v4m1-6v4m30-3v4m24-9h4m8 3v2m-3 4h2m-4-2h4m-16 7h4m-41-5h3m-7 1v3m-11-5v3m-20-2h2m-25 2v4m-21-7h3m-7 3h4m-8-1h2m-20 2h2m-7 2h2m-11-7h2m-15 2h2m-9 5h4m-21-1h2m-2-1h2m-6 3h4m-26-6h2m-34 4v4m-1-5v2m0 0v3m-1-8v2m-15 0v4m5 2h2m37 7v3m13-8h4m1-3v4m5 4v3m4-9v4m0-5h4m-1 2v4m4-3h3m-1 2v3m1-2v2m23-5v2m15 1h2m5 1h2m-1 0h3m-2-6v4m1 0v3m44-2h3m-1 1h4m-3-6h3m6 6h4m32-2v2m2-4v3m52-4h3m9-3h4m-4 14h4m-24-2v2m-31-4v2m-1 3v3m-1-6v2m-1-4h4m-7-1v2m-7 4h4m-5-6v3m-18 1v2m-1-1v3m-1-5v4m-4-4v2m-5-1v3m-1-1v4m-3-5v4m-4-7h3m-8-1h4m-6 0h4m-9 7v3m-7-4v3m-5-4h3m-32-6v2m-1 5h3m-4-6h3m-13 6h2m-34-5h3m-3-2v2m-22 3h2m-33 0v4m-3-4v3m-1-7v2m0 4h3m5 2h2m7 0v4m6 1h2m9 2h3m7-3v2m3-1h4m19 0h2m0 1h4m12-1h3m-1 1h2m0 1v4m0-9h3m-1 4v4m0-9v3m3-1h3m-1 4v4m1-6h4m12 1v2m12-2v2m3 0h4m9-4h2m-1-3h4m-2 6h4m0 1v2m20-3h4m3-7v3m16 1h3m9-3h4m8 4v2m13-5h2m2 1h2m3 2h2m1-4v4m3-5h2m4 5h4m-4-1h4m0 10h3m-3 2h3m-3-7h2m-2 1v2m-3-2h2m-6 0v2m-17 4v2m-13-5h2m-24-2h2m-4 1v2m-1-2h2m-20 4h2m-19-6v3m-4 3h4m-12 1h3m-20-1h4m-5-7h3m-3 4v4m-8-6h2m-4-2h2m-2 2h2m-10 0v3m-4-5h4m-13 5h3m-12-2h2m-51-3v2m-8-2v2m-5 1h4m-18-1v4m-1-3h2m46 12v4m16-5h3m15-1v3m18 0v4m3-3v2m53-4v2m1-2h2m0-5h4m-4-1v2m0 0v4m16-5h4m2 2v4m5-4v2m2-3h3m2-1v3m26 0h3m3 2h3m-2 0h3m-2-4h2m-5 10v4m-7 0v3m-2-4h3m-16-5h2m-12 3v3m-2 1h2m-100-6v3m-7-2h4m21 7h2m2-1h4m92 4v2m1 2v2m1-10h4"/>
<path stroke="#26848d" d="M178 168h3m219 1v2m-212 6v4m-5-5v3m-2-1h4m-8-5v3m-3 7h4m27 5h4m23-8h2m-1 8v3m3-3v2m16-10v4m1 0v2m31-2v3m41 0v4m35-3h3m9-3h4m5-4v4m26-3h2m1 14h2m-34-4v2m-13-3h3m-6 6h4m-4-3v2m-2-5h2m-17 5h4m-5-2v4m-4-2v2m-100-3h4m-7 0h3m-6-1h4m-9 1v2m-2 0h4m-42 0v2m-1-3h4m-5 0v3m-7-3v4m-4-9v4m-3-4h3m-4-1v3m-5-1v2m-9 1h2m-28-1v3m-21 6h2m30 3h4m9-8h3m-3 7v2m15-4h2m3-1h4m11-3v3m10 3v3m0-7h2m4 5v4m2-10v3m3-2h2m-2-3v3m3 2h4m0-4v3m17-3v2m1-1h4m-3 3v2m1-7h2m24 5v2m6 1h4m18-5h2m-1 2h3m66-5v3m14 5v2m2-3h2m16-4h3m36 13h2m-9-7h2m-3 5v4m-19-7h4m-29 6v4m-25-9h4m-42 4h4m-19-1v2m-54 0v4m-1-8h4m-6 3v3m-5-3h4m-5-1h3m-5-4v4m-1 2h3m-20-4h3m-4-4h2m-44 5v2m-12 1v3m-11-10v4m-21-5v3m-11 8h3m-3 2v3m7 1v2m3-5h3m-2-5h3m3 4v3m4-5v4m1-2h4m-2-2v4m22-4v4m1-2v3m1 0h2m2-2v2m8-3v3m29-5h3m4-1h2m30 7v4m17-10h4m-2-2h3m-2 0v4m4 4v2m6-3h2m0-3v2m32-1v4m6-5h2m5 2v2m1 0h4m-3-6h4m-2 4h4m32-1v4m42-3h2m3 1v4m1-3v4m1-12v2m4 4h4m8-6h4m-4 0h3m-3 0h4m-14 14v2m0 1h3m-5-1h2m-7-2v2m-12-5v4m-10 0h4m-18-4h2m-26 4h4m-32-4v4m-1-5v4m-1-5v2m-1 0h2m-4 0v4m-8-3h4m-41 4v3m-4-4v2m-1-2v4m0-3h3m-4-7h3m-18 6v3m-8-2v4m-30-3h4m-28-2h2m-4-5v4m-6-2h3m-15-2h2m-45-1v4m-3-3h2m-3 4h2m-5 8h3m-1 2h3m-1-6v4m13-3h3m5 1h4m0 5h2m11 0v4m10-10v4m18 0h3m46-3h4m1 0h4m22-1v3m0 1h3m11 3h4m19-7v4m17-2v2m1 3h2m36-7h2m13 3h2m15-3v3m8-1v4m13-4h3m-22 6v2m-1-1v4m-7-4h2m-52 4h3m-18-5h4m-6 8v3m-2-5v3m-9-6h4m-21-1h2m-9 0v2m-5 4h3m-5-1v2m-31-5v2m-7-2h3m-7 2h4m-21-6v3m-21 2v2m-6 0v4m-4-4h3m-4-7v3m-2 0h2m-11 1h3m-8-4h2m-8 5v2m-3 0h3m-15-5h4m-16 1h2m-12 4h4m-4-7h4m-4 14h2m4 2v3m1-4h2m14 1v4m5-7v2m0 1h3m0-1v2m6-3h2m5-3h2m19 2h2m0 0h4m7 0v2m5-5h4m-4 2v4m32-1h4m0-1h3m8 2v3m3-10v3m23 4h4m1-2v2m91 1v2m2-6h3m7-3h3m20 4h4m8 2v2m0 6h4m-6 1v4m-17-11v4m-20 0v2m-2-6h3m-5 5h4m-6 0v3m-16-5v4m-19-7h3m-19 4v4m-2-5h4m-8 5v2m0-4v2m-5-3h4m-16-4h3m-12 0v3m-11-4v3m-10 2h4m-6-2v4m-6-5v4m0-2h4m-35 1h3m-4 1v2m-7-3h3m-4 1h4m-5-4h2m-8 6v3m-23-4v2m-1-7v2m-1-4h2m-2 5v4m-8-7v3m-26-1v3m-1-2v4m-7-6h2m-24-2v2m7 11v4m51-3v3m5-4v3m16-4v4m0-3v3m4-8v3m0-1h4m-2 2h4m4 2h3m-1 0h2m4-6v4m1-2v4m48-2v3m22 1v2m17-8h4m-3-1h2m7 2v2m4 2v4m2-5h3m10 1h3m35 0v2m2-8h3m13 5v2m1-1v3m1-9h4m-4 5v2m14 0v3m-35 2v4m-20-5h4m-6 1h2m-2-3h2m-9 2h4m-7-1v4m-4-6v4m-10-2v2m-37 0h2m-15 1v3m-1-5v2m-19-4v4m-31-1h3m-7-1v3m-7-3v2m-34-4v2m-2-3v3m-40 8v2m47-2h4m21 6h4m14-1h3m4-1h2m24 0v4m19-9v2m13 3v2m3-6h4m-4 4h4m82-2h3m13 1h2m1-2h3m1-3h3m-9 11v4m-4-5h3m-10 3v2m-31-4h4m-6 6v4m-10-11h3m-30 7v3m-5-4h2m-4-4v2m-1 2h4m-18-7v4m-33-4h4m-6 8h4m-6-6h4m-10 5h3m-4-5v4m-1 0v3m-27-2v4m-1-4h2m-3-1v4m-8-4v4m-1-7v2m-19 0h2m-9-4v3m55 8v2m13-3v3m0 0v3m22-2v2m3-1h4m-1-5v3m12 0v4m2-4h4m8-5v3m24 0v3m3 1h3m2 0v3m5-6h2m7-3v2m6-2h4m10 6v3m2-3h4m12-7v3m6-3v2m1-2h3m0 5v3m-24 1v3m-8-2h2m-4 2v2m-17-3h4m-8 2h4m-17 4h4m-9-3v2m0 1h2m-3 0v3m-14-7h4m-7 1v3m-4-5h2m-2 3h4m-5-2v4m-24-8h3m-4 1v2m-1 4v4m56-1h4m37 14v4m-1-1h4"/>
<path stroke="#229c88" d="M243 179v2m-50 4v4m21-3h3m23-5h2m-2 0h4m-2 3h3m7-2v3m122-1h4m0 0v4m9-6v2m4-4v4m0 1v3m3-6v4m17 9v3m-3-8h3m-13 5v3m-15-9h3m-4 5v4m-5-3v4m-6-7v3m-6 1h3m-7 0v3m-112-10h2m-15 1h4m-16 6h4m-15 1h2m-43 0v4m-14 0v3m3-2h4m7-4h4m3 2h3m17 5h2m9 0h2m0-2v4m10-4h2m4-3h2m24 5h4m35-7v3m2 0v2m0 0h3m-1-1v2m6 1h4m9 0h3m8-7h4m-1 2v2m35 0v2m9-4h4m30 0h2m5-2v2m15 6h4m-6 2h2m-17 4h2m-29 1h4m-6 2v2m-25-5h4m-29 0h2m-21 2v3m-9-10h3m-3 5h4m-8 3h2m-45-3v2m-1-6h2m-21 1h2m-31-2v2m0 6h3m-4-6h4m-7 3h3m-16-1v4m-36 0h4m-11-7h4m-7 7h2m58 2h2m5-1h2m26 3h2m66 2h4m0 2h3m35 1v3m27-3h2m44-1h2m6 8h3m-7-5v3m-5 2h3m-8-4v4m-1-6v3m-5 2v3m-10-4h4m-16-1v2m-5 2v2m-15-9v4m-4-4v3m-5 0h4m-7 1v3m-2-3h3m-9 2v2m-36-7v2m-48-2h3m-8 4h2m-5 2h2m-42-1v2m-2-1v2m-23-8h3m-3 3v2m-42 0h3m-8-5h3m-9 6v2m-16 4h2m50 4v4m22-5v4m4-4h4m-2 1v4m31-6v3m0-2v2m1-4v4m26-1v3m5-4h2m64 1v2m19-4h3m25-4h4m7 1h3m-2 4h4m15 0h3m-3-4h3m0 1v4m2-3v2m4-1h2m3-4v3m1-4h4m-29 12v4m-5-4v4m-18-7v4m-1-3h3m-28 0h4m-7 0h3m-5 4v2m-4-8v3m-7-1h4m-11 0h2m-14-2h2m-35 0h4m-6 7h4m-7-2h2m-7 0v3m-9-6v4m-6-1v3m-15-7v3m-7 1h3m-43 1v4m-1-8v4m-2 2h3m-5-2h3m-18-3h4m-4 4h3m-7-1v4m-28-5v4m-3-7v3m11 11v3m2-6h2m23 1v4m9-9v4m14 0h4m39 3h3m3-5v3m2 2h3m-3-6v3m3 4v3m7-7h3m16-3h4m-2 6v2m3-1h4m4 0v2m1-3h4m20-7h4m26 4h3m-1-1v4m19 1v4m15-5h4m4-6v4m2 1v3m13-5h2m2 3v4m0-6h3m8 12h4m-29-4h2m-10-1h2m-3 0h4m-6-1h2m-12 5v3m-21-8v4m-11-5h2m-38 1h2m-3 2h3m-29 0v4m-32-8h4m-18 7v2m-38-8h3m-28 0v3m-4 2v4m-15 1v2m44 0h3m2-2h3m-2 2v3m3-5h2m-1 1v4m17-3h4m-2 0h2m4-2h2m6 1v2m30-5h2m16 2v3m7 3v3m4-4h4m2-1v2m8-6h3m38 5v2m11-5h2m32 1h4m5 3h3m-2-5h4m10 1v2m3-2v4m5 0v2m-2 3h2m-3 4h2m-5-4v3m-13 1v3m-15-6v2m-3 0v4m-21-4v2m-31-8h3m-4 3v4m-4-7v4m-27-2h4m-10-2v3m-1-1h2m-7 5h4m-31-4h3m-11 4h4m-28-2v4m0-3v2m-37-5v3m-36 0v4m41-1v2m29-1h4m16 5v4m64-3v3m6-4h2m7 1v4m34-5h2m26 1h3m-3-4h2m8-3v2m10 1v4m5-5h2m-25 9v3m-2 2v3m-13-3h2m-9-7h3m-6 5v4m-43-6v4m-53-2h2m-6-4v2m-60-1h4m-5 1h4m85 7h4m15 0v2m24-2v2m8 4v4m7-4h3m-2-6v4m5-4h3m13-2v4m11 0h2m-2 4v3m28-10v3m-47 7h4m-5-1v4m-9-2v3m-10-6h4m-6 5v2m-3-3h3m-6-1h3m-49 3h4"/>
<path stroke="#33b47a" d="M245 182v2m135 2h4m-3 2v3m3-6h2m22 1h3m-1 8v4m-29-5h2m-39-1v2m-102-1h3m-6-1v2m-76 1h3m9 8h4m-1-5h2m-2 2h2m47-2h3m11 5h3m12 2h4m9-1v2m6-8h2m1 3h4m0-1h2m13-1h2m11 6h3m14-7h3m13 5h4m-3-3h3m23 6h3m8 1h3m-24 2v2m-23 2v4m-1-3v3m-16-2h3m-9-6h4m-5 4v3m-6-3h4m-5 0h4m-121-3h3m-24 4h4m-18-1v2m-3-3v2m-15-2h3m4 4v2m18 2v2m27-1v2m36-4h2m18-3h4m11 8h3m-3-1v2m3-5h3m-3 0v3m46 0h3m2-7h2m6 6v2m0-5h3m61 1v4m38 9v3m-2-9h2m-17 4v2m-54-8v4m-24 2h2m-28-1h3m-13-5h3m-13 7v2m-11-6v2m-62 2h4m-19-1v3m-4-4h3m-9 0v4m-1-7h3m-39 4v2m-4-4h3m-6 4v4m16-3v4m14 0h2m-1-1v4m5-3v3m0-5h3m1 5h2m19-1v3m18-8h4m11 4h2m-1 3v2m1-5v4m85-1h4m-2-2h3m-2-6h2m40 0v2m16-2v4m10-1h4m0 1h2m14 4v3m-8 3v4m-7-2v4m-4-3v3m-1-6v2m-14-6h2m-41 2v2m-23 2v2m-22-7h2m-23 1v2m-4 2v2m-20-6v3m-2-4h2m-27 3h3m-18-3h2m-13 2h3m-51 2h3m-6-4v3m-3-4h3m-8 10h3m-1 0v4m16-1v3m25-4v4m17-4h3m0 1h3m-2 2h2m10-6v3m40 2h4m1 1h4m-3-2v2m7-3h2m25-3v2m3-1v3m28 2h4m29-6v2m16 5v2m18-3h4m3-6v3m4-2h4m-2-2h3m5 6v3m5 0h4m-29 1h2m-2 0v3m-14 4v2m-10-4v3m0-5h4m-12 0v2m-9-2v4m-10 0h4m-15-8v4m-15-1h2m-8-3h3m-3 0v4m-11 2h3m-19-4v2m-34 0h4m-49-4v2m-6 4h4m-22-6h3m-12 0v3m0 2h3m-4-2v4m47 4h2m8 0v3m10-4h4m73 4h3m-3 3v2m15-10v4m4 1h4m3 0v3m1-5v3m4 1v3m73-9v4m5-4h2m-11 10v3m-33 1v3m0-4h3m-26-2h4m-40 1v3m-5-7v2m-9 0h2m-36 5v4m-27-10v3m-24-1v2m-15 2h3m31 9v4m21-7v2m28-2h2m33 4v3m7-3v4m12-9h4m-1-2v3m17 1v2m2 1h2m49-5v2m-44 11v3m-6-9v3m-41-3h3m-38 2v4m-9-3h2m55 12v3m10-6h2m17-1h2m2-3v2m12 6v2m-29 0v2m-19-3h2m-35 3h4"/>
<path stroke="#5fc860" d="M247 186v4m99 5h2m-157 6h2m4 2h3m76-1h4m88 3v2m0-7v4m2-6h3m-113 12v2m-2-3h3m-6 3h3m-19-4v4m-17 3h4m-63 3h2m0 1h3m19 1v4m22-5v3m11-5v4m118-1h4m41 8v2m-17-2h2m-4 4v2m-9-4v2m-2-1h3m-26-1v4m-142-4h4m-47 4v4m22 1h4m2 0v2m5-4v2m14 0h4m56 2h3m-1-5h2m33 5h3m24 1v3m1-7h4m4-2v3m25-5h3m2 7h4m6 0h4m7-5h4m15 6v3m9-5h2m3 3h2m-3 7v2m-3-8v3m-10-3v3m-48 1h3m-4-1v4m-5-2v4m-17-9h3m-36-1h3m-23 1h2m-14 0v3m-3-3h2m-6 5h3m-4-6h4m-71 6v3m-7 6v3m3-5v2m53-6v2m10 6v3m51-9v4m2-5h3m11 2v4m8-2v3m2 0v4m6-10h4m-1 3h3m21 1h4m38-6v2m6 2h3m0-1v2m-28 12v2m-5-9v2m-15-3v4m-9 1h3m-5 2h2m-20 1h3m-15-5v3m-2-1v4m-16-2v3m-35-10v3m-43 3h2m-2-4v3m-21-4h4m-12 9v2m4-1v3m18-4v3m8 2h4m23-3h4m-1 5v4m44-12h4m41 5v3m6-8h2m4 6h4m17-2h3m37-4h4m5 0v3m2-1h3m-3 0h3m-74 9h4m-7 1h3m-15-1v2m-2-3h3m-18 5h4m-57-1v3m-48-4h2m-3 0v2m107 7h4m-3-3v3m0 4v2m33-5h4m-4 0v3m53-7v3"/>
<path stroke="#9cd83c" d="M390 188v3m-22 12h2m-116 7v2m-14 1v3m-51-6h2m68 9v4m3-3v3m28 1h4m111 9v3m-34-7h2m-21-1v2m-18-3v4m-69 2h2m-16-3v3m-4-3v3m-57-3v4m-25 5v4m8-2v4m52-11v4m28-2v4m95-4v4m4 0h3m6 2h3m26-3v2m0-3v2m10 0v3m4-2h4m-2 8v2m-9-2v3m-30-7v2m0 1v2m-43-6h3m-59 7v4m-5-8h4m-55 3h3m-27-3h4m-5 2h3m-20-2h3m-9-4h3m94 16v4m6-11v3m54-1v2m5-2h4m-1 1v3m31-1h3m-1 1h4m8 7h4m-8-2h2m-29 2v2m-19 1h2m-7-2v4m-71-4v2m-31-5v3m-3 9v3m1 0h4m131-4v2m19 6h3m-25-3v3m-42 5v2m-97-4h3m138 3v4m33-4v3m18 13v2m-41-9h4m-34 3v4m60 4v2m2-1v3m0-2v4m5-4v2m-14 5v3m0-3v2"/>
<path stroke="#dde326" d="M367 204v3m1-4v4m-209 10h2m200 15h3m-4-1h3m-8 1v4m-18-6h3m-75 0v2m-50 0v4m-51 0v4m89-1h3m38 1h3m26-3v3m3 1h2m31-4h4m-3 5v4m36 2h3m-5-2v2m-20-2v3m-13-1h4m-180 1v3m75 2h2m3 6h4m49-4h4m8-4v3m30 5v2m9 2h4m-6-1v4m-4-6v2m-5-1v2m-6-2h2m-5 2h2m-53 4v4m-31-7v3m-1-6v4m-2-4h3m32 13v4m6-2v3m2-3v3m28-3h2m20-1v3m18-4h4m-2-5h4m-27 12v4m-8-2v2m-1-1h4m-10 1h2m5 2v3m14 1h3m3-3v2m26 18h3m-1 1v3"/>
</g></g>
<g clip-path="url(#cq01)"><g id="d6" transform="translate(449,173.9) scale(0.25)">
<path stroke="#a1caf1" stroke-width="5.2" d="M8 7h2m-1-1h3m4 1v3m14-4h2m4 0v3m2-3v2m0-1h4m-3 0v4m1-4v4m9-3v4m12-6h3m6 1h4m2-1v2m2-2v3m9-3v3m0-3v3m2-3v4m4-4h4m4 2h3m-2-2v2m1 0v4m3-6h4m2 0h2m0 0v3m18-1v3m18-5h2m189 1v4m0-5v3m1-3v4m2-3h2m-1-1v3m2-2h3m17 9h2m-3 1v4m-1-7v3m-1-5h3m-10 0h4m-9 0v2m-3-1v4m0-3v4m-2-2v3m-2-5h4m-4 0v3m-2-5v3m-1-3v2m-2 1v3m0-5h2m-3-2h4m-4 0v4m-2 2h4m-4-5h4m-171-1v2m-6-1v2m-4-1h3m-5 2v2m-2-3v3m-2-3v4m0-5v4m-1-2v3m-1-2h3m-4 1h4m-12 0h4m-5-4h2m-3 1v4m-1-2h2m-2-2h3m-4-5v3m-1-1h4m-5 3v2m-2-3h3m-3-2v4m0 1h4m-6-7h3m-4 1h4m-6 2h2m-3-3v3m-4-3h3m-10 0h4m-5 4h3m-4 3h2m-5-4h4m-5 3h4m-4-5v3m-6-3v2m-1 5h3m-5-1v4m-10-5v3m-2-9v4m-1-1v4m-2-2h2m-4 3v4m-2-6v2m-2-1v3m-2-4h4m-13-3v2m-4 2h3m-4-6v3m0 3h3m-14-3v4m-3-6h4m-5 1h3m-4 1h3m-6 4h4m-5-4v3m-4-5v4m0 2h3m-4-4h3m-5-1h3m-7-3h3m-15 8h3m-5-7h3m-6 6v3m-3-9h3m-3-1v3m0 4v4m-3-8h2m-3 1h2m3 6v2m7-3v3m11 1v4m4-3v3m0-3h2m3-4h2m-1 4v2m0-1v3m1-1v3m2-8h4m-1-3h2m1 0v2m0 0h3m-2 3v2m0-7h4m-4 5h3m3-4h3m10 2v4m2-3h3m3 2h3m0 1v3m0-10h3m-3 5v2m2-6h4m6-1h3m3 4h3m1-3v3m4 1h3m-2-3v2m1-4h2m-2 6v2m0-7h4m2 0v4m1 3v2m8-10h3m1 4h2m-1-1v2m8-3v3m3-4v3m1-2v2m0 0h4m-1 0h2m0 4h3m-3-3v3m1-8v2m0 5h4m0-4v4m0-6v3m0-1v2m6 2h4m-3 1h4m-3-1v3m3-2h2m-2-3v2m2 0v3m2-8h2m163-1v2m0-1h4m-1-1h3m-3-1h4m-4 1v2m5 3v4m1-8h3m-3 2h2m7-2h4m-4 4h4m-4 1v3m2-8v3m1 2h4m6-6v3m-195 10v4m0-2v3m-4-9h2m-5 4v3m-1-8v4m-4 0h3m-4-1h3m-3 3h2m-4 2h3m-3-2h2m-5-2v4m-2-5h4m-5 2h2m-3 0h3m-7-4v3m-1-1h4m-6 0v2m0 0h2m-2 1h3m-3-6h3m-11 7v3m0-5h4m-12-2v4m-6-6v3m-1 1v4m0-3h2m-8 2h3m-5-5v2m-1 1v2m-1-8h2m-6 5v2m-2-4v3m-1-3v4m0-1h2m-4-5h3m-9 5h3m-9 1h2m-8-1v4m0-6h4m-4-3h3m-6 0v2m0 1v3m-3-5h4m-6 1h3m-5-3v4m0-1v3m-3-6h3m-13 7h3m-4-4v4m-3-7h3m-4 0h3m-5 8h3m-7-2v2m-1-8v2m-7-1v4m0 3h2m-4-8h2m-3 7v2m-10-9h2m-5 3v2m-1 0v2m0 1v4m-1-4v2m-1-4v3m-8-7h3m-4 2v4m0-5v2m-2-2v2m-3 8v3m0 1v2m1-9h2m-1 7h2m-1-2h3m1 1v2m0-1h4m-1-3h3m-3 1v3m0-1h4m0-7h3m9 6h2m-1-7v2m0 4h2m0-6h2m-1 8h4m-3 0v4m0-7v4m3-4v3m3-2v2m2-2v3m5-6h4m-3 3h3m-2 0h2m1-4v4m5-3v4m6-2v3m4 0h2m-2-2v3m2-1v2m0-6v3m2-7h4m-3 0v4m1-4h3m0 0h4m2 5v3m2-5h4m-4 0h2m1 2v3m1-8v3m3 5v3m22-10v2m0-1h4m-1 0v4m1-5h3m0 4v4m2-4h3m0-5v2m6 0h3m-3 2h2m12 4h2m-2-1v3m1-5v3m15-5v3m6 0h2m1-4v2m2-2h2m-1 0h3m-1 2h3m-1 1h2m-2-3v2m2 2v3m4 5v3m-2-7h4m-4 4v3m0-6h3m-3 2h2m-4-4h4m-8 6h4m-6-1v4m0-8h2m-2 3h4m-9 2h4m-6-1v2m0 1v3m-2-6h4m-4 0v2m-1-2v4m-3-3v4m0-5v3m-1-6v4m-8-6h2m-11 8h2m-4-7h2m-2-1h4m-59 1v3m-4-4h2m-4 0v4m-10-4h2m-6 5v4m-1-8h2m-2 2v3m-2 0v3m-15-5h4m-9 1h4m-7-5v3m-1 0v2m-2 3v4m-1-8h2m-3 0h4m-4-1h4m-5-3v4m0-4h2m-3 6v3m-1-9v3m-1 4v4m0-9v4m-15 1v2m-5-3h3m-6 1v2m-1-7v2m0 2h2m-2 1h2m-5-5v3m7 8h3m2 2h3m22-6v3m3 0v3m10-6h4m-1 3h2m1 0h2m15 5v4m62-5h2m0-2h2m1-4v2m2-3v4m3 4v4m8-6h3m-2 1v4m1-10h4m1 1v4m4-6v3m19 4v4m0-9h4m-4 5v2m1-5v2m1 1v3m3-2h3m6 5h4m-8 2v4m-3-5h4m-7 2h2m-4-7h4m-10 0h2m-6 2v2m-24 4h3m-3-8v3m-4 3h3m-4 0h2m-35-2h3m-42-2h4m-16 7v2m84 2h2m4-4v4m9 3v2m2-3h4m0 0v4m0-6h4m2 4v2m3-3h3m-2-7h3m1 2h4m-3 6v3m1-7v3m3-1v4m2-4h3m-1-1v2m5-6v2m0 0h2m-2 4v2m3-5v2m7 1v4m11 5h4m-16 1h4m-6-7v4m0-3v3m-1 1h2m-4-1v3m-6-5v2m-1 3v2m-8-4h2m-3-4v4m-4 2h4m-4 0v4m-3-11h3m-5-1h3m-5 2h2m-4 1h4m-5-1v3m-1-4h4m-8 4h4m-5-1v4m-93-6h2m0 9v4m32 0h2m55-3h3m-1-2h3m-3 3h2m3-4h4m3 6v4m5-7v4m4-1v4m1-8h4m-3-2v3m1-1v3m6-4h3m-1 1v3m1 1v3m2-1h4m2-2h4m10 2v2m-12 5v4m-2-8v3m-3-3h4m-8 6v2m-1-3v4m0-7h4m-13 4h4m-10-6v4m0 0h2m-2 2h2m-4-5v4m-3-7h3m-11 2v3m-4 2v2m-61-5h3m-25 5h4m0 0v3m35 4h2m53-4h3m4-3v3m2-2v3m1 3v4m0-3v4m0-7h3m-2-5v4m3 2v2m2-8v2m0 4v3m3-2h3m-2 1v2m2-8h4m-3 6h3m-1-4v4m5-4h2m-1-1h4m6 4v4m3-5h3m-23 5h4m-4-1h2m-3 7v4m0-9h4m-8-1v4m-1-4h4m-4 3v3m-2-3h3m-5-4v4m-1-2h2m-12-2v4m-19-4h3m-24 6h3m-26-1v3m13 0h2m5 0h4m65 6h4m-1 0h2m-1-5h4m-4 4v3m4 0h4m-4-6h4m-3 4v2m2-7v4m1-5h3m0 3h4m-2-1v2m2 5h3m-98 6h2m-3-5v3m-10 11v2m30-5v4m59-5v3m14 1v4m0-10h3m-2 5h2m1 1h3m-3 1v4m1-1h3m-6 0h2m-5-1v3m-1 1v2m0-5v3m-4 1v4m-1-3h2m-100 1v3m102 0v3m2 1v4m4-5v2m2 1v2m0-4h3m11 0v2m9 10h3m-4-2h3m-8 1v2m-1-3h2m-3 2h4m-11-3h3m-3-5v2m-2-1v4m-4-5v3m-15 2h2m-8 1h4m-74 5h2m7 6h2m66-4v4m3-4v2m4 1v4m3-6v2m5-7v2m5 2v4m6-6v3m3-2h3m-2 3h4m-4 0v3m4-2v4m2-7h4m1 4v2m1 6h4m-5-1h3m-4-1v3m-1-6h3m-3 1h2m-2 5v3m-1-11h4m-5 3h4m-6 5h2m-8-6h4m-8 5v4m-3-8v4m-9-4h2m-2 4v4m-1-5v2m-1-4h3m-34 2v2m-9-6v4m-11 6v2m52-4v4m0-1h4m-1 3v3m5-2v2m4-2h2m9-3v3m1-8h4m-1 2v4m4-3v3m1 2v2m1-8h2m-2 2v3m1-3h3m0-1h3m3 13v3m-17-8v3m-12 3h4m4 2v2m13 4h2m4-2v4m0-3v4m1-3h4m-3-5v3m9 0h2m-1-1h3m1 0v3m6 1h2m12 6h4m-10-2v3m-2-1v3m-1-4v4m0-4v3m-10-6h2m-2 5h2m-8-3v3m0-5v3m-3 3h4m-4-7h2m-2 2h3m-4 1v2m0-2h3m-9 0v2m-1-2h2m-3 4h3m-4-5v4m-4-2v2m-4-5h3m-46 15h3m54-4v2m12-5v2m0 4v3m5-9v4m1-1h2m2 0v3m2-5h2m-1-1h4m-3 0h3m-3 8h4m5-5v4m4-5v4m1 1h4m6 10h3m-7-8h3m-6 7v2m-13-9h2m-6 0h3m-13 0v2m-2 1v3m-110-2h2m7 6v4m113-5h4m7 3v2m5 1v3m1-4v4m1-9h4m-3 4h4m-3-1v2m1-2h2m-2 4v2m0-1v4m4-5v2m0-8h4m-3 0h2m-2 4v3m4-8v4m7 0v2m8 2v3m11 6h2m-28-5v2m-3-3v2m-5 1v2m-1-6h2m-4 2h2m-2 4h4m-5-3v3m-2-2h4m-5-3h3m-7 2v4m-97-3h3m-90 8h3m117 0v2m65-6v4m1 0h2m3-2h3m-1 5h4m33-1h4m-1 1v3m9 1h4m-8-2v3m-3-2h3m-4-1h4m-38 1h4m-5 1v2m-207 1v3m-3-3v4m-4-4v2m-21 3v2m16 3h2m1-1v2m0-3v3m1-3v3m4 1v4m1-7h2m78 1h2m127-6h3m22 6h2m10 2v3m1-3h2m-2-3v3m2-5h3m2 1h2m0 4h4m-6 4h4m-7-1v2m-3-4v3m-2-3h2m-6 3v2m-11 3v4m-7-9h3m-137-3h4m-96 0h4m-4 7v4m0-4v2m-1-6h2m-5 1v3m-1 0h4m-6-1v4m-2-3v2m0-6v4m0-5h2m-3 5v3m-2-6v2m-1-4v2m-1-3h3m-5 4v4m-7 3h2m4-3h2m3 7v3m2-10v2m0 0v2m2 0h3m-3 1h3m-1-2v3m1 2h3m-3-4h3m-3 2h2m1-2v3m3-5v2m7-2h3m-3 4h3m-3-1h4m-4 0h4m210-5v2m3 2v4m17-6v2m16 3v4m0-7h4m-3 2v4m0-6v3m3-4v2m0-4h3m0 4v2m18-1h4m0 2h4m-5 1h4m-47 3v3m-240-3v3m-3 2h2m-2-8h4m-4 3v4m-1-4h4m-5 1v4m-1-7v3m-1-3h2m-2 5h3m-18 2h3m-4-1h4m-7-1v2m-5-8h4m-5 8v2m-1-7v4m6 7v3m1-2v4m3-2v4m1-6v3m1-9h3m0 7v2m7-4h4m-1 1v4m1-7v4m4-5h3m268 4h3m9-4h2m1-1h3m4 6v4m4-9v4m3-4v2m1 2h4m-2 0v2m0-5v3m3-5v2m0 2v2m1-1h3m1 2h4m-4 1v4m-2-3h4m-4 5v3m-1-6v4m-3 1v2m-5-8h2m-3 0v4m-2-2v2m-1-1v3m-29-4h2m-96 1h2m-179 1h4m-5-1h4m-8 0h3m-3-1h3m-4 2v2m-12 0h2m-3-6h4m-12-1h4m12 13v4m2-8h2m-1 1h3m-2-1h4m184 0v3m3-1v2m1 3v2m0-2v4m23-9v4m12-3h2m86-1h4m9 2v2m3-1v2m0-8v4m-5 5v2m-68 2v4m-2-6h2m-3 6h3m-15-1v2m-1-5v4m-1-1v2m-1-1h4m-5-1h4m-4 1h4m-37-5v2m-220 8v2m229 1h2m-2-4h4m-4 0v2m7-2h4m0 5v2m3-5h3m-3-1v3m4-1v2m1-5h2m-2 2v4m2-2h3m-2-3v3m1-6v4m3-4v4m2 2v2m1-6h2m-1 4v4m1-8h2m0-1h3m-3-1h2m-1 0h4m5 0v2m3 4v2m3-9h4m-3 2v3m1 2h2m1-5h4m9 5h2m-3 4h4m-5 5v3m-2-7h4m-7 3v2m-4-6h3m-4 2h3m-9 3h2m-3 1h4m-6-1h2m-4 1v2m-8-7h4m-6 3v2m0-1v3m0-6v2m0-5h3m-3 0h4m-5 1v3m-1-2h3m-4 2h3m-15 1v3m-3-6h2m-5 4v4m-240 3v3m235-6v2m1-4v2m5 3h4m-2-4h3m24 1h3m-2 2v4m4-5v4m0-4h4m-4 5h2m-1-7h4m-2 3h2m-2 3h2m6-4v2m1-4v4m2-1h2m-1-1h2m0-1h4m-3-2h2m-1 0h4m-2 6h3m8 2v2m2-9h4m-2 5h3m-3 2h4m-1-5h2m-1 4v2m11-1h4m-3 1h3m-9 6h3m-3 1h3m-6 0v4m-1-3h2m-3-2h2m-2-5h3m-6 2v4m-2-3v4m-6-5h3m-3-2h2m-3 3v3m-1-2h2m-2-4h4m-11 0h2m-3 0h3m-4 2v4m-1-3v4m-1-4v4m0-7h2m-6 3v3m-2-4v2m-1-1v4m-1-5h4m-5-1h2m-3-1h2m-3-1v2m-9-2v3m-1-1v4m0-4v2m-9-3h2m-2-1h3m-7 0v2m-1 1v2m-39-5h3m-41 1h4m-202 15h2m9-5h3m4 6h2m0-2v3m2-1v4m1-5v4m0-5h3m-1 2v2m1-2v3m1-6h3m-2 3v2m225-3v4m5-8v3m21 1v4m11-8v4m1-7v4m25-4v3m9-3h3m-3 0v2m3-2v3m0 0v2m9-4h3m-2 0v4m9-5h4m-28 14h4m-7-3h2m-48 6h4m-267-4v3m-3-3v4m-3-8v2m-8 3h3m-3-3v3m-18 3h3m-9 8v4m2-5v3m8-7v4m17-4v2m6-2v2m14 2v3m9-8v3m2 3v2m0-2v4m154-4h2m77-5v2m39-4h3m21 1v4m10-4v3m-235 13v3m-21-4h3m-106-6v2m-6-2v3m-4-3v3m-29 0h4m10 6v2m236-2v2"/>
</g></g>
<g clip-path="url(#cq01)"><g id="d7" transform="translate(449,173.9) scale(0.25)">
<path stroke="#2b2b2b" d="M135 19h2m3 45v4m0 1v2m-25-1h2m2 10h3m2 0h2m0 0h4m4 0v3m5-6v2m0-1h4m9 3v3m-9 4h4m-14-7v3m-1-1h4m-7 4v2m-3-6h3m-9-2v2m0 2h2m-9-2v4m-28 3h2m39 3v4m10-7h2m0 2h4m-3 1v2m1-5h2m0 1h2m34 8v3m-13 28v3m2 0h3m-2-2h2m30 3v3m4-4h4m5 6h4m-7 3v2m-4-7v3m-2 2v4m-2-4v3m-2-10v3m-16 4v3m-4-3h4m-5-2h3m-11-5v2m0 3h3m-15 3h2m-3-3v2m-9 8v2m2-5h2m1 1v2m3-6h3m14 5h3m5-5h3m4 6v2m8-1v2m3-8v4m1 2h2m7-7h3m-1 0v4m-6 13h2m-3 0v4m-3-5v2m0-2h2m-4-2v4m-2-5v4m-5 0h2m-5-7v4m-2 0v3m-2-1v2m-3-3v2m-13-8v4m-3-2v2m-4 4v2m-6-3h4m-4 0h2m-3-6v2m0-2v2m-3-2h4m-4 1h4m-12 4h3m2 3v3m3 2v4m6-5h4m-3 0h2m0-2h3m0 5h3m-2-6h2m-1 1h3m-2-1h2m7 2v3m3-1h2m-2 1v2m3-4v3m4-4v3m13-4h4m17 2v2m-16 6h2m-4-3v3m-7 4v4m-17-7h2m-3-4v2m-1 4h2m-2-5h2m-4 1v4m-1-1v4m-3-7v2m-5 9v4m1-3v3m0-6v4m0-4v3m3 1h2m16-5v2m3 1h2m-1-3v3m4-3h4m8 15v4m-1 3v4m3-9v2m1 5v2m0-3v2m2-2h3m8 0h2m-1-2v3m1 0v2m1-3v3m1-2v4m2-3v3m1-3h3m-1 0v3m-2-1h3m-10 2v2m0-3v2m0 2h4m-5 1v2m-1-1h2m-3 0h3m-6 0v2m-1-2h2m-4-2h4m-5-5v4m0-4v2m-2 0v2m-5-3h4m-5 0v4m11 3v2m12-1h2m17 6h2m51 4h4m-56 1h2m-2 0h2m-13 8h4m51 11h4m-7-2h4m-6 5v2m-15-5h3m-5 0v3m-3 1v3m-3-10v4m-2 2h3m-4-2v4m2 2h3m8 2h4m-3-4v3m1 2v3m3-8v2m0 6v3m3-9h3m9 2v3m6 5v3m-5-1h2m-8-5v2m-218 6v3m-7-3h3m-14-1v2m-25 8h4m0 0h2m-1-1h4m-3-3v2m19 1h2m4-2v4m1-4v3m1-7v3m2 1v4m1-7h3m-2 5v2m3-6h3m2-3h2m3 7h4m211-6h3m0 3h3m-1 2h4m39-6v2m2 6h2m0-8v3m-2 8h2m-3 4h3m-10 2h4m-4-5h3m-4 5h2m-3-5h2m-5 1v4m-153-3h3m-16 2h4m-6 0h2m-3-4v4m-1-6v4m-44 3v2m-34-3v4m-16-11v4m-2 2v4m0-10h2m-3 4h4m-4-3h3m-4 4v3m-4 0v2m-1-9h4m-4 6h4m-7-2v4m-1-8v4m-1 3v2m-2-8h3m-6-1h4m-11 5v4m-3-6v2m-7-5v2m-10 3h3m-18 9v4m7-4v4m2-3v3m15-7h2m0 2v4m3-1v3m1-11h3m-2 2v2m18 3v2m1-5v4m5 0v2m1-8v3m2 1h4m-3 0h2m2-5h2m0 4v4m1-5v3m1-5v4m0 0h3m-2-3v3m9 2h4m67 0h2m-1-3v2m3-4v3m7-4h4m-3-1v3m1 3v2m0-5h2m-2 4h3m5-8v4m2 1h4m1-5h2m18 6v3m132-9v4m3 2h3m-3-4v3m2-1v4m9-3v2m0 0v3m1-5v2m31-3v3m-29 4v4m-19-6v4m-1-2h2m-113 0v4m-7-4v4m-19-3v4m-4 0h4m-6-4v3m-1-1v2m-1-1h2m-5-5v4m-7-5h4m-4 1h4m-18 3h2m-7-2v2m0-2v2m-1 0v4m-76-2v2m-18 0h3m-11-7v3m0 0h2m-7-1h3m-31 4h4m-7-7v2m-12-1v2m0 5v3m0-7v3m0 0h4m-4 9v3m0-6h4m-4 3v4m0-3h3m-3-8h4m-3 4v3m3-5v4m1-6h4m4 5v2m1 0v3m14-6v2m18 2h4m4-6v4m2-6v4m4-1v3m2-4v2m0 1h3m-2-5v2m1 5h3m10-6h3m-2-1h2m33 7v4m47-11v2m47-2h3m17 4v3m140 1v2m-293 5v4m-27-3h2m-10-4h2m-10 0h4m-9-2v3m-1-4h4m-6 2v3m-2-4h3m-4 4v3m-5-4h2m-4 3h2m-5-4v3m-4-3v2m-2 1h3m-7-3h3m-3 10h2m-2-1v4m12 1h3m-1-3h2m0-2h2m-1-2v3m2 1h4m-3 2h2m1 0h3m1-4h2m-2 2v4m20-7h3m0 2v4m3-2h4m10-2h4m-2 3v3m3-9v2m3-3v3m331 11v3m-19-7h4m-80 5v2m-31-1h3m-216 0v4m-1-4v2m-13-7h4m-18 4h4m-5 1h4m-9 1h4m-5-2h3m-14 2v3m-2-5v4m-4-6h2m-4 1h2m-2-4v4m0 3v2m-4-7v4m-4-2v3m-4 0h3m-4 1v2m0-1h4m-3 1v4m1-2v4m4-5h4m-4-3v4m12 4h4m-1-5v3m0 2h3m-2-7v2m1 4v3m0-2v2m9-10h4m-2 0v4m2-3h4m10 3h2m3 3h3m209-3v3m9-5v2m38 0h4m64 2v4m2-4v2m20-5h4m3 0h4m9 3h2m4 10v2m-1-6h3m-9 4v3m-1-5h2m-2 0h2m-5-2v2m-2 1v3m-7-2h4m-7-2v2m-2-7v4m-112 3v2m0-2h3m-4 1v3m-1-4h3m-3 0h2m-8 0h2m-4 1v3m-1-3v4m-9-9h4m-5-3v2m-199-1h4m-5 0h3m-5 4h4m-7-3v4m0-4v2m-1-4h2m-2 7h2m-19-5h2m-18 2h4m-4 2v3m-1-8h3m-3 2h4m-7 4v3m-14-3h3m-3-3v3m-1-4v3m-4-6v2m-1-2h2m-10 5v3m-1 0h4m-4-1h4m-4 10h2m6-1h4m-3-1v3m4-7v3m18-4h2m3-1h2m1 3v4m4-4v3m1-3h3m18 3v4m3-10v4m209-4h2m0 4v2m1-5h3m-2 6h4m-3-4v2m12-5h2m1 8h3m-1-3h4m0 3v4m4-12h2m5 8v4m95-9h4m8-3h4m4 0v2m1 6h3m-3-2h3m-3 4h2m-11 4v2m-107-1h3m-20 0h3m-3-4v3m-2 3v4m-3-7v3m-234-3h4m-7-1h3m-3 1v3m-2-5h4m-5 1h2m-3-3h3m-4 3v4m-4 0v4m-10-11h3m-28 6v3m-2-5h4m-10-3v2m-3-4v2m5 14v2m7-4v4m0-2h3m-1-2v2m0-1h4m-2-6h2m-1 4v2m1 0v3m4-7v3m4-1h4m21-2v2m2-3v2m5-3h2m8 6v2m2-3v3m2-5v2m1 3v4m4-12v4m1 2v4m4-5h3m211-1v3m2 1h3m-3-4v2m2-3v3m12-5h4m114 8v3m0 3h2m-2 0v3m0-9v2m0 1v2m0 2h3m-3 0v2m-5-3h2m-5-5v4m-1 2v2m-3-4h4m-343 3v3m-5-5v3m-9-5v4m-1-2v2m-37-7v4m-6-5v3m-1-1v2m-3-2v4m-1-2v2m-2-5h2m-5 0h3m-7 2h3m3 7h2m-1 0h4m9 6h4m3-7h3m0 2v4m3-5h2m11 7v3m4-7v3m7 1v4m1-4h2m1-7h4m6-1v2m312-1h3m0 0h2m18 5v2m1-5v3m3 1h2m-1-6v3m2-3h3m-2 4h4m-3 0h3m1 2v4m3-11h3m-2 1h2m-3 16h4m-5-1h4m-8 1h4m-6-8v2m-4 0h3m-133 2h3m-12 2h2m-6-3h2m-3 4h3m-8-4h3m-4 2h3m-218-3v4m-4 1v4m-1-9v4m0-3v4m-6-5h2m-4 5h2m-3-1h2m-9-4h2m-3 1v3m-2-2v3m-5-3v2m-8 1h3m-12 0v4m-5-11h2m-4 3v4m0-5v2m7 12h4m-1-4h4m10-3h4m7 1h4m-4 2h3m3 2h3m-1 3v4m0-4v2m223-6h3m1 1h4m-4-2h2m0 4h4m-1-7h2m-1 2v2m2 1v3m3-8h3m-3 1h4m-3-1h3m0 7v4m3-4v3m1-5h2m-1 1h4m-1-1v3m6-8v4m11 7v2m-14 3h2m-8-2v4m-3-5v3m-2-1h2m-2-2v4m-1-7h4m-202 7v4m-5-5v2m-2-2v3m-6-2h4m-4-1h4m-6-7v2m-1 4h4m-8-2h2m-2 2v4m-1-8h4m-10 4v2m-9 2v4m9-4h3m-2 0h3m-1 0v3m1-4v4m0-3h4m-2 0h4m8 0h4m-4 0v3m3-3v3m0-3v4m3-5v4m0-3v3m9-4h2m-1 1v2m207-2h3m6 0v4m2-4v3m2-3h2"/>
</g></g>
<g clip-path="url(#cq11)"><g id="d8" transform="translate(573,173.9) scale(0.25)">
<path stroke="#17becf" d="M11 6v2m48-2v2m86-2v2m11 0h2m198 0h2m-13 8v4m-7-6h4m-179 3v3m-1-3v2m0-5h2m-17 2h2m-15-1h4m-34-6h2m-66 16h4m39-3h2m18 1h2m8-2h4m41-3v2m189 1v4m-177 10v2m-20-3h3m-6-5h3m-25 3h4m-15-4v3m-29 2v3m-7-6h4m-32 1h4m-21 12h2m5-4h3m51-3h3m19 3h3m-3 0h2m46 0h2m12 10v3m-1-2v3m-160-5h4m-8-1v4m-2 0h2m-7-6v2m83 14h4m95-5v4m1 1h3m-40 9v2m-11-1h4m-19-8h3m-50 3v2m-22 6h2m0 0v3m45-3h3m89 2v4m7-5v2m-18 11h3m-3-6v2m-2-3v3m-57 3h3m-7-1h4m41 10v3m32 6h2m-21-6h4m-5 4v4m-42-8h2m-33 1v4m34 8h2m24 0v2m39 1v2m13 8h4m-34-8h2m-31 7v4m-11-6v3m-19-1v2m6 3v3m2 2v2m40-7h2m2-3v3m19-3v2m12 6h2m0-1h3m5 3h3m-21 0h2m-46 4h3m-30 2v3m72 14h4m-51-5h2m-40 7h2m4 8h2m21-4v2m11 1v4m8-8h4m5 1h3m6 2h4m-1-3h2m30 0v3m19-1v3m5 0v3m1 7h4m-48 0h2m-32-6v2m-1-3v4m-9-4h4m-18-1v4m-4 4v2m-2-2h4m3 1h3m75 6v4m8-2v3m6-3h2m-4 6h3m-3 2v2m-6-8h4m-6 3v3m-12-6v3m-40 7v2m47-4h4m-7 15h3m-13 18v2m39 7h4m24-2v2m43 10v4m-18-6v3m-38-3h3m-64 12h2m111 1v4m-1 4v3m-254-6h3m-7 3v2m-1-3v4m-33 5v3m76-7v3m90 2v2m132-9h2m3 2v3m3 1v4m12-6h4m-1 1h3m4-1h4m-2-2v3m-178 7h3m-17-2h3m-15-2h3m-34 1h4m-38 3v2m-1-4h2m-20 4h4m-24-5v3m-29 4v3m-13 4h2m10-4v2m3-2h2m33 3v2m40 0h2m57-3h2m12 0v2m36-5h4m129 0h3m5 10h3m-3 6v2m-4-7v4m-131-3h4m-33-4v2m-27 2v3m-96-5v4m-22-5h3m-34 4h2m1 11v2m29-2v4m39-8v4m14-6h3m23 4v4m6-6v4m96-7v3m7 0v4m134-2h4m14 2h2m-256 6h4m-14-4h2m-88 7v2m-4-2h3m-6-1v4m-8-9v3m3 7v2m31-2h2m10 2v4m36-8v3m11 3v4m2-5v3m256-8v3m16 3v4m0-10v3m29 5h4m6 0h2m-1-8v3m1 1v3m-13 2v3m-80 1h3m-35 0v3m-22-1v3m-196-4v3m-21-8h4m-29 7h4m-29-3v4m-1-4h2m23 11h3m64-1h4m177-1v2m49-5v4m23 1h3m58-4v2m4 3v2m20-5h2m-2 8h4m-34-3v2m-41 3h4m-85 1v2m-2-6h4m-185-1h3m-65 6h3m3 7v3m48-5h3m-3-2h2m205-1h4m11 0v4m27 2v4m92 4h4m-70-5h3m-34 1h2m-16 3v3m-22-1h4m-258-5v3m-3-3h4m-30 6v3m19 0v3m367 1h3m1-3v3m-10 10v4m-3-3h2m-29-4v4m-11-3v4m-7-3v3m-34-4v2m-38-2v4m-199-6v3m-54-1h3m36 9h3m247-3h3m6 3h3m12 3v2m3-1v4m27-10h4m-1 1v4m49-4v2m2-1h2m3 3v3m0 1h3m-40 5h3m-16 0h2m-30 0h3m-25-2h3m-16-1h4m-261 3h2m-19-2h2m-10 5h2m3 7h3m1-4v3m36-3h4m4-2v3m13-1v4m241-1v3m9-4h4m32-5v2m52 4v2m-154 8h2m-7 0v3m0-7h3m-107 2v4m-71-7v2m-22 3v4m-36-5v2m-6-1h4m-7-7v3m-14 6v3m68-3v2m66-3v2m9-1v2m109-3v3m7-2v2"/>
<path stroke="#d62728" d="M12 6h2m96 0v3m4-2h2m-2-1v2m235 7h2m-3-3h2m-5 2v3m0-5h2m-9 1v2m-6-2v4m-159-1h4m-15-4v4m-40-3v4m-4-4h4m-4 0v2m-64-4h4m-35 6v3m-10-10h3m22 9v2m11 5v3m34-9v2m25 0v2m16-6v4m36 0v4m191 0h4m-190 3h3m-15 3v2m-47-7v4m-23-3h3m-4 6h4m-25-2h2m-51 1v2m-1-8v2m-4 13h2m12-4v3m2-1h2m27-2h2m17 3h2m11-5v2m0 3v4m48-3h2m20 1h2m14-2v2m8 6h3m-55 4v2m-1-2h3m-40-7h4m-7 14v2m36-7h3m45-1v4m25 1v4m11 6v2m-91-2v4m-44 6v4m42-3v2m25-7v2m41 2h4m10-5h3m6 0v3m2 3v4m4-5h2m0 1h3m-14 8h2m-38 0h2m-7 0v2m-54-1v2m-3 6h2m3 0v2m10-8v3m89 7h3m-21-2v3m-5 2h2m-99 2h3m74 4h3m20 3v2m10-5v4m35 8v2m-7 1h4m-75 0v4m-28-11h4m-4 6h3m21 7h2m5 1v2m22-8v2m41 1v3m-6 7h4m-14-2v4m-37 2h2m-19-6v2m-30 7h2m-2 0v4m11-3h2m11-2v4m48 2v3m6-3h2m8-5v2m-9 11h3m-9-4v2m-16-4h2m-4 4h4m-35-2h3m-12 10h3m17 1h4m6-2h3m6 1v2m0 0h4m4 1v2m64 2h3m-23 4h4m-72 1h3m-6-4h4m-10 5h3m92 3h3m22 16v2m-12-7v3m-51 0v2m-3-4v4m1 5h4m20-2h4m34 8h3m-40 0h4m-13-1h4m67 17v4m6 0h3m-11 5h4m-20-3h2m-3 3v4m-65 4v4m75 6h2m-107-6v3m102 9v2m50 0h4m-13 10h2m-126-1h3m-136 0h3m-35 8h3m29-2v3m261-4v3m18-2h3m20 2h4m-35 4h3m-157 3h4m-20 3h4m-109-1v4m-44 2h4m22 5h2m41-7v2m2 1h4m19 2v4m55-9h2m18 1h4m46 1v4m107-6v3m36 4v3m-43 1h3m-4 0h3m-273 2h3m-14 3h4m-46-4h3m-4 5h3m8 8v3m8-3h3m22-2v2m3-3v3m0-2h2m3 0v3m18-6h3m27 1h2m8-4v2m44-2h3m55 0h3m127 5v4m29 7v3m-20-7v3m-245-6h2m-73 7v3m-35-6v3m69 9h4m16-4h4m274 4v3m6-2h2m19-5v3m24 5v2m-4-2h4m-150 0h4m-7 5v2m-200-1v3m-29-8h2m-15 5v3m-9-8h4m-7 5h4m-11 0v3m29 1h4m54 2v3m199-7v4m59 3v3m11 5h3m-11-1h3m-290-1h4m-24 0h3m-45-3h2m77 12h2m219-5h3m64 8h2m51-5v4m1-7v3m6-1v3m0-3h4m-23 8h2m-36 4h3m-4-4h4m-5 1v2m-89 4h4m-9-3h2m-226 1h4m-19-1v3m-42-3h3m266 12h3m49-6h3m24 6v3m32-10h4m43 4v4m3-2h2m-2 5v4m0 1v3m-49-6h4m-8-5h3m-51 5v4m-34-2h4m-216-6v3m-1-1h4m-19 1v2m-55 2h2m13 8h3m43-7h3m1 8v2m221-9v4m27 0v3m15-3v2m68-4v3m-32 4h4m-8 5h3m-24-1v2m-2 0v2m-12-8h2m-7-1v4m-23-1v2m-39 3h2m-6-1h4m-195 1h3m-13-6v2m-8-1h2m-12-3h3m-46 11h2m84 4h4m164 0h3m1-5v2m52 1h2m81-3h4m29 5v2m-127 5h3m-166 2h3m-39-1v4m0-1h4m-63 0v3m-14-9v2m17 6h2m6 0v2m53-2h3m12 0v2m47-2v4m91-4h3m14 0v3m1-3h2"/>
<path stroke="#ff7f0e" d="M39 6v4m118-4v3m-115 12v4m93 9v3m-80-6h4m74 8v2m11 1v2m7-6v3m-65 5h2m54 19v3m-62 10v3m86-5h3m-81 14h3m15 6h4m47 11h2m-2 8v4m38 2v3m-38 1v4m67 1h3m-25 11v4m-26-7h4m-6 18h4m-46 11h3m1 8v2m6 7h4m-2 1v2m57 6h4m94 48h4m1 10h3m-88-2v2m82 7h4m-6 16v3m-288 16h3m149-5v2m19 1v2m-123 5h4m-46 12h3m208 0h2m-201 20v3m386-3v2m-401 15h3m8 0v2m411 3h4m-5 4v2m-23 8h2m1-3h3m-83 7v2m-12-2h2m-32 2v4m-234-7h4m-37 12v2m351 1v4m53-2v3m-19 3v2m-42-5h3m-77 2v4m14 13h2m-280 14v2m235-2h2m-156 4h4m-91 7h3m26 0h3m47 0v4m57-4h3m135 0v2"/>
<path stroke="#8c564b" d="M101 8h2m4 0h4m-4-2h3m238 2v4m7 1h2m-230 4h3m-28-1v4m-61-9h3m-7 0v4m12 17h3m-23-5v4m-16-3v4m88 4v2m51 1h3m28 8h3m-56-2h4m-120 8h3m-3 3h4m79-2h4m21 4h2m21 2h2m-131 3h4m148 16v2m38-4h4m-63 4v2m-70 5v2m1 1v4m5-2v2m45 2h2m66-1v2m-28 6h3m-89 1v4m11 2h4m22-2v3m12 4h3m50-7v4m-56 16h3m81 2v4m14-2h4m-28 2v4m-14 4v2m-38-10v2m-22 0v3m-9 10h3m64 5h4m14 10h2m32 3v3m0 7v3m-80-9v4m110 21h3m-33-8h2m-3 1v3m-1-2v2m22 7h3m-9 14v4m-10-8h4m-26 4h2m-14 2h3m63 5v4m19 2h4m-32 1v4m59 15v3m-4-3v3m-41 1v4m-11 0h2m13 6v3m-200 5v3m42 2h3m167-3h4m63 3h3m-18 8v4m-9-7v4m-171-2v4m-4-3v4m-43 0h4m-31-6h4m-55 6h3m-15-6v2m-8 12h3m66-6v4m23 2v2m264-3v2m-6 10v3m-263-4h4m-48-3h2m-42 3v3m76 0h3m124 3h4m127-4v4m23 9v4m-308-2h4m303 10v2m16-8v4m25 4v2m-7 1v4m-121-3v3m-182-3v4m-94 3h2m40 1v3m220 2v2m3-5v2m104 1v3m49-1h2m-338 9h4m186 4h2m37 3v4m35-7h3m49 2h4m-44 6v4m-1-6v3m-309 0v3m-41 7h3m252 1v2m45-7h2m0-2v4m1-3v3m29 9h3m-15 2h2m-16 2v4m-57-6v3m-210 5v4m8-7h3m2 0h2m20 1v3m252-6v3m47 1v4m-56 9h2m-18-6v2m-12-2v3m-307-2h4m13 10h4m244-1h4m158-2v3m2-4h3m-133 14v4m-19-5v3m0 0v3m-201-3h4m-34 1v3m-46-5h3m-7 4v4m13-4v3m41-3v4m50-5v2m34-1h4m107 0v4m53-4v4m12-4v3"/>
<path stroke="#279e68" d="M36 7h2m2-1h2m48 0v2m275 6h3m-219 3h3m-75 0h3m-60 4h2m33 3h3m46-6v4m1 4h4m-4-2h2m29-4v2m30 4h3m176-7h3m3 6h2m-198 6h4m-20 3h3m-134-4h4m10 9v4m20-4v4m58-1v3m40-5h2m37-1h3m0 1v2m-14 4v4m-5-3h2m-57-2h4m-24 2v3m-1-5h4m-42 3h2m-4 1v4m-1-3v2m9 9v4m4-6h2m32-1h2m76-2v2m15-4h3m4 4v2m2 4h3m-12 0v2m-109 3v4m-3-3h3m-16 4h4m71 6v3m68-10h4m-26 13h2m-27 1h3m-9 2h3m-23-6v3m-4 1h4m-9 1v3m-41-9v2m-8 4v4m21 0v2m15 2v2m6-3h3m60 0h3m18-3h4m0 8h4m-24 2v3m26 7h4m-17 10v3m-12 0h4m-34 0h2m-18-6v3m-14-5h2m45 15h3m49-5h2m2 7v2m1-7v3m2-3h4m-20 14v3m-4-9v2m-13 0v3m-38-2v2m-10-1h3m40 12h2m-44 9v4m12-3h2m7 5h2m4-5h2m68 6v4m-95 9h4m93-2v3m0-1v3m-67 14h2m47 5v2m52 29h2m15-1v3m27 14h3m-20 0v3m-32 1v2m21 13h3m1 8v3m39-4h2m-2-1h4m19 6h2m-33 4v2m-9-7h4m-168 1v2m-66 3v3m-20 3h3m5-5v4m72 0h3m27 0v3m136-4h4m10-1h2m-233 9v4m-10 0v3m-4-2h2m-30-6h3m-5 4h3m-47-4h3m-13 10h3m55 2h2m282-3v2m-98 13h4m-143-6h4m-7 2h2m-77 5v4m-7-11v3m29 13v3m31-10v4m32 1v3m179 5v3m-195 0v4m-64-7v4m-10-9v4m68 13h2m337 2h4m-84 6h2m-71-2h3m-6 3v4m-206-4h4m-61-3h2m404 18h4m-44-4h3m-71 4h2m-19-1v3m-281 8h3m324 2v4m68 5h3m-14-8v3m-6 5h2m-29 0v2m-19-3v4m-43-10h2m-236 5v4m-8 3h3m0-2v2m270-3h3m20 5v3m-16 7h2m-25-5v3m-5-3h2m-5 0h4m-44 1v3m-180-5v3m-20 4h3m-25-3v4m-45-2v4m-3-2h4m253 3h3m142-2v3m-331 5h2m-6 3h4m-25-2v4m-2-1v3m105 3v2m22-2h4m79-1h3m43 1v2m16-2v4m17-4h4"/>
<path stroke="#1f77b4" d="M47 26v4m4-5v2m27-3v3m108 22h3m-6 4v4m-19-9h2m-74 3v2m0 1v4m18 24h4m-23 8v4m118 2v4m-54 17v3m-11 12v4m5 0h4m-24 6v2m11 0h3m5 1h2m14 13h2m-11 11h3m-23 2v4m132 49h4m3 8h2m-13 18h4m50 6v4m-165 33h2m-93 15h4m337 3h2m-317 16h2m5 0v3m283-2h3m44-1h4m-401 17h4m15-1h4m56 8h2m-76 4h4m-24 2h4m21 7v4m14 8h2m-22 7h3m258 16h2m11-2h2m20 6h3m-273 14v3m224 13h2"/>
<path stroke="#e377c2" d="M88 6v2m22-1v3m41-4h3m-144 14v2m340 2v2m-187 1v3m-96 14v2m-59 15v4m32-9v2m35 22h3m116 3h4m-69 2h4m34 24v4m52 16h3m-65 11v3m45 5h2m28 5v4m-109-3v3m-3-3h2m76 47h2m5 1h3m52-4h2m-45 19h3m-39 30v4m92 2h2m44 1h3m-254 19h4m234 7v3m52 20h3m-170 0h3m-134-5h3m-57 9h2m340 2h3m49 6h4m-16 35v3m29-9h4m-319 14h2m-85 10h3m346 3h2m-303 14h2m311 6v4m-325 9v2m2-4v4m1-7v2m27-5v4"/>
<path stroke="#c5b0d5" d="M334 15h3m-202 0v3m-12-4v3m-13 1h2m22 1v2m18 18h2m11-1v2m12 13h2m-12 31v4m-52 42v4m103-1v2m-9 42v2m-20 21v3m45 3h4m19-4h4m1 1v4m-34 5v3m-4 1h2m-23 45h4m-188 70h2m4 0h2m49-2v4m29 7h4m-101 10v2m23-7h3m318 4h4m-2-2h4m71-1h4m-382 12v3m-12-7h3m-36 9v2m34 3v3m386-10v2m-54 12h3m-39 1v2m37 15v2m-64-3h4m-34 0h2m40 17h4m-292 4h4m-14 5v2m368-5h3m-344 18h4"/>
<path stroke="#aec7e8" d="M173 14v3m-48-1v3m-95 27h4m153 58v4m-6 13v4m-26-1h2m13 29h3m2 13v2m32 7h3m-37 30h2m54-5h2m0 1h2m28-3v3m-140 85v3m-3-2v4m249 11h4m-164 0h2m38 16h4m-144 9v4m258-3v2m-73 15h3m67 10v2m-85 5h3m64 2v2m-289 10v2m264 1v4m38 2h2m26-4v3m19 7v2m-362 2h4m252 3h4m115 15h4m-72-4v4"/>
<path stroke="#c49c94" d="M32 28v3m48 37v3m-3 22v3m38 13v4m73 1v4m-10 27h3m6 46h3m-95 93h2m-14 1v2m-56 34h2m256 17v2m-273 8v3m313-9v4m45 15v4m-311 18v4m284 1h2m-28 7v4m-311 15v4m311 4h2"/>
<path stroke="#ffbb78" d="M87 6h2m-17 8v2m41 18v3m-48-9v2m87 32v3m44 15v2m49 86h2m-99 4v2m-105 114h2m293 15h2m-61 35v2m-235-2v4m55 8v3m284 23h2m-109 38v2m160 8v2m-260 7v2m108-2v3"/>
<path stroke="#ff9896" d="M48 47v3m107 10v4m38-10v2m-133 18v4m7 7h2m59 35v3m16 7h4m-7 23h4m44 51h3m64 5v4m112 69v4m-321 2v4m23-2h3m38 1v3m-103 22v3m54 27v4m249 9h2m97 34v2m-312 35v4m-5-8v4"/>
<path stroke="#f7b6d2" d="M115 21h2m45 10h2m-97 15h3m-9 14h2m49 5v4m38 43v2m65 27h2m-17-3v3m-31 25v4m151 90v4m-7-1h2m-134 21v3m-168 18h2m-2 19v2m373 50v3m12 2h4m24 10v2m0 7h4m-75 6h4m-83 7h4m30 12h3"/>
<path stroke="#aa40fc" d="M353 27h2m-238 3h3m-95 3h3m100 6h4m-7 9v4m-9-4h3m33 32h4m23 58h4m-57 8h4m127 37v4m-83 3h4m143 65h2m-239 36v4m90 0h4m171 3v2m-132 5v4m-127 21h2m18-5v3m302 3v3m-322 13v3m263-1v3m-334 8v2m298 10v3m-228 58v3"/>
<path stroke="#98df8a" d="M244 177v4m0 66v3m77 92h3m-237 53h4m281 2h4"/>
<path stroke="#b5bd61" d="M84 18v3m82 65v2m-43 62h2m17-6v2m1 16h4m-60 125v2m292 15v3m-257 1v3m201 36v4m-284 8h2m310 16v2m-290 2v2m232 20h2m81 14h2"/>
<path stroke="#b5bd61" d="M122 113v2m8 13v2m119 58h4m-17 6h3m23 52v3m148 112h4m-122 17v4m92 4v3m-12 5h3m5 10v3"/>
<path stroke="#98df8a" d="M125 16h2m206 6v4m-274 5v2m-12 4h2m131 79h3m-46 8v3m63 90v3m86 47h4m146 92h3m-154 10h4m-272 5v2"/>
<path stroke="#aa40fc" d="M87 10v3m88 27v4m-40 15v3m63 7v3m-27 6h3m-11 6v2m-52-2h3m76 20h3m3 12h3m-37 11v2m41 24v4m28 50v4m-11 20v3m68 11h4m51 34v2m-254 8h2m-85 23v4m71-7h3m-30 16v2m333 8h4m-371 64h3m28-1v4m328 14h4m-61 15h3m-297 2h3"/>
<path stroke="#f7b6d2" d="M166 53h4m-156-3h3m135 35h4m-81-3v4m34 10h3m1-3h2m99 118v4m-9-8h2m109 29v2m-45 15v4m7-3v2m93 38v4m-22 3v3m-343 1h3m27 17h3m-30 0v2m69 0v2m306 1h2m-376 9h2m404 14h4m-359 22h4m337 17v3m-22 1v4m8 4h2m27 18h2m-303 14v4"/>
<path stroke="#ff9896" d="M340 16v4m-168-10v4m-117 7h4m23 20h2m101 10h3m-2 3h4m-1 9v4m-30 22h2m3 43h4m61 64v2m35 55h2m-161 36h4m243 17h3m-311 15h3m389 43v2m-36 27v4m-31-9v2m-346 5v4"/>
<path stroke="#ffbb78" d="M347 13v2m0 15h4m-197 30h4m-12 20v3m-10 44h2m68 12h2m-10 22h3m-30-2v2m2 125v4m51 21v3m137-6v4m21 11v4m50 23v3m-143 5v2m-283-1v2m88 1h4m-86 17v2m330 16v3m70-4v4m-5 11h3m-253 20h4m-76-4v4m-70 2v2"/>
<path stroke="#c49c94" d="M171 19v4m-118 6v2m14 16h2m6 18v4m63 23h2m47 2v4m-36 11v4m-18 21h4m46 6h3m6 11v4m51 10v2m8 11v4m-2-11h4m-64 17v3m95 30h3m-204 58v4m38 8v4m-4 23v3m-55 8h4m315-5h4m24 41v3m-43 15v4m-66 38v3"/>
<path stroke="#aec7e8" d="M108 6v3m-74 5h4m73 10h4m8 18v4m19-4h2m-76 9h4m71 26h4m-75 4v3m23 8h4m17 16v2m40 7v4m-36 26v3m38-1v2m27 13v3m38 49v3m29-3v2m25 13v3m30 8v4m-39 6v4m-109 9h3m155 26h3m79 20h3m-304 10h2m-14 5h3m300 21h4m-98 18v3m29 9v2m-20-9h3m84 22h4m-295 30h4m163-5h4"/>
<path stroke="#c5b0d5" d="M360 7v3m-328 16v3m141 17v3m-22 8h3m-66 8v3m62 56h2m-34 26v4m61-10v3m2 10v4m-2 3h3m13 10v2m-47-5h4m72 29v4m6-3h4m70 72v3m-265 3h2m24 12v2m97 4h2m-100 0h3m-13 8v2m-48 7h3m102-4v4m289-1v3m-389 6v3m276 14v3m-281 3h2m289 1h4m60 10h4m-9-4h2m-52 4v3m-3-1v3m-11-3v2m-217-3h3m294 6h4m0 8h3m-53-2v4m-241 10h4m256 1v2m26-5h2m-354 6v4m366 10v4m13 1h2m-310 24v3m231 0v3"/>
<path stroke="#e377c2" d="M355 9v3m-218-3v3m8 13v3m-28 5h2m34 4h3m-150 10v3m75 8h4m53 1v3m44 19v4m-63-3v3m-23 28h2m31 3h2m75-4h4m-45 12v4m3 6h2m17 9v2m-4-4v4m32 14h3m-81 20v2m11 2v2m41 6v4m89 24h4m-8 12h4m-145 46h4m74 3v3m-147 12v4m114 0v2m-128 11v4m166-9h2m185 6v2m-310 14h3m274-2v4m0-1h4m-368 16v3m422 8v4m7 8h2m-422 4v3m3 6v2m307-3h2m69-1h2m37 9h3m-62-1h2m-101 6h2m-199-6v4m345 9h3m2 10v3m0-6v3m-137 8h4m2 10h2m-233-2h2"/>
<path stroke="#1f77b4" d="M124 9v4m-52 10h3m99 24h3m-10-2h2m-5 49h3m19 0v4m13 0h2m-41 9h2m26 15h3m-22 13h4m47 18h4m-58 5v2m34 36h2m92 31v2m-8 17h2m-216 26v4m306 15v4m-280 46h4m0 7v3m-64 6v4m10 3v4m-42 5h3m286 5h3m112 10h3m-64 21v3m-271 7h3m328-2h2m-105 11v4m-215 1v4"/>
<path stroke="#279e68" d="M114 7v2m219 8h2m-182-2v4m-15-8h3m-44 5h3m-38-1h4m-13-6h2m-13 4h3m-31-4h2m-10 1h4m13 8v4m14-1v4m22-2v2m46 0h2m6-7h4m21 1h2m2 3v2m24-5h4m-7 13h3m-6 0h4m-108-4h4m-6 1v3m-33 2h3m8 5v2m13-5v3m0 2h2m10-3v3m8 0h2m17-5v3m4 4v2m7-6h2m5 3h4m28-5v4m18 0h2m0-1v4m14-7v4m-9 9v2m-47-5v3m-1-3h4m-18 1v4m-24-6h2m-32 2h3m-3 4v2m-21-1v3m-10-4h3m24 3v2m1 0v3m13-3v2m27 1v2m25-8h4m41 1h3m-1 7h2m39 1v4m-40 1v3m-29-5h2m-13 3v2m-25-7h3m-44 3v2m18 8h4m5-2h3m123-3v2m12 9h3m-48 2v3m-40-3h3m-20-4h4m-7 2v2m-28-4h4m-8 2h2m-4 0v4m-4-3h2m131 17h2m-19 1h2m-75 0v3m44 7h3m65 10v3m-21-8h3m-4 3h4m-63 3v4m-7-8h4m-21 12h2m7-5v2m29-1h3m50 16h4m-77-2h3m-21 5h2m108 7h2m-50 4h4m-6 7v3m26-5v2m-44 14v3m92 2h3m-82 23h4m46 12h3m52 10h3m35 15h4m-65 0h3m-58 9h3m69 4v2m8 2v4m1-5v4m57-5h2m-18 10h2m-20-1h4m-248 11h3m18-7h3m156 4h3m73-5h2m0 2v3m18 0h2m3-3h3m-3 9h3m-40-1h4m-124 5v4m-116-2h4m42 7h4m1-6v3m1-2h3m76 3h2m166 1h2m2 7v2m-153-2v3m-3 2h4m-32-6h2m-109-1h4m-70-1v2m-5 11h4m76 4v2m1-5v2m16-7h2m252 14h2m-250-3h3m-33-2v3m-3-1h3m-38-2h2m-5 1h4m68 9v3m262 3h3m-3 3h2m-268 3v4m-5-5h2m-15 3h3m-15 1h3m-9-3v2m-63 11v2m287 3h4m-7-2h4m-269-2h4m-26 6h2m293 5v2m65-2h2m1-1v2m40 3v4m18 6v3m-143-10h2m-231 4v2m-2-6v4m11 13h4m17-7v4m279 7h4m-48 5v2m-9-10h2m-4 8v3m-25-10v4m-244 2h3m-24 0v4m-7-10v2m-1 3h3m-1 4v4m49 1h2m10 2v4m11-7h4m261 0h2m76 11v3m-6-9v3m-46 2h2m-52-5h2m-229-1v4m-49-1v2m-15-4h3m14 12v4m237-3h3m7 3v2m36-2v4m94-11h4m1 2v4m-352 4h2m-18-2h3m-23 3h3m-12-2v4m-12 5v2m30-2h2m25 0v4m4-4v2m30-2h2m207 0h3"/>
<path stroke="#8c564b" d="M341 6v4m-177 3v2m-15-5h4m-22 4h2m-18-3v3m-79-5v4m111 11v3m186-4h4m-217 4h3m-24 1h4m-95 16v4m39-11v3m18 4v2m37-4v4m7-7h3m10-2v2m59 0h4m-16 10h4m-82-1v4m-10-5v2m-39 1v4m-36 4h4m81 4h3m-2-1v4m30-3v3m31 3h4m-99 7h3m64 11v2m-23 0h2m-11 7h2m9 3v4m27-4h4m8-6h2m-44 7h2m21 13v4m71 2h2m-83 11h2m52 2v4m58 0h4m-62 5v4m-22-8v2m-33-1h3m53 15h2m55 5h2m-78 13h4m19-1h3m62-3h3m-18 8v4m-63-1v2m22 12v2m14 8h3m-2 0h2m64-3v4m-54 6h3m62 10h2m31 15v4m-21 0v4m26-3h4m-26 12v3m-14 5v2m19-7v3m34-3v3m-153 20v4m-87 5h2m-46 1v2m26 8h3m-2-4h2m89-4h4m156 6v2m32 6v3m-139-6v3m-6 3v3m-149-8h4m41 7h2m14 1h3m234 0v4m7 7v3m-4-7v4m-285-2v2m-46 0h4m-28 0h3m-3-3v2m92 6v4m3-1v4m167 7v3m56 4v4m-42 4h2m-191 2v3m195 5h4m11 2v4m11-1v3m29-7v2m88 5v4m-45-3v3m-380-2v4m86 9v2m1-9h2m195-1v2m1 1h3m11-1v2m60 2h3m67 6v4m-54-6v4m-33-4v4m-50 2h2m-7-6v4m-251 1h2m-28-4v3m273 11h3m33 1h3m68-5v2m31 5h2m-36 0h3m-90 5h2m-17 0h3m-23-2h4m-244 4v4m-26-7h2m20 8v3m285-2v3m103-6h2m-127 10h4m-20 3h3m-240-3h4m62 7h3m24 0v2m45-2v3m85-3v2"/>
<path stroke="#ff7f0e" d="M128 8v2m222 3h3m-207 0h3m-74 3v4m-26 2v2m10-6v3m283 4h4m-216 13v2m41-3v4m-85 16h2m102 9h4m-61 11v4m5-5h4m20 5v4m-14-2v3m-17 0h3m-19-3v2m61 14v3m-12 12v3m2-6v3m62 8v2m-49-5h3m-60 41h4m-6-2v4m25 12h2m38 17v3m43 6v2m47 12v4m-45-6h2m-35 32h4m122 19v4m-237 11v2m280-3h3m-289 9v2m-28-6h2m267 11v4m47-5h4m-267 9v2m-99 1v3m363 16v4m-247-12v2m295 20h2m-332-2v4m193 9v2m136-4v2m20-5h3m-9 8h3m-330 4v3m-9-1h4m-89-3v2m32 9v2m367-6v4m22 8v3m-340 1v3m328 15v4m-37-6v3m-6-4v2m-90-6v2m-218 3h4m317 6h3m35 0h4m6 1v2m-46 6h2m-49-1h3m90 12v4m-325 5v3m-5-6h3m-36-1v2m-45-1v3m63 5h2"/>
<path stroke="#d62728" d="M101 8h3m6-2h3m231 0h3m11 6v2m-192-1v4m-2-4h3m-20 1v4m-74-9h3m-11 8h3m-29-7v4m-25 0h4m31 7v2m56-2h4m-2 1v3m53-4v3m188-5v2m1 3h3m13-2v3m-205 9v3m-18-7v3m-28-6v3m-40 0v4m-50-3h3m-7 4v4m-10 1h3m7-4h4m59 1v2m8 3v4m32-9h4m25 6v4m-25-2v4m-2-2h2m-4 2h4m-21 2v2m-9-6h3m-42 5v3m-18-3h4m-31-2v3m-3 2v3m1 0v3m4-7h3m-3 0v4m14 4h4m9-2v4m35-2v2m28-10h3m14 0v3m22 2h3m-2-1v2m36-5v4m11 2h4m-4 3h3m-4 2h3m-11 3v2m-43-4h2m-71 0h2m37 12h3m38-5h3m27 5h2m9-3h3m7-1v2m1-4h3m-10 16v4m-42-10h2m-6 6v2m-39-9v4m-23 1v2m-13-7v2m-2 3v2m-2-2v3m2 4h2m29 2h2m1-2v3m9-7h3m-2 1v3m32-4h4m17 2v3m9 2v3m4-4v2m15-3h4m-2 10h4m-25 0v2m-91 1h4m25 0v4m2-3v2m13 3h2m4 0h2m8-6v4m19-4h4m-2 6v2m28 5v4m-14 0v3m-6-10h3m-86-1v3m38 10v3m17 1h2m66 2h4m-45 5h4m-12 0v3m-1-9v4m-7 4h2m-8 0h4m-13 0h4m-4-1v4m-6-5v2m-18 7h3m-1 2h4m28-2v4m72-4v2m-8 1h3m-28 4v4m-45 5v4m5-8h4m-4 0h4m23 3v4m21-5h2m41 15v4m-13-5h4m-52-5h2m-3-1v2m-42 7v2m53 2v4m39-2v2m8-8h3m-2 5h4m11 10h4m-82 0h4m-5 7v3m20-8h2m9 8h2m9 0h3m7-3h3m-4 13v4m-8 12h2m57 4h2m2 0h4m1-2h3m31 13h2m-19-1h4m4 6h3m5 2h3m10 0v4m-13 9v3m-251-2v2m14 7h2m1-1h3m17-4h3m232 1v3m27 5h2m-3 1h3m-44 5v4m-205-11v3m-54 2h3m-4-1h3m-20 2h4m-17 1v2m-4-9h2m-21 7v3m41 3v3m13-1v2m5-4h2m28 3v4m12-4h2m61-7h4m16 3h2m136-4h4m24 13h4m-13-4h3m-21 8v3m-124-4v2m-28-8h2m-9 3h4m-71 2v2m-5-7h4m-24 5h4m-22-6v3m-6 4h4m-5-4v4m-11-1v3m-26-8v2m-19 2h2m-2 8v3m0-1h4m80-4v4m121-4h4m159 6h2m21-5h2m12 11v3m-320-2h2m-62-6v3m-2 4h3m-6-2v2m-1 0v2m-9-4v2m-9-3h3m64 12h3m0 1v4m13-10v2m5-2h2m0-1v2m19 4h3m257-4v4m45 0h2m3 1v3m-4-1v2m-8 3v3m-88-4h3m-224 0h4m-20-3h2m-81 1v2m19 11h3m243-1v3m1-3v4m1-3h2m1-5v3m103-4h3m1 3v3m0-2h2m23 3v2m24-6v2m0 11h3m-87-3h3m-39 1v3m-29-3h3m-193 0v2m-56-1h4m-32-5h4m-5-1h2m9 15h4m62-2h4m195-2v4m2-2h4m30-1v2m11-1h2m97 2v3m2 1h2m-3 1v4m-66-3h3m-67-2h4m-15 6h3m-230-8h4m-58 2h4m21 12v4m25-6v4m11 1v3m204-3v2m26-7h4m23-3h3m58 10h3m-10 4v2m-30-5v2m-18-2h4m-31 4v2m-304 4v4m58-5v3m261-5v4m23 1v2m-5 5v4m-10 0h4m-20-7v3m-9-1v2m-21-1h4m-233-1v3m-2 1v3m-2-6h3m-27 2v3m-24 1h4m1 0v4m4 2v4m16-10h2m24 6h4m44 2h4m179-8h4m5 8h4m45-2h2m-2-6v4m-243 13v2m-49-5v4m-18-6v4m-4-1v4m3 0h3m4 0v4m15-4h2m31 0h3m20-1v3m15-2h4m5 0v3m31-3v2m143-2h3"/>
<path stroke="#17becf" d="M17 8h4m18-2h4m-3 0v3m50-3v2m65-1v3m182-2v2m-4 3v2m-162-5v3m-23-1v4m-32-6v4m-16-2v3m-5 1v2m-1-2h3m-48-7h2m-33 0h3m-7 5v3m24 5v2m12 0v4m84-7v2m8-2v2m208-5h3m-257 12h3m-4 0h4m-43-2h3m-20 2h2m-25 4h2m-3 1h4m-8-2v3m-5 3h3m-3 2h2m38-1v4m10-7v2m30 3h3m0-6h4m14 7h3m0-5v4m18-4v3m2-2v3m8-2v3m13-3h4m25 6h4m-6 2v2m-32 3h4m-19-6h2m-26 1v3m-4-3v3m-24-6h4m-45 7v3m3 3v4m101-1v4m15-4v4m24-7h4m7 9v3m-2-3v3m-6 0v4m3-1v3m3-3v2m4-3v3m-43 14h4m-30-4v4m-18-5v3m-20-2v2m-10 7h4m27 4v2m0-5v2m2-4v4m11-2h3m4 0v4m37-7v2m-2 11v4m-25-9h3m-11 4h3m-23-3h4m-22 0v2m-5 3v4m48 3h3m27-3h3m10-2h2m8 4h2m35 12v2m-43-5h3m-26-2h3m-13-1v4m14 5h4m40 7v2m5-2h3m-1-4h3m-6 12v2m-12-4v2m-62-7v4m-3 2v4m0 4h3m13-1h2m0 3h2m1-1h3m26 8v3m-12-3h3m-52 0v3m7 7v2m27-7v2m23-2v2m34 11h2m-11-1h4m-18 4h4m-40-8h3m-6 2h2m-8 2h2m-5 2h3m3 9h4m1-3h4m2-3h4m7 3h4m7 4v4m55 1v4m-3-6h3m-4 7v2m-11-2v4m-38 5h4m0-8h2m10 6h3m12 0v2m49-7v3m-29 7v4m-23-4v2m-10 1v3m-19 9h2m93-4h4m10 6h2m-6 4v2m-23-7v4m-8 6v2m44 1h4m-135 14v3m126-2v3m31-2v2m20 13h3m-48-3h3m-242 0v3m7 5h2m0-1h2m264 1h3m6 0v2m31 11h4m-19-6v3m-31 1v4m-149-6h3m-27-2v3m-32 2v2m-39-7h3m-48 6h2m-8-6h3m-23 13v3m36-9v2m12 3h3m3-4h2m-2 4h3m-2-4h4m32 1v3m45 2v3m218-9v2m-20 8v2m-132 1v3m-5-7h2m-28 5h4m-13-1h3m-122 0v2m-5-7v3m-49-1h3m2 13h2m7-3v4m3-5v4m52-6h3m90 1h2m59 4h3m126-5h4m-1 4h4m33 3h4m-286 9v3m0-6h3m-75 2h3m-41-1v3m0 3h2m15 2h3m8-1v4m24-3v2m18-3h4m29-2v2m256 2h4m11 3h4m29 5v3m-35-5v4m-51 1v2m-38-5v4m-13-1v4m-220-9h3m-39 6h2m-12 1v4m6-4v2m12 3h2m0-4v4m28 1v3m17-7h2m0-2h2m197 2v2m20 1v4m133 5h2m-72-3v2m-59-1v2m-2-5h2m-2 5h2m-16 0h3m-194 3v2m-35-8h2m-37 10v4m22-2v4m246-7v3m18-2h2m9 0v2m87-1h3m-2 1h4m1-4v3m17-4v4m-80 6v2m-58-1h3m-246 3v3m-27-3h3m-13 0v2m-2-3h3m4 5h2m3 6h3m9-5v2m1 1h3m22 2v3m225-5h3m0 0v2m40-2v4m96 5v2m-26-4h4m-31 5v2m-19-3v3m-10-2v2m-37-5h2m-268 10h4m27 2h4m15 1v2m230-6v3m4-6h4m5 5v3m3-3h4m0-2h3m25 1h3m37-2h4m14-2h4m-2 4h4m3-5v4m-101 7h4m-253 6v4m-1-6h2m-30-1h4m-14 2h4m-12-1h3m-5 2v3m-25-7v4m2 5v2m2-3v2m11-3v2m14-3h2m10 7v3m220-5h4m5-3v3m6-2v3m7 0h2m5-3h3m41 3h4m-1-7h4m-3 3h3m15 0h3m-2-1h2m44 2v4m-93 8v4m-5-8h3m-15 3h2m-33-4v2m-2 2h2m-201-5v2m-17-2v3m-1 0v3m-15-4h3m-8 2h3m-2 5v3m23-3h4m96 0v2m0-2h4m99 0v2m26-2v4m8-5v4"/>
</g></g>
<g clip-path="url(#cq21)"><g id="d9" transform="translate(697.1,173.9) scale(0.25)">
<path stroke="#461264" d="M158 6v2m12-2v4m2-4v3m2-3v2m179-1h4m1 1v2m3 2v2m-4 1h3m-3-1v4m-20-6h4m-166 6h4m-2 4v3m156 0v4m-141 23h3m-9 6h4m-75 79h4m15 18h2m78 23h2m-4-3v3m-58-7h4m-8 3h4m-5 8h4m2 2h2m89-1h3m0 1h4m1 1v4m-58 6v2m-5-7v2m-1 1h3m-5-3v4m-5 2h2m-7 3v2m2 0v3m0-4v4m19-5v4m8-1v2m1 2h2m-1-4v3m1-4v3m3 0h4m16-3h3m27 1h3m-3 2h2m0-2h2m-8 6v4m-1-2h3m-31-2v4m-2 1h2m-3-6h3m-14 10v4m3-5v2m7-2v3m41 0v4m9 0v2m32 5h2m-30 0h3m-10 2h2m-7-7h4m-58 4h3m58 5v2m40 1h3m-31 6h4m-18 6h2m-55-4v4m-1-3v3m-26-2v4m-11-6h3m-45 7v4m59 4h4m27-2h4m0-4h2m3 2v2m13 1h2m4 0v3m13-9v4m-42 12v4m-5-5v4m-159-8h2m-40 12v3m105-5v2m71-3h3m164 8h4m-166 3v3m-5-6h2m-12 3h2m-21-2h2m-131 3h4m-6-2v3m-1 1h3m-5 0h2m-3 0h2m-7-6v3m-19 3h2m-4 4h4m25-3v3m127 4h3m202-4v4m3-1v4m1-8h3m-2 7v2m-157 6h4m-8-6h2m-34 5h3m-24-1v4m-146-3h3m-7-2h2m-11 9v4m8-7h3m-1 0v2m2-4h3m328 1v3m6-2v4m-311 7h3m-6 4v3m-15-10v4m-4 1h2m-2 8h2m342-4h3m1-1h3m-3 5h2m42-1h4m-2 4v4m3-1h4m-7-1h3m-7-1h2m-86 4v2m-30-4h2m-21 0v4m-248 1v2m-3-3v3m-2-3v4m-2-4h2m-20 0v4m0 5h3m14-3h2m7 2h2m7-1v4m0-8v3m2-1v2m275-3v2m23-1v2m3 0v2m92 4h4m-24 4v3m-1 2v3m21 27v3m0 1v2m-44-5h4m-126 1h3m-2 3v2m160 5h2m3-6h2m-2 5v4m0 3v4m-37-8v2m11 7v4m2-2v3m2-2h2m-239 12v3m-7-5v3m-4 0h3m-139 0h4m-6 0h4m-11 3h3m-2-1h2m2 1h4m38 0h3m60 0h3m-3-1v4m19-3v2m29-2h4m95 0h4"/>
<path stroke="#44347e" d="M15 6h4m-2 0h3m132 0v2m7-2h2m11 2h4m-3-2h3m158 2h4m3-2v2m2-2v4m0-4h4m-3 0h4m0 0v2m6 7v4m-18-8v3m-170-4v2m-3 1v2m-15-1v4m0-5v2m-5 1v3m-2-4h4m-17 2h2m-2-8h3m-24 7h3m-91-6v2m-4 0h3m-5-1h4m-7 1h2m-5-2h3m117 13h4m5-4h4m0 0h4m-1 2v3m2-6h3m-2 6v3m0-3v4m9-3h2m0-2v2m195-1h2m-3 3h4m-9 4v2m-179-2h4m-16-1h2m-11 3h2m-3 1v3m-4-9h2m-119 7v2m-16-8h2m11 9h4m107 4v2m2-1v2m2-2v3m10-5v2m23-2h3m-2-1h3m-3-4h4m-1 4h4m-3-4h3m-1 2v4m1-2v3m2-5v4m0-5h3m5 16v2m-181-9v2m0 13h2m1 1h4m-4 0v2m1-5v2m4-4v2m1-4h3m113 3v2m54 1v3m1-10v4m1-3h4m2 6h2m6 3v4m-5-5v4m-10-3v2m-3 5v4m-15 2v4m7-1v4m2-5v2m1-2v3m18-10v2m2 1h4m-3 5v3m4-3v4m1-11v2m3 2v3m1 0h3m1 2v2m-3 1v4m-2-5h3m-4 0v4m-14-2h4m-34-4v3m-37 4v2m-6-3h4m-31 9h3m2 1v3m17-10v4m87 2v2m1-2v2m1-4v2m3 3v2m-1 4v2m-4-6h2m-3 2h3m-115 3v3m-7-10v2m14 14h2m23 0v4m4-7h3m11 1h4m-2 0h2m-1-2h3m-1 3h3m0-1v2m77 3v2m-56-2v2m-10 3h3m-9-3v3m0-3h2m-5 3v4m-2-6v4m-1-4v3m-4-5v4m-7-5h4m-10-1h4m-5 4v3m-10 1v3m22 5v2m5-3h3m0-7h3m-1 8v2m2-10h2m-2 2v3m3-3h4m-3 1h2m7 1v3m0-7v4m3 2h2m-16 11v3m-3-11h2m-4 2v4m-2-1v3m-8-3v3m-4-3h3m-5 3v2m-1-9h2m-2 4v2m-3-2v3m-15-7v3m7 6h2m6 0v2m2-1h3m4 3v3m2-6h4m-4 5v2m3-6h3m12 0v4m19 10h2m-13-1h4m-11-1v4m-6-3v3m0-3h2m-5-3v3m-4-1v2m0-1h2m-8-7v3m-15-2v2m2 9v2m8 0v2m1 1v3m10-11h4m-1 2h2m2 5v3m3-3v4m18-9v4m2-3h2m3-3v3m0 0h2m-2-1h2m20-1v4m23 3v2m9-8h3m8 3v4m1 5v2m-2-5h3m-3 4v4m-1-5h3m-24 2v3m-3-6v2m-3 2h3m-16-4v2m-13 2v2m-25-8v4m-7-4v4m-2 1v2m-5-5v2m-5-1h2m-6 0h2m-10 2v3m7 3h4m-1 3v4m3-8v3m2-3h3m0 1h3m3 1h3m-2-1h3m5 3h4m12-2v3m2-4h3m2 4h3m-2-7h2m1 1h2m0 0v3m2 3v4m1-5h3m0 1h3m9-7h2m-1 3h3m0-4v4m0-3h4m0-1h3m-1 7h4m-3-4h2m9-2v2m1-1v4m0 0h4m-2-4v4m1-3h2m-2 5v4m3-9v4m2-2v3m1-1v2m1-2v2m11 7v2m0-9h3m-4 2h2m-3 3h2m-21 1v2m-9 0h3m-4-2h3m-9 0h4m-14 2h3m-10-5v3m-5 1h4m-4-7v2m-6-1h3m-9 4h4m-8-5h4m-5 4v3m-10-3v4m-1-1h3m-8 2v2m5-1h4m0 4h2m6-5h3m0 0v4m2 0h2m5-4h4m-4 3h2m10-2v4m9 3v2m1-4h4m6-1v4m4-3h3m2 2v4m19-5v2m6-9h4m-4 1v2m2 3v2m1-3v2m4-2h3m-2-1v2m2 0h3m5 8v2m-5 1h2m-19-4v3m-4-4v2m-18-5v4m-10-3v3m-4-1h3m-5 0v4m-1-4v4m-9-3v4m-13-5v4m-2-4h3m-6-2h4m-8 1h3m39 8v2m14 2h2m4-2v2m5 1v2m15-1h2m2-5v2m6 2h3m5 2v2m18 3h2m-6 2v4m-1-6v4m-2-5v2m-3-1v2m-3-1v2m0-7h3m-4 0h4m-7 3v4m-8-1h2m-4-1v4m-28-7h3m-4 0v2m-4-4v2m-1-1v2m-1 2v2m40 5v2m5 0v3m3-4h3m1 3h3m-1-2h3m0-3h2m4 6v4m1-7h2m2-3v4m2-5h4m-12 14h3m-3-2h4m-20 0v3m-1-6v2m-16 4h2m-3-1h4m-8-1h4m-7 1h3m7 6h3m-1 0v2m2 2h4m-2-1h2m-1-4v3m0 2v2m64-2h2m-67 2h3m-3 1v4m-197 2h4m-7 1h2m-6 0v3m-4-3h2m-5-2h3m-4-2v3m-1-1h4m-6-1v4m-6-4h2m-35 11v4m9-6h2m-1 3h4m13-1v4m5-11h4m1 1v4m2-5h2m-1 7v3m1-5h3m10-2h2m21 0h3m2 2v4m0-5v3m1-5v3m20-1v3m2-3h2m0-1v4m1 1v3m19-3h2m3-1h3m198-2v4m3-6h2m0 4h3m2 2h4m-6 3h3m-185 5v4m-4-5h4m-10-3h4m-11-1h2m-5 1h4m-8 0h4m-8-4h4m-5 1h2m-89 5h2m-4-6h3m-4 1v2m-2-1h3m-5 1v2m0-1h2m-17 1h2m-3 2v2m-8-7h3m-3 1v2m-4-5h3m-6 0v4m-5 1v4m-20 5h2m6 3v3m3-3v4m1-9v4m20-3h3m7 1h4m8-5h3m3 2v3m6 3h4m61-1h4m11 1h3m0-2v3m17-9h4m-4 7h4m199-3v3m-1 10v2m0-2v2m-15-2v3m-10-9h3m-5 1v2m-129-1v2m-8-3h4m-5 2v2m-1-3v2m0-2v2m-17-2h3m-6 2h3m-4-2v2m-3-1v4m0-5v2m-5-6h4m-5 3v2m-2-3v3m-8-5v4m-2 2h2m-8-3h4m-5 5h3m-75 0v3m-21-8v3m-1-4v4m-3 1h2m-6-4v4m-1-3h3m-25-4v3m-11 4v3m-3-2h4m-6-8h4m-5 5v2m-12-7v3m0 14v4m1-12h2m-2 3v3m0-6h4m13 4v4m3 0h2m5-7h3m0 0v3m11 3v4m4-8v2m2-4h3m-1 4v2m2-4h3m0 1v3m8-5v3m5-3v3m140-4h4m4 2h3m134 4h4m11-5h3m-3 6h3m-3-7v2m0 0h2m0-3h4m17 7h4m1 3h3m-31-1h3m-8 4h3m-10-4v4m-1 1v3m-5-4v2m-269 1h3m-6-1h3m-10-4v4m-6-6v4m-7-3v2m-7-3h4m-11 7h4m-9 0v3m-2-6v3m-3-3h2m-4 4v4m-1-11h4m-9 5h2m-5 0v2m-3-4v3m-4-2h3m-11-3v2m-6 3h3m-4-4v3m-1-6h3m-3 13v3m25-7h2m2 2v3m0-5v4m1 0h3m8-1h4m-3 2h2m3-4h3m-2-1h4m4 6v3m20-9v3m4-2v3m4-3h2m4 6v2m25-3v2m245-6v2m4 4h4m-1-2v3m11-4h4m11-3h3m11-1v3m0-1v2m4-4v4m4-1h4m-4-2v4m6 7h2m-5-1v2m-2-1h4m-12-2v4m-3-1h3m-33-2v4m-4-7v3m-50 5h2m-29 0h3m-8 0v3m-12-7h3m-5-1v3m-4 0v2m-4 0h3m-181-7h2m-21 3h4m-7 0v2m0-3v4m-11-7v4m-1-1h3m-16 5h2m-4-5v3m-2 2h4m-18-3v4m-4-8h4m-4 3v4m-2-4v4m-3-6h4m-4 0v2m-8 3h3m-10-3h2m-2 8v4m1-1h2m-2-5h4m-3 1v4m2-3v4m1 0v4m7-11v3m6 3h3m-1-1v2m4-5h4m3-2v2m7-1v2m14 2v2m5-1v4m10-6v2m0-5v3m0-3h4m-2 6h4m195-6v3m43-3h2m5 2h2m14-2v2m2 0v4m9 0v2m37-3v3m27-7v2m4 0h4m6 4v4m2-9v2m3-1h3m-1 1v4m0-3h3m-3 1h4m-4 0h3m-3 5v4m0-6h4m-4 3h4m-5 0h4m-8 3h3m-10-2v2m-10-4v4m-46 0h4m-8 0v4m-2-5v3m-6-8h4m-12 2h3m-4 1v3m-62-4h2m-5 0h2m-189 1h4m-27 0h4m-17-2v2m0-3h2m-4 1h3m-25 1v4m-1-5h4m-16 2h4m-11-3v4m-3-5h3m-3 5v4m6 1h2m-1 5h4m17-6h2m247 5v3m2-5h4m-4 2v3m7-5h4m6 0h4m13-1h2m-2 0v4m5-5h3m27-1h4m7 0h4m34 1v3m3 3h2m19-1v2m3-2v4m0-5h4m-4 5h4m-5 2h3m-6 0h3m-34 3h4m-67-2v3m-34-4v4m-2-2v2m-237-3v3m-2-2v2m-11 0h2m-4-5h3m-4-1h2m-2 3v3m-1-3h3m-28 7v3m2-2v4m3 0h3m28-6v3m4 0v3m217 0v3m2-2v4m11-11h3m22-1v4m64-1h3m-1 4h4m10-6v3m2 2h2m-2-2v4m5 0h2m-1-1h4m22 1v2m3-3v3m1 3h3m-3-4v4m-1 3v2m-3-3v4m-1-2h2m-3-1h2m-11-4h3m-9 3h2m-8-2v2m0-3h3m-4-3v4m-1 4v3m-1-6h2m-9 2h2m-8 1v4m-20-7h3m-99 0h2m-212-4h2m-24 11h2m-1 3h4m0-4h3m16 2h4m212 2v4m79-6v4m1-1h4m23 1h3m-1-4h4m1-2h2m-1 6h3m-3-5v3m1 0v3m1-3h3m-2 0h3m13-1h4m-3-5h4m-3 5v4m15-9h2m-2 0v3m-6 7v4m-4 0h3m-11 3h2m-5 0v3m-11-5h3m-4-6h4m-12 0v4m-5 4h4m-11 0v3m-81-5h2m-17-1h3m-20 3v2m-202-10h3m-8 1h2m-3 4v2m-46 0h2m-9-1v3m-1-5v3m0-1v3m2 3h4m1 1v4m0-3v2m11-3h4m1 4v3m3-9h3m11 3v2m3-3v4m5-7h4m218 1v4m3-5h4m10 4h4m-3 3v4m2-4h4m80-7h3m23 2h2m7-2v3m0-3h2m-1 3v3m18-5v2m0 3h3m-3-3h2m-98 10h3m-6 0h3m-43 0v4m-2-7v4m-2-6v2m-1 0v3m-18-3h2m-124 5h2m-40-1h2m-43-5h3m-5 4h3m-4 1v4m0-4v4m-5-3h2m-17-1v2m-5-1v2m-7-4h2m-5 3h4m-6-6h4m-4-1v2m-15 5v4m-4-8h3m-3-4v2m-1 4h2m-9 4h3m-3 0v3m0-3v3m0-3v2m15-2v3m4-3h3m7-1v3m6-2h2m22-1h2m2 0v3m0-2h2m31 0h3m-3 0v3m31-3h3m-2 0v4m2-4v2m10-2h4m-3 0v3m0-3v4m6-4v2m5-2h3m4 0h4m86-1v4m6-3v4m4-4v2m12-3h2m3 1v2m1-2v2m0-2v3m2-3v4m5-5h2m16 1h4"/>
<path stroke="#3b528a" d="M7 6h2m-1 0h2m4 0h4m13 0v3m2-3v4m3-4v3m1-3v2m69-2h4m-2 0h2m44 2v3m21 4h2m-14-1h3m-4 3h4m-7-5v3m-1 2v4m-1-11v4m-5 3h2m-19-1v2m-6-1h2m-3-7v4m-4-4h4m-8 3h4m-7 4h4m-18-6v2m-49 0h2m-38-3h3m-13-1v2m15 7h2m78 4v3m1-6v2m2-2v3m8 2h3m4 1h2m21-3v2m4-3h4m2-1h2m5 3v4m194-7v3m-186 7h4m-10 2v2m-1 0v4m-8-6h3m-5 3v4m-9-5h2m-2-1h2m-29-2v4m-3 0h4m-5-8v3m-36 2h4m-5 0h3m-47-4v4m-19-4v3m-2 12v2m2-5h3m0 1h2m-2-2h2m2 0h3m100 2v3m15-8v4m1 3h2m-1-2h2m1-4v3m0 0h2m-1-2h2m3 6v3m9-9h2m-2-1h3m17 4v4m6-4v2m-11 3h3m-26 0h3m-6 2v3m-6-5v4m-20-3h3m-81 2h4m-34 0v3m-2-4v3m-2-5v4m-2-5v4m0 9h4m11 0h2m13-4v4m55-3v4m1 0h3m-2 1v2m36-2h4m17-3v2m2 2h2m13-5v4m16-3h3m12 4h3m2 7h2m-11-3v2m0-4v3m0-1v3m-4 3v4m-3-8h2m-35 1v3m-31-6h3m-4 3v3m-6-5h4m16 6h2m30 8v3m1-5h4m3 1h3m2-2h3m9-4v2m3 2h2m0-3v2m7-1v2m1 8v4m-14-4v4m-14-8h2m-14 4h3m-11 3h3m-18-3v3m-12-7v4m-5 2v3m-35-1h2m-12-6v2m-17 0v4m10 6v2m7 0h2m-2-6h3m25 2v4m1 0v2m2-2h3m-2-3v4m1-8v3m56 1v4m8-3h2m10-2h4m-4-1h4m-3 2v3m34 10v3m-21-5v2m-1-8h2m-25 2h4m-14-1v3m-3 1h4m-8-1h4m-6 3v3m-22-4h4m-30-1v4m-5-8v3m-8-1h2m-21-1h3m-6-2h3m55 11v3m4 2h2m0-1h4m5-5v4m2-4v4m4-4h2m2 0h2m2-1v4m8 3v4m0-9h4m12 0v4m2-5v4m2 1v4m1-6h3m1 3h2m29 9h3m-39-5h3m-40-1v2m-3-3h4m-8 5v3m-4-1h2m-8-2h4m-11-2h4m-11 3v3m-5-5h4m-6 6h3m1 2v3m6-2h4m-1-3v3m17-3v3m8-3v3m21-1v4m50-7v2m-57 7h4m-10 3v4m0-1h2m-7 1v3m-8-10h4m-13 1v3m-2-3v4m-4 3v4m-2-12v2m-1 4v3m-6-4h2m-9 4h3m26 2h2m6 2v4m12-2v2m2-1h2m15 1h4m29 4h2m-21 5h3m-46-4h3m-35 2h3m27 7h3m0-4h3m4 6h2m8-3h2m3-3v4m19-3h2m19 1h3m2 2v4m13 0v3m-44 4v3m-1-2h4m-11-7h3m-9 2h2m-3 1h2m-4-3h4m-5 3h3m-8-2v3m-2-2v2m-26 3v2m-2-2h2m-3-2h2m-9-5v4m31 5h4m12 5h3m0-2v2m0 2h2m2-6h3m7 1v2m0-4v3m4 4h3m19-7h3m9 7v4m19 6v3m0-8h4m-13 0h2m-2-2h2m-4 2v3m-1-6h3m-68 4v4m-4-7h4m-7 7v3m-3-4h4m-3 2v4m86 0v4m-8 11h2m37 4h2m1 0v4m0-2v4m2-2v4m-6 3h4m-21 1v2m-18-10h4m2 12h3m-1 4v2m39-2h2m0-5v4m2-5h4m8 7h4m0-1h3m-17 2v3m-24 5h2m-18-7v3m15 5h4m-3 4h2m0-1v2m0-4v3m12 3h2m34-4v4m1 1v4m4-9v3m-16 3h4m-16 8v2m-233-2v4m-25 4h2m39 1v3m15-5v2m1-3v3m2-3v4m16-3v3m7-3v2m210 3h4m-5 5h2m-38-5v3m-137-1v4m-1-1h2m-16-7v2m-17-2v2m-6-1v2m-19 3h4m-27 2v3m-10-4h3m-15-7h2m-3 6h3m-3-5h2m-4 7h4m-14-1v4m-17 4v4m16-10v2m3 6v3m0-10h3m-1 1v4m1-1v4m13-9v4m32 1v2m2-3h3m3 2v2m0-5h4m0 0v4m3-4v3m1 0h3m45-3h2m8 0h3m-3 0h3m-3-3h3m1 7v2m6-7h3m136 3h3m-2-1v2m1 0h4m5-2v4m19-4v2m-4 4v2m-5 2h4m-16 1h4m-4 1v4m-1-9v3m-176 1h4m-6-1v4m0-9v4m-47-1h4m-25 2v3m-26-6v2m-24-3h2m-3 0v2m-2-3v3m-20 1h3m19 10v4m0-3h3m11-2v4m6-1v2m11-5v2m10 1v4m3-10v2m0 2h2m0-2v4m2-7v2m0-1v2m3 3h4m-2-3v3m1-2v2m27 2v2m4-5v4m255-1v4m25-5v3m-25 6v3m-7-5h2m-252 0v3m-1-1h3m-7-5h4m-30 2v3m0 1v3m-8-4v2m-42-9h4m-29 7v2m-1 8h3m-1-6v3m9 2h4m0-1h2m-2-2v2m33-1v2m11-2h3m-1 0h4m8 3v2m8-8h2m5 3h3m267 3h3m3 1h4m-8 4v4m-83-6v2m-9 1h3m-169 3h4m-5-4v2m-34 2h2m-19-8h3m-51 5h3m-10 9h3m3 3h3m20-7v4m35-5v3m0 1v3m8-6h4m7-1v3m1-1v4m7-4h2m180-1h3m43 5v3m7-6h2m73 5v3m10-9h4m5 2v3m7 8v3m-1-3v2m-80-1h2m-5-1v4m-2-6h4m-6-2h2m-32 6h3m-11-1v3m-3-6v2m-8-5v4m-1-4v4m-4-3h2m-3 2v4m-9-8h3m-186 8h2m-5-3v3m0-6v2m-18-2h2m-66-2h3m-6 1h2m-3 6v3m-4 2h4m-4-3v2m0 5v4m14-11h3m-3 4h4m13-4v3m2 4h3m-3-3v3m2-2v2m6-3v2m1-1v4m2-1v3m6-4h2m19-7h2m-2 1h3m18 1h2m184 3h4m5 2v2m9-6v3m4-3v2m13-1h4m2-1v3m20 1v2m6-6v3m11-6h4m0 3v2m1 3v2m0-5h4m61 11h2m-48-1v3m-13-8v2m-23 3h2m-2 0v3m-8-9v4m-14 3v4m-2-4v4m-5-11v2m-28 1v3m-228-3h3m-14-3h3m-40 4h3m-8-2h4m-5 0v3m8 4h3m35 4h3m7 3v2m22-6h4m0-1h4m6 1v4m184-7v2m3-1h2m-1 3v3m6-5v4m8-2v4m22-4h4m2-1h4m-1 1h2m24-4v4m8 4h4m23-6h2m-1 6v4m6-8v4m23-5h4m-7 9v3m-4-2h2m-10 2v2m-3-5v3m-9-1v4m-13-4h3m-9-2h2m-9-3h2m-4 1h2m-4 0v3m-14-3v4m-8-4h4m-6 2v3m-1-5h4m-8 7h2m-27-4h3m-18 0v4m-27-6v2m-193 1h3m-15 2h2m-49-3v3m29 6h4m-3-1h3m1 2v4m237-9v2m3 0h3m17 4h3m9-5v2m22 3h3m7 0v3m3-6v4m2-1h2m16 2v2m2-3h4m5-2h4m5-5h3m3 3h3m-1-3v4m8 0v3m3-1h3m-2 1v2m-3 1h2m-24 6v4m-24-6h3m-7-1h3m-7-2h3m-76-1v2m-4 1v4m-220-6v4m-14 1v3m-1-5h4m-24-2v2m-25 0h2m-5 4v2m0-2h2m19 5h4m0 0h4m-3-3h4m4 0h2m7 4v2m5-8h3m-2 6h2m48 0h4m155-2v4m0-5h4m1 2h4m4 0v3m0-2h3m0 2v3m1-4v4m2-11h4m58 3v4m37-5h2m46-2h3m0 2v4m-96 10v4m-5-6h3m-19 3h3m-7-3h3m-14-4h2m-9 5h2m-3-4v2m-15 3h4m-5-1h3m-172-1h2m-2-3v3m-10 3v3m-20-3h4m-4-1v4m-1-6v2m-7-4v2m-15 2h4m-18-7v4m-1-4h4m-7 4h3m-4 1v3m0-1v4m-23-10v3m38 6v3m6-3h2m21 0v3m7-3h3m0 0h4m-3 0h2m1 0h4m4 0h2m157 0v3m3-3v2m1-2v4m3-4v2m17-2h3m17 0v2m16-2h4m-2 0v3m1-3v4"/>
<path stroke="#306c8e" d="M35 7h3m0 0v3m2-4h3m49 0h2m16 0h4m-3 0v2m50 9v4m-2-10h4m-24-1v2m-3 1v2m-3-4v4m-10-2h2m-4 4h4m-12-1v3m0-6v3m-2-4v2m-1 3v4m-73-5h3m-34 7v4m10-6v3m4-2v2m1-5v3m1-3h3m5 2v3m1-4v2m16 0v4m5-6v3m3 1h2m43-2v2m10-1h2m3-5v4m46 4v4m3-7h4m-5 7h3m-25 4v2m-20-1v4m-4-9h4m-6 2h4m-6 0v3m-1-3v3m-1 0v2m-5-10h4m-5 2h4m-29 4h3m-7-2h4m-5 0h3m-20 2h2m-9-4h4m-7-1v3m-11-4h2m-31 16h2m4-2v3m21 0h4m0-2h4m-2 0h2m20-5v2m50 1v2m2-2v2m12 1h3m1-2v2m2-1v4m0-5v3m21-4v4m5-7h3m16 5h4m-8 7h2m-10 2h3m-33-5h2m-7 6h4m-9-7v4m-87-2h4m-23 6h4m-13-1h2m-6-5h3m-4 1h3m7 10h3m114 1v3m11-5h3m1-2h3m4 3v2m9-4v2m-25 10v3m-15-4v2m-45-2h3m-51-1h4m31 10v3m1-4h4m0 1h2m6-4v2m73-2v2m6-2h3m14 6v3m12-2v3m6-5h2m0 1h2m12 6v3m-21 1v3m-10-10v2m-7 2h2m-7-1h2m-2-3v4m-31 4h4m-16-7h2m-7 7h3m-4-5v4m-2 0h2m-10 0v4m-16-3h2m-4-5v4m-4-2v4m-1-1v4m-9-12v3m30 7h2m28 5v2m20-5h3m6 0v2m0 3v3m36-3v4m-21 1h3m-10 1h4m-6-2v2m-22 2v3m-36-1h3m23 0h3m6 0v3m12 2h2m5-3v4m16-2h3m16-2v2m7-1h2m0-1h2m-27 14h2m-13-6v3m0 4h2m-11-7v4m-2 3h4m-7-4h2m-8 1h3m-30-4h3m-5 0h3m-7 4h2m8 7v4m41-5v4m50 9h4m-6-6h4m-30 7h4m-13-5h3m-6-1v4m-5 0h3m-30 6h3m21 2h4m8-3h4m-1-1h4m16 3h3m0 3v4m15 2v4m-5-4v3m-1-1h4m-26 0v4m-9-1v2m-19 6v3m10-5h3m14-4v2m-22 6v4m135 65v3m-29 8v2m16-1h2m27 4h2m13 4v3m-12-1v2m-7-2v2m-259 8v4m38-2h4m12 2h3m2-1h2m179 2v3m0-2v3m20-11h2m22 1h2m-45 8v4m-187 1v3m-1-1v3m-2-5v3m-49-2v3m4 6v2m3-1h2m9-1v3m7-8v2m3-3v2m4 4v3m9-7h3m3 2h3m197-2v3m7 0v3m12-2h2m0-1v4m1-5v2m1-6v4m0 6v2m-180 1v3m-4-3v3m-30-2v3m-17-2h3m-23 0v2m-7-7v3m-3-4v3m14 10h4m20 0h2m2 5v2m-4 6v4m-14-4h4m-11-2v2m-7-7v2m-12 6h4m4 3h3m2 4h4m13-2v2m6 10v3m-6-4h2m-12-3h3m-9-4v3m0-2v2m-9 12h2m26-6h4m167 3v2m3 0h4m16 7v2m0 0h3m-7 1h4m-196-6v4m-32 2v3m-66-4v3m28 2v4m4-1h2m53-2v2m206 4v4m10-11h3m30 2v4m3-6v3m2 3h3m29 8v4m-7-9v4m-3-4h3m-26 2v4m-11 0v2m-16-7h3m-262 1v3m-19-6v2m-24 0h2m-4 5h2m-2 10v2m13-2v3m30-11v4m44-2h2m196 6v3m2-9h3m5 5v2m21-8v4m11 3v2m28-4v3m50 0v3m-8 2h3m-8-1v2m-5-4h2m-24 1h2m-4-1v3m-1 1h2m-9-5v4m-31 1h2m-22 0v3m-3-1h3m-7-2h4m-10-3h2m-2 2v4m-216-9h4m-6 5h4m-13 1h3m-8-3h2m-13 5h2m-32-8h4m-9 5v2m-3 4h2m42 4v3m5-2v4m238-3v4m0-5h3m2-3v2m2-6v2m9 6v4m7-7v4m13-6v3m35 2v4m-21-3v4m-18 2h2m-10-6h4m-6 3v3m0-4v2m-3-2h4m-13-1h2m-3 1h2m-2 0v3m-9 0v4m-20-4h3m-194-4h2m-17 7h4m-13-6h3m-34 3v3m-1-1v4m-8-9h3m-25 2h3m3 6h3m11 1h4m234 1v4m51-3h3m15-4v4m31-2h4m-39 15v2m-2-3v2m-2-3h4m-24-6v3m-2 0v3m-4 2h3m-6-3v2m-219 1v2m-8-8v4m-40-2v3m-27 0v2m69 1h4m-2 0h4m16 0v2m1-2v3m1-3v3m155-3h4m25 0v4m44-4v3"/>
<path stroke="#26848d" d="M33 6v2m61-2v4m3-3v4m17-5v3m1 6h3m-30-2h2m-11 3v2m-1-2v4m-23-7v2m-2-4h4m-7 2v4m-8-2v3m-9-2v3m-21 0v2m7 1v4m15-7v3m6 3v4m1-7v3m12-3v2m50-3h3m-2-1h3m-30 10h2m-3-2v2m-16 5h2m-16-5v3m-1-5v2m-5 4h2m-12 8h3m-1-4h4m-4 6h2m0 0h3m-2 0v4m3-7v3m6-5v4m4-7v3m53 2h2m27-2v2m10-5h3m-2 0v3m22-3v3m-67 11h4m-12-3h2m-20-2v2m-3 6h3m-7 0h2m-21-7v3m-4 4v2m22 6v2m61-7v3m4-1h3m7-1h2m-1 3h3m9 0v4m9-7h2m-1-2v3m3-3v4m0-2h3m0-2v4m-52 7v4m-53-6h4m-21 4h2m-3-2h3m57 11h2m21 3v3m14-8v4m7-3v4m2-1h4m-1-5v2m35 10h2m-8-1v3m-9-5v2m-14-4v2m-3 1v2m-10 0v2m-3-1h2m-29-2v2m-5 0v4m-25-7h3m-10-3v3m-3-2v4m-3-3h2m36 14v4m26-11h3m1 1v4m7-3v3m17 0h3m2-4v3m-8 7h3m-4-1h4m-48 11v4m13-1v3m25-7v2m19 2v3m1-9v3m17-1v2m8-3h3m-2 6h3m8-7v4m-20 7h3m-26 15v2m9-9h4m-3-1h3m22 8v4m7-4h3m4-6v2m5-4h2m-17 16v3m-2-4v4m-4-5h4m-40-5h2m13 10h3m7 2h4m-1 5h2m2-4v3m5-5v3m-3 8v2m-16-6h3m139 97h4m-15-7v4m-15-2v4m27 15h3m-6 2v3m-21-1v2m-7-1h3m5 6h4m18 1h2m18 0h3m-5 5v2m-6-4v2m-11-2h2m-209 6v2m-11-1v3m-20-7v4m2 3h3m1-1h4m2 7v2m5-1v4m11-7h3m-2-1h4m-3-3v3m217-3v4m1 2v2m2-7v3m2 5v2m-6 2v3m-215-6v2m-12-1h4m-25 3v4m4 5h2m21 4v3m0 2h3m-10 9h2m-20 7h4m-10 2h2m21 4h4m191 15h3m-5 0v2m-222-1h3m-7-4v3m-66 10h2m-2-5h3m66 3h2m15-6h2m249 0v3m7 4h4m18 6h3m-21 0v4m-29-2h3m-38-4v4m-257 2h3m-17-3v3m-13-3v4m6 0v2m6 4v3m1-2v3m76-5h4m265-4v3m1 1h4m-17 9v4m-3-9h4m-54 0v2m-293 11h3m7-1v3m18 2v4m1-7v3m26-6v4m15 0v2m9-4h4m229 4v2m1-2v4m1-4h2m12-4v3m7-1h3m28-6h4m-31 12v3m-16-5v2m-35 1h2m-211 4h2m-16-7v3m-42-2h2m-13 4v4m81 7h4m2-1h3m-1-2v3m231-1h3m-1 2v2m-231 8h2"/>
<path stroke="#229c88" d="M112 17v2m-19-8h3m-61-2h2m-23 12h3m3-2h2m17 1v4m19 0v4m30-5v2m22-6v2m2 3h3m3 1h4m-5 10h2m-74-5h3m-11 2h2m-20 0h2m-9 6h3m14 1h3m28 0h4m16-3v2m5 4v3m13-4v4m15 2v3m-3-2v3m-10 0h2m-15-6h3m-68 11v2m55 3v2m14-2h3m30-5v2m15 11h2m-24-1v4m-3-3v4m-3-6v4m-40-1v3m-24-9v3m-4-2h4m26 14h4m76 10h4m-47-6h2m-23 2v4m-15-8v4m62 7h2m28-1v4m1-2v3m21 13h4m-3 7h4m12-4v3m-1 5h4m-30 5h3m-1 1h4m17 0v4m13 8v3m-5-4h2m-2-2h2m-3 3h3m-6 2h4m-8-4v2m5 9v4m18 0h2m1-6h4m-4 6h3m-3 4v3m105 105h4m-10-1v3m-2 2h2m-29 4h3m15 3h4m-1-3h4m12 4v2m2-1h4m3 4v2m-6 1v3m-4-5h3m-14-2v4m-228-4v3m-2 12h3m4 2h2m5 0h4m-3-1h2m215-4v2m-218 10v2m5 2h2m0 14v2m-10-1h4m-15 18v2m252 27h2m-30 1v2m51 7h4m-74 12v3m-204-7v4m-11 2v4m-1-3h3m-63 3h4m59 1v4m2 1h3m233-6h3m0 3v3m-240 4v3"/>
<path stroke="#33b47a" d="M61 16h4m-7-1v3m-2-7v3m-11 0h4m29 9h2m0 0v3m34-3v3m-34 9h3m-3-6h3m-10 3v2m-12 0h4m-17-6h3m-3 4v4m-6-4h2m-13 7h2m11 1v4m56-8v4m8 4h2m-1-3h4m5 6v2m-18 2h3m-10-5h4m-33 3v2m-24 5h3m15 4h3m2-6h4m73 2v4m1-1v3m-48 5v2m13 5h2m2 5v3m14-2h2m45 6v4m0-1v4m-16-4v4m-8-7h3m-39 0v4m94 21h2m-21 12v4m0-3h4m30 4v2m-14 12h2m-21 4h4m-2 0v4m107 104v2m20 18v4m19 2h4m-14 4v3m-7-6h2m-202 17v4m-5-4h2m-14 5v4m-1-10v3m20 15h4m-24 7h3m-16 62v3m7 1v2m-75 7v3m299 4v3m0-5h2m-1 0v4m1-7v3m1 0h4m2 1v3m4 0h4"/>
<path stroke="#5fc860" d="M67 16h2m-27-1v4m-1 6v4m18-9v3m14 0h2m11 0v4m12 5v2m-4-1v3m-37-9v4m-17-1h4m-6 5h3m25 7v3m18-4v2m11-2h4m-2 3h4m3-4h3m-3 10v4m-19-8h2m-18 4h3m-41-4h4m9 9v3m1-2h3m14 1v3m0-2v4m15-1h4m1-4h2m3 0v2m138 74h4m-2-1h4m-9 4v3m-8-1h3m8 13h4m91 103v4m25 14h3m-267 126h4"/>
<path stroke="#9cd83c" d="M59 6v2m16 0h3m0 7h3m13 18v3m-23 5h4m1-4v2m12 0v3m19-1h2m-66 17v2m41 5h4m119 48h3m-14 32h4m108 131h2"/>
<path stroke="#dde326" d="M41 13v2m20 5v3m31 10h4m-36 7h3m5 1h4m3 0v4m4-1v4m17-9h2m-30 6h3m-14 11h2m0 4h4"/>
</g></g>
<g clip-path="url(#cq31)"><g id="d10" transform="translate(821.2,173.9) scale(0.25)">
<path stroke="#461264" d="M7 6v3m3-3v2m4-2v4m19-4h2m-1 0h4m-2 1h2m-1-1h3m-3 0v2m0-2h2m-1 0v2m1-2v4m0-3h4m-4-1h3m31 1h2m14-1h2m2 0h2m-1 2v4m0-6v3m1-3v2m9-2v2m1-2v2m3-2v3m3-3v2m0 0h3m15-1v2m3-3h2m2 2h3m11-2h4m-3 0v4m1-4h4m-3 0v2m2-2v2m1-2h2m-1 0v2m10-2v3m5-3v3m167-3v2m0-2h3m3 0v2m0-1v2m1-3v2m1-2h3m10 2v3m-9 5v2m-1-1v3m-3-8v3m-1-4v2m-3 2h2m-7-3v3m-5-1v3m-159-1h2m-6-4v4m0 0v3m-2-5v3m-1 0h4m-5-6h3m-3 2h2m-4 4v3m0-3v2m-1-7v2m-3 1h4m-5-4h2m-5 0v4m-1 0h2m-12-6v4m-6-3v3m0-1h3m-4 3h3m-6 0h2m-2-5h2m-12 0h2m-10 1h4m-7 1v3m-5 2h4m-7-5v2m-2 3h4m-5-4v2m-2 1h2m-4-3v4m-3-8v4m0-3h4m-5-1v2m-2 2h3m-6 0v3m0-6h4m-7 2h3m-4 2v2m-12-4v2m0 1h2m-2-2v2m-2-3v4m-1-2v2m0-5v4m-2-6v4m-1 3h4m-7-2h3m-5 2h3m-10-4v4m-4-5h3m-5 5h3m-3-7v3m-1 0h3m-14 5h3m-3-4v2m-1-6v4m0 4h3m-9 0v4m-18-7v3m-7-4h3m25 9v2m1 2v4m4-5v2m2-7v2m0-2h3m-2 1v4m4 0h4m-4-1v3m8-4h2m13 3h3m-2-3v2m1-2h4m0-5h2m-1 4v3m2-6v3m0-4v3m4-3v3m4 4h2m1-7h3m7 7h4m3 0v3m2-3v4m6-3h3m9-3h4m3-4v4m2-3h4m-2-2v3m8 2v3m1-2h3m-2-1v2m3-2h2m4 2h4m-3-5v3m0 0h4m-3 0v3m5-7h2m-1 1v4m0-4h4m165 3v4m7-6h3m-2-1h2m3 5v4m0-5v3m5-7h2m2 6h3m6-7h4m-3 2v4m0-5h3m-12 7v2m-6-2h3m-181 7h3m-7 1v2m-8-2v3m-2-11h2m-3 7v2m-3-4h4m-7-2h3m-4-2h3m-6 4h4m-9 2h4m-4-4v4m-6-2v4m-19-8h3m-4 4h2m-6 2v2m-3-7v3m0-2h3m-8 0h4m-8-1h4m-5-1v4m-1 0h4m-19 2v4m-2-8v4m-5-5v2m-2-3v2m0 1h4m-6-1h4m-5-2h4m-12 4h2m-20 2v4m-2-3h3m-4-4v2m0 0v2m-22 0h4m-10-3v4m-2-9h3m-7 1h2m-2 2h4m-6 13h4m-4 1h3m2-8h3m-1 0v4m1 1h4m-1-3v2m0-3v3m6-2h2m3 4h2m0-4v3m3-1v4m5-8v4m1-1h4m-3 2v3m3-2h3m6-2v2m13-1h2m-1 2v2m2-1h3m2-1h2m6-7v3m3 1h2m-1 0v2m0-1v4m4-4v2m2 0h3m2-2h3m4-1h4m-3 4v4m1-12h2m6 5h2m-2-4h3m0 2v2m3 2h3m-1-3h2m6 4v2m0-6h3m0 3h2m1-7h4m0 4h2m1-3h3m-2 7v2m2-3h2m12-6v4m1-1v2m3-5v4m5-2h4m-4 2v2m2-2h4m0-3h3m-3 1h3m-2 1h3m0 0v3m0-1v2m1-4h2m0 3h3m-3 1v3m3-2h4m-5 5v4m0-6h4m-6-1v2m0 2h3m-4-5v4m-3 1v3m0-3h4m-4-5h3m-6 5h3m-25-6v4m-4 4v2m-6-8h4m-24 1v3m0 2h2m-3-3h2m-4-3h3m-4 1v3m0-6v4m-2-2v4m-11-3v4m-7-4h2m-2 5h2m-6-2h2m-6-1h4m-10-3v3m-5-3h3m-37 1h3m-10-1v4m-2-2v2m-2 0v2m-5-8h4m-4 2h2m-15-2v2m-7 2h2m-5 9h2m0 4v3m0-6v3m3-1h3m-3-6v2m1-3v2m2 5v2m4-6h3m-1 0h2m20-3v4m1 0h4m6 0v2m2-1v2m1 0v4m1-3h4m-4-6v2m2 4v2m0-3h4m-3-5h3m-3 1v3m3-5h2m22 7h2m-2-3h4m-2 0h3m-3 0h2m-1-1h2m1 3v4m0-11v4m29 1v4m5-3v4m4-5v3m2-2v3m6-2h2m1-5h4m0 0v2m3-4v2m5-1v3m0 4v2m3-3v3m3-7v4m13-5v3m13-4h2m6 3h2m-1 2h4m2 9v2m-11-6h4m-7 1h4m-4-2v3m-4 3v2m0-1v3m-13-3h2m-19-8v2m0 1h2m-18-3h3m-19 0h2m-7 1h2m-6 2v2m0-4h3m-23 4h3m-22 2h4m-4 0h4m-29-7h4m-6 6h2m-3-4h3m9 12h3m0-5h2m6 3h2m2-3h2m-1 7v3m3-6v2m1 0h4m-3 2v4m8-4h4m16-1h3m-3-1v4m2-5h2m-1-1h3m23-3v3m8 3v4m3-6v2m4 0h2m5-3v3m3-1h4m3-5v2m0 0v3m2-1v2m9 0h3m8-5v4m3-1h4m-2-1h4m0 3h4m2-6v3m4 5h4m-5 2v4m-1-1v4m-11-5v3m0-6v4m-16-1v3m-1-5v4m-9-5v3m-2 3v3m-8-7v2m-4 3v4m-6-4h2m-3 0v4m-1-4h3m-10-1h2m-5 1h2m-8-8h2m-13 7h2m-4-3v2m-2 1h4m-7 1v2m-4-9h2m-5 6v3m0-8v3m-1 2h2m-13 0h3m-21-5h4m-5-1h2m-10 2v2m0 0v4m-1-2v2m10 1v4m2 2v2m5-7v3m9-3h2m0 2h3m-2-3v3m0 3h2m15-2h3m2-5h4m3 1v2m1 0h2m0-3h3m9 5h4m0-2v2m13-2v2m12-1v4m20 0h3m0-4v3m6 0v4m1-7v2m25 1h4m-4 2h3m-25 5h2m-2 0v2m0 1h3m-6-6h4m-9 5v2m-1-4h2m-13 3v2m-8-2v4m-1-6h3m-4-4v2m-10 0v4m-2-4h4m-9 2v2m-36-6v2m-6 1h2m-3-4v3m-1-2v3m-11-3h4m-17 5h3m-3-4h4m-6 1v2m29 3v3m9 3h2m-1-3h4m0 0h4m-2 5v2m2-4v3m8-2h3m-1-1v2m0-5v3m13-5h4m9 4v4m1-7v2m3 2v2m6 0v3m1-8v4m5-4v4m1-3h4m6-3h4m7 0v4m1-3v2m1 4v3m1-4h3m-1-5h4m11 1h4m-50 7v2m-16 4h3m-7-5v3m0 2v4m-2-4h4m-5-4v2m-5-5h4m-4 2v2m-1-3v2m-2 0v3m-14 1v2m-4-8h3m-13-1v2m-9 10v4m2-5v3m0 2h4m13-1v4m3-2h3m2-3v4m2-9v3m3-3v4m1 1h3m-3 2h3m-2-7v2m1-1v2m4 2v3m4-4h4m-2-4v2m1-1v4m13-1h2m-2 4v4m2-12v4m4-2v3m40-3h4m0 1v4m0-5h2m-1 1h4m-3 1v4m8-6v4m-57 10h2m-22 0h4m-14-7h2m-6 1v3m0-3h4m-7 4h4m-10 0v4m-11 7v2m2-4h3m6-1v2m6-4v2m16-3h4m-1 3v4m-33 5v2m6 8v4m0-3h3m-2 2v2m7-2h3m104 6h4m-107 2h3m-3 1v3m-2-4h4m-6-1v2m-2-7v4m-1-2h3m-9-2h2m11 11h2m1 0v4m1-4h3m-1 1h3m1-1h2m-2 2h3m-2 1v4m98-3v3m4-9v4m5 0v4m0-5v4m2 0h3m-3 0v2m-92 10h3m-3 2h4m-2-1v3m2-4v4m2-2v2m5-2v4m56-1h3m-2 1v2m25-6h3m-1-1v3m0 0v2m1-2v3m2-6h4m1 2v3m1-2h4m2 7h2m-14-3v3m-2-4v3m-19 2h2m-3-1v4m-15-1h4m-30 7h3m7-1h3m-2-3h2m9 0h4m20 3v4m19 0h3m5-5h2m1 2v4m3-1h2m1-7h2m-2 0h4m22 16v3m-6-6h2m-5 3v3m0-6h3m-4 0v4m-10-4v3m0-3v4m-5-3v2m-1-3v4m-4-6h2m-3 5v3m-4-11v2m-2 2h2m-4-1h4m-12-2h3m-6 1h4m-55 1v4m-8-2h2m-21 2v2m37 3v2m34-4h3m17-1h4m1 5v4m3-5v2m3-3h2m2 1v3m2-7v4m5-3v3m2-2h3m-2-2h2m18 6v4m9 5h2m-9 2h4m-4-2h4m-5 0v2m-2-7v2m-13-1v2m-17 1v2m-1-4h2m-13 4v4m0-8v4m0-1h3m-6-1v4m-1-5h4m-7 0v4m-25-4h3m-8 0h3m-21 2v2m-24-2h4m-14-6v3m17 10v2m28 0h2m31-6h2m3 4v4m4-7v3m2 1h4m15-2v2m1 1h4m-3-2h2m-1 4h3m11-2v4m5-2h4m4-2h2m-2-1v2m4-5h2m0 1h4m-4 4v3m1-5v2m2 0v3m1-6v4m2 0h2m1-1h4m-1 10h2m-15-4h4m-9 4v3m-3-4v3m-1-8h4m-7 4v4m0-8h4m-4 0v4m-5 1v4m-24-7h3m-12-2h4m-6-2v2m-27-2v2m-51-1v3m-114 4h2m-7-3h3m-7 2v3m-9-2v2m-1-5v4m-4-1v4m-1-8h4m-35 12v2m1-1h2m-1-3v4m17-3h2m0 2h4m0-8h4m-2 8v4m3-6v3m0-5h4m-2 4h4m-4 0v3m1-9h2m0-2v4m1 1v4m8-6h2m-1-3h4m-3 2v4m4-5v4m5-2h4m-2 5v3m12-10v4m20 2v4m4-5h4m28 1v3m0-3v3m1-3h3m40 0h2m0-3h2m14 2h4m21-2v2m52-6v4m4 2h2m15-3h2m7 2h2m6 0v4m1-3v3m1-3v4m5-4v3m0-2h4m0-3h2m2 2v3m11-5v2m1-3h3m-3 2h3m-3 0h2m-1-2h2m0 3v3m3-2h4m7 8v2m-44-1h2m-132-4v3m-8 2v3m-15-3v4m-2-9v4m-3 1v3m0-8h4m-5-1v3m-8 1h4m-4-1v4m-5-8v3m-1 2h4m-37-1h3m-4-3h4m-7 1v4m-5-1v4m-4-5v2m-27-7v4m-1 0h2m-31-3v2m0 0v3m-5 2h3m-4-1h2m-2 0v2m-1-7h2m-4 5h2m-2-5v2m-2 1v3m-3-2h4m-7 1h4m-8-3h3m-13 1v2m-9-2v2m-3-2v3m-1 0h3m-6 2h2m9 4v4m0-7v4m15-2v4m11-6v2m3-1v4m2-3v4m4-5v2m4 3h2m0-2v4m5-3h4m4-6v3m3 1v4m2-1v2m4-5v3m1 0h4m-2-7v3m9 4v4m9-4h3m1-5v2m9 3h4m11-4h3m28-2h2m5 5h4m-1-2h2m3 1v2m1 0v2m2-8v3m1-2h4m-1 3h2m0-4v2m12 1h3m-2 1h2m6 2v4m112-7h3m-3 1v2m4-2h2m2-1h3m0 0h4m29-1h2m2-2v3m0-3v2m5-3v3m2 0v2m-18 7v2m-14 1v4m-4-11h4m-6 2h3m-4 4h4m-9-4v2m0-4v2m-4 0v3m-107-1h4m-4 4h3m-4-1v2m-1-7v2m0 0h4m-7 0v3m-7-5v2m-1 3v2m-1-7h4m-5 2v2m-15-3h3m-3-1h3m-7 3v3m-1-5v4m0-7h3m-7 7h4m-7-7h3m-5 0v4m-2-1v3m-9-1v2m-48-5h2m-3-1h3m-4 4v3m-1-1h3m-11-7h4m-4 8v4m-6-8v2m-1-6v2m-2 6v4m-5-4v2m-2-9h2m-2 4h2m-6 3v4m-1-12h3m-6 6h2m-2-2v2m-6-6v3m-16-1v4m-1-2v2m-2 0h2m-3 1v4m-1-4v3m-3-4v3m-28-2h2m-9-5h3m-10-2h3m-8 5h4m-4 11h3m-3-3h3m-3 2v2m1-3h3m3-1h4m17-2h3m8 5h4m0-6v3m2-1v2m0 1h2m2-3h4m-3 5h4m-2-5h3m3-3v2m10 6v3m2-8h3m0 5h3m-3-2v2m2-6v3m0-4v3m2-4h3m-1 3v4m0-1h2m7 0v3m9-7h2m0-1v3m2 3v4m4-8h4m-3 4v4m9-5h2m-1-1v2m42-6h4m0 2v3m45-6h3m13 3v4m112-6h4m-4 1v4m2-3v2m9-5v3m1-1h3m1-1v4m1 0v4m17-7h4m-3-1v4m1-5v4m2 2v3m16-6v2m2 0h2m-1 1h3m2-2h3m-29 5v3m-6-2v2m-11-1h3m-7 0h4m-7-2v2m-230 5h2m-3-4h2m-16 2v2m-1-1v3m-16-3h4m-12-6h4m-33 7h3m-11 0v4m-2-8v3m0-2h2m-9 4h4m-7-8h2m-27 1v3m44 5v4m19-4v4m10 3h4m-1-2v4m3-8h2m-1 6v4m4-11v3m2-3v2m2-1h2m-1 5v2m1-3v3m4-6h3m1-2h2m-2 1v3m1-1v3m2-3v2m2-2v4m1-6v3m302-2v3m3 2v3m1 0v3m-1 3v2m-2-3h3m-5-1h3m-8-3h4m-306 4v4m-14-2h2m-7-7v4m-2 0v3m-1-7v2m-4-1h4m-7 1v3m-14-6v4m-3 13h2m7-5h4m-1 2v3m2-6h4m-1 5h2m0-5h4m6 5v2m1-5v4m9-1h4m-2-2h3m-2-1h3m2-2v2m215-4v3m2-3h3m-1 3h3m78 4h3m1-5v2m1-4h2m2 1v3m1 3h3m-3-7h2m0 0h3m10 4v4m2-5v4m1-5h2m-2 0v2m0-2v2m0-4h2m-2 12v2m-23 1v3m-2-9v3m-16-1h3m-98 6v3m-198-3v4m-3-12v3m-6-3h3m-17 1v2m-3 3h2m-4 4v4m2-3v4m12-2h4m-3-2v2m2-1v2m4 1v4m212-2h4m120-4v3m1-5h3m-3 5h3m-2 1h4m-3-2v2m2-6v4m0-1v4m0-7v2m0-3h3m-5 11v4m-135 0v3m0-5h3m-9 1v2m-188-2v3m-35-3v4m-12-4v4m0-2h2m-7-8h4m-20 15v4m18-10v3m19 3v3m2-1h2m7-1v3m1-3h2m0-7h4m-3 0v3m2 1h2m-1 4h2m181-5v4m18-5h4m2 3v2m4-5v4m2-2h2m-2 3h2m-1-4v2m11 3h4m115 9h3m-4 0v3m0-5v2m0-1h3m-8-4v3m-13 1h3m-92 1h2m-19-1v2m-3-8v4m-1-3v3m-2-1h2m-3 3v2m-1-9v3m-10 5v3m-10-6v4m-11-6v4m0 1h3m-5-4v4m-176-8h3m-4 1h2m-10 0h2m-5 2h2m-3 4h4m-5-5v2m-1-3v2m0 0v2m-2 1v4m-1-2v2m-2-7v4m-1-7h4m-10 5h2m-23 0h3m-7 3v2m0-2h2m-3-4v2m-2 2h2m-8-8h4m-14 3h2m-8 0h2m-8 4h4m1 2h4m11 7h4m7-6h4m8 5h2m2-3h2m3 1h4m0 1h4m-3 0h3m0 0h2m-2-5h3m-1 3v3m1-1h2m-1-3h3m-2 5h3m-2-2h4m-4-4h2m-1 5v3m5-1v2m11-5h3m3 1v2m0 0v2m1-5v3m168-5h4m12 3v2m1 0h3m-2-5h4m-1 1v4m0-2v4m0-6h2m-1 0h2m-1 1h2m-1 1h2m4-4v2m20 3v4m2-11v2m0 1h4m-2-3h2m-2 8v3m2-7v4m3-6h2m2 0h3m92 0v2m8-2h4m-3 1v4m0-7h4m-6 14h4m-28 1h2m-95-6h3m-9 5h4m-5-1v2m-6 0h2m-15 0v2m0 0h2m-4-1v2m-5-3h2m-4 0h4m-183-3v2m0-1h2m-7-2h4m-12 1v3m-9 2v3m-11-11h2m-3 0h4m-4 1h3m-10 1h2m-6 1v4m0-4h3m-4-2h2m-4 0v4m-4 0v3m-17-3h4m-10 3h2m-10-2v2m-2-1h4m-6 0h3m-4-1v2m-3-4v2m0-5v2m-6 3h4m-4-5v4m0 4h3m-3 0v4m2-4v2m1 2h2m-2 0v3m2-3v4m7-8h2m5 2v4m3 1v4m1-7h3m-3-3h3m-1 5h2m-2 2h2m6-4v3m1-4h3m1-3h3m-2 1v4m1-5v2m6 2v4m2-6v4m3-6h4m7 8h2m28-2h4m-3 1v2m2-1h4m-3-1v3m2-7h4m155 1v4m1-2v4m1-8h2m1 0h4m1 5h3m-1-5v4m4-4h2m-1 4v3m0-6h3m-1 2h3m0-5v3m2-1h4m2 5h2m1-3h2m0 3v4m3-3h4m20-4h2m-1-4h4m5 7v3m3-5v3m98-6v4m0-4v2m0-1h3m-3-2v2m-103 6h2m-18 1h3m-3 0v3m-2-4h3m-8 4v2m-1-1h2m-2-5h4m-10 3v3m-1 2v3m-2-3v4m0-7v3m-2-2v3m-4-1v4m-3-9v3m-1-2h4m-15 2h4m-12-1v2m-4-2h4m-7 3v4m-87-4h4m-7 0h3m-12-3v4m-24-3v2m-5-1v4m-4-5h3m-9 2h3m-16-3v4m-1-3v3m-4-5h3m-6 4v4m0-11v3m-3 1v4m-4-8v4m0 1h3m-3-2h3m-12 1h4m-8-2v3m-1-6v4m-2-1h4m-5 2h2m-10-3v2m-1-4h3m-4 0v2m-6 2v2m-9-3v3m-7-2v3m-1-6h4m-7 2v3m-1 0v3m0-7h4m-6 5h4m-9-4h2m-3-1h4m-8 4v3m-19-8v4m0-3h3m-5-2v3m13 7h4m0 0v2m4-2v2m4-2h3m0 0v4m0-4h2m0 0h2m-1 0v4m0-5h3m13 1h2m-1 0v2m2-2h2m-1 0h2m18 0h3m-1 0h2m2 0h2m-2 0v3m1-3v2m8-3v3m0-2v2m2-2h4m-2 0h4m-2 0v4m0-4v2m0-2v2m1-2v2m5-2v4m4-4v3m8-4h4m-1 0v4m12-4v2m4-1v3m1-3h4m-3 0v4m8-4h4m-1-1v3m2-2v4m1-4v2m5-2h4m-3-1v3m2-2h2m1 0v2m0-2v2m8-3h3m2 1v3m1-3v3m71-3v4m7-4h3m1 0v3m0-3v3m2-3v4m1-4v4m1-4h2m-1 0h3m-3 0v2m11-3v2m12-1h3m18-1v2m2-2v3m3-2h2m-2 0v4m1-5v3m0-2h2m0 0h3m9 0v2"/>
<path stroke="#44347e" d="M6 6v4m5-4h2m339 5v4m0-3v2m-228 1h2m-7 2v3m-6-3h2m-93-2h4m-8-3v3m-3 1v4m-1-7h2m-3 1v3m3 4v3m3-4h4m1 1h3m54 4v2m8-9v2m42 1v3m8-1v2m0 1h4m-1-4h3m2 11v2m-7-4h3m-55 4h3m-6-2v2m-57-7h2m-6 5v3m-9 8h4m30-8v2m14 0v2m26 0v4m36-3v4m11-5v4m0-6h3m9 1v3m2-1v4m12-9v3m17-1h4m-3 14h4m-8-1h4m-5 0v4m-1-7h3m-5 3h2m-6-4v4m-2-3v4m-2-1v4m-2-7v4m-94-7v4m0 1v3m-3-5h4m-32 3v4m-1-4v4m-2-9h4m-20 0v4m-3-5h2m-4 0v4m-2-1h4m-7 1h4m-3 6v4m18 3h3m70-6v4m38 2h4m27-5v2m2-4h4m-2-1h2m15 1h3m-59 9h3m-16 4v4m-1-8h3m-3 4v2m-73-3h2m-10-2v2m113 7h4m-2-2v2m2-1v4m1 2h4m28-2h4m0-3v4m7-3h2m0 2h2m8 11v4m-31-8h4m-17 1v2m0 1h4m-18-3v2m-9 1h4m-64-4h2m-5 1v4m-4-1h2m28 4v4m0-4h3m-1 5v2m1-2h2m3-4h4m10 3h2m-1-1v4m1-5v3m1-2h4m-2-1h2m2-1v4m4-7h3m5 0v3m13-3h4m2 8h3m-1-1h2m-1-4v4m3 1h3m-2-1h2m5-5h3m2-2h3m-15 10h3m-4 1v4m-9 0v4m-7-4v3m-12-1v3m-14-7v4m-1-7h3m-7-1h2m-15 2v2m14 11v4m16-3v2m13-9h4m1 3h3m62 9v4m-5-4h3m-25 5v3m-1-6v4m-1-5v4m-2-8v3m-8-2v2m-8 4h3m-6 0v4m-1-11v4m-5 4v3m0-8h4m-11 1v3m-26 1v4m-2 0h2m3 3h2m1 1v4m5-7v4m4-5h2m-2 2h4m-1-5h2m0 6h4m-3-5v2m1-1h3m-2-1h3m-2 5v2m6-6v4m4 2v4m6-9v2m32-3h2m1 0v2m4-2h4m-4 1v4m7 5h2m-5-3v4m-11 1h3m-4-1v2m-27 2h3m-11-5h2m-4-1v4m-4 0h2m-7-5h4m-4 5v3m-1-5h2m-3 4h2m-2-3v3m-2-6v2m-4-3h4m-4-1v3m-10-2v3m0 3h4m-5-4h2m-3 5v4m0-6v3m-6-3h2m-9-1h2m-18 3v4m21 3v3m12-7v3m0-5h3m2 1h4m5-1v4m7-2v2m-11 10v4m-1-7h3m-15 3v3m-7-8h4m-6 7v2m3 0v2m10 1h4m0 5v4m2-5h3m8-6h2m-2 2v4m3-4h3m-2-2h2m59 5v4m11-3h4m-4-2h3m0 3v4m6 5h3m-3 0h2m-8-2v2m0-6v3m0-3h3m-94 2h4m-9 0v4m1 6h4m2-5h3m71 5v4m2-8v3m9 3v2m7-1v2m1-2h3m-2-5v3m0-6v4m2 0h3m3 6h4m-10 2h4m-7-2v2m-6-1h4m-6 0h3m-3-2h4m-6 3h2m-2-3v2m-8 4h3m-5-2h4m-5 0v2m-16 2v2m-4-2h2m-25-1h2m-12-1v2m-3-1v4m-7-1h4m4 3v2m1-5h4m0 3v4m7-3v2m5 1v3m0-5v4m12-6h2m0-2v4m0-1h2m0 1v4m8-2v3m16-7h4m21 6v4m-1 0v3m-22-6h2m-12 4v3m-2-9h4m-5 6h2m-6-5v2m-1 0v3m-6 1v3m-2-4h2m-3-4v3m43 11h4m-3-4v4m2 1v4m35-7v2m19 9v2m-14-8h4m-26 5h3m-25-6v3m13 13v2m37-4h4m-1-5v2m4 6h3m-1-1v3m3-9h3m-4 8v4m-3-4h4m-5 5v4m-1-7v2m-7-4h2m-8 0h2m-4 0h4m-13 9v4m9 4v3m24-3v3m6-8h4m-2-3h2m5 8v3m-8 6h4m-10-8h2m-11 6h3m-19-5h3m-215 7v4m-10 3v2m0-5h4m-1 1v2m230-3v2m2-1v3m16-5h4m-2 6v3m1-7v2m-161 8v4m-35-3v3m-15-3h2m-47 1h3m-7-3h4m-8 3h3m-39 7v2m31 0v4m0-5h4m-3 1h3m4-6v4m12-4h3m-1 0v4m27 1v2m15-8v4m0 0h3m14 2v3m26-9v3m9 0v2m11-4v3m3-4h3m139 3v2m26 0v2m19-5h2m1 6h2m-2-5v4m-8 2v3m-1-2h4m-7 2v4m0 0v2m-2-8v4m-3-3v2m-8-1h4m-10 1v3m-2-1h3m-252 2v2m-12-3v3m-55-10v3m-14-1h2m-5 5v2m0-2h4m-4-4h4m-4 3h4m-3 7h4m-4-4h2m-1 7h2m-1-2v3m2 0v2m0-6v4m3-5v4m2-2h3m4-3h2m-1 5h2m46-3h3m-3-2h3m-3 2h2m-2-2h3m14 5h2m19-1v4m1-5h3m-2-4v2m1-2v2m5 2v2m225-7v4m1-4v3m38 11v3m-7 0h3m-9 0v3m-251-5v3m-3-9h2m-4 2v4m-28-4h3m-3 6v4m-3-7v3m-4-7v2m-2 3v3m-45-4h2m-10-2h4m-7 2v4m-1-1v2m-13 1h3m7 4h4m-1-3h3m0 1h3m30 3v2m25-1h2m12-1h2m5 0v2m268-5h3m0 0v3m1-1h2m3-3v3m2-5v3m0 4v2m1-10v2m0-1v4m2-2h2m13 4v4m4-3v3m11-6h3m20 11v4m-20-9v4m-5-2v3m-2-6h2m-6 1h2m-34-1v4m-4-4h4m-50 7h2m-7 0v4m-22-9h4m-14-1v2m-211-3h4m-20 2v2m-53 9h3m21-5v2m2 0v4m0-3v2m2-3v2m8 1v4m2-9v2m14 1v4m20-1v3m239-9v3m2 2v4m12-7h4m-3 3v4m11-7v2m3-2v2m41-1v4m24-2h3m-2 1h4m-4-6h4m-2 8h4m-2-2v3m4-6h4m11 2h4m-6 4h2m-17 8v2m0-3h4m-7 1h2m-52-3v3m-10-5h2m-4 0h3m-6 4v3m-2-3v4m-33-4h3m-8 1v2m-8-3v4m-1-3h3m-4-2h4m-8 1v4m-6-3h2m-233-8h3m-27 4v2m6 5h4m-2 4h2m4 0v3m0-2h3m2-1h2m6 1v4m226-4v3m1-4v2m2-7v4m2 1h2m-1-3v3m0-3h2m7 1h3m3 3v2m7-9v2m4 4v4m6-8h3m-3 3h4m-1 3h3m-3-7v4m1 1h2m-1 0h3m-2 2h3m-3-1v3m1-4h3m0 1v3m4-7h4m20 2v4m4-9v3m4 4v2m42-8v3m12-3v2m7 4v2m-4 0v3m-9 3h3m-7-5v4m-92-4v4m-1-4h4m-11 3h3m-8 0v3m0-4h2m-3 0h4m-4-1h4m-6 2h4m-8-3h3m-4 4h4m-8-3v2m-8 3h3m-4-2h4m-5-4h4m-227 6h4m-4-3v4m-3-4v3m0-7v3m-5-3v4m-4-3v2m-1-1h2m-3 4v4m-1-9h3m-6 4h2m-40-2v2m8 10v3m9-7v4m1 2h3m3-7v4m264 3h3m-2-4v4m22-7v3m1-2v2m3-1h2m0 1v3m3-2h2m70-3h2m0 6h2m22-2v2m0-7h2m-2 0h4m4 7v4m0-4h4m-4 2h4m-4 2h2m-2 3v4m0-8h4m-6 0h2m-2 1v2m-2 1h3m-6-2h2m-3-1v4m-3 0h4m-8-3v4m-1-6v4m0-6v3m-2 2v3m-11-1v4m-14-9h3m-10-1h2m-52 7v4m-5-4h2m-18-4v4m0-7v3m0 0v4m-3-6h3m-16 6v3m-227-4h3m-5-1h4m-43-6h4m-6 2h2m-6 4v3m-6-2v2m-3-1h3m-6-5h4m-4 1h4m-5-1v4m7 6v4m4-6h2m13 3h4m6 2v3m19-9h4m222 7h2m4-8h4m6 5v3m5-7h4m-2 4h4m-1-2v2m3 3h3m0-3h3m-1-1v4m3-2h3m-1-5v2m2 3v2m8-2v4m25-6v2m38-5h2m12 7v3m2-7h2m0 3h4m-3-2v2m6-6h4m-7 11v4m-1-1h3m-11-3h3m-8 2h4m-10 3h4m-4-1v3m-3-6v3m-26 0h4m-6-1h4m-14-2h4m-16 4v2m0-9v2m-6 4v2m-1-3h2m-3-5v3m-1 1h4m-14-3h2m-4 4h2m-25-4h4m-4-1h2m-226 0v3m-48 3h3m-32-4v2m0-3h4m-4 14h2m1-1h3m0-5v2m1 4v3m10-7v2m30-3h4m0 3v2m233 1v4m0-12v2m27 4v2m16-1v4m7-8h2m-2 1h4m-4-3h3m0 5h2m1-4h3m-2 0h3m0-1h4m16-1v2m0-1v4m1-5v4m4-2h3m5-2v4m50-1v4m0-3h3m-126 13v2m-47-9v4m-177 2h3m-86 3h3m-3 0v3m3-3h3m13 0h2m9 0h2m30 0v3m78-3h2m158 0h4"/>
<path stroke="#3b528a" d="M224 123v3m-24-3h4m-18-2v4m-3-1v4m0-7h3m24 16h2m-9 5h2m-21-7h3m-5 0h3m-7 1h4m-34 3v2m-1 6h3m19 4h4m0-3v3m21-2h2m1-5v2m9 4v4m22 0v4m-5-1h2m-23-1h4m-31-3h2m-25 7h2m3 4h2m0 6h4m-3-3v2m6-1h3m6-6v2m5 0h3m39 2v3m9 1v3m6 5v2m-8-8v4m-1-5v4m-17 0v2m-3-3h4m-40-3v3m-11 3v3m-11-5v3m17 10v3m2-6h3m-2 0h2m10 0h2m12 0v2m1 1v4m3-4v3m19-9h4m7 0v3m5 1h2m1 1v4m8-11v2m0 4h4m-2-6h4m-10 10v4m-1-2v4m-38 1v4m0-4v3m-2-4v2m-11-2v4m-3-6h3m-13 3v4m-1-6v2m-7-4h3m24 7v3m12 0v4m1-1v3m2-7v2m0-6h3m2 7v3m8-3h2m0-2h3m-7 4h2m-6 0h2m161 113h4m-137-2v4m-215-1h2m-7-3h4m-6 2v3m-2 0v2m-11-4h2m-9 2v3m0-4v3m0-1v4m358-2v3m20 7h2m-97 2h4m-7-4v3m-232-1h2m-15 5h2m-5-2v4m-9-7h3m-8 5v4m-1-6h2m-5-1h2m-9 1h3m-4-4v3m-6-1v4m23 3h2m267 0v3m18-3h2m4 5v3m34-2h3m28-2v4m42 2h4m-64 5v3m-69-6v2m-7-3h4m-7 1h3m-13-1h3m-6 4h2m-273-6v3m14 4v3m20 1h4m234-3v4m5-3h2m3-2v4m21-1h3m6-2v4m49-3h2m1 5h2m42-5h3m-3 6h2m-1-4h2m-1-1v2m-42 7v3m-34-6h2m-4 0v3m-299-2h3m-30 7v4m-1-8h3m-8 0h3m-2 13v3m5-9h2m14 4v4m1-6v3m309-6h2m12 6h3m-2 0h4m13-6v4m16 1v2m13-7h2m4 3v2m6-1v3m13 4h3m-4-1h4m-5-1v2m-19 0h2m-6 4v3m-1-3h3m-8-7h2m-7 4v4m-32-4h4m-9-1v2m-5 9h4m14 3h2m29-6h2m2 2v3m0 1h4m4-4h3m6 11h4m-20-1v4m-11-6h2m-3 3h3m-11 2h4m-5-4v2m-11-3h4m-27 1h2m-7-2v2m-9-2v4m46 4h3"/>
<path stroke="#306c8e" d="M209 143v2m-8-10h2m-15 7v4m-2-5v2m-3 5h2m10 0h4m2 0h4m-1 1h4m13 1h2m1-2h4m2 3h4m-17 10v3m-13-5v3m-18-2h3m-5-3v2m-14-1h3m-16 8v2m8-6v3m13 3h3m2-6v2m0 5v3m36 3v2m-11 2h4m-34-1v3m-4-9v4m-1-1h2m-15-2h4m-6 6v3m7-1v2m16-3v2m7 2h3m-1 3v2m3-3h4m0-4v3m26-5v2m-20 11v3m-19-7v2m-3 0v3m-4-1v4m47 1v3m1 1h4m-3 3v2m-197 116v2m-1-2h2m264 11h4m-7 4v3m-9-6h4m-5 1h3m-239 4h4m-37-2h3m-9 5v3m18 3v4m254-4v4m15-3h3m-1 0v3m-9-1h2m-3 1v2m-252-2h3m-4 3v2m-21-6h3m-8 10v4m0-4v3m12 3v3m15-11v2m244-1v4m9-5h3m71 2h3m46 1h3m-27 13v2m-9-3v2m-5-5v2m-2-2v2m-22-4v2m-8 3h2m-325-3h4m-7 2v4m-1-8h3m-5 7v2m-4-9v3m0-1h4m0 6h3m-3 0h4m321 2h2m6 3v3m4-1v4m19-6h2m30 6v2m-2-2h4m-16 2h2m-3-1v2m-5-2v3m-3-3h3m-9-1v3m-3 2h4m-32-1h4m-3 5h3m-2 4v2m8-5h4m12 2h2m5-4h3m7 7v3m16-9h3m-5 7v3m-12 4v4"/>
<path stroke="#26848d" d="M187 149h2m13 11h3m-4-2v3m-7-5h2m-10 1v2m-9 4h4m41 6h2m-17 9v2m-4-7h3m-18 9v4m11-4h3m0 0v2m16-3v2m70 154v3m-273-2v3m-3-3v4m1 4h4m0 2v2m269 4v2m-267-1h2m-6 4v2m3 6v2m263-8h4m65 6v3m30 3h4m-31-2v2m-335 8v4m357-1h3m7-6v2m11 13h3m-26 4v2m18 10v4m-6-5h4"/>
<path stroke="#229c88" d="M201 143h2m-6-1v2m-10 8h3m10-6h3m10 0v2m-13 11h4m-27 6h2m2 3h2m10-6h3m23 11v2m-13 0v4m-1-2h3m-12 0v2m-10 5h3m-2-1h3m89 153h4m-9 0h2m-259 5h4m-12-3h3m4 5v2m261-1h3m-3 3h4m104 29h4m-369-4h4m349 22v2"/>
<path stroke="#33b47a" d="M197 161v4m-1-9v2m-12 10h2m-2 14v3m184 202v3"/>
<path stroke="#5fc860" d="M201 173v3m-2 2h2"/>
<path stroke="#9cd83c" d="M187 167v2"/>
</g></g>
<g clip-path="url(#cq02)"><g id="d11" transform="translate(449,297.4) scale(0.25)">
<path stroke="#a1caf1" stroke-width="5.2" d="M60 6v4m0-4v3m1-1v2m1-4v4m0-4h4m-3 0h2m-1 2v3m0-4v4m2-5v3m0-3h4m326 2v2m2-4h2m2 0v4m4-2h3m12 2h4m-6 2v3m-2 2h4m-4-7h4m-4 0v3m-4-1v3m-1 1h2m-5-7v2m-2 0v2m0-3v2m-6 3v4m-2-7v4m0-6h4m-6 0h4m-6 1v4m-1-2v3m-1-2h4m-4-5h2m-3 5v2m0 0h4m-9 0v3m-315-4v3m0-8v3m-1-2v2m-1-1v2m-4 1v2m-2-8v4m0 2v4m-1-5h4m-6-1h3m-4 2h4m-5-4v4m0-3v3m-4-3h3m-6 0v2m-1 3v2m4 7v3m3-3h3m6-2h2m-2-4v4m1-6v2m1-1h4m0 3v2m307-2h4m-2 3v3m1-8v4m26-3v2m12-1h3m1-2h3m-2 3h3m-3-4v4m1-1h4m-3 4v4m7 0h4m-7-3h3m-3 5h3m-5-4v3m-1 0v4m0 0v2m-3-3v2m-44-6h2m-2-1h4m-4 3h3m-4-3h3m-4-1h4m-6 2v4m0 1h2m-7-3v4m-1-3v3m2 2h2m0 6v2m0-7v4m56-6h2m2-1v3m0 3h2m-2 6h4m-65-1h3m-4 4v3m13 3h4m33 2v3m1-8h2m0 4v4m0-5h3m-3 4h2m-1-7h2m-1 3h3m-3 4v4m7-11v4m-7 5v4m-1-2h4m-5 2v4m-4-1h4m-5 0h2m-4-4v2m-2-4h4m-4 0v4m-1 2h2m-6 1h4m-5-2h3m-9 2v3m-14-4h2m-7 1v2m-6-9h2m-377 13h4m1 1h3m-3-3h3m-1-1v4m4-3h2m-1 1h2m10 2v3m5-3v3m0-4h3m-3-4v3m0-4h2m4 6v3m3-1v2m3-6v4m3-4v3m336-7h3m-2 2v2m0-2h4m-3 3h2m1 0h2m1 1h3m-1-5v2m1-2h3m1 2h4m-1 1v3m16-6h3m1 1h3m-366 12h2m-6-3h2m7 10v3m1 0v3m1-3h3m-1-2v2m0 1v3m1-2h3m2-1v3m66-4v2m3-2h3m16 1v2m5 4h3m-4-1v4m-1-6h4m-7 0h3m-4 6h4m-8 1v3m-1-3h3m-4-3v2m-2 0v2m-3-4v4m-5-5h2m-24-1v3m-3-2h3m-4 3v2m-43-7h3m-10-1v4m-2-5v3m0 0h4m-5-3h3m-6 0v2m12 14h2m1 1v2m1-9h2m-2-1h4m-1 6v3m36-1h4m-4-6v2m3 1h3m-2-1v2m0-2v2m1 2v4m0-4v4m2-9h3m-3 1h3m-2-3h3m-1 5h4m-4 0v3m1-2v4m2-7v2m8-5h3m23 1v2m5-1h2m-1 5h4m-8 5h2m-11 3h4m-5-3v4m-4-1v4m-16-5v4m-5-7v2m-1-1h4m-5 3h3m-47 1v2m-2-8v2m-2 0h2m-2-4v4m-1-4h4m-8 11v2m3-3v3m3 0h2m-1 3h3m39-3v3m3-2h4m-4-5h2m3 0h2m-1 4h3m-3 3h2m-1 1h2m-1-8v3m1 5v3m3-3h2m3-1v2m5-6v2m2-5h2m-2 4v4m1 0h2m0-3v2m0 1v3m0-8v2m63 2h4m-4-2v2m9-6v2m0 2h2m-1-5v2m1-1h2m-1 4v3m1-2h4m1-1v3m1-1v3m8 7v3m-5-11h2m-3 5h2m-3-3v3m-20-4h2m-3 3v4m-1-7h2m-2 2h3m-3-2v3m-1 2v3m-1-9v4m0 2v2m-1-2h3m-69-4v2m-4-2h4m-5 1h4m-43-1v3m0-3h2m-4 3v4m0-5v2m-2 1h2m-55 9v4m56-8v4m2-7h3m1 0v3m1 4v4m3-3v2m0-5h2m93 0h2m-1-5v2m1 4h4m-3-5h3m0 5h4m-2-3v3m16-2h4m-1 0v4m0-6v4m3 2h3m0-3h2m-1-5v2m0 3v4m89-2v4m66-8v2m6 2h2m-1 0h3m-2-3v4m4-2h4m-3-1h2m0 0h3m4 10h4m-12-6h3m-3 1v2m-1-2h2m-2 2v3m-6-1v4m-1-5h3m-11 1h3m-10-4v4m-4-2v2m-3 1h3m-5 2v3m-30-5h4m-7 1v3m0-7v4m-1-1v4m0-4v2m-4 0v3m-3-5h3m-5-4v2m-2-1h3m-7-1v3m-95-5h3m-6 5h4m-25-1h2m-3 3h3m-4 1v3m-93-10v4m-2 0v4m-1-7h4m-4-2v4m-2 3h4m-22-3h2m-7-4v2m-1 4v3m-8-7h4m-7 3h4m-4-5v4m0-2h4m-6-2v2m-1 6h4m-6-5v4m-2-3h3m-7 12h4m22-3h3m-3 2v3m2-7h3m14 5v3m5-2h3m-2-7v4m6 1h3m-2 2h3m84-7h4m28 4v2m133-7v4m0-3h3m-2-1v4m2-4v4m46 10h2m-3 1v2m-183-1h2m-2-7v3m0-3v3m-1 4h4m-4-7h2m-2 3h4m-8 1v4m-1-2h4m-34 2v4m-86-10v2m0 0h3m-5-3h2m-3 1v2m0 3v3m-1-8h3m-3 3h3m-5 3h3m-6-3h3m-41-4v3m-3-3v2m-3 4v4m-1-7v3m-1-7v4m-2 1v2m0-6h4m-5 0v3m-1-3v4m-5 2h2m-52 1v2m8 6h3m-3 0v3m1-5v4m0-7h2m-1-2v2m2-1h4m-4 0v2m5 4v4m2-4h4m-2-2h2m5 1h3m-1-1h3m-2 0v3m0-1v2m2-4v3m2-2h4m-3 2h4m0-3v4m2-7v3m1 1v3m1-3h3m-2-1v4m54-9h3m0 3v2m1-3h3m-1 1v2m1-5v3m92 5h2m33-8h4m1 7h2m121-2v3m1-3v4m1-1v4m56-12v2m1-2v3m10 8v2m0 3v4m0-5v4m0-5h3m-3 1h4m-38-1h2m-2-1v2m-1-1h2m-3 1v3m0-5v3m-2-6h2m-5 5h2m-11-6v4m-5 0v3m0 0v3m-14-2h2m-128-1v4m-4-4v2m0-9h2m-3 7v2m0-5v3m-2-5h4m-4 1h4m-33-1v4m-6 2v2m-64-3v3m-102-10v2m88 10h2m-1 5v3m0-5h2m0 2h2m-1-2v2m0-1v3m1-8h3m-2-1v2m0-2h3m-1 1h3m-2 2v3m2-7v4m0-2v3m2-2h2m-1-3h4m17 8v2m4-5h3m-2-1v2m2 1v3m2-5h4m-4 0h3m2 0h3m0-1v4m3-4h2m3-1v3m15-3v2m0-4h2m-1 3v3m0-5v3m1-4h4m-1 4h2m34-1v4m1-5v3m1-6v3m0 2h2m-2-3h2m2 0v3m127-2h3m-3 2v3m4 0h3m-2-4h3m-2 3v2m2-2h4m-1-7h2m53 0h2m-2 0v2m0-2h4m-60 9h3m-4 5h4m-5-1h4m-5-2h2m-2 1h3m-4 4h4m-6-5v3m-1-5v2m0 1v3m-2 2v3m-1-7v4m-1 0v3m-1-6h2m-2-4h4m-130 1v4m-1-1v3m-1-1v3m0-3v2m-1-7v3m-5-4h4m-5 5h2m-51-3v2m-23-1v3m-8-7h2m-3 3v2m-25-1h4m-9 0v3m0-1v4m-2-10h2m-3 2h2m-5-2h4m6 9v2m61 1v4m3 1v4m15-5v4m6-4h2m11-1v4m2-4h2m-1 0v4m1-9h2m-2 0h3m-2 5v3m1-8v2m10-3h2m128 0v2m3-1h2m-1 1h4m-2-1v4m2-5h3m-2 6v4m2-6v3m1-4v4m0-1h2m1 2h2m48 4h4m-14 2v2m-1-2h4m-5 3v3m-36-5h4m-5-1v4m-2-8h4m-4 2h3m-4-2v4m-5 1v2m-3-2v2m-1-2v4m-162-10h4m-24 7v3m-1-2v4m-2-7h3m-5-4h2m-4 0v3m0 1h3m-7 0h3m-3-3v3m-5-2h3m-16 5h4m-7-4h4m-40-1v4m26 2h4m-2 3h3m-1-3h2m3 2v4m1-4v4m1-5v4m1-2v3m3-2h2m2 0v3m214-3v4m0-2h2m-1-3v2m30 3h3m-3-2v2m2-3h4m-3 0v4m4-2h3m-2-6v4m1-5h4m-4 4h3m-3 2v3m5-5v2m1-6h4m-13 15h3m-3-6v2m-1-1v3m-1-4h2m-3 6v2m-2-6v2m-12 5h3m-210 16h4m-17-1h2m-3 0v3m-4-3v3m0-1h2m-37 9v2m3-3h3m6 0h3m-3-2v2m1-3h3m0 4v2m28-2h3m0-5h3m-3 3h2m1-6v4m2 0h3m-1-2h4m-3 2h2m-1 2v2m4 0v2m0-2h2m-2-5h3m-2 4h2m0 1h4m0 0v2m1-5h3m0 3v3m1-7v4m1 0h4m-2-3h3m-3 2v2m1-3v3m3-2h4m-2 0h4m1 4h4m-6 3h3m-7-2v3m-2-5h3m-6 1h4m-9 4v4m-1-4h2m-2-4v4m-8 0h3m-4-3v2m0-4v3m-21 3h3m-42-3h4m-11 0v4m-1-4v2m-1 1v2m-2-6h3m-40 14v2m10-4v3m2-2h4m35-7v2m36 6v2m1-5v3m3-4h4m-4 0h3m-1 3h2m-1 0v3m2-2h2m-1-2h2m-2-2v4m3-1h2m2-5h3m1 5v3m6-6h4m12 8v3m-3-4h2m-2 6v4m-1-11v3m-3-1h3m-6 4v4m-2-5h2m-9 2v4m-1-4v3m0-8h4m-5 0v2m-2-3v3m-3-4v3m-1 2v3m-2-4h2m-39-3v3m-40-5h3m-33 5h3m-3-4v3m0-2h4m-10 4h4m-4-2v3m0-1v4m-3-6v3m-1-3v2m-2 0v2m-1-1h3m-70 9h4m2-2v4m0-2v4m16-5h4m-4-1v4m3-7h4m-3 1v2m1 3h3m-2-3h3m-3 1h4m0-2h2m2 0h2m-1-3v3m1 2v2m1-8h3m-1 6h3m-3-6v3m3 3h2m3-2v3m0-6h2m27 0v3m1 4h4m-4-6h4m15 2h2m80 2h2m7-5v4m8 3v2m0-3h3m-2-1v4m4-2v2m1-7v3m1 0v2m0-2h2m0-2v4m4-2v4m3-5h4m-4-3v2m0-1h3m152 12v4m-5-3v3m-2-4h3m-8-2h3m-6 4h4m-148-8v2m-3 5h2m-6-4v4m0-2h3m-3 1h3m-4-2h4m-24 3v2m-98-8h4m-5 5h2m-2-3v4m-2-4h2m-5 1v2m-4-4v2m-14 4v3m-3-3v3m-5-6v4m-2-9h3m-6 1v3m-1 3v3m0-6v2m-1-1v3m0-7h4m-5 4h4m-6 3v4m-1-6v3m-1-9v4m-1 3h2m-3-6h4m-4-1h3m-10 7v3m-4-10h3m-7 6v2m0-7v3m-1-3v4m-2-4h2m-14-1v2m-4 5v4m-2-7h2m-3 2v4m-3-8h3m-3-2h4m-3 15v4m1-2h3m-3-4h4m-3 3v3m0-5v3m10-6v4m5 0v2m0-3v2m1-4v3m0 1h3m3 0h2m4 1h4m8-5v2m3 1v3m0-9v4m0-1h4m-4-1h2m4 5h2m-1 0v3m0-4v2m1-1h4m-4-3h2m2-2h3m7 6h2m-1-6v4m1 1v4m0-7h3m-2 2v3m1-3v2m133-8v2m1 6h3m-3-1v3m4-2v2m0-6v3m2-6v2m1-3h2m139 2v2m3-4h4m-3 2h2m-1 3v3m1-7h3m0 1v2m0 1h4m-4-3v3m2-2h3m1 4h3m-2-1h4m-4 1v4m2-5v2m2-7v2m0 4v2m1-3v3m1-7h4m-3 1h3m1 1v2m0 2h3m-3-4v4m5 9v2m0-6h2m-4 1h4m-6 0h2m-6-5v4m-9-2h2m-4-1v2m-159 0h4m-7-3h4m-6 0v2m-98 3v4m-9-8h4m-10 2h4m-11 5h2m-5-3h3m-6 1v2m-1-7v4m-1 0v2m0 1h4m-18-4h2m-2-3v3m-3 1h3m-3 2v3m-11-3h4m-4 0v4m-6-3v3m-1-3v3m-12-7h2m-3 2h4m-5-4v4m-4-5v2m-7 5h2m-6 0v2m-4-3h2m-4-2h4m-4 2v3m-1-9v3m-3 10h4m1-3h2m0 1v3m2-1h3m-2-3v4m1-4v2m3-3h4m-4 1h4m17 4h3m1-4h4m-3-1h2m4 5h4m-2 1v2m2-5v2m1-4v4m5-4h4m-2-1h2m16 4h4m21-4v3m5 2v2m3 0v4m89-6h2m139-4v3m1-5v4m1-1v3m1-1h2m46-1h4m-5 7v4m-1-3h4m-5 2v4m0-4v2m0-1v4m-33-8v4m-5-2h3m-5 4v4m0-4v2m-2-6v4m-6-8v3m-143 0v4m-154-2h2m-3-3v2m0-1v2m-4-1v4m-1-4v3m0-3h4m-5 1h2m-4 2h3m-5 0h3m-3 0h2m-3-4v2m-2 0h2m-2 3h3m-4-5h2m-2 4h2m-13 9h2m-2-2h3m-2-4h4m-3 6v2m0-4h2m1-3h4m-2 6h4m-3-4h4m-3-4v4m1 4v4m3-5h2m-1-3v4m0-6v2m2 0h3m-2 1v2m2 1h3m-2-7v2m3 0v4m7-3v2m12-4h3m5 3h2m4 1v3m129-1h3m-2-4h2m145-4v2m11 6h3m-2-2v2m15 0v3m0-3v3m2-4v2m1-1v4m1-6v3m3-2h3m1 1h2m-1-5v4m-7 3h3m-3 2h3m-5 0h4m-6 5v3m-1-10h2m-3 5v3m-2-7v3m-1 3v3m0-8v4m-3 1h4m-15-5v3m-6 1h4m-4-1v2m-151-2v4m-1-9v2m-3 1v4m-98-2h3m-18-6v2m-1 0v2m-27 3v2m-2-6v3m-2-4h2m-3-1v3m-5-4h3m-4 0v3m-1 0h3m-7 2v3m-1-7h4m-13 5v3m-1-7v3m0-3h2m-3 1v3m0-5h3m-5 2v3m1 5h4m15 3h3m2-5v2m2 1v2m131-2h2m11 3v2m9-3h3m-2-3h4m-1 5h3m139-7h2m1 2v4m1-4v3m1-3h2m15 2v3m0-5v4m-164 8v4m0-6v4m-2-6h4m-4 0h4m-115 1h2m-35 1h2m-23 0v3m-1-2v3m0-5h4m-7 1h2m-8-1v4m-1-3h2m-4-2h3m-3 13v4m138-3h2m35-5v3m1 13h4m-5-6h2m-3 1h3m-6-1h2m-3-1v2m-151 1h3m-5-3v2m-14 0v4m-17 5h4m-3 1h3m183-4h3m1 7v2m1-7h3m-2 10h3m-185 3h2m181 4h2m-1 0h4m-4 0h3m-2 0v2m0-2h3m0 0v4"/>
</g></g>
<g clip-path="url(#cq02)"><g id="d12" transform="translate(449,297.4) scale(0.25)">
<path stroke="#2b2b2b" d="M418 10h2m-30 9v3m1-1v4m13 0v4m19 3v3m-18-5v3m-2 2v2m-2-4v3m-2-1v2m-4-8v2m0 1h2m-8 2v4m-1-4h4m-12 3h3m-3-1v4m1-4h4m6 7v3m1-7v3m1 1h4m0-1v2m2-4v3m8-5v4m7-5h4m-4 0h4m0 0v4m2 2v2m3-8v3m-12 11h2m-4-4h4m-5-2h3m-4 0h3m-10 0h3m-15 6h2m-4-5h3m-7 11v4m5-7v2m1 2h3m12 4h2m-1-1h3m-2 0v2m2-4v2m7 0v2m2-4v4m3 2h4m-5 5v2m-9-3h4m-7 2v2m-3-9h3m-8 1v2m-387 12v3m391-10h2m-361 15h4m-7-4h4m-5 4v3m-1-6v3m0-2h2m-4 3v3m-2-5v3m-2-4v2m-2-4h2m-3 4h4m-5-1v4m0-7v3m-2 1h3m-7 1h4m-12 0h4m-5-7v3m-1 3v4m-2-10v4m-4 10v3m0-3v3m0-3v4m0-1h4m11-4v4m6 0h2m0-4h2m4-4v2m2-2v3m5-3v3m2 0v3m0 0v3m1-6h4m-2 4h4m-3-2v3m6-1v2m102 6h2m-5 1v4m-87-11v3m-11 2v4m-2-9v2m-1 0h2m-3 5v3m-2-6h4m-4-3v4m-2-5v4m-19-4h2m-10 8v3m-2-3v4m0-4v3m0-11v4m-5-1v3m-1 1v2m-4-7v4m-2 10v3m0-3h3m-3-6h2m-1 1h4m-3 3h2m21-3v3m1-3v4m1 0h3m-2-1h2m3 1h4m-4-3v4m0-4v3m4 1v2m6-7v2m1-2h2m4-1v3m77 3v2m2-5h3m10 0v2m1-2h3m-2-2h4m-4 2v4m2-4v4m2-1h4m-3-7v2m1 0v2m0-3v2m0 8h2m-3-2h4m-5 5v4m0-3h3m-3-4h4m-6 3v2m0 0h4m-5 1v3m0-3h2m-3-5v4m0-2h2m-5-5h3m-8 3v3m-2-1v2m-6-3v3m-53-2h2m-5 3v2m-6-6v4m-23-3v4m0-6v2m-32 0h2m-13-2h3m-3 2h2m-2-4h2m-2 5h4m-4-1v2m0-4h2m12 8v2m6 2h3m2-5h4m-4 7h3m0 0v4m1-6v3m3-5v2m29-6h3m-2 6h3m-3 1h4m-4-1v3m0-8h4m-3 7h3m0-1v2m3-4h3m-3-3v2m4 0h4m64-1v2m-71 7h3m-10-1h2m-4 4h2m-7 1h3m-3 0h2m-14-1v4m-2-7h4m-8 0v2m0-4h3m-6 1h3m-38 5h4m-4-7v4m0 7v4m0-4h4m-4-1h2m6 5h2m0-5v4m3-4h2m1 0h4m-3-1v4m8-3h4m-3 6v3m0-2h4m2 0v4m11-8v2m2 0v3m2-9v4m8-4h2m1 2v2m1 1v4m1-8h2m1 4v4m3-5v3m0-6h3m33 3h3m-2 2h2m0 0h4m104-1v3m0-2v3m4-5h3m1-3h3m-3 7h3m0-6v3m1 0h3m-2 0v4m170 6v2m-2 0v4m-169-9h2m-3-2v3m-9-3v3m-7-1v4m-97-4v4m-4-1h3m-5 1v3m-1-6h2m-39 2v2m-2-3h4m-4-3v2m-2 0h4m-5-2h3m-4 3h3m-5-4v3m-2 3v2m-4-6v2m-2-2h3m-6 1h4m-6 2h4m-7-2h2m-16 0v4m0-3v2m-1-3h3m-6-4v2m-1 0v2m-5 3v3m-2-4h3m-5-6h3m-7 5h3m-14 3v2m0-4v4m0-3h2m-1 2v2m3 5h3m-3-3v4m5 0h2m-2-3h3m9-1h3m-1-1v4m9-2v2m0-3v2m0 1h3m0 0v2m14-9v4m2 1h3m-2 3v3m2-10h4m-4-1v3m4 5v3m0-5v2m3-3h2m-1 1v2m149-1v2m1-1v3m7-9h3m-2 4h2m159 2h2m1-5h4m-2 4v3m2-4h4m-2-1h2m8 2h2m2-3h3m12 13v2m-2-7v2m-1-3h3m-6 0v3m-24-5h3m-4 3h2m-6-2h4m-4 6v3m-1-10v3m-2-3h3m-7 1h2m-2 2v3m-154-2v4m-2-7h3m-4 3h4m-9-1v3m-1-5h4m-5 2v2m-1-1h3m-5-3v2m-156-3h3m-13 8v4m-12-8v4m-3-7h2m-2 7v3m-2-9v2m-3 4v4m-3-12v4m-6 3v4m0-3v2m-4-7h3m-5 3h3m-5-3v4m-2-3v2m-1-4h3m6 9h2m4 1h3m-2-3v2m3 1h4m-2 0v2m6 0v4m72-9h3m102 6v4m17-3h2m1-5v3m4-2h4m142-2v4m14-5h2m-1 2v4m24-3v2m7-1h3m2-2h4m-4 1v3m-15 11h2m-12-5h3m-4 4v3m-2-10h2m-178 0h3m-3 7h3m-16-3h3m-5 0h4m-14 3v2m-2-4v4m-7 4h3m6 2v4m6-6v3m5 1v4m16-12v3m176-1v4m2-1v2m4-4v2m3 3v3m0-8h2m-2 0v3m16-2v2m-9 8v4m0-6v2m0 1v2m0-6h2m-5 0h2m-5-2v2m-1 2v3m-4-2v3m-1-1h3m-188 1v4m-5-4h2m-3-5v4m-19-2h2m-3-1h4m-12-3v2m-4 3v2m0-1v4m-1-6v4m-3-2v4m-1-7v3m-1-2h3m-12 2h4m-12-2v4m-1-1v4m0-4h3m-10-1h2m-6 0v4m-3-6v2m-24 4h4m-3 0v3m1-1h4m-4-2v4m6-2h4m-2-2h2m0 0h2m-1 3v2m2-3v4m15-6h4m-4 2h3m-1-4v2m1-1h3m15 6v3m0-8h2m-1 1v3m1-4v4m1-6h4m2 7h4m-2-2v3m1-4h4m12-1h3m10-2v4m0-3h3m177 2h4m-2-2h2m2-1h2m2 7v3m0-11v4m1 1v2m1-5h2m0 3h3m-2-5v2m2-1v4m4 0v2m5-5v3m0 1h4m-1 0v4m2-7h2m-7 8v4m-3-4v4m-2-2v4m-6 0h4m-4-7h4m-12 1v2m-2 1h3m-4-3v3m0-3v3m-2-2v4m-10 0h4m-206-3v2m0-2h3m-4 1v3m-4-7v2m-3-2v2m0-3v4m-2-3v4m-21-1v4m-4-5v2m-2-2v3m0-3v2m19 4v3m218 4v3m1-10v4m0-3h4m18-1v2m6 0h2m-256 41v2m2-1v2m20-2h2m33 4v2m-5-2h4m-23-1v4m-12-2v2m-1-4h3m-5 4h2m-20-6h3m-7 7h2m-3-4v2m-2-4h2m-4 5v4m-5-9v4m-10 3h2m-7 9h4m-2-3v4m24-6v2m2-5h4m-2 3h4m6 0h3m-2 0v3m1-4v3m2 1h2m5-4v4m1-3v2m4 0h2m5-2h3m-2 3h3m0-5h3m1 10h3m-5-2h3m-7 2v4m-21-5h4m-6 3h2m-5 3v2m-1-9v2m-2 5h3m-3-2h3m-4-3h4m-20 2v4m-2-2h4m-5-1v4m-1-6v2m0-1v3m-7-3v2m-4 0h2m-3 2h4m-16-3v2m-4-5h4m-12 4v4m-3-4h3m-9-5v3m-71 13h3m5-2v2m47-7v2m19 2h2m-1-2v3m2-1h2m-1-1v2m2-2h2m-2 2v4m3-3h2m-2-5h4m-2-1v2m8 1v2m1 2h3m10-3v2m1-4v4m0-4v2m1 2h4m-2 0h3m-1 0v2m1-1h3m14 0h4m-2-1h4m0 0v4m0-4v2m7-3v4m2-3v3m6-2h3m0-6v2m2 2h4m11-6v4m-21 5v4m-2-1v4m-6-3v2m-1-4v4m-5 1h2m-3-3h2m-10-2h3m-17 0v3m-2 0v2m-1-4h4m-5 4v2m-1-9h4m-15 3h2m-12 2h3m-4 0v3m-21-2h4m-7-3h2m-4 1h2m-5 3v4m-15-9h4m-6 0v2m-3 1h3m-5 0h4m-7-2h4m-4 5h4m-6-2h3m-5-3h2m-31 1h4m-7-2v2m0 3v4m-15-11v4m77 8v2m1-3v3m3-2v2m3 2h4m-3-7h2m8 2v3m1 2h3m0 1v2m0-4h3m-3-2h4m1-4v2m8 1v2m7-2h3m-2-1h4m-2 1v4m0-4v3m5 0h2m0-6h2m-2 6v4m2-6v2m12 1v4m0-4h3m-2 1h3m1 0h4m-3 0v2m4-2v3m3-9v4m6-3v4m0-6v4m1 3v4m1-11v3m3 2h4m0-1h3m3-5h3m-2 0v4m1-3h2m-2 0h4m6 3h3m170 3h4m-4-1v4m0-2v2m1-3v4m2 2v4m-1-2h3m-7 0v2m0-4v2m-7-3v4m-5-4v4m-156-5v4m-1-1h2m-5 3h3m-6-6v4m0-4v2m-4-3h4m-6 6v4m-1-6v4m-1-5h3m-14-2h3m-4 2h4m-6-4h2m-3 2h2m-4 3v3m-5-5v4m-3-4h3m-9-3h4m-17 3v2m-7-4h2m-5-1v2m-9 0v3m-3 1h2m-11 1h3m-4-3h3m-5-4v2m-4 1h3m-84 0h3m-4 0h4m-18-1h2m-12 2v4m0 0h2m-2 2h4m-4 4v3m0-5h4m-4 0v2m8 0h3m85-3v2m1-3v3m15-2h3m1 1v3m0-3v4m1 0h3m-3-5h3m-2 0h2m0 0v3m0 2v4m4-11v3m8-3v3m2-2h3m0 3v3m1-5h2m-2 3h2m1 3v2m1-6h4m-2 2h2m2 2v4m5-6v3m6-2h3m6-7v2m3 3v4m1-7v2m0-2v4m11 0v4m0-2v2m1-3h4m-2-2h3m-2 2h3m-1-7v3m3-3v4m2-4h2m-1 6h2m159-6h2m6 8v3m2-10v3m3-1h4m8-2h4m-3 0h3m-4 12h3m-6 4v3m-7-11h3m-9 4v4m-2-8h4m-7 7h3m-4-1h4m-10-5v2m-2-1h4m-160 6v2m0-2v2m-1-8v4m0 2v2m-4-8h3m-7 1v3m-1-3h3m-41-3h2m-3 3v4m0 0h2m-3-7h4m-5 5h3m-4 3h4m-5-3h3m-21-4h4m-6 6v2m-1-7h3m-11 1h3m-8-1h2m-5 1h3m-5-2v3m-83 4v2m-3-9v2m-1 0v2m-6-1v2m-2-6h3m-4 2v4m0-5v3m-4 4h3m-6-5v3m0-5v4m0 5h3m-1-1v2m10 1v2m10-3h2m-1 0h4m50 6v3m33-11h3m12 1h2m2 1v4m15-1h2m0 3v3m1-4v4m19-3h4m-2-5v4m1-3h2m-2 1h3m0 2h3m5 1h3m-1-3h4m10-5h2m1 4v2m161-6h2m1 7v3m13-5h3m-3 3v2m-9-1h3m-169 6h2m-3 2h2m-3-2v4m-1-9h4m-7 5v3m-3-4v3m-2-8h3m-3 4v3m-1-1v4m-3-6v2m0 2v3m-2-6v3m-2-2h4m-8-6v4m-4 2v3m-2-2v2m-4-5v3m-1 1h2m-2-7v2m-2 1v4m-3-6h3m-3 2h2m-3-4v3m-7 1v2m0 2h3m-4-5h3m-5 0h4m-10-1v2m-17 0v2m-4-6v2m-1 3h3m-6-3h4m-37 4v4m-54-2v2m-9-2h3m-5-4v4m-19-3v3m-3-6h2m-2 1v4m0-3v3m0-4v4m0-7h4m-1 11v2m7-4v4m1 1v3m5 0h4m-4 0v2m82-8v4m1 0v2m20-1h3m6-3h4m21 3v2m22-7h2m-2-2v4m1-3h3m0 4v4m5-8v3m5-4v4m0 4v2m1-9h2m1 7h4m-2-6v4m-5 7h3m-6 2h2m-7-5h2m-3 5h4m-11-6v3m-5-3v2m0 6h4m-5-6v3m-1 0v2m0-3h2m-3 2v2m-2-3v2m-3 1h4m-7-3h3m-4 3h4m-6-5h2m-3 1h3m-6 3h4m-13-1h2m-9 2v4m0-4v2m-3-5v2m0 0v2m-2-6h4m-4 0v4m-10-2v3m-3-8v2m-3 1v2m-11 1h4m-7 2v2m0-9v2m-4 0h3m-20 2v2m-12 1v3m-38-9v3m-4-2v4m-1 1h4m-9-3v4m-3-8v4m-1 2h2m-10-5h4m-7 3v4m-3-2v4m-1-5v2m0 9h2m-2-4h3m8 1h2m-2-1h2m1 4h3m-3-3h4m-3-3v2m2 0h4m1 3h2m0 1h4m-2-8h3m-2 7v4m0-9h2m0 1v3m2-6h3m-2 2v2m7 1h2m-1 3v4m6-6h3m2-2h3m14 3h2m-1-2v3m1-3h2m-2-2v2m2-5h4m28 3v4m1-7v4m1-2h3m-1 2h3m-2-2v2m3 4v2m2-4h2m-1-2v3m2-1h2m1-2v2m2-5h2m-1 2h4m-2 3h2m10-4v2m2-4v2m0 1h4m-3 0v2m1-1v4m0-5v4m12-1h2m-2-2v2m2-2v4m0-4h3m-2 0v2m0-6h4m-2 7h4m-2-5v2m1-1h4m-4 2h4m3-5h2m1 0v3m1 1v4m2-5v3m12-6v2m2-2h2m10 8h3m-1 2v4m-4-4v3m0 0h4m-6-3h2m-3 1v4m-8 2v4m-1-4h3m-5-7h2m-2 4v2m-3-3v4m-2 0h4m-7-7h4m-15 0v4m-6-2v2m0-4v2m-2 2h2m-5-2v3m-1 1v3m0-9v4m-3 3v3m-18-7v4m-2-3h2m-2-3h3m-11 3v2m-1-2v4m-4-1v4m-5-11h3m-4 6h4m-7-6h3m-10 2v2m-5-3h2m-6-2h4m-27 5h2m-11-5v2m-40 3h3m-21-1h4m-6 12h3m-2-3v3m1 1h2m-2-5v3m1-5h2m2 1v4m25 2v2m1-6v2m2 0v2m2-2h2m-1-3v2m6 1v4m2-4h2m3-3h3m0-1v4m0-4h3m-1-1h4m16 5h2m1-2v2m2 1h4m-2-4v2m0-2v4m2 0v2m0-3h3m2 0h4m-2 0h2m1-6v3m8-2v2m3 3v4m4-7v3m0-6h3m-3 4v2m6-6h3m3 0v3m4-1h4m-2 6h4m-1-6v3m2 0h3m-2-3v4m0-1h4m-1 2h3m4-7h2m4 6v2m0-8v4m0 0v3m4-6h2m3 2v4m2-2v3m16-8v4m2 1h4m-1 1h3m-2-1h4m2 1v3m0-3h3m12 4v4m-10 0h3m-5-2h4m-5 0h2m-2 1h4m-7-2v2m-23 4h3m-7 0v3m-8-3v4m-8-8h2m-2-3v4m-8 0h3m-5-4v3m-2 2v4m-1-2h2m-6-7h4m-8 7h3m-4-2v3m-1-7v3m0-4v3m0-4h3m-6 7v2m0-5v3m-2-5v3m-2 0h3m-5 0h2m-3-4h4m-9 5v2m-9-2v2m-1-4v4m0-2v2m-3-6h3m-7 2v4m0 0v2m-5-8h2m-3-1v3m-2-4v2m0 6v2m-2-2h2m-12-8v2m-3 6h3m-4-4h3m-9 0h4m-4 2v2m0-3h2m-7-2v3m-6-1v4m-4-5v2m-8-6h4m-7 3h4m-6 2v4m-2-4h2m-3-1v2m-2-5h2m-7 6v3m-1-9v2m-1 0h2m-5 5h3m-3-5h2m-3 4h2m-14-5h4m-4 1h4m-4 2h3m-7-4v3m0 1v4m0 1h3m0-1v4m1-4h4m-1 1v2m1-2v3m2-3v3m1-4v4m4-3h3m-1 0h4m-2 0h2m0 0h3m-2 0v3m4-3v3m12-4h3m0 1v3m7-3v4m2-4v3m6-3h4m3 0v2m4-2h3m-3 0h3m5 0v2m4-2h3m0 0v4m8-4h3m-3 0h2m0 0h2m5 0v4m2-4v4m18-4v3m1-4v2m4-1h3m-2 0v2m2-2h4m-2 0h4m0 0h4m-2 0h3m1 0h2m0 0v2m1-2v2m2-2h3m-1 0h4m0 0h4m-2-1h3m0 1v2m4-3h3m-2 1v4m0-4h2m5 0h2m19 0h4m6 0h3m-2 0h4m0 0v4"/>
</g></g>
<g clip-path="url(#cq12)"><g id="d13" transform="translate(573,297.4) scale(0.25)">
<path stroke="#17becf" d="M61 6v3m2-3h3m-2 0h4m-4 0h2m340 1v4m2-5v3m2 8h3m-4-4h2m-17 1v3m-328-2v4m-8-10h3m9 15v2m308-2v4m10-6v3m1-2v2m20-2v3m-29 7h4m-4-4h3m2 9h2m10-2h2m-2 2v3m10 2h4m-1-5h4m1-2v2m-10 15h3m-11-5h3m-6 0h2m-4-1h3m-7 1v2m13 21h3m-16 0h4m0 5h2m-337 10v3m-19 0h3m-9-6h3m-24-2v3m-5 10v3m65 0v3m88 0h2m-5 3v4m-114-8h3m6 10v3m74 2v2m5-4v3m2-5v2m16-3v4m6-4v3m1-4h4m7 5h4m-21 9h4m-26 3h4m-57 0v2m-15-9v3m-23-4h2m-7 16v2m2-1v4m96-8h2m2 3h4m99-4h3m3 2h2m-6 7h3m-22 3h2m-5 1h3m-3-4h4m-104 1h4m-11 0h2m-5 2v2m-33-8h2m-5 6v4m-7-2v3m-21-8h4m-17-1h2m-25-1v3m0 4h2m0 3v3m3-3h2m1 1v4m0-6v2m11 3h4m35-6v3m46 1v3m116-1h4m111-3v3m68-2v4m-3 9v4m-1-4v4m-18-12h4m-46 6h3m-268-2h3m-21 1h2m-27 1v3m-5-8h4m-14-1h3m-19 14v3m8-3v2m10-6v4m40 2h3m-1-3h4m-2 4v2m2-2h2m20-2h4m129 2v2m153-8v3m14 1h3m-158 10v2m-9-6v4m-12-2h3m-5-4v3m-183-1h3m199 10h4m2 3v2m4-4v2m154 0h3m15-3h3m17 6v3m-52-1v3m-158-3h4m-25-3h4m-79 7h4m3 6h3m14 1h3m68 3v2m7-10v2m143 6v4m40-6h2m-1-4v3m2 0v2m4 6h2m-182 4h3m-4-4h2m-14-4v4m-3 4h4m-22-8v3m-2-1v4m-40-6h3m-8 4v4m-5 0h2m-3-6v4m-38-3v2m22 4v4m234-1v4m43 1v3m8-8v3m3 10v3m-6-4h4m-245 2h3m-7-3v2m-1 0v2m-52-8v4m266 5v3m2-3v2m31 1v4m-36 1h4m15 9h2m-217 17v2m-5-3h2m-21 9v3m14-8v3m20-3h2m3 0v3m19 3h3m-2 0h3m0 2h2m-2-1v3m-11 1v2m-5 1h4m-5-3h2m-12 2v2m-2-4h2m-16 4v2m-48-6h3m-31 12h2m2 1h4m24-7v3m20-3v4m56 7h2m-19-1v3m-4-1v4m-35-4v3m-4-2h4m-25 2v3m-14-5h2m-38 2h3m-7-1v2m-40 2v2m0 1h2m7 0h3m12 3v3m49-10v2m5 2h4m0-3h3m22 7h2m0-7v3m20 3v4m9-4h3m3-4h4m-1 0h3m24 1h2m-10 5h3m-68 5v4m-10-7h2m-20-2v3m-55 4v2m-22-5v2m-21-1v2m-9 0h4m-5-7v3m0 8v3m1-5v3m1 5v4m27-10h2m2 6h2m18-5v2m81-1h3m6-2h2m13 3h4m6-1h3m28 4v2m162-9v4m12-5h4m-2 1v3m4-1v3m-37 8h3m-143-3h3m-41-2v2m-30 6h3m-32-8v4m-12-3v4m-4 0v3m-10-6v2m-17-4h2m-48 7h4m-9 0h4m-7-5h4m-12 6v2m0-8v2m48 9h2m32-4v4m27-1h4m58 4h3m13-4v3m1-5v4m1-1v4m1-1v4m1-3h3m1-2v4m149-2h4m6-7h3m26 0h3m-16 9v2m-9 0v3m-16-3v3m-151 0v3m-50-6v2m-9 0h4m-30-4v3m-53-4v2m0-1h2m-24 2h2m-36-3h3m-3 7h2m-2-3v3m1 4v2m19 2h4m-3 1h4m-4 0h3m137-1v2m193-6h4m27-2h3m-188 17h2m-3-5v4m-2-6v2m-5 5h3m-36-5v2m-130 3h2m-29 0h4m-2 2h2m44 6v2m51-4h3m38-1v4m38-2h4m24-6v4m166-3v4m-167 5v2m-13-2v2m-2 4v2m-24-4h2m-17 2v2m-3-6h4m-12 2v3m-9-3h3m-5-3v2m-6-4v4m-81-1h3m-8 2h4m-17 3v2m-26-3v4m0-6v3m0 8h3m12 0v3m113-5h2m36-3v3m4-5h3m3 2v4m34 11h4m-8-3v4m-2-8h3m-43-1h3m-13 5h4m-9 0v3m-19-3v3m-38-4v2m-27-2v2m-2 0h4m-6-1h3m-40-5v3m-21 5v4m0 5h3m1-8h3m1 3h2m74 3v3m16-9h4m27 0h2m3 17v3m-16-11h3m-66 8v4m-56-10h3m-5 8v3m5-3v3m14-3h4m28 0h2m81 0h4"/>
<path stroke="#d62728" d="M394 9v2m-331 5h3m-13-5h2m358 12v2m18-2h2m-33 10v2m-21-3h4m-324-5v3m336 6v4m35-2v2m-41 16v3m19-2v4m12 7v4m-28 6v4m20-10v3m10-3h3m-396 24h4m2-5h4m100 15h2m-120-5h4m-7 0v3m-12-5v2m8 9v4m23 0v3m20-5h3m89 8v4m-91 21h4m20 7v4m327-6h4m-302 7h2m-39 1h2m-7 1h2m18 5v2m310-4h2m-15 16h4m-147-6v2m-195 3h4m384 17h3m-5 0v3m-35-6v3m-235 10v4m32-8h2m230 12h4m-47-4v4m-188-4v3m-14 13v2m35 50v3m3 2v2m-53 13h4m8-1h3m-108 8h2m-67 11h2m183-7h3m-66 12v3m-98-3v4m26 6v3m36-5h2m105 6h4m-16 7h4m-10 1h4m-144-2v2m-39 2h2m375 3h4m-21 5h2m-240 2h2m-117 0h3m-10-1h2m60 11h4m71-3v3m36 2h3m181 6h2m-153 4h3m-54 0v4m-55 1h2m26 6v2m70-9h2m6-1h2m-80 10h3m-68 0v2m-53-1v3m-10 9v2m52-7h2m72 7h2m46-1v4m-3 2h3m-15 1h3m-44 2v2m-95-4v2m10 8v4m18-4h3m28 2h3m45-1v2m-16 4v4m-52-4h4m-34-2h2m-24-1v4m-6-3v3m6 6v2m40-2h2m22 0v4m15-4v2"/>
<path stroke="#ff7f0e" d="M395 9h2m-324 2v4m-23-2v2m379 10v3m-16 6v3m-1-4v3m-18 10v3m-5-1h4m27 7h4m4 7v4m-27 5h3m-17 1v4m-330 8v2m-13-3h3m-10 5v3m-23-1v4m8 1v2m20-5h2m99 4h4m-106 17h4m84-1h3m21 3v2m-74 4v2m-21 3v2m12-2h2m142 16h2m-186-2h2m-22 1v4m201 1h4m167 11h3m-351 5h2m2 2v3m391-5h2m-195 17h2m-6-7h4m-172 5h4m-34-5v3m-28-4v3m96 7h3m102 7h4m194 0v4m22-11h2m-26 12h2m-20 4h3m-152-8h4m-12 7h3m-7-3h3m-210-4v4m113 5h2m43 5v2m16 0v4m224-9v2m-195 9v3m-23-6h2m-3 1v4m31 9h4m189-3v2m6 5v4m-227-1v2m-7-4v3m-36 3h4m-6-1h4m255 9h2m9-1h2m1-5h3m-228 46v2m-20 7h4m7 5h2m-75 7v2m-3-6h3m-31 1h4m-12 6v2m-45 1v4m3-1h3m41-5v3m138 3v3m142 8v3m-174-4v2m-5-2v3m-86 7h3m43-8h4m224 11h4m-241 1h4m-5-3v4m-111 3h3m-15-1v2m-4-4h3m145 9v4m50 0h3m-136 11h2m102 0v2m194 11v3m-198-1h4m-68 9h4m59 5h2m-17 2h2m-84-1h3m-44 4h3m-10 6v3m173-1h3m5 9v3m-192 1v3m100 2h3m-1 0v4m9 6v2m-16-7v2m-18-2h2m-79-3v4m200 6v4"/>
<path stroke="#8c564b" d="M426 37h4m-41 15v2m-9-8v3m-260 58v2m-58 14v3m90 5h2m67 3h2m-155 7v4m-41-8v2m42 13h3m308 13h4m6 3v4m2 0h3m-358 7v2m-22-2v2m1 5v2m4-7h4m187 2v3m173 9v2m-169-7h3m-16 1h2m20 13h3m203 7v3m-10-5h2m-219 6h4m-16 6v4m237-9h2m-5 9v2m-241 6h4m-32 4v4m24 60h2m-143 10v3m5 0v3m16-10h4m128 4h3m-168 18v4m8-1v4m4-5h3m22-5h3m40 4v3m7 5v4m-32-3h2m-14-2v4m-12-1h3m-24-4h3m-11-2v2m-22 10h2m52-3h2m118 9h3m-34 7h2m-103-4h3m-4 4v2m-20-2v4m-22 4v4m0-7h4m15 4h2m21-1v3m1-10h2m8 8h3m91 5h3m-93-1h4m-52 13v3m-5 10h3m180-1h4m-167 18h4m108 7h3m-12 4v2m-5 1v4m-1-4v3m-14-5v4m-18 2v4m71-4v3"/>
<path stroke="#279e68" d="M70 9v2m309 11h3m26 3v3m-3 13v3m5 2h2m-5 3h4m-13-2h2m-10-2h3m-7 2h3m43 9v2m-17 7v2m-15 4v3m-367 13h3m-4 6h3m35 4h4m94 5v4m-27 0v2m-123-4v4m-8-2v2m29 5v3m-33 4v3m135 4v2m-36 10h4m-57 6h3m326 13h4m-308 1h3m-44-6v3m-12 3v3m358 15h2m-178 2v4m-88-4h4m-72-3h4m-39 10v2m219-2h3m188-1h4m0-1h2m-207 10v2m-16-6h4m-12 4h2m-75 4v2m1 0v2m1-1v3m33-1h4m217-4v2m30 12v2m-42-1h4m-136-2h4m-67-5v3m-17 3h2m-9 0v4m-22 2h3m49 3v4m233-7h3m-33 8h3m-200 4h3m-23 0v3m220 3h2m3-3h3m-221 31v3m29 10h4m1 2h2m-54 5h3m18 4h3m14 5v3m14-7h4m9 9h3m-12 2h2m-137 4h3m-20 4v3m128 1v3m22-8h3m3 0v2m-98 7h2m-8 0h2m-79 12v2m75-3v3m33-5v3m222-3h2m9 2v2m6-4h4m1 9h4m-9 1v4m-13 0v2m-197-6v3m-78 0v4m-16-6v2m-66 11v3m5-8h3m168 4v3m191-6h2m-176 5h4m-5 5v4m-84-8h3m-78 16h2m77-6h2m257 3h3m-1-4h3m-25 8v4m-187 0h4m-6-3v4m-130-2h2m-22 2v4m-12-3v4m165 4h3m-98 9v2m-52 4v4m45 0v4m68-8h2m12 6v2m17-5h2m-40 9v3m-78-5v3m-45-4h2m-8 3v2m47 8h3m34-2h3m56 0v3m5-7v3m-119 6h2m-1 9v2"/>
<path stroke="#1f77b4" d="M73 14v4m319 19h4m-386 46v3m23 54h2m196 18h2m-181-5h2m328 10v4m7 0h4m-272 7h3m103 46v4m3-6h3m152 3v2m44 9h4m-382 75v3m77 2v2m-47 15h3m22 1h4m96 8h2m-70-1h4m-72-4v3m-57 2h2m141 7h4m228-2h3m-354 11h4m-30-1v3m12 8h3m100 21v2m50-1v4m-32 10h4m-75 5v2m-53 12v3m110-6v3m0 5h2m-41 6h2m-4-6h3m-55 9h3m164 0v3"/>
<path stroke="#e377c2" d="M401 33v3m-6 8v2m-389 65v4m4-7v2m118 16h2m-98 36v4m0 145v2m328 13v4m19 10h3m-311-6v3m304 15v4m-191-4h3m175 14v3m-342 14h4m106 13v2m-8 14v2m-20 19h3m46 0h3"/>
<path stroke="#c5b0d5" d="M402 11v2m17 9h2m-11 9v2m-25 0v2m-3-3v2m-3-2v3m-321-8v3m317 13h4m21 0h4m3-4h2m25 11v3m-21-8h2m-7 0h4m-20 4v3m27 3v3m0 1h4m-2-2h3m-8 13h3m-254 30v4m-89 0h2m-72-5h2m50 11v3m69-3h2m36 2v4m-32 2h3m-114 3v4m16 9h2m31-3v3m81-6v2m-128 22v3m7-3v2m21-7h4m1-3v2m48 3v3m300 6v2m-277 0h3m-92-3h2m-6-2h4m19 12h4m4-4v2m6-3h2m19 3h3m117 2h4m5-2h2m-104 12v4m-4-9v3m-98 3h3m-9-6h2m96 11h4m316 22v2m0-3v2m-256 3v2m-8 0h2m-16 0v4m234 7v3m23 0h3m-30 1v3m-169-3h4m-36 2v4m235 16v3m-229 25v2m30-4h3m-5 9v3m-7-6v4m-21 2v4m-39-3h2m31 8h2m-4 3h4m-31 1v2m-58-3v2m-53 11v4m136-1v2m4-5v2m-145 19h2m58-3v3m11-6h2m9 5h3m19-6h4m55 2h3m-63 12h3m-136-1v4m54 8v3m1-7v3m30-6h2m103 5v4m7-4h4m-83 5v3m-58 9h4m2 0h3m54 6v2m-26 12h2m91-5v3m19 6v3m-19 2v2m-44-6h2m-3-2v4m-81-2h4m-30-2v2m-11-3h4m-31 17v4m32-4h4m100-8v3m32-2h4m-38 15v3m-3-6v3m-20-4v2m-19-4v3m-42-1v2m-24-5v2m17 11v4m38-5v2m42-3v3m86-5v3m6 5h2m-21 7v3m0-4h4m-16-5v3m-33 5h3m-44-3v2m-3-7h3m-16 0v4m-25-1h2m-9 1v4m-12-8v2m8 7v3m62-2v2m27-3h3m43 1v2"/>
<path stroke="#aec7e8" d="M71 12v3m308 8h3m29-2h4m-33 8v3m-3 7v4m2-2h3m24-4v3m-6 7h4m-16 1v3m-362 37v3m17 0v3m-26 5v4m135 11h4m-6 7h2m-81 13h3m57-6v3m106 5h4m-28 7h3m-175-2h2m-16-3h4m-5 2h3m-3 5v4m20-5h2m14 0v4m349 2v2m14 9v3m-88-5v2m-223-5h4m-55-3h3m-14 1v4m-24 0h3m-9 1h3m203 7h4m172-2h4m-291 13v2m-9-3v4m-62-1v4m-21-12h3m-9 15v2m191-4h2m208-1h4m8 26h2m-301 6v4m94 4v2m200 6h3m-10 14h3m-206 33v4m-85 4h4m-25 8h4m28-5v4m50 2h3m13-5h2m1 15h4m-163 6h2m153-4v2m-51 20h3m212 0h4m-370 6h4m16 15h2m128-3v3m19-8v3m-26 9h3m-122 2h2m95 12v4m45-8v4m207 5h4m-197-3v3m-154 4v2m-28-9v4m7 4h4m157 5v4m21-6h2m-77 21h4m7-1h2m-15 11v4m-29-11v4m-70 12h3m63-2h3m-2-1v2m76-3h4m41-1v4m-136 6h3m-54 7h4"/>
<path stroke="#c49c94" d="M406 7h3m19 28h2m-28-2h3m-25-2h4m-260 80v3m-45 4h3m326 40v4m-189-7h2m-190 20v3m171 18v2m-182-9v3m197 83v3m-41 16v3m209 56v4m-251 4h4m-67 24v4m-38 6v3m93 9v4m-97 14v4"/>
<path stroke="#ffbb78" d="M436 41h3m-388 64v3m-12 24h4m-34 26h2m26 11h4m-5 19v2m136 16h3m33-8h4m-82 14v3m30 18h4m-69 68v4m21 8v4m79-10v2m20 10v4m-126-2h2m85 11v4m-170 3v3m77 0h2m115 0h3m-164 22v2m170-4h4m-3-1h4m-39 25v3m0 6h3m-27-3h4m-99-3v3m-2 28v4m1-1h3"/>
<path stroke="#ff9896" d="M88 126v2m127 28h3m192 7h4m-349 10h2m163 14h4m-11 25h4m-46 19v2m12 79v4m-93 6v4m-13-10h2m33 72v2m38 20v2m-151 7v4"/>
<path stroke="#f7b6d2" d="M67 14v3m330 20v4m30-2v2m-19 9h4m16 7h4m-22 6v4m-357 59v3m-39 21h3m214 3v4m-116 0v3m-51-5h3m362 8v4m-204 4h2m-24 48h2m-5 13h2m-45 5v4m46 37h2m-28 24v2m-65-7v2m-58 15h4m74 1v4m55 22v2m0 10h2m-181 6v3m60 4v2m142 5v2m-179 7v4m21 4h3m-49 4h3m46 9h3m144 3v3m-47 2v4m-49 7h2m12 4v2m-24 0h3"/>
<path stroke="#aa40fc" d="M417 19h3m-15 14h3m-369 47v2m-2 5h3m-5-6h2m-15 8h4m-10-1v2m5 0h3m2 0h2m12 6v2m29 0v2m4-6v4m-28 1v2m-23 0h4m-5 6v2m112 6v4m-72 6v2m-15-8v4m95 7h2m92 0h2m-23 11v3m-144-8h4m-67 10h4m399 8h3m-338 3v2m-41-2h3m-4 4h2m-19 3v2m99-1v4m265 8h2m-167 2h3m-109-8v2m-55 5v2m-37-6h3m-11 1v4m420 3v2m-26 5v2m-6 1v4m-198 1h4m228 4v3m-19 11h4m-209 0v3m-49-10h3m-21 13v2m272 4h2m-287 0h2m91 49v4m-30 24h4m188 18v3m-9-8h2m-13 4h2m-222 2v3m-67-4h3m0 3h3m60-1v2m224 10v3m-351-2v3m114 6h2m47-4v4m10 0h2m-61 8v2m-3-4h3m38 11h2m3 6h2m10 11v2m-61 12h2m-69 6h4m48-3v2m69 0h2m1 3v4m7-4v3m10-5h3m-1 6h3m-42-1v4m-4 4v3m-3-8v3m-26 1v4m-13-8h4m-29 2h2m-81 0v3m127 7v2m13-1h4m3-3h2m-44 9v2m-37 4v2m113-2h4"/>
<path stroke="#98df8a" d="M435 35v4m-59 1h3m38 27v2m-377 17h4m32 32v4m159 35h3m-146 8h4m288 9v4m12 5h4m-198 11v2m212 14h4m-227 20h4m25 47h3m-100 45h4m256 5v2m-339 40h2m138 21h2m-44 18h4m-14 3h4"/>
<path stroke="#b5bd61" d="M170 122h3m207 34h2m-169 48h3m-80 9v4m70 54h4m-7 23v3m10 112v3m-124 18h2"/>
<path stroke="#b5bd61" d="M396 72v4m-227 27v2m-20 0v2m283 107h3m-60-1h2m-183 10v2m-54 74h4m-85 28h3m-50 7v2m107 14h2m-15 2h4m-54 15h2m27 54v4m67-5h2m60 11v4"/>
<path stroke="#98df8a" d="M418 176h3m-367 4h4m165 13v4m-54 7v4m-11 21v4m22 32v3m46 14h3m-64-3h3m-32 43v4m-88-5v4m336 4h3m-366 63h4m167 8h3m-151 16v3m12 14h2"/>
<path stroke="#aa40fc" d="M406 29h3m-30 26v3m-364 22v2m4-10v3m2 1v2m14 8v3m-15 8v2m22-4v3m25 0v4m-52 1h3m-11 7v2m116 2v4m7-8v2m3 12h3m-88-3h3m-41-2v4m60 4v3m-19 9v4m-20-2h3m-5 0v2m-13-1h2m5 2v4m-5 10v4m-2-2v2m53 2v2m58 3v2m252 7v2m-356-2h3m10 4v4m118 16v3m41-3v2m234 10v3m-233 3h4m224 3v3m-277 58v4m-11-4v4m49 24v4m-50 2h4m-133 11v2m90-5v3m98-4h4m183 15v4m-8-7v4m-364-3v4m190 2h3m193-1h4m-199 9v3m-72-2v3m-50-4h3m-75 2h3m155 12h2m20-2v2m182 3h4m-249 2h4m-96 10v4m73-7v4m81 0h2m-6 12h4m-25-4v4m-1-5h3m-141 4v4m-2-6h4m-16 10v2m119-1v3m14 4v3m53 11h4m-75 6v4m-61-8v4m11 4v3m15-3h4m49 0h2m26 0h2"/>
<path stroke="#f7b6d2" d="M392 71h2m-335 37v4m112-2v2m60 15v2m-12 12h2m-7 10v2m9-2h2m-215 29h4m357 27h3m-174 5h2m199 11h2m-188 5v3m168 9h4m-202 38h3m-31 5h4m20 6v4m38 17v2m-46 20v4m196 16v2m-24 0v3m-281 7v3m113 6v2m-36 28v2m44-9v4m-35 12v4m-35-10v2m-45 5h2m79 3v4m62 8v4m-199-1h3m41 2h3m46 0h3"/>
<path stroke="#ff9896" d="M58 6h4m-40 68h4m132 29h2m-149 10h3m24 27v2m24 5v3m-35 36h3m181 6h3m222 37v3m-391 155v2m85 33v4"/>
<path stroke="#ffbb78" d="M404 24v4m-362 54v3m-35 29h3m58 15v4m320 110v3m-181 38v2m-124 14v3m56 5v3m57 30h4m-181 2h3m46 20v2m52 45v4m-33-6v4m-46 6v3m17-2v4m77 9h3m25 1v4"/>
<path stroke="#c49c94" d="M425 54h3m-279 83h4m-131 11v3m195-2v2m-189 13h4m80-2v2m5 9v3m90 106v4m-149 42v3m141 8h3m-42 8h2m-119 21h4m81 17h3m11 26v2m-60 8h3m9 0h3m63-7h2m41 17h2"/>
<path stroke="#aec7e8" d="M404 12h4m-343-1v3m357 5v2m12 9h2m-14-3h2m-15 1v3m-21 0v2m15 6h3m4 5h3m8-5h4m-41 16h4m-2 1v4m41 7v3m-270 32v2m-28 7h4m21 3h2m-112 3h2m-2 24h4m-19-3h2m-20 5h4m18 9h4m71-5h3m298 10h3m-4-3h3m-297 5h3m-90 3h4m5 5h2m-4 15v4m175 5v3m-52 12h3m276-4v2m-213 19h4m185 1h3m-3 1h2m-243 71v4m21-1h2m-40 6v3m-4-9v4m27 3v2m186 14v2m-202-8h2m-16 4h4m-55 1h4m-65-3h2m40 7h2m108 2v3m10-6v2m-52 8v2m-1 3h3m-4 2h4m-51-8v3m59 11v3m46-8v2m-11 9h4m-82 2h3m-109 10h2m16-4h3m121 0v4m28 3v2m26-10h3m-27 14h2m-127 2v2m125 0v2m4 2h2m-148 15h2m99 1v2m36-2v2m3-3v4m21-2v4m-103 7h3m-39 11v4m13-10h3m68 5h2m65-6h2m6 7h4m-3 0h2m-195 8h4m-17-4h4m-4 4h2m3 3v4m13-3h3m73-1h3"/>
<path stroke="#c5b0d5" d="M408 16v4m0-6v2m-343 8h3m342 6h2m-37-1v3m41 15h2m-23 5v3m-2-8h3m-12 9h2m17 15v4m-393 16v3m18-4v3m100 17v2m25-3v4m16-5h3m-91 15v3m-75 0h3m65 2v3m81-1v3m89 6v2m-215-3h2m80 11v2m114 0h3m1-6h3m-3 4h2m174 5v3m-183-2v2m-7-1h2m-7 3h4m-147 2v3m148 6h2m5 4h3m-103-2v4m-102 1h3m-8 8v4m401-5v4m17-2v4m-36 6h3m-27 0h2m-150-5h4m1 15h3m-1-4v3m165-6h4m30 0v4m-1 11v4m-203-7v2m155 7v4m41 5h2m-19 1v4m-30 1h2m36 5h2m3 2h4m-268 35h3m37-1h4m16 1v4m-20-1h3m-58 11h4m50 5v4m-12-2v2m-90 12v3m90-5h3m3 3h3m185 7h4m-232 1v3m-22-2v3m-14 3v3m40-4h4m52-3v2m158 3h2m6 2h2m14-2v3m-208 1h4m-99 8h4m15 8h4m20-7v4m19 1h4m26-5v3m14-2h2m201 15h4m-206-5h4m-51 6v4m-13-7v4m-11-6v3m-68-6h2m75 15h3m69 1v4m157-11v3m12 14v2m-4-4h4m-177-1h4m-13 1h4m-12-1v3m-8-3h2m-5 2h2m-40 7h3m31 1h4m-7 9h4m-10-1h3m-20-2h3m-4-1v4m-66-3v3m-36 4h4m11 6h4m8-6v2m85-2v3m19 0h3m35 4v2m-29-1h4m-66 8h4m-12-6v4m-37 0v3m-12-6h2m-32 2v2m-1-6v3m-19-4h4m27 14v4m7-4h2m3 2h2m111-4h4m23 3h2m18-6h4m-73 13v3m-15-3h2m-9-2v4m-8-1h4m-22-4h2m-44 4v4m-39 1v2m17-2h4m22 0v4m24-4v3m30-3v3m19-3h4m41 0v3m45-3v2"/>
<path stroke="#e377c2" d="M378 35v3m27 0v3m15 23h3m-380 26v3m201 46v3m-212 25h2m9 19h3m191-4v2m-10 8h4m150 20v4m-245 8h3m234-7v4m-219 72h3m-46 9v2m-1-3h3m30 8h3m55-2h4m-14 18v3m201 10v3m-209 19h3m7 48v4m-59 4v4"/>
<path stroke="#1f77b4" d="M420 12h4m-6 45v4m-412 19v2m15 9v3m14 13h2m131 2v4m-91 8v3m59 11h3m-119 9v2m31-1v4m66 8h2m-106 11h2m62-5v3m149 4h4m195 4h4m-209-2v2m-41 42v4m242 12v4m-211-11v4m16 53v3m-69 18v3m-1-8h4m-40 13h3m14 30v4m-55-7h2m54 4h3m40 3v4m-51 2h2m78 12v4m1 0v2m-196 14v2m58 10h4m-43-4h2m74 6v3m68 8v2m-61 3h3m-25 0h3m-80-8v2m178 20h2m-137 4h2m133 2h3"/>
<path stroke="#279e68" d="M411 11h2m-11 3v4m-330-3h4m345 9v2m2 9v4m-22-8v4m-31-1v4m17 11h3m33 7v2m-412 20v4m391-6h3m-2 2v3m16-7h3m3-2h2m-396 16v2m-5 3h2m26 10h2m-50 6h3m32 3v2m89-4v3m18-4v3m-6 10v4m-55-3v4m-30-5v3m27 3v3m52 0v4m22-5h2m81 9h4m-176 4h4m-6-4h3m334 18h3m-291 4h2m-84-6v4m33 7v4m26-1h2m134-1h2m151-5h2m-143 15h2m-234-6h4m13 9h3m18 5v3m160 11v4m32 2h2m176 3h3m-188 3v3m-47-1v3m-14-7v4m-8-7h4m-13 3h4m-43 3v3m75 5h3m19-1h3m-1 3h3m164-1h3m34 1v2m6 8h2m-15-8h4m-15 0h4m-6 2h3m-27 0v2m-199 4h3m-37-6v4m250 8v3m2-2h4m21 2v3m-33-2v4m-237 31h2m48-5h2m-64 18h4m48 3v4m17 0v4m-6-5h2m-6 8h2m-53-2h4m-9 1v2m-96 3v4m16-1v4m52-10v2m29-1h4m36 7v3m33 6v2m-28-10v3m-8 2v4m-6-8v4m-32-2v2m-7-3v4m-7-6v3m-49-1v2m-14 4v2m-53-4v4m132 0v4m66 1v3m2-4h3m167 0v4m-12 1h4m-161 4h4m-71-2h3m-10-2h2m-63 2h3m-46 1h2m15 5v3m10 1h2m69 4h2m-1 0h2m33-2h3m197 11v2m-162-6v2m-198 1v3m2 5h2m358-6h4m-1 2h2m0 5h4m8-7h2m0 12v2m-24-3v2m-172 3v4m-25-8h4m-131-2v4m-32-3v4m2 7h2m182 5v2m-167 3v4m178 6h3m6 11v4m-86-9v4m-75-5h2m76 14v2m32-9v3m-52 8v4m-46-6v2m44 8v2m20-2v4m3-4h4m25 0h2"/>
<path stroke="#8c564b" d="M431 32v4m-38 37v4m-162 48h2m-193-7v2m-34 14v2m70-4v2m163 2v3m-133 5v3m240 2v4m52 5h2m-371 3h4m361 9v4m-293 7h2m8 3v4m269-8h3m53 15v3m-315 4v4m107-5h2m13-1v3m172-2h3m3 10h2m-255 3v2m58 5v4m0-4h4m174-5v2m17-1v2m-241 83v3m-97-2v3m-66 7v4m24-7v2m325 11h2m-289-6v3m-9 0h3m-24 3v3m-37-11v2m28 10h4m4-3v3m7 0v3m16-2h4m5 1h2m11-3v4m49 6v3m-136 4h4m5 4h4m24 3v3m137-10v4m3 0v3m-132 4h4m-8 5h4m-13-3v2m-3-1h4m-15 2v4m-18-11v3m31 7h2m149 11v3m-21-4v4m-33-7h2m-105 8v4m-19-7h2m-4 7h2m205 1v2m-201 9v3m124 7h3m-105 17h2m174 6v4m-111 2v2"/>
<path stroke="#ff7f0e" d="M404 6h2m-18 11h3m-326-2v4m-8-6h4m324 13h3m38-7v4m-2 10h2m-53 15v4m38 2h2m-396 24h2m13 1v2m359-9h3m-1 4v3m-352 6h4m-20 1v3m-18 9h2m12-1v2m42-1h2m1 1h3m-63 12h3m23 3h2m17-5v2m7-2v3m-52 12h2m128 8v4m6-9h4m-4 7v3m-113 0h3m-13 7h2m5 0v2m399 12h4m-204-4v2m-111-1v4m-48-5v3m-33 2v2m-3 1v4m25-3h4m53 5v3m307 1v2m-186 6v3m5 4v4m166-4h3m-244 18h4m42-4h4m171-3v3m52 1h4m-4-4h3m-10 17v3m-200-6h4m-6 3h4m-39-8h2m-14 0v2m-19 8h3m43 5v3m200 2h3m-33 1v4m-183 1h2m-54-7v4m16 4h3m-1 1v4m262 3h4m-216 40v4m-14-4v3m-35-6h3m-27 4v3m-34 6h4m94 6h4m-8-1h2m-78 8v2m-64 7h2m58-1h4m54 1h3m38-4v2m-46 4h3m-33 4h4m-45-1v2m-21-4v2m-16 13h3m42-1v3m6-7h4m6-1h3m35 6v3m30-9v3m17-2v2m1 2v4m-80 6v2m-121-3v3m49-1h3m129 6v4m209-7v4m-209 5v3m-165 10v4m46-10v2m60 5v4m33-5h4m21-4v4m202-4v2m-22 11h2m-221 1v3m-56-5h3m-84 8h2m3-1v2m37-5v3m79-3v4m51 3v2m-1 6h3m-55-5h4m-59-1h3m-53 10h4m148 1h4m8 3v4m8-2v4m9-6h4m-19 10v4m-53-11h2m-37 2v2m-32-4v3m-13 3v2m43 8v2m1-7h2m-2 5h2m98 6v2m-55-2h4m-136-3h3m80 9v2m29-2h3"/>
<path stroke="#d62728" d="M58 12v3m336 4v4m6 1v4m6 0v2m-23-1v3m-6 3h3m-4-8v3m60 20h4m-55 10h3m28-2v4m9-5v4m-411 12v2m23 9v4m-10-5v3m-13-2v4m31 8h4m-1 9v2m-24 1h2m126 17v2m-3-3v2m-3-7v4m-14 8v4m16-4h4m-1 1h4m-41 8v2m124 2h3m-175 17v3m-33-5h4m-27 3h4m49 6h2m10 3h4m-14 2h4m-35 2v2m-27-4v4m-1 0v4m0-8h4m98 11v4m305-4h3m4-3h3m-216 22v4m169-1v4m59 4v4m-4-4h3m-8-7v3m-194 3v3m-12-8h3m-50 2h4m-18-3v2m-1-1v3m-24 7h2m-1 4h2m61 9h2m-25-2v2m29 44h2m-46 9v2m-70 18v3m-2-5h3m-30 11h4m112-7v2m-74 12v2m21 6h3m11-3v4m4-4v2m221 9v4m-164-3h2m-54-2h3m-11-1h2m-6 0v4m-125 6h2m122 2h4m234 3h2m-1-3h3m-12 12v3m-342-7v2m370 11v2m-25 6h3m-169-4v4m-16 2h2m-67 14h2m-115 5v4m20 3v2m32-1h4m13-7h3m93 5h3m12 11h3m-50-4h3m-74-2h4m-13 6v4m-51-6v4m7 0h3m42 7v4m76-12h3m18 4v4m27-4h4m28 0v4m-85 5h4m-27 4v2m-94-9h2m3 9v4m15-4v4m128-4h3m3 0v3"/>
<path stroke="#17becf" d="M56 8v2m6-4v4m4-3v2m0-3h2m353 9h4m-27-1v3m-329-6v2m-14 6v3m12-4h3m-1 3h2m3-1h4m305 2v2m31-6h2m2 1h2m8 7v4m-9 6v4m10-4v3m7 9h3m-21 3v4m-29-9h4m-17 6h2m5 7h4m29 12h4m-404 1v4m19 1v2m360-7h3m8 2h2m-364 14v3m0-3v2m-1-6h2m-8-1v3m-5 3h3m-8-5v2m2 6h3m11 1h4m23-1v4m6 9v2m-19-2h4m-6 2v2m-32-5h3m-8-4h3m-6 4v4m-5-4h3m118 9h2m15 3v2m6-8h4m68 14v4m-55-8h3m-6-3v2m-9 2v2m-23 1h3m-6 1v4m-7-12v4m-78 2v2m-40-8h4m22 16v2m7-1v2m3-4v2m3 0h2m35-6v4m58-5h3m2 7h2m-2-5v3m9 1h2m79-3v3m6 8v3m-99-8v2m-8-3v4m-26 3h4m-45-5h2m-10 3h2m-40-2h3m-20 1h2m7 9v2m10-1v3m56-3h3m18-4h2m6 1h2m120 6h3m151 0h3m27 0h2m-76 7h4m-4-2v4m-7-5v4m-104-4h3m-18-3h2m-126 6v4m-24-7v3m-30-4v4m-23-3v4m1 3v3m26 0v4m49-5h2m25 0v2m257-1v4m18-3h2m2-5h2m26 3v4m-188 7v2m-15 0v3m-101-7v4m0-4h2m-59-3h4m-5 7h2m-32-1v3m-24-1v4m-1-6h3m0 8v2m3-2h2m25 3h2m5-6v2m1 0h2m160 4v2m159-7h4m59-1h2m0 4v4m-20 7h2m-15 0h2m-16-1h3m-186-5h4m-7 3h4m-19 11h4m1-4h4m5-3h4m-3 0v3m10 1v4m16-5v3m187 0v3m19-8v2m2 2v4m-4 6v2m-3 0v4m-1-5h2m-56-7h2m-6 0h2m-129 0h3m-4 6v4m-10-10h2m-6 2h3m-8 4h4m-41-4v3m-31 3v2m-36-7v4m11 4v2m5-2v3m3-5v3m40-3v3m16 4h4m37-7v4m172 3v2m16-1h2m-13 2h2m-3 4h2m-14-5v3m-178-2v4m-22-1h2m-2 2h3m-25-6h2m-24 8h4m-33-3v4m31 0h3m5 2v4m223 0v3m31 3v3m-228 29v2m14-7h2m20 5h3m-16 2v2m-3-2v4m-22-4h4m-9 3v2m-23-5h2m-32 6v2m36 8v4m53 4h4m-23-4h3m-8 0h3m-17-3h4m-4 0v4m-9-3v3m0 1v2m-29-2h4m-100 4v4m73-3v4m3-4h2m20 6h4m48-3h2m7 3h4m1-1v3m3-5h2m-3 11h2m-5-4h4m-6-1v2m-27 3h2m-6 0h2m-3 2h4m-109-8h3m-10 0h2m-11 1h3m-22 6v2m-7-6h3m-20-2h4m-7 1h3m-7-2h2m-2 9h2m48 0v3m2-3h2m38 2h2m79-1v3m9-3h3m24 2v2m171-3h2m-6 10h2m-3-3v2m-5 6v3m-2-10h3m-10 5h4m-167-2h4m-8-1v3m-9-2h3m-24-4h2m-6 0v3m-1-2h3m-29 6h2m-22-4v2m-43-5v4m-9 3v4m-56-10v2m0 0h2m-7-1h4m-4 15h4m36-7v2m3-3v4m47-2h4m7 5h4m0-3v3m47 0v4m22-9v3m2 3v3m11-11h4m2 2h2m144 3h3m25 1h2m6-4v2m13-4v4m1 4v3m-24 0h4m-11 4h2m-11-1h4m-6 3v2m-153-7v3m-5-5v2m-7-2v2m-168 5h4m-16-8h2m-4 10h2m-2 7v2m44-4v2m116-1v4m2-6h4m14 3h3m15-8v3m153 14v2m-167-4h2m-159 0v3m-9-7h3m-21 1h4m7 12h4m8 0v4m108-4h2m37 1h3m12-2v2m11-6h3m-3 5h4m7-3v2m0-5v2m2 4v4m0 7v3m-25-3h2m-10 0h4m-7-4h4m-8-3v3m-1 1h4m-8 2h2m-12-2h3m-7-3h3m-23 5h2m-89-2h2m-13-3v4m-25-3h3m-7 1h4m-7 5h2m22 7h4m18 0v3m1-6v3m20 0v4m54-3h3m36-2v4m25-10v2m4 0h4m6 3h3m-2 1h4m6 8h2m-30 2h4m-34 0v4m-29-4v3m-16-7v2m-50 2h4m-18-5h4m-10 9v3m5 2v3m17-10v3m24 1v2m5 1v3m36-5v4m7-7h4m13 0v4m31-3h4m3 2v2m15-3h3m4 2h3m-1-4h3m-3 1h2m-1-1h3m-24 12v4m-76-6h2m-25 0v2m-22 0v3m-6-1h2m-18-1h2m-16 2h4m-4-1h4m-26-6v3m-7 5v4m5-4h3m10 1h2m3 0h3m9 0v4m19-4v4m5-4h4m0 0h4m0 0v2m2-2h4m5-1h3m0 1v2m2-2h2m7 0h3m23-1v3m11-2h3m6 0h3m25-1h4"/>
</g></g>
<g clip-path="url(#cq22)"><g id="d14" transform="translate(697.1,297.4) scale(0.25)">
<path stroke="#461264" d="M66 6v3m339-1h4m7 0v3m1 4h4m-6-6h3m-4 7h4m-13-5h2m-15-1h4m-7 1h3m-323 3v3m-1-3v3m-14 8h4m12-5v3m306 5h3m57 28h2m-17 12v3m-412 5h2m3 4v2m374-7v2m7 3v3m22-11v4m3 1v4m-251 25h3m-4-6v4m-20 3v3m-27 2h3m29-4v4m77 13v2m0-2v3m0-5h4m-79-6h4m-34 6h3m-90 6v2m48-1h4m37-3v4m100-5v2m7 2h3m-2-2v3m4 3h4m-3-2v4m5-2h4m-4 7h4m-4-4h4m-13-1v3m-91-3v4m-1-3v3m-7-4h4m-135 4v4m43 6v3m2-8v2m4 3v3m1-8v2m1 1v2m24 2h4m124-2h2m176 2h4m12-2v3m1-2h2m3-1h4m-2-2v4m15 7v4m-2-5v3m-88-7h4m-4 3v4m0-6v3m-123-3h4m-5 4v4m-3-6h2m-98 3h4m-5-1v2m-20 0h3m-3-4h3m-4 3v4m-8-10v2m-1 5v2m-1-4v3m-4-3v2m-43-8v2m-3-2h4m-24 9h2m24 8v2m26-5h3m45 0v4m7-3h4m2-3h4m-1 2h3m0-2h3m242-1h2m18 4v3m27-8h4m1-1h3m-2 1h4m-4 0h3m-44 16h4m-7 0h4m-144-3v3m-120-3v4m-18-1h3m-13-1h3m-27-6v3m0-2v3m-5-2h2m-6 5v2m-27-10h3m-20 8h2m-12-6v2m-2 1h4m-5-3h4m8 13v4m6-5v3m1 0v2m4-5h2m15 2h3m3-1v3m53-7v4m0-5v3m10-3h4m264 0h4m-254 14h2m-117-6v4m100 12v3m4-10h4m114 1v2m2 0h4m165-1h3m-2 0v4m-171 8h3m-22 0v3m-1-5v4m-103-3h2m108 11h2m9-6h4m-85 58v2m69-1v2m-65 4v2m-15-1v3m-3-5v4m-7 0v3m-2-4h2m-12 1h4m10 7v3m1-5v2m32 12h2m-63-1h2m-24 6h3m26-1h4m-3 0v3m2-2h4m-3 4h3m-3-1v3m60-3h2m4-1v4m2-3v3m1-4h4m183 9v4m-11-3h2m-195-1v2m-3-2h2m-7 0h3m-78-4h3m2 10v4m1-5h4m0 3h3m19 3v4m5-8h4m2-2v4m11 4v2m52 4v4m-31-8h2m-19 0v4m-3 1v4m-3-9v2m0 1h2m-22 12v2m6-8v2m2 3h4m7-6h3m0 4v3m15 0h3m-2 2v3m-1 1v4m0-3h2m-3 1h4m-30-1v4m-17-8v4m14 6h4m11-2h4m4 2h4m6-1h2m0 4h2m1 2v2m1-4h2m1-1v2m1-1h4m-4 0v2m2 1h2m7-5h4m-3-3v2m27 14v4m-14-6h4m-11-1h4m-16-4v2m0 1v4m-4-6v4m-1 2h3m-6-2v4m-6-1h4m-4-3h2m-7 0h3m-37-1v4m-14 4h4m46 5v4m29-11h4m3 3v4m6-3h4m9 2h3m-50 10v4m-7-4h3m-4-2v4m0-3h2m-8-6v2m-9 4v4m-7-6v3m-15-5v4m-92 5v3m59 2h2m48-2h2m39-1h2m2 0h2m6-1h3m-1-4h3m4 8v4m14-8h2m-13 5v3m-5-1h3m-43 4v4m-35-5v2m-31-1v4m-6-3h2m-3-7v4m-2 3h3m-4 1v3m-18-7v3m-5 1h2m-3-2h2m-4 0h4m28 4h3m-1 6h4m0 1v4m0-7v2m1-7h2m27 1v2m1 2h4m-1-4h4m52 7v4m32-6h2m-2 0h3m-3-1v2m-1 2h3m-58 0v4m-23 3h2m-10-3h4m-4-4h4m-5 2h3m-30 4h4m-8-5v2m-12 5h2m-25-4h3m-58-2h3m-5 8v2m2-3h4m22 1v3m2-3h4m-1 0v3m21-4v3m2-2h3m11 0v3m2-3v4m24-4v4m3-4h2m29 0v4m4-4h4m-4 0v2m4-2v3m15-3h3m39 0h2m5 0v3m6-3v4m4-4v3"/>
<path stroke="#44347e" d="M57 8h4m-1-1v4m364 5h2m-4-6v4m-2 3v3m-1-4v3m-3-5v2m-1-2v2m-1-6v2m-1 0v2m-3 1v2m-6-5h2m-4 2v3m-2-7v3m-2 3v3m-1-6h3m-5 4v2m0-2v4m0-7h2m-4-3v2m-323 1v4m-5-8v2m-1-2v3m-1-3h2m-8 6v4m-2-3v3m-5-5h3m6 9h4m348 1v4m1-11h4m-1 0v3m4 2h2m-2-3v4m3 2h4m-2-4h4m1 4h4m0 1v3m-1 4h2m-6-6v4m0 0h3m-4-4h3m-5 5h2m-2 1v3m-17-4v3m-3-9v4m-2-1v2m-1-4v4m-1-3v4m0 1h3m-5 1h2m-2-3h3m-21-1h4m-5 2v2m-4-4v4m0 0h3m-4-5h4m-6 12h2m-1-2h4m9 1v2m12-6h4m-2 1v3m3-4v4m1 2h3m0-4h2m-2-1h3m1-1v3m21-1h3m0 2v3m0-6h3m-3 9v2m0 1h4m-11 0v2m-14 0v3m-4-8v2m-2-2h2m-3 2h2m-3-3h3m-5 1v2m0 4v3m-9-11v3m-3-3h3m-4 1h4m-18 2v4m-4-3h4m1 5h2m8 0h2m2 4h3m11-4h2m1 3h3m9 2v3m2-6h2m5 8v3m-4 0v2m-1-3v3m-3-5v2m-1-2v4m-6-2v3m-1-4h4m-7 5v4m-2-6v2m-10-1v3m-391 5h2m-1 2v4m1-8h3m-2 1h2m37 0v3m337-6h3m-2-1h2m-2 3v2m2-5h2m3 2h4m2 2h3m-1-4v4m4-1v4m11-4h2m-383 10h4m-6-1v4m-3-2v4m-3-8h3m-4 6h3m-8-4v2m-4 3h4m-8-6v3m-5-5v4m-2 0h2m-5 13h4m11-5h4m-3 1v4m0-5v4m3-3h2m17-2h4m-3-2h3m16 4v4m6-2h3m0-3h3m-3 0v2m71 0v3m18 5h3m-11-1v3m-13-2v4m-77-8h3m-7 5h3m-3-2v4m0-6v3m-4-1h3m-4 0h3m-6 4h4m-6 0v2m-17-1h3m-13-8v2m0 4v4m0-8h2m-3 5h4m-9-3h2m-9 0h4m-5 3h3m-4-7h4m-5 3v4m-1 1v4m0 1h4m-4 4h2m1-6v3m25-3h2m0 5v4m40-3h3m41-5v4m1-3v4m1-5v2m0-1h4m4 4v3m15-11v3m6 0h4m15 1v3m1-6v4m3 2h4m-23 4h2m-3 4h4m-17-1h2m-7 1v3m-52-4v2m-6 1v2m-1-3v3m-19-3h4m-4 1v2m-48-7h3m-5 3v3m-2-5v3m66 5h3m7 3v3m0-9h2m0 2h4m-3-2v2m2 2h2m39 0h2m2-2v3m13 1v4m5-3h4m0-5v3m3 3v2m3-6h3m-1 3h3m53-1h2m-1 1v4m27 1h3m-7 3v4m-3-7h2m-20 5h2m-4-4v3m-1-1h3m-9 1h3m-71-5h4m-6-2v4m-31 4h4m-5 0h2m-32-7h2m-13 1h2m-2-2h2m-7 4v4m-17-1h4m-6-3v4m-2-6v4m-16 0h4m-7-4h2m-2 4h2m-3-4h4m-7 6h4m-12-1v2m-5-2v2m-1-5v3m1 2h3m-3 1v3m0 1v4m4-9v2m4-2h4m5 6h2m-1 0v4m2-10h3m-1 5h4m-4-5v2m19 2h3m3 2v3m5-5h4m-3-2h4m1 6h4m30-7h2m-2 1h3m1-1v4m2-5v2m3 0v4m2-6v4m6 2h3m-1 2v2m94-6v4m20 0h3m-3-2h2m3-4h2m0 2h4m-3 0v3m4-5h3m-1 2h3m149-1v2m8 0h3m0 7v4m-1-7h3m-4 3v2m-1-1v2m-2-2v2m-55 2v4m-120-12v3m-1-3v3m-12 1h2m-7-3h3m-96 3h3m-10 3h2m-16 0h4m-7 0v3m0-7v4m-2 1v3m0-9h4m-6-1h3m-4 2v4m-10-7v4m-1 2h4m-10-1h4m-4 1h3m-4 0h3m-17 2v3m-2-10v4m-1-5h3m-6 5h2m-5-1h3m-14 0h4m-5-4v2m-1 0v2m-9-1h4m-5 4h3m-8-7v3m-1-3h2m-7 4v3m-1-4h3m-10 2v2m0 3h4m-4 6v4m2-3h2m0-4h3m-2 4h3m20-5v4m3-5h3m-3 2h3m-3 0v2m11-6h3m0 0v4m4-3h2m-1 7v3m4-3h2m-2-8h3m-2 5h3m1 2v4m3-3v2m2-6h3m19-1v3m1-1h4m-3 2h2m-2-3h3m-2 3h2m-1-6v4m13-2h2m1-3h3m7 6v4m1-3h3m108 0v2m11-3h2m142-2h3m-3 1h3m0 1v4m11-7h3m2 2v4m13 5h4m-33-3h2m-2-1v4m-2-4v4m-3-3v4m0-1v3m0 0v4m-2-11h4m-145 0h4m-7 1h4m-5-1h3m-9 2v3m-3-3v3m-107-5v2m-3 2h3m-6-4h2m-6 6h4m-6-5v4m-1-6v4m-45 1h4m-6-5h4m-5 0v2m-13 3v3m-12-5h3m-3 2h4m-6-3v3m0 1v2m-2-7v4m-3-3v4m0-5h3m-4-1h4m-13 8v4m0-5v2m-1-3h3m-7-2h2m-7 2h2m-7 1h4m-4-3v2m8 8h3m16 0h4m-2 2h3m-3-2h3m0 1h4m10-6h3m-3 5v4m56-7h3m-2 0h4m-3-1v3m9-3h2m86 5h2m32-5h2m-1 3v2m154-5v3m5 1v4m0-5v2m3 1v4m14-5h3m-1-2h2m-1-2h3m2 4v3m1-9h3m0 6h3m3 2v2m-6 0h2m-2-1v4m-21 4h2m-7-1h2m-2 1v3m-6-11v4m-3-3v2m-16 5v4m-140-12h4m-5 1v4m-2 1h4m-8-5h2m-6 7v3m-16-10h4m-8-1v2m-186-2v2m97 14h2m-1-4v3m1-4h3m4 0v4m99-6v3m1-1v4m3 2v4m137-10h2m5 3v3m8-5v2m37-3v3m3-4v2m3 0h4m6 0h3m-199 7h2m-14-1v2m-3 0v3m-93 1h2m-13-2v2m0-2v2m7 4h4m7 7v4m93-9v3m152-2h2m48-4v3m0 9h3m-5-3v4m-2 3h4m-6-2v3m-1 0v2m-2-4h4m-21-2h4m-4 0v2m-2-5v3m-27-2v4m-180 2v3m-2-6h2m-3 2v2m-45-1h4m12 4v2m2 0v2m27-6v4m228-1h2m-1 2v2m-3 3h3m-11-1v4m-12 4h3m-1 0h2m-216 17v3m-10-6v3m-7-1h4m-1 4h2m4 6h3m4-6h2m-1 5h3m1-3v4m18-2h4m11 1h2m-35 3v4m-4-3v2m-7 0h2m-23 4v2m-2-9v3m-2-1v4m-1-5h2m-10-2h2m-6 2h4m-4-2v3m-6 5h3m-4-3v4m-8-3h2m-25 9h3m-3 1v3m6-7h2m22-1v2m17-4v4m5 1h4m-1-2h4m11 2h2m2-5v4m1 2h3m3-3v4m0-5v3m12 11h2m-12-7v2m-9 3v3m-1 0v3m-2-9v4m-1 2h2m-4-5h4m-6 3v4m-1-5v2m-11-1v2m-5-4v4m-2-5v4m0-6v2m-2-3h4m-4 2v4m-1 2h2m-6-1v2m0-5h4m-13 2h2m-7-1h2m-15 2v4m-8-3h3m-4-6v3m-1 3h3m-20-7h2m-3 5h2m-6-5h3m-4 2v4m-1 1h4m-8-5v4m-4 0v3m-72 6v3m32-10h2m1 0h2m0 4h4m-2 1h3m1-4v2m7-2h2m-1 0v3m55-1v3m1-5v2m2-3v4m1-4v4m3 1v3m1-7h4m-3 4v2m4-6h2m2 6v3m2-7v2m8-2h4m0 0h3m-2 0h2m-1 1v3m1-1v3m1-3h4m-2 1v2m4-9v3m22-2h3m0 4v4m3-6h3m-3 1v3m1-5h2m3 4v4m4-5v3m0-7v2m1 2v2m3-4v2m4-3v2m12-1h2m0 3h3m168 11v4m-11-7h3m-3-1v4m-4-3h4m-10 2v2m-168-3h2m-3 2h2m-12-8v2m-3 1h3m-7 4h2m-10 1v3m-2-8h4m-4-1h3m-5 1h4m-6 2h3m-16-5h4m-10 6h2m-6 1h3m-8-2h3m-3-1h4m-6 2v2m-1-7h2m-3 3v4m-6 0v2m-2-5v4m-1-7v3m-3-5h2m-7 1v2m-3-3v3m-18-3v2m-1 5h4m-51-7v2m-12 1v3m-1-4h4m-30 0h4m-4-2h4m49 9h2m12 7h2m2-4h4m-3 0h2m-1 5h2m-1 0v4m19-11h2m0 7v3m9-7v2m3-1v4m1-1h3m-2-3v3m1-5h3m0 5h3m-2-2v2m17-3v4m0-3h4m3 0v3m3-2v2m1-5v2m2-3h2m17 4v3m7-10v3m1 3h2m0 0h2m2-6v2m2-1v4m3-4v3m1-4h4m-2 2v2m22-2v4m1-5h2m-1 4v3m142-6v4m21-6v4m0 2v3m4-1h2m1-7h2m-1 0v2m9 13v3m-11-9v4m-3-4v2m-2-1h3m-171 1h4m-5 1h3m-8-1h4m-9-1v3m-5 1v4m-3-2h2m-5-8h2m-2 8h3m-4 0h4m-12 0v4m-3-4v4m-1-7h4m-4 1h3m-4 1h4m-5 0h2m-4-2h3m-4 0v3m0-6h4m-7 0h3m-5 1v4m-2-2h3m-22-5h2m-5 4h4m-4 3v2m-2-5v4m-4-8h2m-10 7v4m-3-9v3m-14-3v2m-8-4h3m-22 1h2m-77 5h4m-7-1h3m-3 1h3m-3 0h3m-3 10v4m83-11v3m17-2h2m5 1h2m0 3v3m6-2h3m-1 1v4m4-3v4m2-4h2m3-5h2m3-3h4m-4 2v2m12 4v4m10-10v3m1 1h4m-3 1v4m1-5h2m9-6v3m2-3v4m1-2h2m2 0h4m-1-1v2m5-3v4m1-2h2m0 5v3m5-4v3m3-6h4m-2-2h3m-2 6h4m-3 0h4m141 2v2m-146 1h4m-10 0h3m-11 0h4m-7-2v4m-28-3v4m-1-5v4m-1-5v4m-3-4h3m-5 1v2m-5 5h4m-18-6v4m-2-3v3m0 1v3m-5-4h4m-7-3h3m-4 0h3m-6-3h2m-7 3h2m-6 1v4m-55 0h4m-42-6h4m-7-2h2m-7 8h4m-6 0v3m-1-9h4m-4 9h3m-3-1v2m0-1h4m33 6v4m2-8h3m10 3h3m60-1v4m8-8h3m-2 5h2m-1-5v4m2 1v4m28-3v3m8-5h2m0 0h4m5-2v2m4-4h3m-2 0v2m1 3h2m-2-4h2m-1-1h4m-3 1v4m0 1v4m17-6v4m0-10v4m184 5v2m-180 1v4m0-2h3m-21-5h3m-4 5v4m-9-5h3m-6 2h3m-3-1h3m-13 1v2m-7-7h3m-6 6h3m-8 0v4m-3-6v4m-1-2v4m-25-10v3m-30 0h3m-6-4v3m-32-1v4m-31-3v3m-18-4h4m-7 1v2m-1-4h2m-2 4h2m-2-3h3m1 13v4m5-2v3m17-11h3m1 2h4m-2-1v2m14 3h2m1-5h4m-1-1v4m13 4v2m32-7h4m-3 2v4m1-1h2m2-6v2m12 3v4m7-3v2m2-5h4m-2 3v3m14-8h4m3 5h2m4 0h4m-2 0h2m5-1v2m14-9v2m1 6v2m13-10v2m4-2v2m0 1h2m-1 2v4m176-6v3m1-3v2m-161 10h3m-5-4v3m0 2v2m-1-9h4m-22 2h2m-2 5v4m-2-6v2m-1-7h3m-4 1h3m-4 4v4m-6-2h4m-6-4v2m-2 0h3m-6-5v2m-3-2v2m-2 0v4m-2-4h2m-5 4v4m-4-10v2m-7 4v2m-1-5h4m-9 2v2m-13-1v3m-3-6h4m-7 0h3m-9 0v4m-4-2h4m-5-4h3m-3-1v3m-45 4h4m-49-1v4m0-4v4m-13-7v2m-5 0v3m-3-8h4m-8 8v3m0-7h2m-2 2v4m0 3v3m16-4v4m4-5h4m-4 4v2m0-1v2m5-8h2m0 4h2m-2 1h3m-1 2h2m1-4v2m1 1h4m-1 0v3m21-5h4m-3 3h3m5-1v3m3-10h4m9 2h3m24-1h4m6 2v3m1-5v3m1 2v4m2-5v3m2-1h4m-4-3v2m1-4h3m2 0v2m1 1h2m7-3h4m-2-2v3m12 3h3m5-3v2m2-4h4m-4 5h2m-1-5h3m-1-1h2m-1 6h4m-4-1v2m3-6v3m2-1v2m0-4h2m-1 5h2m-2 2h4m-3-4v3m5-3v3m7 1v2m4-2v4m1-4v3m16 3v3m-8 0h2m-10-7h2m-6 2h2m-7 4v4m-4-3v2m-5-8v3m-3-4h2m-3 0h4m-15 3h2m-7 2v4m-1-4v2m-3-4h2m-4 1v4m-4-2h2m-2 1v4m-10-7h3m-8-1h3m-4-1h4m-4 5v3m-1-8h4m-5-1h4m-4-1v3m-5-2v2m-2 2h3m-9 2h4m-14-4h4m-6 0h4m-39 4h3m-21-7h4m-9 2v3m-12-4v4m-2-6h2m-8 2v3m-5-3h4m-16 1v3m-2-1v4m-3-3h2m-4-5h3m0 8h4m8 5h3m19 0h3m2-1h3m9-3v3m3-3v2m1-2v4m15-3h3m0-1h3m0 4v2m3 1h2m-2-6v2m9-3v4m7-5v4m5-4v3m12-2h2m7 0v3m3-3v3m0 0h4m-2-2h4m-1-2h2m11 3v2m0 1h3m0-6v4m5 1v4m2-3h3m4 2h2m18-7h2m-2-1v2m1-1v3m5 3v3m2-9v2m0 0v2m1-1h3m6 3v3m4-7v2m2 1v3m0-7v4m4-1v3m0-7v4m1-4h2m0 5h3m-4 5h2m-5-2h3m-7 3h2m-9 1v4m-1-7v3m-4-1h4m-49-1v4m-3-6v3m-8 5h4m-18-8v2m-6 5v3m-5-2v4m-14-5h4m-6 1v3m-5-10h4m-7 0v3m-1 3v4m-1-4v4m-2-9v3m-14-3h4m-5-1v4m-4-3v3m-7 3h3m-4-6v2m-1 0h3m-7-1h2m-17-2v3m-3-2v2m-3-1h2m-15 5h3m-4-1h3m-13-6h4m-11 9h2m-1 0h2m2 0h4m-2-1h3m-2 1h2m1 0h4m-3 0v3m0-3v4m3-4h3m-2 0v2m2-2h4m2 0v3m4-3h4m0 0h4m4 0v3m10-3h4m2 0v3m1-3v3m0-3h3m-2-1v4m2-4h3m-1 1h4m-1 0h4m-4-1h4m0 0v4m3-3v2m1-2h2m-1 0h3m13 0h3m0 0h2m-1 0v4m2-5v2m6-1h2m17 0h3m14 0h4m-4 0v2m6-2h4m5 0h2m11 0v2m0-2h3m0 0v4m19-4h2m1 0h4m-3 0v4m1-4h3m-2 0h3m3 0h3m11 0v2"/>
<path stroke="#3b528a" d="M57 7v4m350 5v2m-8-4v3m-4-2h3m-10 1h3m-6 8h2m-1-2h3m-1-3v2m1-3v2m18-2v2m2 5h2m14-4h2m8 7h2m-9 0v2m-2 3v4m-16-9v2m-33 4h4m9 7h4m0-2v4m4-5v4m5 1v2m10-1v4m1-4v3m22-2h3m-4 5v4m-7-4v3m-5 0h4m-8-2v4m-7-10v4m-1-2h3m-20 0v3m-4-2v3m-3-1h2m-11-3h2m8 12h3m13 0h2m8 0v2m11-3v4m1-4v2m1 3h2m-22 1v2m-8-1h4m-5 2v2m0 2v3m-10-2h3m3 2h4m-1-1h3m-3 2h3m8-1h3m-2-1h2m2 3h3m-380 11v3m-5-9h4m-4 1v2m-20 3h3m6 7h4m18 2v2m10-1h3m-3 1h3m18-1v2m92 8h3m-5-1v2m-4-5h2m-3 2h4m-85-4h3m-5 3h3m-6-3v4m-6-4h3m-3 0v3m-9 3h3m-6-1h2m-4-4h2m-10-2v4m-16 2h4m-7-4h3m4 12h3m4 2h3m8-8v3m3-2h4m20 6h4m46-2v4m23-3h3m16 0h3m-3 3h3m-16 6v4m-5-9v3m-2 1v4m-1-8h3m-7 4h4m-8-2v3m-1 1h2m-7-7v2m-4-2v3m-45 3h3m-31-4h2m-7 4h3m-3-5v4m-44 2h2m-4 1v3m0-4v4m23 4v2m34-7v2m5 0v4m4 1h2m-1-2v2m1-2h4m8-3v4m50-6h4m2 0v2m2-3h4m-1 1v2m3 5h3m4-2h2m-19 4v3m-3-4v3m-29 0h2m-40-2v2m-6-3h2m-22 4h4m-5-1v2m-3-4v2m-12 4h2m-16 1v2m1 7v3m1-4h2m-1-7v2m0 4h2m1 0v4m2-9v3m0 0v4m3-4h4m-4 2v3m3-8h4m36-1h2m11 5h2m128-3v3m3-1h3m1 3h3m1 1h4m187 2v3m-294-4v3m-2-3v4m-23-3v3m-18-4h2m-4 1v4m-36 3v3m-1-8v4m-31-2h2m-2 7h3m4 2h4m11 1v3m1-1v4m24-12v4m41 0v2m1-5h3m111 0v3m17 1v4m12-2h3m153-4h4m-10 6v2m-171 4v4m-102-3v4m-65-4h4m-40 6v3m0 0h4m15-7v3m3 0v3m3-3v2m4-2h3m0-1h3m3-1v3m157 4v4m1-5h4m24-2h3m152 2v4m6-3h3m2 0v3m18-7v3m3-6h2m1 4v3m8 8v3m-5-10h4m-5 1h4m-34 3h4m-4 1v4m-13-4v4m-5-9v2m-145-2v4m-6-2v2m0-1h3m-4-2v4m-4 3h3m-9-2v2m-9-7h2m-7 5h2m-3-5h3m-4 2v2m-76 9h4m6-4h3m62-1v4m4 2v4m19-10v2m5 4v3m4-3h2m-1-3v4m2-2v4m133-2v2m2-4h2m3-3h3m-1 0v3m1 2v2m6-1v4m8-12v2m3 3h2m11 0v3m5 0h3m-2-1v4m2-9v3m2-2h3m4 3h2m-8 7v3m-45 0v3m-4-2h3m-8-4v3m-136-7v3m-59-2h2m-9 3h3m-7-2v4m0 0h4m-28 1h2m-5-2h4m-4 2v2m-8 5v2m6-7h3m3 5v4m52-9h4m-4 7h3m4-7v4m10 3h3m8-7v4m188 2v3m3-3h3m-2-1h3m9 3v2m3-5h2m2 7h4m-6-2h2m-15 3v3m-5-3h2m-3 0v2m-1-3v3m-9-3h2m-16-2v2m0 1v4m-2-5h4m-8 3v3m-2-1h3m-184-1v2m-19-9h3m-5 7v4m-3-4v4m-17-5v4m-14-10v3m-18-1h3m24 8v4m23-5v3m8-3h4m227 2v2m2 2v4m6-2v2m-5 0h2m-222 25h4m-17 7v4m3-4h4m-3 0v3m0-3v4m6-8v2m1 3v3m11-3v2m7-4h4m-34 6h3m-6 3h4m-19 2v3m-1-3h2m-5-1h4m8 10v2m0-4v2m3-1v2m2-4v4m0-2v4m3-3v2m5-1h4m-3-3h3m-2-3h2m7 4v4m23 6h3m-14-4h3m-9 5h2m-4-1v2m-1-5v3m-6-6v2m-13 5h2m-7-8v2m-1-2h4m-19 5h4m-4 2h2m-7-6v4m-4-4h3m-11 2h3m-19 2h4m-36 0h4m-16 2h2m-66 10v2m2-3h3m23-1h3m-1 0v4m0-2h4m0-1v3m3-8h3m2 2v3m3-6h2m37 7v4m16-7h2m21-5h3m6 2v4m25-5v4m35 1h2m-1-2h4m-2-3v2m4 4v2m1 4h3m-70-2h4m-10 3h3m-7-3h4m-7-2v4m0-3h3m-4 6v4m-3-7h3m-11 1v4m-2-5v2m-9-4h3m-11 3h2m-32 2v3m-2-5v4m-2-6v4m-7-5v2m-10 0v3m-1-2v4m0-1v2m-1-6h2m-3 3v3m-17-3h3m-3-3v2m-2-6v4m-2-3v2m-15-3h4m-5 2v4m-9-1v2m0 0v3m1 0v4m1 2h2m4 0h4m7-2h2m-1 0v4m24-8h3m0-1v2m7-1h2m12 7h3m0-4h3m2 4h3m24-7h3m57 6h3m12 0h3m20-3v4m0-1h4m-1-2h4m-3 0h4m1-5v2m149-1h3m3 3h3m5 0v3m2-1h2m1-3v2m3-2h4m0 14v2m-3-4v3m-3-8h2m-14 0h3m-3 2h3m-13-3v3m-167 4v4m-19-7v2m-2-5v3m-37-1h2m-3 3v4m-1-10v3m-2-3h2m-3 3h3m-16 5h4m-22-3h3m-26-5v4m0 2v3m-3-6v3m-52 2h2m-15-4v2m-5 1v3m0-3v3m0-7h2m1 7h2m2 7h3m12-4h2m17 1h4m0 3v3m32-8h3m91-2v3m2-4v2m16 5v3m182-4v2m7-6h3m7 3v2m2-2h3m-2 1h4m-202 10h3m-138 0v4m-14-8h4m-8 5v2m-12-10h3m-9 8v4m-22-4h3m-3-5v4m0 0h3m35 9h2m-1-4v3m1-2h4m-3 1v3m3-1v2m1-6h3m11 1v4m2-2h2m-1-2v2m4-3v2m8 0v4m38-1v4m6-4v4m80-11v2m4 2h2m172 3v3m6-3h2m4-2v2m-4 6v4m-308-5v4m-37-7h2m-2 4v4m-12-7v3m-6 0h2m-17 7h3m1 3h3m11-4h2m2 3h2m0 2v2m1-9v2m2 2v2m17-4v4m42 2v4m84-8h3m189 0h3m-2 1v3m3-4h3m2-3v3m-184 5h4m-6 5v3m-8-5v3m-4-6h4m-12 7h4m-50 0v2m-52-2v2m-25-8v2m-4-1v2m-11-1v3m-33-1v4m11 7h4m-4-6h2m-2 2h4m0 1h3m-2-1v2m1 0h2m1-1v4m3-4h3m1 1h2m3-5v4m0 1h3m10 0v3m117 0v2m5-6h2m4 1v3m16-3h2m-32 11h2m-8-7h2m-22 6v2m-12-6v3m-3 1v2m-1-6h4m-19-1v4m-76-4h3m-6 4v4m-22 3h4m3-2v4m26 1v3m10-6v2m0 3v2m2-4h3m2-1h4m19-3v3m5 0v4m29-7v4m1 0h2m1-4v2m23-4h2m0 3v4m1 1v3m6-10h2m5 6h2m28 1h4m1-1v2m21-1h3m-1-1v2m-1 0v4m-6-1v3m-5-3h2m-5 4h4m-54-6v4m-3-4v3m-95-3v4m-1-3v4m-2-1h4m-4-3v2m-13-3v4m0 3v2m-3-5h4m-21-4h3m4 9v4m14-5h3m4 1h3m111 0h2"/>
<path stroke="#306c8e" d="M424 22h3m-47 10v4m-3-2v2m31 0h4m2 8v2m-18 5v4m-1-3h2m-5-2v3m-13-1v4m-2-6v2m33 7v3m2-1h4m-372 34v4m1-5v2m13 9v3m-9-5v2m0-4v3m-32-1v3m-2-3v2m135 20h3m-8-3v4m-89-4v2m-25 9h4m102-7v4m8 1v2m3-3v4m1-6v3m1 1v4m0-7v4m-83 5h4m-53 3h4m-3 8h2m-2 2h3m9-7h4m191 31h2m-6 0h3m-18 8h4m24 1h4m-4-2h4m-14 13v2m-2-4v2m-12 0h4m-11-3v2m-7 3h4m-5 0v3m-44 4v3m6-5h2m0 1v2m7-2h2m1 3h2m7-4v2m31 1h2m2-6v3m2-1v3m17-2v3m140-2v3m3-1v3m19-8h3m25 4v3m4-4h4m-5 9h3m-5-3v2m-5 2h4m-11-1h3m-38 2v3m-1-10v4m-176-4v2m-2-1h4m-19 7h4m-5-3h2m-4-5h2m-3 2h3m-5-1v3m0-1h4m-18 5v3m-36 2h4m1-3h4m-1 1v3m1 1v2m20-6v2m27 0v3m0-6v3m9-4h3m14 4h3m-2 0h3m-2 3v2m188-1v2m6-6v2m5-1h4m-9 7v2m-6 1v2m-3-3v2m-1 1v4m-15-5v4m-4-5h3m-6 0h3m-184-1v3m-3-1h2m-14-3v4m-40-8h4m243 14h2m5-2v2m27-3v3m5-1v2m-36 4h4m-207 33v4m15-5h2m5 0v3m1-5v3m2-1h2m7 0h3m-3 3v4m-7 2h3m-9-1v4m-8-5h2m-13-1h4m-21 13v4m14-4h2m13 1h3m6 1v2m-4 3h4m-8-4v2m-3 4v3m0-3h2m-5-3v3m-1-5h4m-102 2h4m-36 12v2m3-2h2m9 0v4m118-11h2m-123 9v4m-6 0v3m-4-2h2m-8 1v4m-7-6h2m-4 1v4m-3-3h4m-6 2h2m-10-7v4m-22 4h3m-3 8h3m9-6v2m0 4v2m5-4h2m19-5h4m18 7v4m6-9h3m115-3v4m12-2v4m4-6h2m144 3v3m12 1h2m6 1h4m4 7v2m-2-1v2m-1-9v4m-10-2v2m-5-4h2m-309 1v4m-13 1h4m-5 0v2m-38-7v2m-4 7h2m-1 5h4m0 0h4m0 0h2m35 1v2m30-9v3m266 3h2m6-3v2m22 2v2m4-7v4m15 5h3m-5 1h4m-45 2v4m-8-8h4m-299 5v4m-45-2h2m19 8v2m0-7h3m3 1v2m4-5h2m1 2v3m26-5v2m3 3h3m130-5v2m185-2h2m0 5v2m6-3v4m-8 8h4m-5-4h4m-21 3v3m-7-2h4m-7-2h2m-299-1v3m-1 0v2m-14-7v4m-11 2v4m-3-4v4m-6-12h3m-14 16v4m1-10v3m5 3v4m359-10v3m-334 7h3m-32 1v4"/>
<path stroke="#26848d" d="M51 122h4m-20 15v2m193 32h4m-1 14h3m-17 8h4m-5 2h3m-14 10h3m210 3v4m-7 0h3m-211 1v3m-12-2v3m-3-2h4m-28-3v3m-6-5h4m-25 3h4m0 5v2m16-1v2m34 0v2m0-3h4m-4 4v2m205 3v4m-242-6v4m11 6h3m50 44v3m-4-1h2m-3 1h4m-7-2h4m-9 3h2m-4-5h3m-3 7h2m-4 5v4m-3 7h4m-139 10v2m-4 0v2m-4 2v4m-41-6v2m-3 1h4m0 6v2m373 9v2m-5 1h4m-14-1v4m-310-10h4m-30 5v4m-8-3v4m19 7h4m-4-4h3m2 3v3m2-7v2m23 3v3m300-5v4m-305 0v4m-33 3v3m-2 3v3m347 2h2m-8 7h4m-8-1h3m-8-4v4m-305-2v4m-12-8v4m-4-5h4m-17 6h3m-4-4h2m-3-2v4m33 13v2"/>
<path stroke="#229c88" d="M211 180h2m5 15v2m-2-7v4m-1-3h3m-10 5h2m-4 0h4m-37 6h2m239 12h2m-5-4h4m-210-1h3m-22 5v4m-19-5v3m-13-3v2m-1-3h2m-4 4v4m27-3v4m224 3v3m-11 1h4m-211-2h4m-27 6h2m231 8v3m-358 79h2m342 18v3m-330-4h3m-3 4v3m323-3v4m3 1v2m5 0v2m16 1h2m-362 1v3m0 9v3m346-1v3m-11 2h3m-7 2h3m-335-4h3"/>
<path stroke="#33b47a" d="M154 206h4m17 6h2m-12 1v2m22 7h2m0-4v4m-150 109v4m24-2v2m-9 5v2m-14-6h2m326 9h2m0 0v4m-15 5h3m28 9v2m-17 9v2m-2-3h4"/>
<path stroke="#5fc860" d="M184 218h2m1 3v4m-1 0v4m16 64v4m170 47v2m-7 16h2m0 11v2"/>
<path stroke="#9cd83c" d="M381 354h2"/>
<path stroke="#dde326" d="M369 358v3m-1-9v3m-1 4h2m-11-7h3m2 10v3m4-4h3"/>
</g></g>
<g clip-path="url(#cq32)"><g id="d15" transform="translate(821.2,297.4) scale(0.25)">
<path stroke="#461264" d="M68 6v3m350-1v3m3 0v3m-4-5v2m-346-2v3m-17 12h4m3 1h2m99 80h4m-24 2h3m28 7v3m-28 6v2m16 9v4m-10-3v2m198 24h3m-13 0v2m-4-5h3m-212 12h2m40 35v2m3-5v2m8 0v2m27-3v2m38-1v3m-3 3h3m-3-3h4m-60 3h2m-16-2h3m-20 4v2m-36-4h2m11 8h4m289 7h3m-49 8h4m-7-1h4m-223 1h4m-1 5h4m261-2h4m-410 75v4m20-6v3m6-2v3m2-3h4m-3 0h4m0-1v4m9-6h4m-2 6v2m-3 8v4m-1-8h2m-5 0v4m-19-1h2m-7-7v4m0-3h4m-4 3v3m-1-5h4m-4 0h3m-16-1v2m-3 4h2m-3-4h2m-5 5v4m0-6v3m-4 8h4m-4-3v4m0-8h2m-1 3v3m4-1h2m0-2v3m10-2h3m-1 1v4m7-5h4m-4 0v4m1-4h4m-1 1v3m1-8v2m2 1h3m18-4h2m310 2v2m2-4h2m11 1h4m-361 9v2m-24 9h3m-3 5h3m0-2h4m-2-2v2m7-4v3m328 3v2m36-6v3m-37 6h3m-342-4v2m0 6h4m-4-7v4m0 9h2m386-5h2m-30 17h2m-362-5h3m-1 23v4"/>
<path stroke="#44347e" d="M51 8v2m7-4h3m2 0v4m0-4h4m0 0v4m0-3h2m2-1v2m325-1v3m5-3v4m24 0v2m-8-3h2m-350 2h4m-6-1h3m-5 3v3m-3-4h2m-6-4v3m-5 3h2m-4-4v4m3 7v3m5 0v3m12-10h3m-1 1v3m0-3v4m330 2h3m25 1h4m-1 4h2m-2-1h3m-65 4v3m0-2v2m64 3v4m0 7v4m0-3v3m0-7h2m-3 14v2m-8 5h3m-415 10h3m-2-4v4m1-4h4m15 1h2m371 3v4m7-10v4m6 0v2m-351 15h2m2 4h3m-2-2v2m85 1h4m5 7h3m-8 2v2m-6-8h2m-19 4v4m-2-2v4m-18 4v3m5-8v2m1 0h3m-1 2v3m2-7v4m8-6v2m10 5v4m8-9v3m1-5v4m5 1h2m-2-4h2m-1 0h3m-3 5h4m3-2h4m-29 6h4m-5 6v2m-10-4v4m-2-9v3m-1 4v4m-7-10h4m-48-1v2m0 2h4m-79 1v4m-1-6v4m0 0v2m0 0v2m121-2v3m1 0h3m7-3h2m5 0v4m3-1h2m-1 5h4m-1-7h3m78 2v2m5-3h2m-1 5h3m0-2v4m-86 0h2m-9 3h4m-4-3v3m-2-2v2m196 9h2m44 5h2m35 8v2m-25-7v4m-9-6v4m-8-2v3m-39 3v4m-1-7h2m-5 3h2m-6-6v4m-271 10h2m1-2h2m53 3h2m1-3v4m0-3h4m114 1v2m125-1h2m1-4h3m0-3v4m48-3h2m-355 9v2m0-2v2m-3-1v4m0-6h2m-3-1h3m-6 3v4m-24 9h4m7-5h2m52 3h4m98 3h4m25-2v3m132-4v4m-2 7v4m-124-3h3m-24-2h4m-10 0v3m-9-3h3m-75 2h2m-15 3v2m1 1h2m0-4v3m1-2v2m12-3v3m16 3h4m-4-2h2m2 3h4m3-4h2m-2 4v4m3-8h4m1 1v3m32-6v2m3 1h3m3-5h2m25 2h4m-3 2v3m127-2h3m11-4h2m-15 14h4m-131-2h4m-20 0v3m-21-1h3m-8-5v4m-2-1v2m-2-6h3m-8 4v2m0-4v2m-5 3v2m-3-4h2m-8-1h4m-10-4v4m0-3h4m-13 7h2m-4-1v4m-5-5h2m-3-3v3m0-2h3m-26 4v3m-11-9v2m30 7h3m-1 0v2m2-1h3m-3-3h2m0 1v3m2-3h4m16-1h3m5 1v2m0 4v2m7-3h2m4-5v2m22-1h4m-4 4h3m7-3h2m138-3h3m7 5h3m-2 3h3m40 0h3m2 0h3m3 4h4m-5-2v3m-2-1h3m-4 0v3m-10-6v4m-34 1h3m-14-2v4m-2-4v2m-3-1v2m-172 2v4m-6-10v4m-5-2v3m-20 0h3m-15 0h2m-6-1v3m-16-8h2m-3 2v4m17 4h4m5-1h4m-3-1h4m218 8v3m4-11v4m32-1v3m4 1h4m-4-3v4m0-8h3m-7 12v4m-4-7v4m-273 32h2m-10 6h3m-8 2h2m-25 4v2m7 2h4m-2 1v3m105 4h3m-4 1h3m-5-4h3m-86 5v2m-29-10v4m-15 0h2m-3 1v3m-2-7h3m-3 6v4m-1-8h4m-10 0h4m-78 13h3m3 0v4m34-9v4m4-2v4m2-2v4m1-6v3m2-3v2m6-2h3m42-1h2m114-2v3m0-4h2m146 17v3m-3-6h2m-211-2h2m-95-2v2m-4 1h3m-9 1v4m-8-6h4m-6-3h3m-43 5v4m-1 0h3m-3 4v4m27-2h4m7-6h4m1 2h3m-3 2v2m5-3h3m0 0v2m1 0v4m1-4h2m-1-4v3m14 3h4m287 0v4m8-5h2m0-2h3m-3 3v4m1-3v4m3-6h4m1-3v2m4 1h4m3 7v4m0-5v4m-2-1h4m-17-5h3m-3 7h3m-3-2v4m-3-2h2m-7 0v3m-2-9h4m-26 2v2m-144-5h2m-125-1h2m-38 7v4m-5-8v3m-5-5v2m-3 0h2m-20 2h4m-9 2h3m-5-2v2m-1-4v2m0 3v2m0-9v3m0 1v3m0-7h4m-4 11v4m3-2v2m4-1v3m3-9v4m2-4v3m12 4h2m16-1h3m128 1h2m170-7v3m12-1v2m7 0h2m-2 2v4m0-2v2m4-8v4m2-6h3m-1 8v2m3-4h4m0 2v2m7-10h4m-3 0h2m0 2v3m0 5v4m0 3h2m-3-1h2m-3-1v3m-1-1h4m-8-5h2m-3 3v2m-2 0v2m-3-7h2m-4-1h2m-2 3h3m-4-4h2m-3-1h4m-19 6h2m-3-3v4m0-1h4m-5 2h4m-8-1h2m-5-2v4m-2-4v3m-1-2h4m-310-6v2m-3 0h2m-6 3v3m-8 0h2m-2-8h4m-13 1h2m-5-1h2m-13 7h4m-5-5h3m-3 10v3m0-4v3m0 1v3m0-1h2m-2-7h4m8 0v4m1-5h4m10 6v3m19-6h2m307-2v2m3 0v4m24 1h4m2-8v4m-15 8h3m-12 0h2m-3 4h2m-4-1v4m-3-7v4m-351 4h4m-1 3h4m5 3v2m6-9v2m351-2h2m-170 9h3m-5 0v2m-192 0v4m-2-2h2m-2 2v3m-1-7v3m-1 1h4m-5-1h4m-9 1h2m-6 1v3m0-4h3m-3 5v2m0-1h2m-2 4v2m0-5h4m1-2h2m4-3v3m3 3v4m1-4h4m-1-2h3m-3 4v4m0-7v3m2-5v2m189-4v2m2-2v4m0-3v2m-202 11h2m-4 2h3m-10 8h3m-3 1h4m10-2h2m7 7v2m-2 2h3m-24-8h2m-2 10h2m1 0v3m1-3h3m-3 0h2m1 0h4m2 0v4m203-4h4"/>
<path stroke="#3b528a" d="M62 6v4m0-2h2m-2-2v4m4-4h2m352 9v2m-16-4h4m-16 0h3m-6 3h4m-7 0v3m-324-7h4m-9 1v2m-1-1v3m0-6h2m328 8v4m3-5v3m19-3h3m2 5v2m20 10h4m-4-3h2m-4-2v2m-5-1h2m-4 3h2m-6-3h4m-15-3v4m-31-5v2m-1 15h2m11-8v3m34-3h2m5 2h2m3-2v4m-1 9v2m-4 0v3m-9 8v4m11-4h2m-1-8h3m-9 9h2m-3 0h3m-6 0h4m-411 17h4m-1-2h2m-2-3v2m17 2h3m362 1h4m12-4v3m-361 3h3m-24 4v2m-2 1v4m-21-10h3m-4 1h3m-7 1v3m-2 0h3m-3 3v3m0 2h4m5-6v3m17 0v3m1-5v2m3-3h2m30 7v2m1-1v2m5-6v4m87 8v4m-2-10h4m-11 7v4m-73-8h3m-3 0h2m-53-3v3m-20-4h2m-4 15v3m1-1h2m35-1h2m4-7h3m82 6v2m18 0h3m-1-6h3m-1 6v3m8-7v4m1-3h3m-11 4v3m-1-3v2m-4 6v4m-27-8v2m-41-1h4m-8 1v2m-3-5h3m-71 2h2m-6 1h4m-4-3h2m62 7v3m2-4v4m60 1v2m9 1v3m3-3h4m2-1h2m66 1v4m16-10v4m11 8h4m-4 1h4m-11-6h4m-5 8h4m-21-8h3m-3 0v4m-106 2v4m-10-6v2m-32 1v2m-7-1h3m-17 9v4m3-7h2m10 2v3m146-5v3m0-8h2m25 6v3m173-2h4m9 7v2m-1 0v3m-11-7v3m-7-4h4m-30 4h4m-320-1h2m-8 9v2m17-6h2m13 2v2m32 1h3m2-3h2m113 3h3m131-3h3m-2 1h3m6-3h3m2 4v3m17-4v4m0-8v2m-21 12v3m-4-2v3m-167-6v2m-153 0h3m-3 0h4m-4-2v4m-10-4v4m-44-1v3m6 4h3m1 4v3m9-8h2m0 4h4m1-5h3m-2 0v2m10 4h2m7-3h3m-1-2h4m48-2v2m2-2h2m93 7h4m-4-7v4m1-4v4m25 3h3m10-8h3m122 6h3m22-1h3m1 2v4m37 3h4m-55 3h4m-13-1v3m-5-3v2m-2-1h2m-3-8h3m-135 7v4m-4-8v4m0-3h3m-12 0v4m-7-5v2m-6-2h3m-14 5h3m-76 3v3m80-3v3m6-3h2m11 5v3m1-9h3m3 7v3m139-5v4m1-4h3m0 1h2m1-1h2m-2-4v3m3-2h4m-4 3h2m17-2v2m18-1h2m-2 0v3m10-2h2m4 0h4m-58 3h2m-6 8h4m-7-6h2m-145 3h3m-30 3h4m-12-7h2m-4 1v4m-22-2v3m-2-2h4m-5 2v3m-7-9h4m-5 3v4m-4-1h3m-25 3h2m-2 2v2m45 1v2m1-5v4m4-4v2m4 2v3m16-5v3m5-5v4m0 0h2m2 1v3m158-9h3m1 1h3m23 2v3m5-2h2m6 2h4m-1-3h4m-1 1h2m1-2v4m7 6v2m0-1h4m-23-3h3m-4 2h2m-3-4v2m-4 2v4m-2-7v3m-1-4v4m-16-3v2m-1-4v4m-5-3v4m-184-3v3m-20 1v3m-5-2h3m211 3h3m-2 1v3m5 0v3m26 3h4m-270 31v4m58-3h2m1-4v2m1 2v4m0-7h3m-6 7v4m0-3h3m-63-1v3m-6-5h4m-7 8v4m-1-6v3m0-5v2m-26 10v4m2-4h2m17-6h3m-1 1h3m54 11h3m-51-1h3m-5 4h4m-5-5h3m-8-1h2m-4 7h2m-16 0h2m-14 0h4m-1 6v3m3-6h3m10 5v4m11-9v4m3-6h4m-3 5h3m1 1h4m62-6h3m3 5v2m-1 3v2m-6 5h2m-3-6v2m-38-4v3m-6-1v4m-1-4h3m-8 0h4m-28-2v2m-16 2v3m-3-1v4m0-10h2m-18 6h4m-12-6h3m-4 1v4m-13 1v4m-10-8h3m-9 4v2m-27 9h4m9-5h3m-1-3h3m6 0v4m1 4h4m-3-7v2m7 1v3m1 0v4m22-3v2m26-10v3m63 1h2m173-2v3m4-3v4m1-1v3m13-4h2m0 3v2m3-2v2m1-1v3m3-9h4m4 15h4m-15-8v2m-2-2v3m-4-2h3m-14 0v2m-1 0v4m-14 1h3m-142-7v2m-9 4h4m-11 0h2m-3-1h4m-112-6h2m-13 1v3m-10-3v2m-32 2h4m-7 0v3m-15 2h4m-2 2v4m8-6h4m23 6v4m2-5h3m56-1v2m81-7h3m168 6v4m5-9v4m3-3v4m5 2h2m-14 9v4m-6-9v4m-5-4v2m-4-1v3m-237-5h4m-53 5h3m-15-5v4m-9-2v2m-5 0h4m-12 2v2m-25-3v3m21 2h4m-3-3h2m6 3h4m5 5v3m5-9h3m-2-2h4m-4 5v2m155 1h3m155-6h2m17-1v4m5-2v4m4-1v2m0-6v4m-4 4v3m-8 2v2m-9-8v2m-160 4v4m-10-9v4m-134-1h2m-35-2h2m-9 4v3m-13 8v3m1-3v3m2-6h3m-1 3h3m13-3v3m22-8v4m130-3v4m11-4v2m177 1h4m-2-2v4m-165 8v4m-22-4v3m-134-2v4m-9-7h3m-26-2h4m-4-1v4m-10 4h4m-12-4h2m-2 9h3m-1 3v4m9-10v3m4-4v2m1 2h4m1-1h2m3 2v4m109-5h2m17 1v3m39-5v3m4-1h3m-1 6h4m-7-1h2m-55 6h4m-121-4h4m-11-1h2m-11 6v4m-1-5v3m0-5h4m-12 8h3m3 3v2m8-5v4m19-4v2m4-1v3m78 4v3m-53 0h4m-33-1h3m-20 0v2m-6-7h4m-7 4h3m-4 4h4m-4-7h2m-9 9h2m8 0v3m1-3v2m4-2v3m8-3v4m4-4v4m6-4v4m5-4h4m5 0h3m-1 0v2m2-2v2"/>
<path stroke="#306c8e" d="M422 15h2m-4 1v4m-10-6h4m-5 0h4m-7-2h4m-7-2v4m-9 2h3m-6 4h2m32-1v3m5 9h3m-6 4h4m-32-8v2m-16 4h4m-5-6h4m-7 0v2m-2 3h2m-1 6h4m5 3v2m31-6h4m-1 3h4m-1-1v3m11-5v2m-7 12v2m-1 0h2m-10-3h2m-6 2v3m-23-3v2m-6-6v4m-8-3h3m-6 1h4m6 4v4m38 4v3m2-3h3m-11 2h4m-6 4v4m-37-8v4m-362 10h2m16 1h2m353-4v2m3-4h2m2 6v2m-353 3h2m-3 4h3m-7-5v2m-1-3h4m-11 4v2m-6 1v4m-6-6v4m-9-9v2m-3 14v4m13-8h2m18-1h4m9 13h3m-27-3h4m-6-1v4m-1-2v3m-9 0v2m-8 1v2m1-2v3m23-4v3m5-2v3m4 1v4m38-2v2m0-2h2m-2 4v2m-28 1h3m-7-5h3m-40 3v4m-1-7v2m-2-2v3m58 10v2m2 0v4m4-7h3m-2 0h2m0-4h2m154 6v2m-13 4h4m-7 3v3m-109-2v4m-77 5h3m18 1h2m-1-3h4m-1 2v2m6-6v4m1-5h4m-4 3h2m160-4h3m8 7h2m7-2v3m3-5v3m-20 3h2m-13 2h4m-7 2v2m-92 0h3m-30-6v4m0-5v4m-3 3v2m-8-7v3m-2-5h4m-12 2h2m-3-2h2m-2 6h3m-3-6h2m-56 17v3m42-7v3m3-3v2m2-4v2m2-4v4m8-1v4m45-4h2m0 2h4m267 3h4m10-6v2m0-3v4m17-3h3m0 2h2m2-3v2m-7 11v3m-29-5v3m-6-1v3m-6-7v2m-143 3h2m-2-3v4m-20-7v2m-102 5h4m-10 0h3m-50-5v3m-1-5h4m-5 7h2m-29 1v4m-20-1h4m-2 5v3m9-6h2m5 1h3m172 2v2m26-8h3m-2 4h3m158-3v4m29-5v2m6 4v4m-24 0h2m-8 5v3m0-6v2m0-2v4m-2-5h4m-19-1v3m-156-1v3m-71 8v4m6-4v2m68-6h4m140 0h4m-2 0v2m1 1v3m58-3v3m-1 5v3m0 1v3m-4-4h2m-3-3v2m-8-2v2m-4 2h2m-5-7h4m-40 7v3m-150-10h3m-5-1v2m-70-1v4m-32-5h4m-4 3h4m52 14v2m27-5v2m2-1h2m-1 1h2m-2 0v4m198-8v4m7 0h4m-1 1h4m-3-4v4m-2 1v4m-1 4h4m-6 0v3m-17-11h2m-219 5h3m-4 3v3m-1-5v2m-3-7h2m214 10h4m-4 9v2m-165 35v3m-6-2h4m-15-4h2m-4 0h4m-9 6v2m-48-8v2m-2 1h3m-4-2h2m-3-1v2m-7 0v4m-3 2h2m-25 8v4m19-9v2m4-3v4m68-4v3m8 9v3m-3-1v3m-16-3h2m-48 0v2m-3-4h2m-14-1h2m-20 4h2m-1 10h3m14-2v3m9-4v2m5-3h4m-3 1h2m37-5h3m9 1h3m7 7v3m3-11h3m-46 10v3m-1 0h4m-5 1h3m-10 1v4m-3-7v2m-27 1v3m-2-9h4m-7 6h2m-8-2v3m-33-5v3m-12 1v4m-11-9v4m0-5v3m12 14v2m14-10v2m13-2h3m4 3h3m2 3v4m25-10v2m5 2h4m-2 4h3m-1-2h3m8-1h3m16-4h3m12-1v2m14-1h2m1 4h4m167 12h2m-204-5h2m-17 0v4m0-7h2m-23 5v3m-9 0v4m-21-12v4m-20 1v4m0-7h2m-25 1v3m-6-4v4m0 0h4m-18 2v2m-2-3h3m3 3h2m17 5h4m47 0h4m8-5v2m39 3h3m-1-6v3m0 2v2m7 1v3m7-10v2m2 5h3m-2-5h3m0-3v2m5-2v4m-1 11h3m-14-5h4m-9 0h3m-6-1h3m-11 0h2m-131 7v3m-11-3v2m-4-2h2m2 8v2m3-4v4m1-8v2m8 0v4m2-2h2m11 1v4m10-3h3m39-6v4m82 4v3m5-9h4m-2 5h2m2-2h4m177 5v4m-12 2v3m-177-2h4m-8-1h4m-114-5v4m-7-6v4m-17 0h3m-3-2h4m-9 2h3m-25-4v4m-1-1h2m-3-3v3m-16 12v3m38-9v3m6-2v2m108 5v3m2-3v4m22-4h2m1 0v4m15-12h4m158 1v2m-207 7h3m-119 5v3m-25 3v3m11-4v2m1 0v2m15-5h3m4 6h2m-1-7v4m77 0h4m5 2h3m11-1v4m3-7h4m32 6h2m-2-1v2m13 4h3m-5 0h3m-3-3v2m-4 3v4m-3-6v4m-44-2v2m-9-2v2m-85-2h4m-10 1v4m-1-8h2m-8-3v2m-40 10v3m7-2h3m17 0h2m4-1h4m6 5h4m6-6v3m32 2h3m22-5v4m39-6v4m52 1h2m-79 9h4m-15-5v4m-5 0v3m-16-4h4m-8-3h2m-32 7v4m-6-6h3m-6-2h2m-8 1v4m-6-4h2m-10-1v3m-9 1v3m-2 0v4m3-4h3m6 0v4m0-5v3m10-3h4m-3 1v3m1-3h4m-2 0h2m1-1h4m42 1h2m40 0v4m56-4v4m1-4h2"/>
<path stroke="#26848d" d="M418 17v4m-27-4v3m-12 4h4m32-4v2m8 7v3m-13-3v4m-4 1v4m-3-9h3m-8 2v4m-15 0v4m-1-9h2m-3 3h3m-3-2h3m-4 4h3m1 2h4m-2-1h2m34 2v4m-10 5h4m-20 5h3m-6-1h4m-9-3v2m-11 2h3m3 7h4m2-2v2m32-4v2m-16 14h4m-5-4h3m-13 9h2m3 2h2m-362 3v2m-4 3v4m-26-9v4m7 8h2m7 3h4m12-2v2m2-1v4m20 7v2m-2-1v3m-2-7h4m-14 1h2m-28-2h2m-11 4h3m-4-2h2m-8 2v4m5-2h4m14 2h4m7 2h2m-2 0h4m10-2h2m21 11v3m-14 1v4m-5-12h3m2 12h3m12-2v2m139 13h3m-6 1v2m-143-9v2m-2 5v3m-4-3v2m-1-5v4m-59-6h3m14 8v2m8 4h2m35-8h2m142 2h4m3 6h2m5-2h2m-1-5v2m2 4h2m0-1h4m-20 5h2m-3-1v2m-102-3v2m-33 0h4m-6 2v2m-1 2h4m-6-5h3m-7 1v2m-7-6v4m-4 1v4m-11-4h2m-19-1h4m-24 1v4m79 3h4m145 2v3m183 7h2m-183-5h3m-13 1v3m-11-4v4m-4 3h3m-157-6v4m-11-2v2m-42 0v2m-3-4v2m0-2h3m7 9v2m196-1h4m-2 1h2m25-5h2m160 6h2m0 1v4m23-9h3m-3-1v3m-199 10v2m182 7h4m10-1h4m-1 10h2m-2-1h3m-7-4h4m-28 12h4m13 2v3m1-8v2m0 1h3m-7 6v2m-21 0h3m-5 4v3m-207 32v4m-5-5h3m7 8h2m31 4h4m-2 6v3m-5-8v2m-10 0h3m-6-2h4m-6 0h3m-21 0h3m-28 6h4m-15-1h3m-5-2h3m4 10h3m13 4v2m21-6v4m13 1v2m-12 0v3m-20 1h3m-6-5v3m-80 7h4m-4 0v3m26 2h2m-2-5h4m-4 3v3m81-7h4m7 1v4m5-6h4m-8 16v3m-18-3v2m-18-4v3m-3 0h2m-24-5h3m-4 5v2m-6-10v3m-18-1v4m-33-4h4m3 11v3m3 1v4m5-11v4m8 1v2m13-4h3m12-2v3m7 1h3m3-4h3m7 5v4m13-11h3m0 7v3m8-5h4m5 0v4m16-9v3m-12 14v4m-54-10v3m-22-4v2m-11-1h2m-16-1v3m-2-1v3m-2-6h3m-33 6h2m-4-3v4m-3 1h2m-16-1v2m62 4v2m6-6h3m0 0h4m-3 8v2m10-3v4m61-11v3m3 5h3m-3-5v2m2 3v2m7-9h3m-13 10v4m-43-6h2m-5 2h3m-38 5v4m19-1v4m17-2v2m38-1v2m1-6h2m12 15h2m-6-5h3m-9 7h3m-18 0h4m-11-4v4m-9-1v4m-32-4v2m-36-8v4m-32-4v2m-2 1h3m119 12h3m5-4h2m3 3v3m7-4h3m0-5v2m2 7h3m-12 0v3m-8 5h2m-9-7h3m-12 3v2m-2-6v2m-5 5v2m-27-3h4m-75-6h4m-14 8h3m-7-3h2m-3 0v2m-18 2h3m24 4v3m2-1h2m87-5v3m15 0v4m1-3h2m-2 3v2m21-9h4m7 5h2m7 9v3m-82-3v4m-57-8h4m-42 5h3m-6 0v2m-15 4h2m10-2v4m19 0h2m4-2h4m-3 3h2m0 1h2m46-1v3m62-7v4m19-2h2m22 1v4m11-7h2m-85 8v3m-12 0v2m-6-1h4m-17-2h3m-3 4v2m-36-6h3m-7 1v4m-6-4v3m-1 2v4m7-4h3m2 0v4m22-4h3m9 0h4m-2 0h4m30 0h2m18 0v2m45-2v2m11-2v3m6-3v2"/>
<path stroke="#229c88" d="M386 32h3m-4-3h3m8 10h3m16 5h3m-2-7v3m3-2h2m-8 8v3m-20-2v3m22 9v2m9-4v3m-25 10v3m-4-3h4m-380 19h3m-6 1v2m44 8h2m-4 7h2m-2-2h3m-12-3v2m-43 6v3m68 11h4m-36-7h2m-35 1h4m-4 0v4m212 16v3m-147-2h3m-3 2h3m-5-5h4m-25 3v4m-25-4h3m-3 3h4m-24 1v4m4-3h3m2 5h3m-3-3h3m8 6v3m27-5h2m56-1h2m115 1v3m10-8h2m-11 9v4m-16 0h3m-105 0h2m-25 2v4m-7-7v4m-21-3v3m-1-2h3m-35-5h4m-19 4h3m9 7h3m4 3h2m2 0h4m0 0v2m19-4h3m31-3h4m125 7h2m-1-2v4m12-4h4m159-2v4m3-5v3m-6 6h3m-171 3v2m-117 0h2m-59-7h2m-24 6v4m-7-5h3m-4 4v4m3-2v3m4-6h3m-3 0v2m84-2v4m296 11h3m7 7v4m3-4v2m2-3h4m-3 1h3m-14 12h3m-3 2h4m-218 57v4m19 7h2m-13-2h2m-13 0h4m-54 2h3m13 6v3m7-2h4m5-1h3m8 6h2m0-4h2m6 0h3m-3-3v3m6-3h3m-1 0h4m-17 13v3m-23-7h2m3 12v3m3 0v2m23-9v3m-15 11v3m-14 0v2m-25-3h2m-7 0v4m0-3h3m-17 0v2m-24 3h4m18 3v4m7-11h2m1 3v3m2-6v4m2 2h4m43-5v3m7-3h2m-1 0h3m-18 12v3m-7-3v2m-1-3h3m-17-3h3m-27 3h3m-4 3h2m-57 8v3m43 0h3m1-7v3m45-4v3m21 2v4m-35 2h3m-42 2h4m-34 6v2m31 0h2m9 2h3m30 3h2m9-2h3m31-2h2m-10 7v3m-7-1h2m-3 2v2m-5-6h4m-10-1v3m-6 2v2m0-6v2m-25 1v4m-27-8h2m-2 3h2m-55 12h4m81 0h3m31-7v3m3 3v3m7-1h4m-6 1v2m-5 3h2m-8 0h3m-25-5v3m-15-1v2m-10 2v4m-34-5v3m-53-1h3m-23 1v3m22 3h2m14-3h3m-1 4h3m33-5v3m11 3h3m15-5h4m5 2v4m14-8v2m16 6v2m14-10h4m2 6h2m-1-3v4m8 0h2m-1 8v2m-23-4v4m-24-8h3m-5 4v2m-20-4h4m-38-1v3m-8 1v2m-20 0v4m-3-10v2m-15 3h2m-4 11v3m4-8v4m2-6h2m17 5v2m2-3h4m6-4h2m4 0h3m12 7h2m23-1h3m6 0h4m-3-1h2m0-6h2m3 7v3m39-6v3m13 6v3m-4-7h4m-56 1h3m-63 3v2m-34-4h3m-5 6v4m4-2v4m2-4h3m6 0v2m8-2h2m20-1h2m24 1h2m6 0h4m13 0v4m17-5h4m28 0h3m15 1h4"/>
<path stroke="#33b47a" d="M398 29v2m-11 10v2m3 1v2m7-9h3m5 5v2m10 4v4m-20-6h4m-11 6h2m-3 4v2m19 3v4m2-7v2m1 2v3m10-8v2m-15 6v4m-379 17v3m-2 1v4m41 3h4m-37 10h4m-16-1h4m8 3h2m17 3h3m2 11h3m-48-3v4m9 4h4m11 2h4m36 3h2m0 1h2m-7 5v3m-21 1v3m0-9h4m-5 5v2m-23-6h3m-14 3h3m-12 2v2m19 0h3m-2 0h2m3 7h2m22-5h2m46-1h2m13 6v4m98-10h3m1 0v4m17-4v4m-7 7v2m-8-4h3m-12-1v4m-96-5v4m-54 4h3m-36-1h4m-6-5v4m-22 1v2m1 6h3m107-6v4m111 3h2m6 5h2m-12 2h3m-6-2v2m-110-1h4m-111 1h2m13 9v3m0-7h4m395 1v4m6-4h4m6 8v2m-24 5h3m-220 72v4m-6 2h4m-2-4v4m10 1h3m7 9v2m-8-1h4m-13-6h2m-3-1v2m-10 4h2m-19-1h4m-20 1v3m-6 0v3m39 5v2m13-7v2m6-4v3m-2 13h4m-6-5h3m-7-3v3m-4-1h3m-19-2v2m-1 3v2m-22-4v3m3 4v3m21 2v2m18-3h4m-3 1h4m-19 9v3m-32-2h3m-8-1v2m-10-3v2m6 10h4m1-7v3m35 10v2m-4-4v4m0 1h2m-32-3h4m-22-1h2m-8-3h3m-18 13h4m11-3h3m23 1v3m31-2v2m3-6h3m-31 14h4m-5 0v4m-3-2h4m-23-1v2m-6-5v2m-55 7h2m-1 5v2m15-8h4m44 5h3m11-4h2m4 2v4m32-1h3m8 3v3m-5-3v4m-1-6h4m-19 2v3m-1 1v2m-46-8h2m-3 6v2m-3-7h2m-21 9h3m26 7h2m36 0v2m9-8v2m13-3h2m5 6v3m-1 2v3m-46-3v3m-18 1h3m-15 0v4m-75 6v4m10-5v2m16-7h4m48 2v3m3-5v2m6-1v2m13-4v4m22-5v2m2 2h3m4-1h2m3 3h3m1-4h4m-2-1h4m-1 3h2m-8 12v2m-32-6h2m-59 5h4m-27-3h2m-18 9h2m-1-5v3m37 3h2m59 1h4m0-6h4m24 6h2m3-1h3m4 7v3m-64-7h2m-29 0v4m-1 3v2m-12-9v3m-1 4h4m-39 1h4m-10-1h4m6 3h3m3-1v3m10-2h3m68 0v3m2-4v3m4-2h4m53 0h3"/>
<path stroke="#5fc860" d="M403 42v3m2-5h3m-2 5v3m-12-3v4m-13 8v2m2 1v4m4-4h3m2-5v2m9 5v2m3-5v3m2-5v3m1-4h3m7 1v3m2-4h3m1 1v2m-358 44h3m-7-2v3m-49 3v3m-2 0h3m44 0v2m2 0h3m-8 12h3m-4-3v4m-20 3h2m15 6h4m46 9v4m-70-8v3m-24 1v2m0-6v3m5 2h2m2 1h2m3 2v4m10-7v2m24 14v3m0-6h3m176 11v3m4-2h4m-214 3h3m-11 11v4m2-6v3m1 0h2m412 7h3m-3-1h3m-5-1v4m-274 85v2m19-10v2m23 2h2m6 13v4m-7-5h4m-45-3h4m14 12h4m-2-6h4m1 3h3m8 0h2m-25 15h2m12 2v4m4-6h4m-1 1h2m-13 9h3m-55 15h4m2-8h2m29 15v3m-31-9v2m-19-1v4m-11 10v4m50-4h2m-6 4h2m-38 13h3m-2-1v2m1-5v2m23-3h4m17 4v2m23 7h4m-12 2h3m-15-3v2m-2 1h4m-42-2h4m56 22v3m-8-5v2m-16-3v2m-24-2h4m-27 0v2m-10 6h2m10 0h4m1 1h3m54 7h3m-45 2h3m-5 3h3m-41-6h4m-34-2v3m9 6h4m10 5v2m6-1h4m3-6h4m-3 0h3m51 4h2m52-1h3m2 10h2m-16 4v2m-49-10h3m-18 3h4m-18 5v4m-12-12v3m-15 1v3m0-5v3m-7 0v2m-5 0v4m-24-1v3m33-3v4m42-5h4m10 1h2m7-1h4m26 0v3"/>
<path stroke="#9cd83c" d="M402 40h2m3 11v2m-2-5h2m-15-2v4m13 5v4m-388 47v4m42 13v3m-1-1h2m-4 0h4m-4-6v3m-24 9h4m5 0h2m-2 1v4m6 1v2m-3-4h2m-11 4v2m-9-6h4m-6 7v2m-3-6h4m-11 12v4m4-6v3m31-5v2m64 12h4m-63-3h4m-26 3h2m196 8h4m183 17v4m-219 88h3m-22 8h2m-9 9v3m2-5h2m1-1h2m-2 3v2m7-4v2m-7 10v4m-45 22v3m2-5v3m2 0v3m11 7v4m-17-4h3m-3-3v4m-10 6h4m1-5h4m11 3v4m23 7h3m-6-6v3m-13 2h4m-33 2v4m8 0v4m1-6v2m21-1v3m0-4v2m28 2h3m15 7h3m-24 4h2m-7-5v4m1 11v2m9 7h4m-25-6v4m-21-2h2m-64 11h4m13 2h4m51-6h4m21 4h2m-37 11h2m-11-6h3m-8-1v2m13 14v3m50-9v4m9 3h4m13-2h4m-12 6v4m-48-2v4m-2-2h3m-5-7v4m-49 4v4m-8-5h3m-7-4v3m83 4h2"/>
<path stroke="#dde326" d="M407 41v2m4 10v3m-5-7h2m0 12h2m0-2h4m-361 58h4m-25 13v3m2-6h3m1 6v4m-5 0h2m-7-1v3m-13 8h2m-1 3v3m86-7v2m7 8v2m-59 3v2m-25-7v4m2 8h3m9 0h4m-2 2h3m182 4h2m-201 5v4m137 93v3m23 8v3m-1-4v2m-10 5h2m4-3h2m0-1v2m6 0h2m9 1h4m-20 6h3m-6 1h4m-5 1h4m-8-2h2m-53 48h4m-4-2v3m21-5h4m6 4v3m-2 4v3m-10 2h2m-18-2h4m-8-4v3m-51 11h2m46-4h2m42 5v4m11 1v2m-4-1h3m-14 3h3m-4-3h4m-35 2v3m-3 2h4m-3 2v3m3 1h2m0-3h3m-2 1v4m22-2v4m3 2v4m-4-9v2m-4-2v2m-5 6v3m-5-7h3m-4-1h3m-7-1h4m-4-1v3m-7 0v3m-12 1h4m-45-5v4m8 2h3m21 8v4m11-10h2m12 2v2m39-2h3m-2 1h2m1-1v3m2-5h3m11 2h4m-14 6v2m-1 1h4m-17-1h4m-33-1h2m-11-2h3m-13 0v4m-1 3h2m-3 0v4m-8-6h4m-7 0v4m-13-2v2m-3-6h3m-16 3v4m15 2h3m11-3v3m6 3v4m5-10h2m85 17v4m-4-8v2m-57 0v2m-30-8h2m-3 0h3m-16 8h2m-3-4h3m-10 3h4m38 3v3m3-3h2m0 0v3m30-3v3m1-3v3"/>
</g></g>
</g>
<rect x="449" y="50.4" width="110.7" height="109.8" fill="none" stroke="#2a2021" stroke-width="1"/>
<rect x="573" y="50.4" width="110.7" height="109.8" fill="none" stroke="#2a2021" stroke-width="1"/>
<rect x="697.1" y="50.4" width="110.7" height="109.8" fill="none" stroke="#2a2021" stroke-width="1"/>
<rect x="821.2" y="50.4" width="110.7" height="109.8" fill="none" stroke="#2a2021" stroke-width="1"/>
<text transform="translate(442.2,105.3) rotate(-90) scale(1.05,1)" text-anchor="middle">Patient 4</text>
<rect x="449" y="173.9" width="110.7" height="109.8" fill="none" stroke="#2a2021" stroke-width="1"/>
<rect x="573" y="173.9" width="110.7" height="109.8" fill="none" stroke="#2a2021" stroke-width="1"/>
<rect x="697.1" y="173.9" width="110.7" height="109.8" fill="none" stroke="#2a2021" stroke-width="1"/>
<rect x="821.2" y="173.9" width="110.7" height="109.8" fill="none" stroke="#2a2021" stroke-width="1"/>
<text transform="translate(442.2,228.8) rotate(-90) scale(1.05,1)" text-anchor="middle">Patient 5</text>
<rect x="449" y="297.4" width="110.7" height="109.8" fill="none" stroke="#2a2021" stroke-width="1"/>
<rect x="573" y="297.4" width="110.7" height="109.8" fill="none" stroke="#2a2021" stroke-width="1"/>
<rect x="697.1" y="297.4" width="110.7" height="109.8" fill="none" stroke="#2a2021" stroke-width="1"/>
<rect x="821.2" y="297.4" width="110.7" height="109.8" fill="none" stroke="#2a2021" stroke-width="1"/>
<text transform="translate(442.2,352.3) rotate(-90) scale(1.05,1)" text-anchor="middle">Patient 9</text>
<defs><linearGradient id="gv" x1="0" y1="1" x2="0" y2="0"><stop offset="0" stop-color="#440154"/><stop offset="0.1" stop-color="#482475"/><stop offset="0.2" stop-color="#414487"/><stop offset="0.3" stop-color="#355f8d"/><stop offset="0.4" stop-color="#2a788e"/><stop offset="0.5" stop-color="#21918c"/><stop offset="0.6" stop-color="#22a884"/><stop offset="0.7" stop-color="#44bf70"/><stop offset="0.8" stop-color="#7ad151"/><stop offset="0.9" stop-color="#bddf26"/><stop offset="1" stop-color="#fde725"/></linearGradient></defs>
<rect x="940.4" y="50.4" width="7.4" height="109.8" fill="url(#gv)" stroke="#2a2021" stroke-width="0.8"/>
<line x1="947.8" y1="158" x2="951.2" y2="158" stroke="#2a2021" stroke-width="0.9"/>
<text transform="translate(954.3,162) scale(1.05,1)">0.0</text>
<line x1="947.8" y1="140.3" x2="951.2" y2="140.3" stroke="#2a2021" stroke-width="0.9"/>
<text transform="translate(954.3,144.3) scale(1.05,1)">0.1</text>
<line x1="947.8" y1="122.6" x2="951.2" y2="122.6" stroke="#2a2021" stroke-width="0.9"/>
<text transform="translate(954.3,126.6) scale(1.05,1)">0.2</text>
<line x1="947.8" y1="104.9" x2="951.2" y2="104.9" stroke="#2a2021" stroke-width="0.9"/>
<text transform="translate(954.3,108.9) scale(1.05,1)">0.3</text>
<line x1="947.8" y1="87.2" x2="951.2" y2="87.2" stroke="#2a2021" stroke-width="0.9"/>
<text transform="translate(954.3,91.2) scale(1.05,1)">0.4</text>
<line x1="947.8" y1="69.5" x2="951.2" y2="69.5" stroke="#2a2021" stroke-width="0.9"/>
<text transform="translate(954.3,73.5) scale(1.05,1)">0.5</text>
<line x1="947.8" y1="51.8" x2="951.2" y2="51.8" stroke="#2a2021" stroke-width="0.9"/>
<text transform="translate(954.3,55.8) scale(1.05,1)">0.6</text>
<rect x="940.4" y="173.9" width="7.4" height="109.8" fill="url(#gv)" stroke="#2a2021" stroke-width="0.8"/>
<line x1="947.8" y1="280.2" x2="951.2" y2="280.2" stroke="#2a2021" stroke-width="0.9"/>
<text transform="translate(954.3,284.2) scale(1.05,1)">0.0</text>
<line x1="947.8" y1="254.1" x2="951.2" y2="254.1" stroke="#2a2021" stroke-width="0.9"/>
<text transform="translate(954.3,258.1) scale(1.05,1)">0.1</text>
<line x1="947.8" y1="228" x2="951.2" y2="228" stroke="#2a2021" stroke-width="0.9"/>
<text transform="translate(954.3,232) scale(1.05,1)">0.2</text>
<line x1="947.8" y1="201.9" x2="951.2" y2="201.9" stroke="#2a2021" stroke-width="0.9"/>
<text transform="translate(954.3,205.9) scale(1.05,1)">0.3</text>
<line x1="947.8" y1="175.8" x2="951.2" y2="175.8" stroke="#2a2021" stroke-width="0.9"/>
<text transform="translate(954.3,179.8) scale(1.05,1)">0.4</text>
<rect x="940.4" y="297.4" width="7.4" height="109.8" fill="url(#gv)" stroke="#2a2021" stroke-width="0.8"/>
<line x1="947.8" y1="403.8" x2="951.2" y2="403.8" stroke="#2a2021" stroke-width="0.9"/>
<text transform="translate(954.3,407.8) scale(1.05,1)">0.0</text>
<line x1="947.8" y1="382.86" x2="951.2" y2="382.86" stroke="#2a2021" stroke-width="0.9"/>
<text transform="translate(954.3,386.86) scale(1.05,1)">0.1</text>
<line x1="947.8" y1="361.92" x2="951.2" y2="361.92" stroke="#2a2021" stroke-width="0.9"/>
<text transform="translate(954.3,365.92) scale(1.05,1)">0.2</text>
<line x1="947.8" y1="340.98" x2="951.2" y2="340.98" stroke="#2a2021" stroke-width="0.9"/>
<text transform="translate(954.3,344.98) scale(1.05,1)">0.3</text>
<line x1="947.8" y1="320.04" x2="951.2" y2="320.04" stroke="#2a2021" stroke-width="0.9"/>
<text transform="translate(954.3,324.04) scale(1.05,1)">0.4</text>
<line x1="947.8" y1="299.1" x2="951.2" y2="299.1" stroke="#2a2021" stroke-width="0.9"/>
<text transform="translate(954.3,303.1) scale(1.05,1)">0.5</text>
<text transform="translate(449.2,425.6) scale(1.05,1)">Niches</text>
<rect x="449.3" y="434.6" width="11.2" height="11.2" fill="#222222" stroke="#2a2021" stroke-width="0.8"/>
<text transform="translate(465.6,444) scale(1.05,1)">0</text>
<rect x="558.2" y="434.6" width="11.2" height="11.2" fill="#a1caf1" stroke="#2a2021" stroke-width="0.8"/>
<text transform="translate(574.5,444) scale(1.05,1)">4</text>
<rect x="709.3" y="434.6" width="11.2" height="11.2" fill="#dcdcdc" stroke="#2a2021" stroke-width="0.8"/>
<text transform="translate(725.6,444) scale(1.05,1)">Others</text>
<text transform="translate(449.2,464.6) scale(1.05,1)">Cell types</text>
<rect x="449.3" y="473.5" width="11.2" height="11" fill="#1f77b4" stroke="#2a2021" stroke-width="0.8"/>
<text transform="translate(465.6,482.5) scale(1.05,1)">B</text>
<rect x="449.3" y="489.35" width="11.2" height="11" fill="#ff7f0e" stroke="#2a2021" stroke-width="0.8"/>
<text transform="translate(465.6,498.35) scale(1.05,1)">CD3 T</text>
<rect x="449.3" y="505.2" width="11.2" height="11" fill="#279e68" stroke="#2a2021" stroke-width="0.8"/>
<text transform="translate(465.6,514.2) scale(1.05,1)">CD4 T</text>
<rect x="449.3" y="521.05" width="11.2" height="11" fill="#d62728" stroke="#2a2021" stroke-width="0.8"/>
<text transform="translate(465.6,530.05) scale(1.05,1)">CD8 T</text>
<rect x="558.2" y="473.5" width="11.2" height="11" fill="#aa40fc" stroke="#2a2021" stroke-width="0.8"/>
<text transform="translate(574.5,482.5) scale(1.05,1)">DC</text>
<rect x="558.2" y="489.35" width="11.2" height="11" fill="#8c564b" stroke="#2a2021" stroke-width="0.8"/>
<text transform="translate(574.5,498.35) scale(1.05,1)">DC/Mono</text>
<rect x="558.2" y="505.2" width="11.2" height="11" fill="#e377c2" stroke="#2a2021" stroke-width="0.8"/>
<text transform="translate(574.5,514.2) scale(1.05,1)">Endothelial</text>
<rect x="558.2" y="521.05" width="11.2" height="11" fill="#b5bd61" stroke="#2a2021" stroke-width="0.8"/>
<text transform="translate(574.5,530.05) scale(1.05,1)">Keratin<tspan dy="-3.5" font-size="7">+</tspan><tspan dy="3.5"> tumor</tspan></text>
<rect x="709.3" y="473.5" width="11.2" height="11" fill="#17becf" stroke="#2a2021" stroke-width="0.8"/>
<text transform="translate(725.6,482.5) scale(1.05,1)">Macrophages</text>
<rect x="709.3" y="489.35" width="11.2" height="11" fill="#aec7e8" stroke="#2a2021" stroke-width="0.8"/>
<text transform="translate(725.6,498.35) scale(1.05,1)">Mesenchymal-like</text>
<rect x="709.3" y="505.2" width="11.2" height="11" fill="#ffbb78" stroke="#2a2021" stroke-width="0.8"/>
<text transform="translate(725.6,514.2) scale(1.05,1)">Mono/Neu</text>
<rect x="709.3" y="521.05" width="11.2" height="11" fill="#98df8a" stroke="#2a2021" stroke-width="0.8"/>
<text transform="translate(725.6,530.05) scale(1.05,1)">NK</text>
<rect x="865.4" y="473.5" width="11.2" height="11" fill="#ff9896" stroke="#2a2021" stroke-width="0.8"/>
<text transform="translate(881.7,482.5) scale(1.05,1)">Neutrophils</text>
<rect x="865.4" y="489.35" width="11.2" height="11" fill="#c5b0d5" stroke="#2a2021" stroke-width="0.8"/>
<text transform="translate(881.7,498.35) scale(1.05,1)">Other immune</text>
<rect x="865.4" y="505.2" width="11.2" height="11" fill="#c49c94" stroke="#2a2021" stroke-width="0.8"/>
<text transform="translate(881.7,514.2) scale(1.05,1)">Tregs</text>
<rect x="865.4" y="521.05" width="11.2" height="11" fill="#f7b6d2" stroke="#2a2021" stroke-width="0.8"/>
<text transform="translate(881.7,530.05) scale(1.05,1)">Tumor</text>
</g>
<g id="pc">
<text transform="translate(11.2,554.5)" font-size="14" font-weight="bold">c</text>
<rect x="56.2" y="566.6" width="7.6" height="109.02" fill="#b2182b"/>
<rect x="56.2" y="675.62" width="7.6" height="127.18" fill="#2166ac"/>
<rect x="56.2" y="566.6" width="7.6" height="236.2" fill="none" stroke="#2a2021" stroke-width="0.8"/>
<rect x="67.9" y="566.6" width="18.5" height="18.37" fill="#fffacb"/>
<rect x="86.2" y="566.6" width="18.5" height="18.37" fill="#fff6ba"/>
<line x1="52" y1="575.68" x2="56.2" y2="575.68" stroke="#2a2021" stroke-width="0.9"/>
<text transform="translate(46.8,579.68) scale(1.05,1)" text-anchor="end">5</text>
<rect x="86.2" y="584.77" width="18.5" height="18.37" fill="#fff6ba"/>
<line x1="52" y1="593.85" x2="56.2" y2="593.85" stroke="#2a2021" stroke-width="0.9"/>
<text transform="translate(46.8,597.85) scale(1.05,1)" text-anchor="end">6</text>
<rect x="67.9" y="602.94" width="18.5" height="18.37" fill="#fff3b3"/>
<rect x="86.2" y="602.94" width="18.5" height="18.37" fill="#fff9c4"/>
<line x1="52" y1="612.02" x2="56.2" y2="612.02" stroke="#2a2021" stroke-width="0.9"/>
<text transform="translate(46.8,616.02) scale(1.05,1)" text-anchor="end">9</text>
<rect x="67.9" y="621.11" width="18.5" height="18.37" fill="#fecf67"/>
<rect x="86.2" y="621.11" width="18.5" height="18.37" fill="#febb47"/>
<line x1="52" y1="630.19" x2="56.2" y2="630.19" stroke="#2a2021" stroke-width="0.9"/>
<text transform="translate(46.8,634.19) scale(1.05,1)" text-anchor="end">10</text>
<rect x="67.9" y="639.28" width="18.5" height="18.37" fill="#e66910"/>
<line x1="52" y1="648.36" x2="56.2" y2="648.36" stroke="#2a2021" stroke-width="0.9"/>
<text transform="translate(46.8,652.36) scale(1.05,1)" text-anchor="end">32</text>
<rect x="86.2" y="657.45" width="18.5" height="18.37" fill="#fecf67"/>
<line x1="52" y1="666.53" x2="56.2" y2="666.53" stroke="#2a2021" stroke-width="0.9"/>
<text transform="translate(46.8,670.53) scale(1.05,1)" text-anchor="end">34</text>
<rect x="86.2" y="675.62" width="18.5" height="18.37" fill="#7a2b05"/>
<line x1="52" y1="684.7" x2="56.2" y2="684.7" stroke="#2a2021" stroke-width="0.9"/>
<text transform="translate(46.8,688.7) scale(1.05,1)" text-anchor="end">2</text>
<rect x="86.2" y="693.78" width="18.5" height="18.37" fill="#fff9c4"/>
<line x1="52" y1="702.87" x2="56.2" y2="702.87" stroke="#2a2021" stroke-width="0.9"/>
<text transform="translate(46.8,706.87) scale(1.05,1)" text-anchor="end">7</text>
<rect x="67.9" y="711.95" width="18.5" height="18.37" fill="#febb47"/>
<line x1="52" y1="721.04" x2="56.2" y2="721.04" stroke="#2a2021" stroke-width="0.9"/>
<text transform="translate(46.8,725.04) scale(1.05,1)" text-anchor="end">12</text>
<rect x="86.2" y="730.12" width="18.5" height="18.37" fill="#fff6ba"/>
<line x1="52" y1="739.21" x2="56.2" y2="739.21" stroke="#2a2021" stroke-width="0.9"/>
<text transform="translate(46.8,743.21) scale(1.05,1)" text-anchor="end">23</text>
<rect x="86.2" y="748.29" width="18.5" height="18.37" fill="#ffeea9"/>
<line x1="52" y1="757.38" x2="56.2" y2="757.38" stroke="#2a2021" stroke-width="0.9"/>
<text transform="translate(46.8,761.38) scale(1.05,1)" text-anchor="end">27</text>
<rect x="86.2" y="766.46" width="18.5" height="18.37" fill="#fecf67"/>
<line x1="52" y1="775.55" x2="56.2" y2="775.55" stroke="#2a2021" stroke-width="0.9"/>
<text transform="translate(46.8,779.55) scale(1.05,1)" text-anchor="end">38</text>
<rect x="67.9" y="784.63" width="18.5" height="18.37" fill="#feeba2"/>
<line x1="52" y1="793.72" x2="56.2" y2="793.72" stroke="#2a2021" stroke-width="0.9"/>
<text transform="translate(46.8,797.72) scale(1.05,1)" text-anchor="end">39</text>
<rect x="67.9" y="566.6" width="36.6" height="236.2" fill="none" stroke="#2a2021" stroke-width="0.9"/>
<line x1="77.05" y1="802.8" x2="77.05" y2="806.3" stroke="#2a2021" stroke-width="0.9"/>
<text transform="translate(77.05,818.6) scale(1.05,1)" text-anchor="middle">6</text>
<line x1="95.35" y1="802.8" x2="95.35" y2="806.3" stroke="#2a2021" stroke-width="0.9"/>
<text transform="translate(95.35,818.6) scale(1.05,1)" text-anchor="middle">12</text>
<text transform="translate(28,686.6) rotate(-90) scale(1.05,1)" text-anchor="middle">Patient</text>
<rect x="127.6" y="570.3" width="9.3" height="98.3" fill="url(#gy)" stroke="#2a2021" stroke-width="0.8"/>
<line x1="136.9" y1="668.6" x2="140.2" y2="668.6" stroke="#2a2021" stroke-width="0.9"/>
<text transform="translate(143.3,672.6) scale(1.05,1)">0.0</text>
<line x1="136.9" y1="648.94" x2="140.2" y2="648.94" stroke="#2a2021" stroke-width="0.9"/>
<text transform="translate(143.3,652.94) scale(1.05,1)">0.2</text>
<line x1="136.9" y1="629.28" x2="140.2" y2="629.28" stroke="#2a2021" stroke-width="0.9"/>
<text transform="translate(143.3,633.28) scale(1.05,1)">0.4</text>
<line x1="136.9" y1="609.62" x2="140.2" y2="609.62" stroke="#2a2021" stroke-width="0.9"/>
<text transform="translate(143.3,613.62) scale(1.05,1)">0.6</text>
<line x1="136.9" y1="589.96" x2="140.2" y2="589.96" stroke="#2a2021" stroke-width="0.9"/>
<text transform="translate(143.3,593.96) scale(1.05,1)">0.8</text>
<line x1="136.9" y1="570.3" x2="140.2" y2="570.3" stroke="#2a2021" stroke-width="0.9"/>
<text transform="translate(143.3,574.3) scale(1.05,1)">1.0</text>
<text transform="translate(120.6,620.3) rotate(-90) scale(1.05,1)" text-anchor="middle">Proportion</text>
<rect x="119.8" y="792" width="10.6" height="10.8" fill="#b2182b" stroke="#2a2021" stroke-width="0.8"/>
<rect x="137.6" y="792" width="10.6" height="10.8" fill="#2166ac" stroke="#2a2021" stroke-width="0.8"/>
<text transform="translate(129.8,785.5) rotate(-90) scale(1.05,1)">Compartmentalized</text>
<text transform="translate(147.4,785.5) rotate(-90) scale(1.05,1)">Mixed</text>
</g>
<g id="pd">
<text transform="translate(167.4,554.8)" font-size="14" font-weight="bold">d</text>
<text transform="translate(341.5,560.6) scale(1.05,1)" text-anchor="middle">Monocyte markers</text>
<text transform="translate(189.8,616) rotate(-90) scale(1.05,1)" text-anchor="middle">Average expression</text>
<line x1="217.4" y1="659" x2="221.4" y2="659" stroke="#2a2021" stroke-width="0.9"/>
<text transform="translate(213.8,663) scale(1.05,1)" text-anchor="end">0.0</text>
<line x1="217.4" y1="644.17" x2="221.4" y2="644.17" stroke="#2a2021" stroke-width="0.9"/>
<text transform="translate(213.8,648.17) scale(1.05,1)" text-anchor="end">2.0</text>
<line x1="217.4" y1="629.34" x2="221.4" y2="629.34" stroke="#2a2021" stroke-width="0.9"/>
<text transform="translate(213.8,633.34) scale(1.05,1)" text-anchor="end">4.0</text>
<line x1="217.4" y1="614.51" x2="221.4" y2="614.51" stroke="#2a2021" stroke-width="0.9"/>
<text transform="translate(213.8,618.51) scale(1.05,1)" text-anchor="end">6.0</text>
<line x1="217.4" y1="599.68" x2="221.4" y2="599.68" stroke="#2a2021" stroke-width="0.9"/>
<text transform="translate(213.8,603.68) scale(1.05,1)" text-anchor="end">8.0</text>
<line x1="217.4" y1="584.85" x2="221.4" y2="584.85" stroke="#2a2021" stroke-width="0.9"/>
<text transform="translate(213.8,588.85) scale(1.05,1)" text-anchor="end">10.0</text>
<line x1="217.4" y1="570.02" x2="221.4" y2="570.02" stroke="#2a2021" stroke-width="0.9"/>
<text transform="translate(213.8,574.02) scale(1.05,1)" text-anchor="end">12.0</text>
<line x1="239.22" y1="630.08" x2="239.22" y2="636.98" stroke="#3d3435" stroke-width="1.1"/>
<line x1="239.22" y1="643.65" x2="239.22" y2="648.69" stroke="#3d3435" stroke-width="1.1"/>
<line x1="234.57" y1="630.08" x2="243.88" y2="630.08" stroke="#2a2021" stroke-width="0.9"/>
<line x1="234.57" y1="648.69" x2="243.88" y2="648.69" stroke="#2a2021" stroke-width="0.9"/>
<rect x="229.92" y="636.98" width="18.6" height="6.67" fill="#c2b280" stroke="#2a2021" stroke-width="0.9"/>
<line x1="229.92" y1="640.46" x2="248.52" y2="640.46" stroke="#2a2021" stroke-width="1.1"/>
<circle cx="241.22" cy="630.3" r="2" fill="#c2b280" stroke="#2a2021" stroke-width="0.5"/>
<circle cx="238.22" cy="636.01" r="2" fill="#c2b280" stroke="#2a2021" stroke-width="0.5"/>
<circle cx="239.22" cy="640.46" r="2" fill="#c2b280" stroke="#2a2021" stroke-width="0.5"/>
<circle cx="241.72" cy="644.69" r="2" fill="#c2b280" stroke="#2a2021" stroke-width="0.5"/>
<circle cx="236.22" cy="648.69" r="2" fill="#c2b280" stroke="#2a2021" stroke-width="0.5"/>
<line x1="263.43" y1="640.31" x2="263.43" y2="643.43" stroke="#3d3435" stroke-width="1.1"/>
<line x1="263.43" y1="649.36" x2="263.43" y2="651.81" stroke="#3d3435" stroke-width="1.1"/>
<line x1="258.78" y1="640.31" x2="268.07" y2="640.31" stroke="#2a2021" stroke-width="0.9"/>
<line x1="258.78" y1="651.81" x2="268.07" y2="651.81" stroke="#2a2021" stroke-width="0.9"/>
<rect x="254.12" y="643.43" width="18.6" height="5.93" fill="#604e97" stroke="#2a2021" stroke-width="0.9"/>
<line x1="254.12" y1="646.32" x2="272.73" y2="646.32" stroke="#2a2021" stroke-width="1.1"/>
<circle cx="262.12" cy="633.64" r="2" fill="#604e97" stroke="#2a2021" stroke-width="0.5"/>
<circle cx="265.12" cy="640.68" r="2" fill="#604e97" stroke="#2a2021" stroke-width="0.5"/>
<circle cx="264.53" cy="644.17" r="2" fill="#604e97" stroke="#2a2021" stroke-width="0.5"/>
<circle cx="262.53" cy="646.02" r="2" fill="#604e97" stroke="#2a2021" stroke-width="0.5"/>
<circle cx="265.82" cy="648.03" r="2" fill="#604e97" stroke="#2a2021" stroke-width="0.5"/>
<circle cx="263.82" cy="650.1" r="2" fill="#604e97" stroke="#2a2021" stroke-width="0.5"/>
<circle cx="266.53" cy="650.84" r="2" fill="#604e97" stroke="#2a2021" stroke-width="0.5"/>
<circle cx="261.82" cy="651.36" r="2" fill="#604e97" stroke="#2a2021" stroke-width="0.5"/>
<line x1="251.53" y1="665.2" x2="251.53" y2="668.7" stroke="#2a2021" stroke-width="0.9"/>
<text transform="translate(251.53,681) scale(1.05,1)" text-anchor="middle">CD68</text>
<line x1="299.47" y1="649.36" x2="299.47" y2="651.21" stroke="#3d3435" stroke-width="1.1"/>
<line x1="299.47" y1="654.48" x2="299.47" y2="657.37" stroke="#3d3435" stroke-width="1.1"/>
<line x1="294.82" y1="649.36" x2="304.12" y2="649.36" stroke="#2a2021" stroke-width="0.9"/>
<line x1="294.82" y1="657.37" x2="304.12" y2="657.37" stroke="#2a2021" stroke-width="0.9"/>
<rect x="290.17" y="651.21" width="18.6" height="3.26" fill="#c2b280" stroke="#2a2021" stroke-width="0.9"/>
<line x1="290.17" y1="652.99" x2="308.77" y2="652.99" stroke="#2a2021" stroke-width="1.1"/>
<circle cx="296.97" cy="649.66" r="2" fill="#c2b280" stroke="#2a2021" stroke-width="0.5"/>
<circle cx="294.97" cy="652.03" r="2" fill="#c2b280" stroke="#2a2021" stroke-width="0.5"/>
<circle cx="298.97" cy="652.03" r="2" fill="#c2b280" stroke="#2a2021" stroke-width="0.5"/>
<circle cx="302.47" cy="652.03" r="2" fill="#c2b280" stroke="#2a2021" stroke-width="0.5"/>
<circle cx="297.67" cy="654.03" r="2" fill="#c2b280" stroke="#2a2021" stroke-width="0.5"/>
<circle cx="301.07" cy="655" r="2" fill="#c2b280" stroke="#2a2021" stroke-width="0.5"/>
<circle cx="301.67" cy="658.04" r="2" fill="#c2b280" stroke="#2a2021" stroke-width="0.5"/>
<line x1="323.67" y1="650.99" x2="323.67" y2="656.33" stroke="#3d3435" stroke-width="1.1"/>
<line x1="323.67" y1="660.04" x2="323.67" y2="661.37" stroke="#3d3435" stroke-width="1.1"/>
<line x1="319.02" y1="650.99" x2="328.32" y2="650.99" stroke="#2a2021" stroke-width="0.9"/>
<line x1="319.02" y1="661.37" x2="328.32" y2="661.37" stroke="#2a2021" stroke-width="0.9"/>
<rect x="314.37" y="656.33" width="18.6" height="3.71" fill="#604e97" stroke="#2a2021" stroke-width="0.9"/>
<line x1="314.37" y1="658.04" x2="332.97" y2="658.04" stroke="#2a2021" stroke-width="1.1"/>
<circle cx="323.67" cy="650.7" r="2" fill="#604e97" stroke="#2a2021" stroke-width="0.5"/>
<circle cx="324.17" cy="656.78" r="2" fill="#604e97" stroke="#2a2021" stroke-width="0.5"/>
<circle cx="322.17" cy="658.26" r="2" fill="#604e97" stroke="#2a2021" stroke-width="0.5"/>
<circle cx="325.67" cy="658.63" r="2" fill="#604e97" stroke="#2a2021" stroke-width="0.5"/>
<circle cx="323.87" cy="659.74" r="2" fill="#604e97" stroke="#2a2021" stroke-width="0.5"/>
<circle cx="323.17" cy="660.48" r="2" fill="#604e97" stroke="#2a2021" stroke-width="0.5"/>
<circle cx="325.17" cy="660.85" r="2" fill="#604e97" stroke="#2a2021" stroke-width="0.5"/>
<line x1="311.77" y1="665.2" x2="311.77" y2="668.7" stroke="#2a2021" stroke-width="0.9"/>
<text transform="translate(311.77,681) scale(1.05,1)" text-anchor="middle">CD63</text>
<line x1="359.72" y1="632.45" x2="359.72" y2="635.79" stroke="#3d3435" stroke-width="1.1"/>
<line x1="359.72" y1="652.33" x2="359.72" y2="655.81" stroke="#3d3435" stroke-width="1.1"/>
<line x1="355.07" y1="632.45" x2="364.37" y2="632.45" stroke="#2a2021" stroke-width="0.9"/>
<line x1="355.07" y1="655.81" x2="364.37" y2="655.81" stroke="#2a2021" stroke-width="0.9"/>
<rect x="350.42" y="635.79" width="18.6" height="16.54" fill="#c2b280" stroke="#2a2021" stroke-width="0.9"/>
<line x1="350.42" y1="648.32" x2="369.02" y2="648.32" stroke="#2a2021" stroke-width="1.1"/>
<circle cx="357.12" cy="588.56" r="2" fill="#c2b280" stroke="#2a2021" stroke-width="0.5"/>
<circle cx="359.32" cy="632.68" r="2" fill="#c2b280" stroke="#2a2021" stroke-width="0.5"/>
<circle cx="358.62" cy="645.36" r="2" fill="#c2b280" stroke="#2a2021" stroke-width="0.5"/>
<circle cx="356.72" cy="650.7" r="2" fill="#c2b280" stroke="#2a2021" stroke-width="0.5"/>
<circle cx="359.52" cy="651.81" r="2" fill="#c2b280" stroke="#2a2021" stroke-width="0.5"/>
<circle cx="357.72" cy="655.81" r="2" fill="#c2b280" stroke="#2a2021" stroke-width="0.5"/>
<line x1="383.92" y1="654.55" x2="383.92" y2="655" stroke="#3d3435" stroke-width="1.1"/>
<line x1="383.92" y1="659.74" x2="383.92" y2="660.48" stroke="#3d3435" stroke-width="1.1"/>
<line x1="379.27" y1="654.55" x2="388.57" y2="654.55" stroke="#2a2021" stroke-width="0.9"/>
<line x1="379.27" y1="660.48" x2="388.57" y2="660.48" stroke="#2a2021" stroke-width="0.9"/>
<rect x="374.62" y="655" width="18.6" height="4.75" fill="#604e97" stroke="#2a2021" stroke-width="0.9"/>
<line x1="374.62" y1="657.52" x2="393.22" y2="657.52" stroke="#2a2021" stroke-width="1.1"/>
<circle cx="383.12" cy="644.69" r="2" fill="#604e97" stroke="#2a2021" stroke-width="0.5"/>
<circle cx="382.42" cy="655.29" r="2" fill="#604e97" stroke="#2a2021" stroke-width="0.5"/>
<circle cx="386.42" cy="655.66" r="2" fill="#604e97" stroke="#2a2021" stroke-width="0.5"/>
<circle cx="384.42" cy="657.52" r="2" fill="#604e97" stroke="#2a2021" stroke-width="0.5"/>
<circle cx="380.92" cy="658.26" r="2" fill="#604e97" stroke="#2a2021" stroke-width="0.5"/>
<circle cx="385.12" cy="659" r="2" fill="#604e97" stroke="#2a2021" stroke-width="0.5"/>
<circle cx="382.12" cy="660.11" r="2" fill="#604e97" stroke="#2a2021" stroke-width="0.5"/>
<circle cx="386.92" cy="656.78" r="2" fill="#604e97" stroke="#2a2021" stroke-width="0.5"/>
<line x1="372.02" y1="665.2" x2="372.02" y2="668.7" stroke="#2a2021" stroke-width="0.9"/>
<text transform="translate(372.02,681) scale(1.05,1)" text-anchor="middle">CD11b</text>
<line x1="419.97" y1="640.31" x2="419.97" y2="644.32" stroke="#3d3435" stroke-width="1.1"/>
<line x1="419.97" y1="652.33" x2="419.97" y2="659.74" stroke="#3d3435" stroke-width="1.1"/>
<line x1="415.32" y1="640.31" x2="424.62" y2="640.31" stroke="#2a2021" stroke-width="0.9"/>
<line x1="415.32" y1="659.74" x2="424.62" y2="659.74" stroke="#2a2021" stroke-width="0.9"/>
<rect x="410.67" y="644.32" width="18.6" height="8.01" fill="#c2b280" stroke="#2a2021" stroke-width="0.9"/>
<line x1="410.67" y1="649.66" x2="429.27" y2="649.66" stroke="#2a2021" stroke-width="1.1"/>
<circle cx="422.97" cy="640.31" r="2" fill="#c2b280" stroke="#2a2021" stroke-width="0.5"/>
<circle cx="418.27" cy="643.43" r="2" fill="#c2b280" stroke="#2a2021" stroke-width="0.5"/>
<circle cx="419.97" cy="649.36" r="2" fill="#c2b280" stroke="#2a2021" stroke-width="0.5"/>
<circle cx="419.37" cy="651.81" r="2" fill="#c2b280" stroke="#2a2021" stroke-width="0.5"/>
<circle cx="422.67" cy="659.74" r="2" fill="#c2b280" stroke="#2a2021" stroke-width="0.5"/>
<line x1="444.17" y1="654.03" x2="444.17" y2="656.03" stroke="#3d3435" stroke-width="1.1"/>
<line x1="444.17" y1="659.37" x2="444.17" y2="661.67" stroke="#3d3435" stroke-width="1.1"/>
<line x1="439.52" y1="654.03" x2="448.82" y2="654.03" stroke="#2a2021" stroke-width="0.9"/>
<line x1="439.52" y1="661.67" x2="448.82" y2="661.67" stroke="#2a2021" stroke-width="0.9"/>
<rect x="434.87" y="656.03" width="18.6" height="3.34" fill="#604e97" stroke="#2a2021" stroke-width="0.9"/>
<line x1="434.87" y1="657.81" x2="453.47" y2="657.81" stroke="#2a2021" stroke-width="1.1"/>
<circle cx="444.47" cy="650.84" r="2" fill="#604e97" stroke="#2a2021" stroke-width="0.5"/>
<circle cx="444.37" cy="654.55" r="2" fill="#604e97" stroke="#2a2021" stroke-width="0.5"/>
<circle cx="446.37" cy="657.52" r="2" fill="#604e97" stroke="#2a2021" stroke-width="0.5"/>
<circle cx="442.67" cy="658.11" r="2" fill="#604e97" stroke="#2a2021" stroke-width="0.5"/>
<circle cx="444.97" cy="659.74" r="2" fill="#604e97" stroke="#2a2021" stroke-width="0.5"/>
<circle cx="443.87" cy="661.67" r="2" fill="#604e97" stroke="#2a2021" stroke-width="0.5"/>
<line x1="432.27" y1="665.2" x2="432.27" y2="668.7" stroke="#2a2021" stroke-width="0.9"/>
<text transform="translate(432.27,681) scale(1.05,1)" text-anchor="middle">CD11c</text>
<text transform="translate(251.8,618.7) scale(1.03,1)" text-anchor="middle"><tspan font-style="italic">p</tspan> = 0.147</text>
<line x1="239.5" y1="624" x2="263.5" y2="624" stroke="#5a4a4a" stroke-width="0.9"/>
<text transform="translate(312,639) scale(1.03,1)" text-anchor="middle"><tspan font-style="italic">p</tspan> = 0.073</text>
<line x1="299.7" y1="644.3" x2="323.7" y2="644.3" stroke="#5a4a4a" stroke-width="0.9"/>
<text transform="translate(372.3,578.7) scale(1.03,1)" text-anchor="middle"><tspan font-style="italic">p</tspan> = 0.011</text>
<line x1="360" y1="584" x2="384" y2="584" stroke="#5a4a4a" stroke-width="0.9"/>
<text transform="translate(432.5,628.8) scale(1.03,1)" text-anchor="middle"><tspan font-style="italic">p</tspan> = 0.031</text>
<line x1="420.2" y1="634.1" x2="444.2" y2="634.1" stroke="#5a4a4a" stroke-width="0.9"/>
<rect x="221.4" y="566.4" width="241" height="98.8" fill="none" stroke="#2a2021" stroke-width="0.9"/>
<text transform="translate(341.5,699.2) scale(1.05,1)" text-anchor="middle">Immune regulation</text>
<text transform="translate(189.8,755) rotate(-90) scale(1.05,1)" text-anchor="middle">Average expression</text>
<line x1="217.4" y1="789.85" x2="221.4" y2="789.85" stroke="#2a2021" stroke-width="0.9"/>
<text transform="translate(213.8,793.85) scale(1.05,1)" text-anchor="end">0.0</text>
<line x1="217.4" y1="774.07" x2="221.4" y2="774.07" stroke="#2a2021" stroke-width="0.9"/>
<text transform="translate(213.8,778.07) scale(1.05,1)" text-anchor="end">0.5</text>
<line x1="217.4" y1="758.29" x2="221.4" y2="758.29" stroke="#2a2021" stroke-width="0.9"/>
<text transform="translate(213.8,762.29) scale(1.05,1)" text-anchor="end">1.0</text>
<line x1="217.4" y1="742.51" x2="221.4" y2="742.51" stroke="#2a2021" stroke-width="0.9"/>
<text transform="translate(213.8,746.51) scale(1.05,1)" text-anchor="end">1.5</text>
<line x1="217.4" y1="726.73" x2="221.4" y2="726.73" stroke="#2a2021" stroke-width="0.9"/>
<text transform="translate(213.8,730.73) scale(1.05,1)" text-anchor="end">2.0</text>
<line x1="217.4" y1="710.95" x2="221.4" y2="710.95" stroke="#2a2021" stroke-width="0.9"/>
<text transform="translate(213.8,714.95) scale(1.05,1)" text-anchor="end">2.5</text>
<line x1="239.22" y1="767.76" x2="239.22" y2="769.15" stroke="#3d3435" stroke-width="1.1"/>
<line x1="239.22" y1="783.7" x2="239.22" y2="791.43" stroke="#3d3435" stroke-width="1.1"/>
<line x1="234.57" y1="767.76" x2="243.88" y2="767.76" stroke="#2a2021" stroke-width="0.9"/>
<line x1="234.57" y1="791.43" x2="243.88" y2="791.43" stroke="#2a2021" stroke-width="0.9"/>
<rect x="229.92" y="769.15" width="18.6" height="14.55" fill="#c2b280" stroke="#2a2021" stroke-width="0.9"/>
<line x1="229.92" y1="777.54" x2="248.52" y2="777.54" stroke="#2a2021" stroke-width="1.1"/>
<circle cx="236.62" cy="727.05" r="2" fill="#c2b280" stroke="#2a2021" stroke-width="0.5"/>
<circle cx="236.42" cy="767.76" r="2" fill="#c2b280" stroke="#2a2021" stroke-width="0.5"/>
<circle cx="240.62" cy="773.75" r="2" fill="#c2b280" stroke="#2a2021" stroke-width="0.5"/>
<circle cx="239.32" cy="781.64" r="2" fill="#c2b280" stroke="#2a2021" stroke-width="0.5"/>
<circle cx="238.32" cy="784.48" r="2" fill="#c2b280" stroke="#2a2021" stroke-width="0.5"/>
<circle cx="241.62" cy="791.74" r="2" fill="#c2b280" stroke="#2a2021" stroke-width="0.5"/>
<line x1="263.43" y1="790.17" x2="263.43" y2="793.45" stroke="#3d3435" stroke-width="1.1"/>
<line x1="263.43" y1="795.85" x2="263.43" y2="797.42" stroke="#3d3435" stroke-width="1.1"/>
<line x1="258.78" y1="790.17" x2="268.07" y2="790.17" stroke="#2a2021" stroke-width="0.9"/>
<line x1="258.78" y1="797.42" x2="268.07" y2="797.42" stroke="#2a2021" stroke-width="0.9"/>
<rect x="254.12" y="793.45" width="18.6" height="2.4" fill="#604e97" stroke="#2a2021" stroke-width="0.9"/>
<line x1="254.12" y1="794.58" x2="272.73" y2="794.58" stroke="#2a2021" stroke-width="1.1"/>
<circle cx="263.93" cy="790.17" r="2" fill="#604e97" stroke="#2a2021" stroke-width="0.5"/>
<circle cx="262.93" cy="793.32" r="2" fill="#604e97" stroke="#2a2021" stroke-width="0.5"/>
<circle cx="264.93" cy="794.58" r="2" fill="#604e97" stroke="#2a2021" stroke-width="0.5"/>
<circle cx="261.43" cy="795.53" r="2" fill="#604e97" stroke="#2a2021" stroke-width="0.5"/>
<circle cx="264.23" cy="796.16" r="2" fill="#604e97" stroke="#2a2021" stroke-width="0.5"/>
<circle cx="265.93" cy="793.95" r="2" fill="#604e97" stroke="#2a2021" stroke-width="0.5"/>
<line x1="251.53" y1="803.2" x2="251.53" y2="806.7" stroke="#2a2021" stroke-width="0.9"/>
<text transform="translate(251.53,818.8) scale(1.05,1)" text-anchor="middle">IDO</text>
<line x1="299.47" y1="786.69" x2="299.47" y2="786.79" stroke="#3d3435" stroke-width="1.1"/>
<line x1="299.47" y1="788.78" x2="299.47" y2="788.9" stroke="#3d3435" stroke-width="1.1"/>
<line x1="294.82" y1="786.69" x2="304.12" y2="786.69" stroke="#2a2021" stroke-width="0.9"/>
<line x1="294.82" y1="788.9" x2="304.12" y2="788.9" stroke="#2a2021" stroke-width="0.9"/>
<rect x="290.17" y="786.79" width="18.6" height="1.99" fill="#c2b280" stroke="#2a2021" stroke-width="0.9"/>
<line x1="290.17" y1="787.86" x2="308.77" y2="787.86" stroke="#2a2021" stroke-width="1.1"/>
<circle cx="297.47" cy="767.44" r="2" fill="#c2b280" stroke="#2a2021" stroke-width="0.5"/>
<circle cx="296.97" cy="786.69" r="2" fill="#c2b280" stroke="#2a2021" stroke-width="0.5"/>
<circle cx="299.87" cy="787.96" r="2" fill="#c2b280" stroke="#2a2021" stroke-width="0.5"/>
<circle cx="296.07" cy="788.59" r="2" fill="#c2b280" stroke="#2a2021" stroke-width="0.5"/>
<circle cx="301.47" cy="791.43" r="2" fill="#c2b280" stroke="#2a2021" stroke-width="0.5"/>
<line x1="323.67" y1="790.8" x2="323.67" y2="791.74" stroke="#3d3435" stroke-width="1.1"/>
<line x1="323.67" y1="793.01" x2="323.67" y2="793.32" stroke="#3d3435" stroke-width="1.1"/>
<line x1="319.02" y1="790.8" x2="328.32" y2="790.8" stroke="#2a2021" stroke-width="0.9"/>
<line x1="319.02" y1="793.32" x2="328.32" y2="793.32" stroke="#2a2021" stroke-width="0.9"/>
<rect x="314.37" y="791.74" width="18.6" height="1.26" fill="#604e97" stroke="#2a2021" stroke-width="0.9"/>
<line x1="314.37" y1="792.37" x2="332.97" y2="792.37" stroke="#2a2021" stroke-width="1.1"/>
<circle cx="323.97" cy="789.85" r="2" fill="#604e97" stroke="#2a2021" stroke-width="0.5"/>
<circle cx="322.67" cy="792.06" r="2" fill="#604e97" stroke="#2a2021" stroke-width="0.5"/>
<circle cx="325.27" cy="792.06" r="2" fill="#604e97" stroke="#2a2021" stroke-width="0.5"/>
<circle cx="323.87" cy="792.69" r="2" fill="#604e97" stroke="#2a2021" stroke-width="0.5"/>
<line x1="311.77" y1="803.2" x2="311.77" y2="806.7" stroke="#2a2021" stroke-width="0.9"/>
<text transform="translate(311.77,818.8) scale(1.05,1)" text-anchor="middle">Lag3</text>
<line x1="359.72" y1="779.44" x2="359.72" y2="782.12" stroke="#3d3435" stroke-width="1.1"/>
<line x1="359.72" y1="790.48" x2="359.72" y2="795.22" stroke="#3d3435" stroke-width="1.1"/>
<line x1="355.07" y1="779.44" x2="364.37" y2="779.44" stroke="#2a2021" stroke-width="0.9"/>
<line x1="355.07" y1="795.22" x2="364.37" y2="795.22" stroke="#2a2021" stroke-width="0.9"/>
<rect x="350.42" y="782.12" width="18.6" height="8.36" fill="#c2b280" stroke="#2a2021" stroke-width="0.9"/>
<line x1="350.42" y1="789.85" x2="369.02" y2="789.85" stroke="#2a2021" stroke-width="1.1"/>
<circle cx="362.12" cy="779.44" r="2" fill="#c2b280" stroke="#2a2021" stroke-width="0.5"/>
<circle cx="358.82" cy="788.9" r="2" fill="#c2b280" stroke="#2a2021" stroke-width="0.5"/>
<circle cx="357.72" cy="790.8" r="2" fill="#c2b280" stroke="#2a2021" stroke-width="0.5"/>
<circle cx="358.42" cy="795.22" r="2" fill="#c2b280" stroke="#2a2021" stroke-width="0.5"/>
<line x1="383.92" y1="790.8" x2="383.92" y2="792.37" stroke="#3d3435" stroke-width="1.1"/>
<line x1="383.92" y1="794.58" x2="383.92" y2="795.22" stroke="#3d3435" stroke-width="1.1"/>
<line x1="379.27" y1="790.8" x2="388.57" y2="790.8" stroke="#2a2021" stroke-width="0.9"/>
<line x1="379.27" y1="795.22" x2="388.57" y2="795.22" stroke="#2a2021" stroke-width="0.9"/>
<rect x="374.62" y="792.37" width="18.6" height="2.21" fill="#604e97" stroke="#2a2021" stroke-width="0.9"/>
<line x1="374.62" y1="793.32" x2="393.22" y2="793.32" stroke="#2a2021" stroke-width="1.1"/>
<circle cx="385.42" cy="790.8" r="2" fill="#604e97" stroke="#2a2021" stroke-width="0.5"/>
<circle cx="383.42" cy="792.69" r="2" fill="#604e97" stroke="#2a2021" stroke-width="0.5"/>
<circle cx="382.12" cy="794.58" r="2" fill="#604e97" stroke="#2a2021" stroke-width="0.5"/>
<circle cx="384.72" cy="793.64" r="2" fill="#604e97" stroke="#2a2021" stroke-width="0.5"/>
<line x1="372.02" y1="803.2" x2="372.02" y2="806.7" stroke="#2a2021" stroke-width="0.9"/>
<text transform="translate(372.02,818.8) scale(1.05,1)" text-anchor="middle">PD1</text>
<line x1="419.97" y1="727.36" x2="419.97" y2="748.35" stroke="#3d3435" stroke-width="1.1"/>
<line x1="419.97" y1="777.45" x2="419.97" y2="797.42" stroke="#3d3435" stroke-width="1.1"/>
<line x1="415.32" y1="727.36" x2="424.62" y2="727.36" stroke="#2a2021" stroke-width="0.9"/>
<line x1="415.32" y1="797.42" x2="424.62" y2="797.42" stroke="#2a2021" stroke-width="0.9"/>
<rect x="410.67" y="748.35" width="18.6" height="29.1" fill="#c2b280" stroke="#2a2021" stroke-width="0.9"/>
<line x1="410.67" y1="760.5" x2="429.27" y2="760.5" stroke="#2a2021" stroke-width="1.1"/>
<circle cx="419.17" cy="727.36" r="2" fill="#c2b280" stroke="#2a2021" stroke-width="0.5"/>
<circle cx="417.77" cy="745.03" r="2" fill="#c2b280" stroke="#2a2021" stroke-width="0.5"/>
<circle cx="418.87" cy="758.76" r="2" fill="#c2b280" stroke="#2a2021" stroke-width="0.5"/>
<circle cx="421.57" cy="762.08" r="2" fill="#c2b280" stroke="#2a2021" stroke-width="0.5"/>
<circle cx="417.77" cy="783.06" r="2" fill="#c2b280" stroke="#2a2021" stroke-width="0.5"/>
<circle cx="417.77" cy="797.42" r="2" fill="#c2b280" stroke="#2a2021" stroke-width="0.5"/>
<line x1="444.17" y1="776.09" x2="444.17" y2="788.11" stroke="#3d3435" stroke-width="1.1"/>
<line x1="444.17" y1="799.85" x2="444.17" y2="799.95" stroke="#3d3435" stroke-width="1.1"/>
<line x1="439.52" y1="776.09" x2="448.82" y2="776.09" stroke="#2a2021" stroke-width="0.9"/>
<line x1="439.52" y1="799.95" x2="448.82" y2="799.95" stroke="#2a2021" stroke-width="0.9"/>
<rect x="434.87" y="788.11" width="18.6" height="11.74" fill="#604e97" stroke="#2a2021" stroke-width="0.9"/>
<line x1="434.87" y1="794.39" x2="453.47" y2="794.39" stroke="#2a2021" stroke-width="1.1"/>
<circle cx="441.47" cy="776.09" r="2" fill="#604e97" stroke="#2a2021" stroke-width="0.5"/>
<circle cx="443.47" cy="779.75" r="2" fill="#604e97" stroke="#2a2021" stroke-width="0.5"/>
<circle cx="444.07" cy="788.27" r="2" fill="#604e97" stroke="#2a2021" stroke-width="0.5"/>
<circle cx="445.47" cy="791.74" r="2" fill="#604e97" stroke="#2a2021" stroke-width="0.5"/>
<circle cx="443.47" cy="795.53" r="2" fill="#604e97" stroke="#2a2021" stroke-width="0.5"/>
<circle cx="445.07" cy="798.06" r="2" fill="#604e97" stroke="#2a2021" stroke-width="0.5"/>
<circle cx="442.17" cy="799.95" r="2" fill="#604e97" stroke="#2a2021" stroke-width="0.5"/>
<line x1="432.27" y1="803.2" x2="432.27" y2="806.7" stroke="#2a2021" stroke-width="0.9"/>
<text transform="translate(432.27,818.8) scale(1.05,1)" text-anchor="middle">PD-L1</text>
<text transform="translate(252.7,716.7) scale(1.03,1)" text-anchor="middle"><tspan font-style="italic">p</tspan> = 0.0005</text>
<line x1="239.5" y1="721.9" x2="263.5" y2="721.9" stroke="#6a5a5a" stroke-width="0.9"/>
<text transform="translate(312.9,754.7) scale(1.03,1)" text-anchor="middle"><tspan font-style="italic">p</tspan> = 0.002</text>
<line x1="299.7" y1="759.9" x2="323.7" y2="759.9" stroke="#6a5a5a" stroke-width="0.9"/>
<text transform="translate(372.3,767.8) scale(1.03,1)" text-anchor="middle"><tspan font-style="italic">p</tspan> = 0.022</text>
<line x1="360" y1="773" x2="384" y2="773" stroke="#6a5a5a" stroke-width="0.9"/>
<text transform="translate(432.7,716.7) scale(1.03,1)" text-anchor="middle"><tspan font-style="italic">p</tspan> = 0.016</text>
<line x1="420.4" y1="721.9" x2="444.4" y2="721.9" stroke="#6a5a5a" stroke-width="0.9"/>
<rect x="221.4" y="705.1" width="241" height="98.1" fill="none" stroke="#2a2021" stroke-width="0.9"/>
<text transform="translate(576,560.5) scale(1.05,1)" text-anchor="middle">Antigen presentation</text>
<text transform="translate(484,616) rotate(-90) scale(1.05,1)" text-anchor="middle">Average expression</text>
<line x1="511.5" y1="651.1" x2="515.5" y2="651.1" stroke="#2a2021" stroke-width="0.9"/>
<text transform="translate(508.3,655.1) scale(1.05,1)" text-anchor="end">-0.5</text>
<line x1="511.5" y1="636.7" x2="515.5" y2="636.7" stroke="#2a2021" stroke-width="0.9"/>
<text transform="translate(508.3,640.7) scale(1.05,1)" text-anchor="end">0.0</text>
<line x1="511.5" y1="622.3" x2="515.5" y2="622.3" stroke="#2a2021" stroke-width="0.9"/>
<text transform="translate(508.3,626.3) scale(1.05,1)" text-anchor="end">0.5</text>
<line x1="511.5" y1="607.9" x2="515.5" y2="607.9" stroke="#2a2021" stroke-width="0.9"/>
<text transform="translate(508.3,611.9) scale(1.05,1)" text-anchor="end">1.0</text>
<line x1="511.5" y1="593.5" x2="515.5" y2="593.5" stroke="#2a2021" stroke-width="0.9"/>
<text transform="translate(508.3,597.5) scale(1.05,1)" text-anchor="end">1.5</text>
<line x1="511.5" y1="579.1" x2="515.5" y2="579.1" stroke="#2a2021" stroke-width="0.9"/>
<text transform="translate(508.3,583.1) scale(1.05,1)" text-anchor="end">2.0</text>
<line x1="533.83" y1="598.4" x2="533.83" y2="598.51" stroke="#3d3435" stroke-width="1.1"/>
<line x1="533.83" y1="612.88" x2="533.83" y2="617.98" stroke="#3d3435" stroke-width="1.1"/>
<line x1="529.18" y1="598.4" x2="538.48" y2="598.4" stroke="#2a2021" stroke-width="0.9"/>
<line x1="529.18" y1="617.98" x2="538.48" y2="617.98" stroke="#2a2021" stroke-width="0.9"/>
<rect x="524.53" y="598.51" width="18.6" height="14.37" fill="#c2b280" stroke="#2a2021" stroke-width="0.9"/>
<line x1="524.53" y1="602.14" x2="543.13" y2="602.14" stroke="#2a2021" stroke-width="1.1"/>
<circle cx="532.12" cy="598.4" r="2" fill="#c2b280" stroke="#2a2021" stroke-width="0.5"/>
<circle cx="533.83" cy="600.7" r="2" fill="#c2b280" stroke="#2a2021" stroke-width="0.5"/>
<circle cx="533.43" cy="603.44" r="2" fill="#c2b280" stroke="#2a2021" stroke-width="0.5"/>
<circle cx="535.62" cy="616.25" r="2" fill="#c2b280" stroke="#2a2021" stroke-width="0.5"/>
<circle cx="535.23" cy="618.27" r="2" fill="#c2b280" stroke="#2a2021" stroke-width="0.5"/>
<line x1="558.02" y1="610.2" x2="558.02" y2="622.88" stroke="#3d3435" stroke-width="1.1"/>
<line x1="558.02" y1="640.7" x2="558.02" y2="661.61" stroke="#3d3435" stroke-width="1.1"/>
<line x1="553.38" y1="610.2" x2="562.67" y2="610.2" stroke="#2a2021" stroke-width="0.9"/>
<line x1="553.38" y1="661.61" x2="562.67" y2="661.61" stroke="#2a2021" stroke-width="0.9"/>
<rect x="548.73" y="622.88" width="18.6" height="17.83" fill="#604e97" stroke="#2a2021" stroke-width="0.9"/>
<line x1="548.73" y1="632.15" x2="567.33" y2="632.15" stroke="#2a2021" stroke-width="1.1"/>
<circle cx="557.62" cy="610.2" r="2" fill="#604e97" stroke="#2a2021" stroke-width="0.5"/>
<circle cx="556.73" cy="618.27" r="2" fill="#604e97" stroke="#2a2021" stroke-width="0.5"/>
<circle cx="558.12" cy="620.72" r="2" fill="#604e97" stroke="#2a2021" stroke-width="0.5"/>
<circle cx="559.02" cy="629.21" r="2" fill="#604e97" stroke="#2a2021" stroke-width="0.5"/>
<circle cx="556.73" cy="630.36" r="2" fill="#604e97" stroke="#2a2021" stroke-width="0.5"/>
<circle cx="560.82" cy="634.68" r="2" fill="#604e97" stroke="#2a2021" stroke-width="0.5"/>
<circle cx="557.02" cy="638.86" r="2" fill="#604e97" stroke="#2a2021" stroke-width="0.5"/>
<circle cx="555.73" cy="641.02" r="2" fill="#604e97" stroke="#2a2021" stroke-width="0.5"/>
<circle cx="560.62" cy="644.91" r="2" fill="#604e97" stroke="#2a2021" stroke-width="0.5"/>
<circle cx="560.62" cy="661.61" r="2" fill="#604e97" stroke="#2a2021" stroke-width="0.5"/>
<line x1="545.73" y1="665.2" x2="545.73" y2="668.7" stroke="#2a2021" stroke-width="0.9"/>
<text transform="translate(545.73,681) scale(1.05,1)" text-anchor="middle">HLA1</text>
<line x1="594.27" y1="588.89" x2="594.27" y2="595.8" stroke="#3d3435" stroke-width="1.1"/>
<line x1="594.27" y1="609.25" x2="594.27" y2="618.56" stroke="#3d3435" stroke-width="1.1"/>
<line x1="589.62" y1="588.89" x2="598.92" y2="588.89" stroke="#2a2021" stroke-width="0.9"/>
<line x1="589.62" y1="618.56" x2="598.92" y2="618.56" stroke="#2a2021" stroke-width="0.9"/>
<rect x="584.98" y="595.8" width="18.6" height="13.45" fill="#c2b280" stroke="#2a2021" stroke-width="0.9"/>
<line x1="584.98" y1="604.73" x2="603.58" y2="604.73" stroke="#2a2021" stroke-width="1.1"/>
<circle cx="595.07" cy="588.89" r="2" fill="#c2b280" stroke="#2a2021" stroke-width="0.5"/>
<circle cx="593.98" cy="593.5" r="2" fill="#c2b280" stroke="#2a2021" stroke-width="0.5"/>
<circle cx="593.27" cy="604.73" r="2" fill="#c2b280" stroke="#2a2021" stroke-width="0.5"/>
<circle cx="593.67" cy="610.35" r="2" fill="#c2b280" stroke="#2a2021" stroke-width="0.5"/>
<circle cx="595.07" cy="618.56" r="2" fill="#c2b280" stroke="#2a2021" stroke-width="0.5"/>
<line x1="618.47" y1="604.44" x2="618.47" y2="616.71" stroke="#3d3435" stroke-width="1.1"/>
<line x1="618.47" y1="633.82" x2="618.47" y2="656.14" stroke="#3d3435" stroke-width="1.1"/>
<line x1="613.82" y1="604.44" x2="623.12" y2="604.44" stroke="#2a2021" stroke-width="0.9"/>
<line x1="613.82" y1="656.14" x2="623.12" y2="656.14" stroke="#2a2021" stroke-width="0.9"/>
<rect x="609.17" y="616.71" width="18.6" height="17.11" fill="#604e97" stroke="#2a2021" stroke-width="0.9"/>
<line x1="609.17" y1="619.79" x2="627.77" y2="619.79" stroke="#2a2021" stroke-width="1.1"/>
<circle cx="617.57" cy="604.44" r="2" fill="#604e97" stroke="#2a2021" stroke-width="0.5"/>
<circle cx="620.27" cy="606.46" r="2" fill="#604e97" stroke="#2a2021" stroke-width="0.5"/>
<circle cx="616.67" cy="617.4" r="2" fill="#604e97" stroke="#2a2021" stroke-width="0.5"/>
<circle cx="619.77" cy="617.98" r="2" fill="#604e97" stroke="#2a2021" stroke-width="0.5"/>
<circle cx="619.17" cy="622.16" r="2" fill="#604e97" stroke="#2a2021" stroke-width="0.5"/>
<circle cx="617.97" cy="628.49" r="2" fill="#604e97" stroke="#2a2021" stroke-width="0.5"/>
<circle cx="616.67" cy="635.26" r="2" fill="#604e97" stroke="#2a2021" stroke-width="0.5"/>
<circle cx="619.77" cy="644.91" r="2" fill="#604e97" stroke="#2a2021" stroke-width="0.5"/>
<circle cx="620.27" cy="656.14" r="2" fill="#604e97" stroke="#2a2021" stroke-width="0.5"/>
<line x1="606.17" y1="665.2" x2="606.17" y2="668.7" stroke="#2a2021" stroke-width="0.9"/>
<text transform="translate(606.17,681) scale(1.05,1)" text-anchor="middle">HLA-DR</text>
<text transform="translate(546.4,587.2) scale(1.03,1)" text-anchor="middle"><tspan font-style="italic">p</tspan> = 0.001</text>
<line x1="534.1" y1="592.1" x2="558.2" y2="592.1" stroke="#6a5a5a" stroke-width="0.9"/>
<text transform="translate(607.2,578.3) scale(1.03,1)" text-anchor="middle"><tspan font-style="italic">p</tspan> = 0.022</text>
<line x1="594.9" y1="583.2" x2="619" y2="583.2" stroke="#6a5a5a" stroke-width="0.9"/>
<rect x="515.5" y="566.4" width="120.9" height="98.8" fill="none" stroke="#2a2021" stroke-width="0.9"/>
<rect x="482.2" y="725.4" width="11.4" height="11.2" fill="#c2b280" stroke="#2a2021" stroke-width="0.9"/>
<rect x="482.2" y="743.3" width="11.4" height="11.2" fill="#604e97" stroke="#2a2021" stroke-width="0.9"/>
<text transform="translate(498.6,734.9) scale(1.05,1)">6</text>
<text transform="translate(498.6,752.8) scale(1.05,1)">12</text>
</g>
<g id="pe">
<text transform="translate(647.8,554.5)" font-size="14" font-weight="bold">e</text>
<line x1="694.6" y1="795.4" x2="698.6" y2="795.4" stroke="#2a2021" stroke-width="0.9"/>
<text transform="translate(690.8,799.4) scale(1.05,1)" text-anchor="end">0.0</text>
<line x1="694.6" y1="770.65" x2="698.6" y2="770.65" stroke="#2a2021" stroke-width="0.9"/>
<text transform="translate(690.8,774.65) scale(1.05,1)" text-anchor="end">0.1</text>
<line x1="694.6" y1="745.9" x2="698.6" y2="745.9" stroke="#2a2021" stroke-width="0.9"/>
<text transform="translate(690.8,749.9) scale(1.05,1)" text-anchor="end">0.2</text>
<line x1="694.6" y1="721.15" x2="698.6" y2="721.15" stroke="#2a2021" stroke-width="0.9"/>
<text transform="translate(690.8,725.15) scale(1.05,1)" text-anchor="end">0.3</text>
<line x1="694.6" y1="696.4" x2="698.6" y2="696.4" stroke="#2a2021" stroke-width="0.9"/>
<text transform="translate(690.8,700.4) scale(1.05,1)" text-anchor="end">0.4</text>
<line x1="694.6" y1="671.65" x2="698.6" y2="671.65" stroke="#2a2021" stroke-width="0.9"/>
<text transform="translate(690.8,675.65) scale(1.05,1)" text-anchor="end">0.5</text>
<line x1="694.6" y1="646.9" x2="698.6" y2="646.9" stroke="#2a2021" stroke-width="0.9"/>
<text transform="translate(690.8,650.9) scale(1.05,1)" text-anchor="end">0.6</text>
<line x1="694.6" y1="622.15" x2="698.6" y2="622.15" stroke="#2a2021" stroke-width="0.9"/>
<text transform="translate(690.8,626.15) scale(1.05,1)" text-anchor="end">0.7</text>
<line x1="694.6" y1="597.4" x2="698.6" y2="597.4" stroke="#2a2021" stroke-width="0.9"/>
<text transform="translate(690.8,601.4) scale(1.05,1)" text-anchor="end">0.8</text>
<line x1="694.6" y1="572.65" x2="698.6" y2="572.65" stroke="#2a2021" stroke-width="0.9"/>
<text transform="translate(690.8,576.65) scale(1.05,1)" text-anchor="end">0.9</text>
<text transform="translate(664.3,684.8) rotate(-90) scale(1.05,1)" text-anchor="middle">Proportion</text>
<line x1="721.1" y1="613.24" x2="721.1" y2="648.88" stroke="#3d3435" stroke-width="1.1"/>
<line x1="721.1" y1="690.95" x2="721.1" y2="704.57" stroke="#3d3435" stroke-width="1.1"/>
<line x1="712.5" y1="613.24" x2="729.7" y2="613.24" stroke="#2a2021" stroke-width="0.9"/>
<line x1="712.5" y1="704.57" x2="729.7" y2="704.57" stroke="#2a2021" stroke-width="0.9"/>
<rect x="703.9" y="648.88" width="34.4" height="42.07" fill="#c2b280" stroke="#2a2021" stroke-width="0.9"/>
<line x1="703.9" y1="658.28" x2="738.3" y2="658.28" stroke="#2a2021" stroke-width="1.1"/>
<circle cx="725.9" cy="613.24" r="2.7" fill="#c2b280" stroke="#2a2021" stroke-width="0.5"/>
<circle cx="716.9" cy="647.39" r="2.7" fill="#c2b280" stroke="#2a2021" stroke-width="0.5"/>
<circle cx="720.6" cy="654.33" r="2.7" fill="#c2b280" stroke="#2a2021" stroke-width="0.5"/>
<circle cx="725.1" cy="662.74" r="2.7" fill="#c2b280" stroke="#2a2021" stroke-width="0.5"/>
<circle cx="716.5" cy="700.86" r="2.7" fill="#c2b280" stroke="#2a2021" stroke-width="0.5"/>
<circle cx="720" cy="704.81" r="2.7" fill="#c2b280" stroke="#2a2021" stroke-width="0.5"/>
<line x1="765" y1="637" x2="765" y2="670.16" stroke="#3d3435" stroke-width="1.1"/>
<line x1="765" y1="703.82" x2="765" y2="751.59" stroke="#3d3435" stroke-width="1.1"/>
<line x1="756.4" y1="637" x2="773.6" y2="637" stroke="#2a2021" stroke-width="0.9"/>
<line x1="756.4" y1="751.59" x2="773.6" y2="751.59" stroke="#2a2021" stroke-width="0.9"/>
<rect x="747.8" y="670.16" width="34.4" height="33.66" fill="#604e97" stroke="#2a2021" stroke-width="0.9"/>
<line x1="747.8" y1="684.52" x2="782.2" y2="684.52" stroke="#2a2021" stroke-width="1.1"/>
<circle cx="766" cy="637" r="2.7" fill="#604e97" stroke="#2a2021" stroke-width="0.5"/>
<circle cx="761" cy="642.44" r="2.7" fill="#604e97" stroke="#2a2021" stroke-width="0.5"/>
<circle cx="765.1" cy="669.92" r="2.7" fill="#604e97" stroke="#2a2021" stroke-width="0.5"/>
<circle cx="763.7" cy="671.65" r="2.7" fill="#604e97" stroke="#2a2021" stroke-width="0.5"/>
<circle cx="761" cy="678.33" r="2.7" fill="#604e97" stroke="#2a2021" stroke-width="0.5"/>
<circle cx="761.8" cy="690.21" r="2.7" fill="#604e97" stroke="#2a2021" stroke-width="0.5"/>
<circle cx="764.7" cy="696.4" r="2.7" fill="#604e97" stroke="#2a2021" stroke-width="0.5"/>
<circle cx="767.6" cy="706.3" r="2.7" fill="#604e97" stroke="#2a2021" stroke-width="0.5"/>
<circle cx="762.8" cy="732.29" r="2.7" fill="#604e97" stroke="#2a2021" stroke-width="0.5"/>
<circle cx="764.5" cy="751.59" r="2.7" fill="#604e97" stroke="#2a2021" stroke-width="0.5"/>
<line x1="743.2" y1="803.8" x2="743.2" y2="807.3" stroke="#2a2021" stroke-width="0.9"/>
<text transform="translate(743.2,818.6) scale(1.05,1)" text-anchor="middle">Macrophages</text>
<line x1="812.4" y1="684.52" x2="812.4" y2="701.6" stroke="#3d3435" stroke-width="1.1"/>
<line x1="812.4" y1="716.94" x2="812.4" y2="717.93" stroke="#3d3435" stroke-width="1.1"/>
<line x1="803.8" y1="684.52" x2="821" y2="684.52" stroke="#2a2021" stroke-width="0.9"/>
<line x1="803.8" y1="717.93" x2="821" y2="717.93" stroke="#2a2021" stroke-width="0.9"/>
<rect x="795.2" y="701.6" width="34.4" height="15.35" fill="#c2b280" stroke="#2a2021" stroke-width="0.9"/>
<line x1="795.2" y1="709.27" x2="829.6" y2="709.27" stroke="#2a2021" stroke-width="1.1"/>
<circle cx="816.3" cy="684.52" r="2.7" fill="#c2b280" stroke="#2a2021" stroke-width="0.5"/>
<circle cx="815" cy="700.36" r="2.7" fill="#c2b280" stroke="#2a2021" stroke-width="0.5"/>
<circle cx="813.2" cy="704.81" r="2.7" fill="#c2b280" stroke="#2a2021" stroke-width="0.5"/>
<circle cx="816.3" cy="713.73" r="2.7" fill="#c2b280" stroke="#2a2021" stroke-width="0.5"/>
<circle cx="812.1" cy="718.18" r="2.7" fill="#c2b280" stroke="#2a2021" stroke-width="0.5"/>
<circle cx="811.7" cy="745.9" r="2.7" fill="#c2b280" stroke="#2a2021" stroke-width="0.5"/>
<line x1="856.3" y1="726.84" x2="856.3" y2="743.42" stroke="#3d3435" stroke-width="1.1"/>
<line x1="856.3" y1="758.27" x2="856.3" y2="763.97" stroke="#3d3435" stroke-width="1.1"/>
<line x1="847.7" y1="726.84" x2="864.9" y2="726.84" stroke="#2a2021" stroke-width="0.9"/>
<line x1="847.7" y1="763.97" x2="864.9" y2="763.97" stroke="#2a2021" stroke-width="0.9"/>
<rect x="839.1" y="743.42" width="34.4" height="14.85" fill="#604e97" stroke="#2a2021" stroke-width="0.9"/>
<line x1="839.1" y1="752.09" x2="873.5" y2="752.09" stroke="#2a2021" stroke-width="1.1"/>
<circle cx="854.2" cy="718.67" r="2.7" fill="#604e97" stroke="#2a2021" stroke-width="0.5"/>
<circle cx="856.4" cy="726.84" r="2.7" fill="#604e97" stroke="#2a2021" stroke-width="0.5"/>
<circle cx="855.3" cy="745.9" r="2.7" fill="#604e97" stroke="#2a2021" stroke-width="0.5"/>
<circle cx="857.8" cy="750.85" r="2.7" fill="#604e97" stroke="#2a2021" stroke-width="0.5"/>
<circle cx="856.6" cy="755.8" r="2.7" fill="#604e97" stroke="#2a2021" stroke-width="0.5"/>
<circle cx="855.5" cy="763.97" r="2.7" fill="#604e97" stroke="#2a2021" stroke-width="0.5"/>
<line x1="834.5" y1="803.8" x2="834.5" y2="807.3" stroke="#2a2021" stroke-width="0.9"/>
<text transform="translate(834.5,818.6) scale(1.05,1)" text-anchor="middle">Immune cells</text>
<line x1="903.9" y1="721.15" x2="903.9" y2="755.3" stroke="#3d3435" stroke-width="1.1"/>
<line x1="903.9" y1="781.79" x2="903.9" y2="794.9" stroke="#3d3435" stroke-width="1.1"/>
<line x1="895.3" y1="721.15" x2="912.5" y2="721.15" stroke="#2a2021" stroke-width="0.9"/>
<line x1="895.3" y1="794.9" x2="912.5" y2="794.9" stroke="#2a2021" stroke-width="0.9"/>
<rect x="886.7" y="755.3" width="34.4" height="26.48" fill="#c2b280" stroke="#2a2021" stroke-width="0.9"/>
<line x1="886.7" y1="773.62" x2="921.1" y2="773.62" stroke="#2a2021" stroke-width="1.1"/>
<circle cx="903.9" cy="721.15" r="2.7" fill="#c2b280" stroke="#2a2021" stroke-width="0.5"/>
<circle cx="907.9" cy="751.35" r="2.7" fill="#c2b280" stroke="#2a2021" stroke-width="0.5"/>
<circle cx="903.7" cy="765.7" r="2.7" fill="#c2b280" stroke="#2a2021" stroke-width="0.5"/>
<circle cx="902.2" cy="779.31" r="2.7" fill="#c2b280" stroke="#2a2021" stroke-width="0.5"/>
<circle cx="907.7" cy="776.84" r="2.7" fill="#c2b280" stroke="#2a2021" stroke-width="0.5"/>
<circle cx="906.9" cy="794.9" r="2.7" fill="#c2b280" stroke="#2a2021" stroke-width="0.5"/>
<line x1="947.8" y1="641.95" x2="947.8" y2="692.44" stroke="#3d3435" stroke-width="1.1"/>
<line x1="947.8" y1="743.92" x2="947.8" y2="773.87" stroke="#3d3435" stroke-width="1.1"/>
<line x1="939.2" y1="641.95" x2="956.4" y2="641.95" stroke="#2a2021" stroke-width="0.9"/>
<line x1="939.2" y1="773.87" x2="956.4" y2="773.87" stroke="#2a2021" stroke-width="0.9"/>
<rect x="930.6" y="692.44" width="34.4" height="51.48" fill="#604e97" stroke="#2a2021" stroke-width="0.9"/>
<line x1="930.6" y1="711.99" x2="965" y2="711.99" stroke="#2a2021" stroke-width="1.1"/>
<circle cx="949.7" cy="641.95" r="2.7" fill="#604e97" stroke="#2a2021" stroke-width="0.5"/>
<circle cx="949" cy="688.23" r="2.7" fill="#604e97" stroke="#2a2021" stroke-width="0.5"/>
<circle cx="945.6" cy="691.45" r="2.7" fill="#604e97" stroke="#2a2021" stroke-width="0.5"/>
<circle cx="949" cy="695.9" r="2.7" fill="#604e97" stroke="#2a2021" stroke-width="0.5"/>
<circle cx="945.6" cy="702.09" r="2.7" fill="#604e97" stroke="#2a2021" stroke-width="0.5"/>
<circle cx="945.6" cy="722.63" r="2.7" fill="#604e97" stroke="#2a2021" stroke-width="0.5"/>
<circle cx="946.6" cy="762.24" r="2.7" fill="#604e97" stroke="#2a2021" stroke-width="0.5"/>
<circle cx="949" cy="773.87" r="2.7" fill="#604e97" stroke="#2a2021" stroke-width="0.5"/>
<line x1="926" y1="803.8" x2="926" y2="807.3" stroke="#2a2021" stroke-width="0.9"/>
<text transform="translate(926,818.6) scale(1.05,1)" text-anchor="middle">Tumor cells</text>
<text transform="translate(743.2,593.9) scale(1.03,1)" text-anchor="middle"><tspan font-style="italic">p</tspan> = 0.313</text>
<line x1="721.1" y1="600.7" x2="765" y2="600.7" stroke="#2a2021" stroke-width="0.9"/>
<text transform="translate(834.5,663.1) scale(1.03,1)" text-anchor="middle"><tspan font-style="italic">p</tspan> = 0.002</text>
<line x1="812.4" y1="669.9" x2="856.3" y2="669.9" stroke="#2a2021" stroke-width="0.9"/>
<text transform="translate(926,621) scale(1.03,1)" text-anchor="middle"><tspan font-style="italic">p</tspan> = 0.016</text>
<line x1="903.9" y1="627.8" x2="947.8" y2="627.8" stroke="#2a2021" stroke-width="0.9"/>
<rect x="698.6" y="566.4" width="271.4" height="237.4" fill="none" stroke="#2a2021" stroke-width="0.9"/>
<rect x="898.3" y="577.7" width="11" height="10.8" fill="#c2b280" stroke="#2a2021" stroke-width="0.9"/>
<rect x="931" y="577.7" width="11.2" height="10.8" fill="#604e97" stroke="#2a2021" stroke-width="0.9"/>
<text transform="translate(914.2,586.8) scale(1.05,1)">6</text>
<text transform="translate(947.4,586.8) scale(1.05,1)">12</text>
</g>
<g id="wm">
<defs><linearGradient id="wg" x1="0" y1="0" x2=".6" y2="1"><stop offset="0" stop-color="#35f2e4"/><stop offset=".6" stop-color="#4df08c"/><stop offset="1" stop-color="#a6f25a"/></linearGradient><linearGradient id="wb" x1="0" y1="0" x2="1" y2="0"><stop offset="0" stop-color="#444" stop-opacity=".08"/><stop offset=".45" stop-color="#444" stop-opacity=".85"/><stop offset=".6" stop-color="#444" stop-opacity=".85"/><stop offset="1" stop-color="#444" stop-opacity=".05"/></linearGradient></defs>
<rect x="835.5" y="730.9" width="38.7" height="39.2" rx="8" fill="url(#wg)" opacity=".82"/>
<text x="839.2" y="762.8" font-size="33.5" font-style="italic" fill="#1c1838" style="stroke:#1c1838;stroke-width:.9px" opacity=".9" textLength="29.5" lengthAdjust="spacingAndGlyphs">Ai</text>
<text x="878.5" y="765.5" font-size="38" font-weight="bold" fill="#555" style="stroke:#555;stroke-width:.7px" opacity=".85" font-family="'Liberation Sans','Noto Sans CJK SC',sans-serif" textLength="75" lengthAdjust="spacingAndGlyphs">导航</text>
<rect x="835" y="774.7" width="125" height="18.2" fill="url(#wb)"/>
<text x="897.6" y="788.3" font-size="13.5" fill="#fff" style="stroke:none" text-anchor="middle" letter-spacing="1.9" opacity=".95">aidh.net</text>
</g>
</svg>
</body></html>
